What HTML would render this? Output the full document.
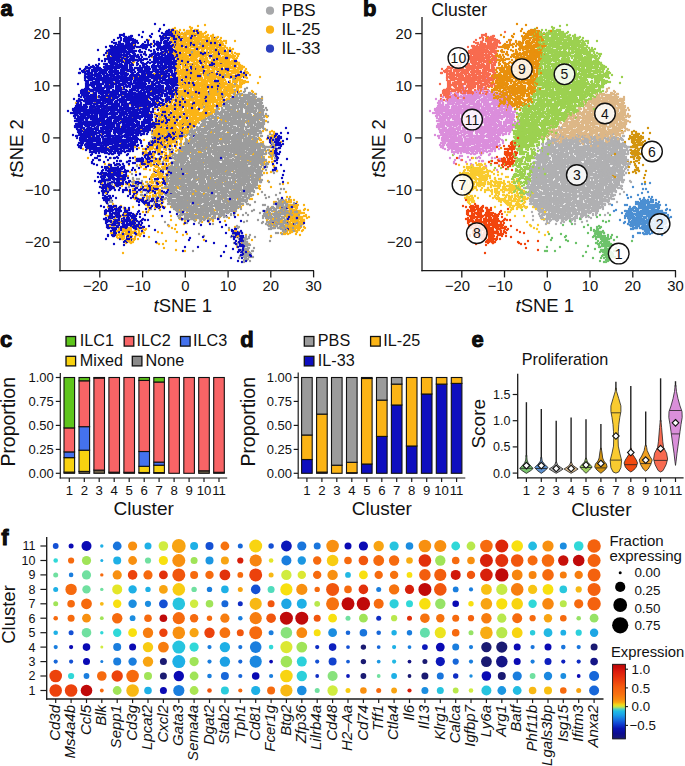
<!DOCTYPE html>
<html><head><meta charset="utf-8"><style>
html,body{margin:0;padding:0;background:#fff;}
svg{display:block;}
text{fill:#111;}
</style></head><body>
<svg width="685" height="766" viewBox="0 0 685 766" font-family="Liberation Sans, sans-serif">
<text x="0.4" y="15.6" font-size="22" text-anchor="start" font-weight="bold" stroke="#000" stroke-width="0.9">a</text>
<text x="363" y="15.6" font-size="22" text-anchor="start" font-weight="bold" stroke="#000" stroke-width="0.9">b</text>
<text x="0" y="346.6" font-size="22" text-anchor="start" font-weight="bold" stroke="#000" stroke-width="0.9">c</text>
<text x="240.2" y="346.6" font-size="22" text-anchor="start" font-weight="bold" stroke="#000" stroke-width="0.9">d</text>
<text x="471.6" y="346.6" font-size="22" text-anchor="start" font-weight="bold" stroke="#000" stroke-width="0.9">e</text>
<text x="1.2" y="545" font-size="22" text-anchor="start" font-weight="bold" stroke="#000" stroke-width="0.9">f</text>
<g fill="none" stroke-width="2.4" stroke-linecap="round"><path stroke="#fbb416" d="M191 29h0m-11 1h0m16 0h0m2 0h0m-3 1h0m-3 0h0m-15 0h0m-1 0h0m-2 0h0m0 1h0m2 0h0m3 0h0m22 0h0m-1 1h0m-8 0h0m-3 0h0m-4 0h0m-3 0h0m-4 0h0m-2 0h0m-1 0h0m-5 1h0m2 0h0m5 0h0m7 0h0m1 0h0m3 0h0m9 0h0m2 0h0m3 0h0m1 0h0m10 1h0m-20 0h0m-7 0h0m-6 0h0m-1 0h0m-1 0h0m-1 0h0m-3 0h0m-1 0h0m0 1h0m2 0h0m1 0h0m1 0h0m3 0h0m10 0h0m11 0h0m5 0h0m5 0h0m1 1h0m-5 0h0m-2 0h0m-5 0h0m-2 0h0m-3 0h0m-4 0h0m-5 0h0m-13 0h0m-2 0h0m-7 0h0m8 1h0m7 0h0m1 0h0m1 0h0m8 0h0m12 0h0m5 0h0m3 0h0m3 0h0m1 0h0m3 0h0m0 1h0m-1 0h0m-1 0h0m-13 0h0m-2 0h0m-2 0h0m-1 0h0m-2 0h0m-2 0h0m-1 0h0m-5 0h0m-8 0h0m-3 0h0m-3 0h0m-1 1h0m1 0h0m1 0h0m2 0h0m1 0h0m4 0h0m5 0h0m3 0h0m4 0h0m5 0h0m1 0h0m5 0h0m2 0h0m3 0h0m5 0h0m22 1h0m-14 0h0m-5 0h0m-2 0h0m-3 0h0m-2 0h0m-7 0h0m-3 0h0m-9 0h0m-1 0h0m-1 0h0m-3 0h0m-3 0h0m-2 0h0m-2 0h0m-6 1h0m3 0h0m2 0h0m1 0h0m3 0h0m3 0h0m7 0h0m2 0h0m1 0h0m3 0h0m18 0h0m2 0h0m4 1h0m-1 0h0m-3 0h0m-5 0h0m-1 0h0m-3 0h0m-4 0h0m-3 0h0m-4 0h0m-7 0h0m-5 0h0m-9 0h0m-24 1h0m22 0h0m1 0h0m2 0h0m10 0h0m9 0h0m3 0h0m5 0h0m3 0h0m1 0h0m3 0h0m1 0h0m8 0h0m3 1h0m-1 0h0m-2 0h0m-4 0h0m-3 0h0m-3 0h0m-9 0h0m-9 0h0m-4 0h0m-1 0h0m-3 0h0m-1 0h0m-1 0h0m-2 0h0m-5 1h0m2 0h0m5 0h0m2 0h0m3 0h0m3 0h0m1 0h0m2 0h0m2 0h0m7 0h0m2 0h0m1 0h0m1 0h0m5 0h0m4 0h0m1 0h0m9 0h0m0 1h0m-4 0h0m-1 0h0m-2 0h0m-4 0h0m-4 0h0m-9 0h0m-1 0h0m-2 0h0m-2 0h0m-5 0h0m-6 0h0m-6 0h0m-4 0h0m-7 0h0m8 1h0m2 0h0m4 0h0m5 0h0m1 0h0m10 0h0m4 0h0m2 0h0m4 0h0m9 0h0m3 0h0m3 0h0m1 0h0m9 1h0m-16 0h0m-1 0h0m-1 0h0m-2 0h0m-1 0h0m-4 0h0m-4 0h0m-2 0h0m-3 0h0m-3 0h0m-9 0h0m-3 0h0m-3 0h0m-2 0h0m-2 0h0m-11 1h0m8 0h0m2 0h0m2 0h0m1 0h0m3 0h0m4 0h0m1 0h0m1 0h0m6 0h0m4 0h0m13 0h0m5 0h0m1 0h0m2 0h0m2 0h0m3 0h0m4 0h0m3 0h0m-8 1h0m-12 0h0m-9 0h0m-10 0h0m-8 0h0m-4 0h0m-4 0h0m-1 0h0m-1 0h0m-60 1h0m20 0h0m41 0h0m12 0h0m3 0h0m2 0h0m4 0h0m1 0h0m1 0h0m3 0h0m3 0h0m6 0h0m3 0h0m2 0h0m5 0h0m2 0h0m4 0h0m6 1h0m-7 0h0m-3 0h0m-5 0h0m-1 0h0m-2 0h0m-5 0h0m-26 0h0m-4 0h0m-1 0h0m-1 0h0m-13 1h0m8 0h0m11 0h0m3 0h0m4 0h0m2 0h0m1 0h0m6 0h0m15 0h0m2 0h0m2 0h0m1 0h0m3 0h0m3 0h0m3 0h0m11 0h0m-6 1h0m-3 0h0m-13 0h0m-2 0h0m-2 0h0m-8 0h0m-3 0h0m-3 0h0m-3 0h0m-11 0h0m-3 0h0m-1 0h0m-6 0h0m-68 1h0m7 0h0m4 0h0m9 0h0m47 0h0m2 0h0m3 0h0m2 0h0m2 0h0m6 0h0m1 0h0m4 0h0m3 0h0m2 0h0m1 0h0m2 0h0m3 0h0m4 0h0m3 0h0m5 0h0m2 0h0m7 0h0m2 0h0m2 0h0m4 0h0m1 0h0m-2 1h0m-2 0h0m-4 0h0m-1 0h0m-8 0h0m-1 0h0m-2 0h0m-2 0h0m-7 0h0m-5 0h0m-4 0h0m-3 0h0m-2 0h0m-1 0h0m-5 0h0m-4 0h0m-1 0h0m-5 0h0m-1 0h0m-64 0h0m68 1h0m5 0h0m1 0h0m1 0h0m5 0h0m5 0h0m6 0h0m4 0h0m1 0h0m3 0h0m3 0h0m2 0h0m1 0h0m13 0h0m7 1h0m-2 0h0m-8 0h0m-2 0h0m-2 0h0m-15 0h0m-3 0h0m-3 0h0m-8 0h0m-3 0h0m-7 0h0m-5 0h0m-1 0h0m-49 1h0m49 0h0m3 0h0m3 0h0m1 0h0m2 0h0m5 0h0m1 0h0m5 0h0m6 0h0m1 0h0m8 0h0m8 0h0m2 0h0m1 0h0m1 0h0m3 0h0m8 1h0m-3 0h0m-3 0h0m-6 0h0m-3 0h0m-4 0h0m-3 0h0m-5 0h0m-3 0h0m-7 0h0m-1 0h0m-4 0h0m-6 0h0m-3 0h0m-3 0h0m-3 0h0m-1 0h0m-1 0h0m-1 0h0m-49 0h0m4 1h0m4 0h0m27 0h0m19 0h0m3 0h0m3 0h0m11 0h0m3 0h0m1 0h0m1 0h0m1 0h0m4 0h0m2 0h0m5 0h0m3 0h0m4 0h0m8 0h0m2 0h0m3 0h0m3 0h0m2 1h0m-3 0h0m-6 0h0m-4 0h0m-6 0h0m-15 0h0m-18 0h0m-1 0h0m-1 0h0m-9 0h0m-18 0h0m23 1h0m1 0h0m1 0h0m5 0h0m5 0h0m3 0h0m1 0h0m13 0h0m12 0h0m4 0h0m4 0h0m4 0h0m6 1h0m-1 0h0m-18 0h0m-3 0h0m-2 0h0m-22 0h0m-2 0h0m-2 0h0m-4 0h0m-9 0h0m-1 0h0m-50 1h0m52 0h0m19 0h0m2 0h0m3 0h0m2 0h0m1 0h0m12 0h0m1 0h0m3 0h0m5 0h0m1 0h0m3 0h0m4 0h0m7 0h0m3 1h0m-1 0h0m-3 0h0m-1 0h0m-3 0h0m-1 0h0m-3 0h0m-2 0h0m-3 0h0m-7 0h0m-6 0h0m-4 0h0m-4 0h0m-2 0h0m-1 0h0m-5 0h0m-2 0h0m-3 0h0m-2 0h0m-11 0h0m-2 0h0m-1 0h0m-41 1h0m42 0h0m8 0h0m2 0h0m8 0h0m6 0h0m5 0h0m2 0h0m3 0h0m13 0h0m1 0h0m1 0h0m2 0h0m3 0h0m2 0h0m6 0h0m2 0h0m4 1h0m-5 0h0m-1 0h0m-5 0h0m-1 0h0m-12 0h0m-2 0h0m-3 0h0m-8 0h0m-6 0h0m-5 0h0m-1 0h0m-31 0h0m11 1h0m1 0h0m7 0h0m4 0h0m2 0h0m2 0h0m5 0h0m2 0h0m1 0h0m7 0h0m9 0h0m7 0h0m4 0h0m10 0h0m7 1h0m-7 0h0m-3 0h0m-7 0h0m-2 0h0m-2 0h0m-1 0h0m-1 0h0m-8 0h0m-4 0h0m-4 0h0m-1 0h0m-2 0h0m-2 0h0m-4 0h0m-2 0h0m-2 0h0m-2 0h0m-1 0h0m-1 0h0m-2 0h0m-1 0h0m-4 0h0m-55 0h0m-21 0h0m-21 0h0m47 1h0m7 0h0m23 0h0m16 0h0m1 0h0m2 0h0m2 0h0m6 0h0m8 0h0m7 0h0m16 0h0m2 0h0m12 0h0m1 0h0m2 0h0m3 0h0m5 0h0m-10 1h0m-2 0h0m-1 0h0m-4 0h0m-1 0h0m-4 0h0m-1 0h0m-1 0h0m-4 0h0m-7 0h0m-2 0h0m-4 0h0m-1 0h0m-4 0h0m-5 0h0m-3 0h0m-5 0h0m-1 0h0m-2 0h0m-2 0h0m-71 1h0m44 0h0m2 0h0m19 0h0m2 0h0m1 0h0m3 0h0m2 0h0m1 0h0m4 0h0m1 0h0m2 0h0m4 0h0m2 0h0m1 0h0m2 0h0m1 0h0m10 0h0m2 0h0m1 0h0m5 0h0m10 0h0m1 0h0m1 0h0m7 0h0m4 0h0m2 0h0m2 0h0m-4 1h0m-2 0h0m-3 0h0m-11 0h0m-4 0h0m-8 0h0m-1 0h0m-6 0h0m-2 0h0m-1 0h0m-3 0h0m-4 0h0m-2 0h0m-1 0h0m-2 0h0m-2 0h0m-3 0h0m-37 0h0m32 1h0m2 0h0m3 0h0m3 0h0m10 0h0m1 0h0m9 0h0m1 0h0m4 0h0m1 0h0m3 0h0m11 0h0m3 0h0m5 0h0m6 0h0m2 1h0m-10 0h0m-2 0h0m-1 0h0m-1 0h0m-4 0h0m-2 0h0m-2 0h0m-1 0h0m-1 0h0m-4 0h0m-2 0h0m-3 0h0m-2 0h0m-1 0h0m-1 0h0m-1 0h0m-1 0h0m-1 0h0m-6 0h0m-5 0h0m-7 0h0m-2 0h0m-1 0h0m-5 0h0m-67 1h0m64 0h0m1 0h0m2 0h0m3 0h0m1 0h0m5 0h0m7 0h0m6 0h0m4 0h0m3 0h0m3 0h0m6 0h0m1 0h0m11 0h0m5 0h0m1 0h0m-3 1h0m-9 0h0m-3 0h0m-6 0h0m-5 0h0m-11 0h0m-4 0h0m-3 0h0m-2 0h0m-4 0h0m-16 0h0m-12 0h0m-16 0h0m-18 0h0m-1 1h0m62 0h0m2 0h0m6 0h0m1 0h0m7 0h0m1 0h0m2 0h0m4 0h0m7 0h0m6 0h0m4 0h0m11 0h0m9 1h0m-2 0h0m-6 0h0m-4 0h0m-15 0h0m-3 0h0m-3 0h0m-2 0h0m-2 0h0m-1 0h0m-1 0h0m-3 0h0m-5 0h0m-6 0h0m-5 0h0m-3 0h0m-73 0h0m41 1h0m31 0h0m6 0h0m4 0h0m4 0h0m5 0h0m1 0h0m4 0h0m3 0h0m1 0h0m2 0h0m2 0h0m3 0h0m5 0h0m3 0h0m7 0h0m2 0h0m2 0h0m3 0h0m8 0h0m-12 1h0m-6 0h0m-7 0h0m-6 0h0m-3 0h0m-2 0h0m-5 0h0m-4 0h0m-2 0h0m-4 0h0m-1 0h0m-5 0h0m-2 0h0m-3 0h0m-1 0h0m-70 0h0m64 1h0m3 0h0m1 0h0m2 0h0m8 0h0m6 0h0m2 0h0m10 0h0m1 0h0m1 0h0m1 0h0m2 0h0m3 0h0m5 0h0m12 0h0m6 0h0m-6 1h0m-1 0h0m-4 0h0m-3 0h0m-4 0h0m-1 0h0m-1 0h0m-2 0h0m-1 0h0m-2 0h0m-1 0h0m-3 0h0m-4 0h0m-5 0h0m-1 0h0m-2 0h0m-1 0h0m-2 0h0m-2 0h0m-4 0h0m-4 0h0m-1 0h0m-6 0h0m-1 0h0m-6 0h0m-2 0h0m-60 1h0m69 0h0m2 0h0m3 0h0m1 0h0m6 0h0m6 0h0m1 0h0m5 0h0m4 0h0m1 0h0m3 0h0m2 0h0m2 0h0m3 0h0m2 0h0m10 0h0m9 0h0m0 1h0m-1 0h0m-1 0h0m-7 0h0m-4 0h0m-1 0h0m-1 0h0m-3 0h0m-11 0h0m-2 0h0m-1 0h0m-3 0h0m-1 0h0m-1 0h0m-5 0h0m-5 0h0m-4 0h0m-2 0h0m-1 0h0m-5 0h0m-1 0h0m-36 0h0m33 1h0m3 0h0m14 0h0m3 0h0m7 0h0m1 0h0m7 0h0m2 0h0m2 0h0m5 0h0m3 0h0m2 0h0m3 0h0m1 0h0m1 0h0m5 0h0m1 1h0m-10 0h0m-1 0h0m-6 0h0m-1 0h0m-13 0h0m-1 0h0m-4 0h0m-1 0h0m-1 0h0m-1 0h0m-1 0h0m-1 0h0m-2 0h0m-1 0h0m-21 0h0m-6 0h0m-4 0h0m-55 1h0m57 0h0m6 0h0m2 0h0m5 0h0m8 0h0m2 0h0m13 0h0m1 0h0m3 0h0m1 0h0m9 0h0m1 0h0m2 0h0m3 0h0m12 0h0m5 0h0m3 1h0m-7 0h0m-14 0h0m-2 0h0m-4 0h0m-2 0h0m-8 0h0m-3 0h0m-3 0h0m-7 0h0m-6 0h0m-6 0h0m-56 1h0m56 0h0m1 0h0m2 0h0m7 0h0m3 0h0m1 0h0m1 0h0m4 0h0m6 0h0m2 0h0m1 0h0m3 0h0m5 0h0m3 0h0m2 0h0m6 0h0m4 0h0m2 0h0m3 0h0m3 1h0m-26 0h0m-3 0h0m-1 0h0m-6 0h0m-4 0h0m-1 0h0m-5 0h0m-5 0h0m-1 0h0m-1 0h0m-3 0h0m-24 0h0m-19 0h0m-46 1h0m19 0h0m49 0h0m17 0h0m1 0h0m1 0h0m3 0h0m2 0h0m2 0h0m5 0h0m2 0h0m2 0h0m4 0h0m4 0h0m1 0h0m12 0h0m11 0h0m7 0h0m3 0h0m-8 1h0m-2 0h0m-1 0h0m-5 0h0m-3 0h0m-1 0h0m-6 0h0m-2 0h0m-2 0h0m-1 0h0m-3 0h0m-3 0h0m-4 0h0m-1 0h0m-2 0h0m-1 0h0m-1 0h0m-2 0h0m-2 0h0m-1 0h0m-6 0h0m-6 0h0m-2 0h0m-14 0h0m-37 0h0m-11 0h0m-18 1h0m43 0h0m35 0h0m5 0h0m3 0h0m1 0h0m1 0h0m10 0h0m12 0h0m4 0h0m16 0h0m5 0h0m3 0h0m1 1h0m-9 0h0m-2 0h0m-1 0h0m-1 0h0m-1 0h0m-4 0h0m-1 0h0m-2 0h0m-10 0h0m-2 0h0m-8 0h0m-1 0h0m-2 0h0m-77 1h0m67 0h0m1 0h0m3 0h0m3 0h0m5 0h0m4 0h0m1 0h0m2 0h0m11 0h0m2 0h0m5 0h0m18 0h0m22 1h0m-28 0h0m-8 0h0m-7 0h0m-3 0h0m-2 0h0m-1 0h0m-3 0h0m-2 0h0m-5 0h0m-1 0h0m-13 0h0m-3 0h0m-5 1h0m5 0h0m5 0h0m2 0h0m2 0h0m2 0h0m1 0h0m2 0h0m3 0h0m5 0h0m3 0h0m2 0h0m3 0h0m2 0h0m1 0h0m1 0h0m1 0h0m4 0h0m7 0h0m13 1h0m-11 0h0m-11 0h0m-1 0h0m-7 0h0m-6 0h0m-2 0h0m-4 0h0m-8 0h0m-6 0h0m-5 0h0m-8 0h0m-62 0h0m29 1h0m20 0h0m14 0h0m6 0h0m1 0h0m1 0h0m4 0h0m3 0h0m3 0h0m5 0h0m1 0h0m4 0h0m1 0h0m4 0h0m1 0h0m6 0h0m2 0h0m1 0h0m1 0h0m2 0h0m4 0h0m2 0h0m-12 1h0m-5 0h0m-3 0h0m-1 0h0m-4 0h0m-8 0h0m-4 0h0m-6 0h0m-1 0h0m-2 0h0m-5 0h0m-1 0h0m-34 0h0m-60 0h0m95 1h0m3 0h0m6 0h0m3 0h0m1 0h0m1 0h0m2 0h0m3 0h0m1 0h0m3 0h0m1 0h0m1 0h0m1 0h0m1 0h0m7 0h0m2 0h0m6 0h0m5 0h0m1 0h0m-5 1h0m-6 0h0m-1 0h0m-4 0h0m-1 0h0m-4 0h0m-3 0h0m-3 0h0m-4 0h0m-1 0h0m-7 0h0m-3 0h0m-3 0h0m-8 0h0m-21 1h0m5 0h0m14 0h0m4 0h0m3 0h0m2 0h0m4 0h0m2 0h0m4 0h0m3 0h0m3 0h0m3 0h0m1 0h0m6 0h0m7 0h0m4 0h0m4 0h0m5 0h0m5 0h0m28 0h0m-44 1h0m-17 0h0m-1 0h0m-8 0h0m-1 0h0m-1 0h0m-1 0h0m-3 0h0m-8 0h0m-5 0h0m-4 1h0m3 0h0m2 0h0m3 0h0m1 0h0m5 0h0m8 0h0m5 0h0m4 0h0m2 0h0m3 0h0m13 0h0m1 0h0m8 0h0m39 1h0m-24 0h0m-13 0h0m-6 0h0m-8 0h0m-7 0h0m-4 0h0m-2 0h0m-2 0h0m-5 0h0m-3 0h0m-8 0h0m-2 0h0m-3 0h0m-5 0h0m-3 0h0m-14 1h0m20 0h0m6 0h0m5 0h0m7 0h0m2 0h0m3 0h0m66 1h0m-45 0h0m-5 0h0m-1 0h0m-7 0h0m-6 0h0m-1 0h0m-3 0h0m-15 0h0m-6 0h0m-2 0h0m-4 0h0m-71 0h0m39 1h0m33 0h0m4 0h0m1 0h0m1 0h0m1 0h0m4 0h0m5 0h0m3 0h0m1 0h0m4 0h0m1 0h0m5 0h0m1 0h0m2 0h0m2 0h0m1 0h0m5 0h0m2 0h0m9 0h0m19 0h0m-24 1h0m-5 0h0m-1 0h0m-2 0h0m-2 0h0m-1 0h0m-3 0h0m-2 0h0m-3 0h0m-1 0h0m-1 0h0m-1 0h0m-1 0h0m-3 0h0m-1 0h0m-4 0h0m-2 0h0m-1 0h0m-1 0h0m-9 0h0m-6 0h0m2 1h0m1 0h0m4 0h0m7 0h0m1 0h0m1 0h0m1 0h0m4 0h0m1 0h0m3 0h0m1 0h0m5 0h0m6 0h0m4 0h0m1 0h0m3 0h0m2 0h0m35 0h0m-6 1h0m-26 0h0m-4 0h0m-1 0h0m-9 0h0m-3 0h0m-6 0h0m-1 0h0m-4 0h0m-7 0h0m-2 0h0m-8 0h0m-4 0h0m-2 0h0m-25 1h0m28 0h0m2 0h0m2 0h0m4 0h0m4 0h0m4 0h0m2 0h0m7 0h0m1 0h0m1 0h0m12 0h0m1 0h0m1 0h0m3 0h0m2 0h0m1 0h0m3 0h0m43 0h0m-24 1h0m-27 0h0m-2 0h0m-19 0h0m-6 0h0m-14 0h0m-7 0h0m-22 0h0m-43 0h0m66 1h0m3 0h0m1 0h0m1 0h0m8 0h0m2 0h0m5 0h0m14 0h0m1 0h0m5 0h0m7 0h0m5 0h0m6 0h0m46 1h0m-16 0h0m-14 0h0m-26 0h0m-3 0h0m-9 0h0m-6 0h0m-1 0h0m-8 0h0m-5 0h0m-2 0h0m-6 0h0m-4 0h0m-4 0h0m-78 1h0m81 0h0m2 0h0m1 0h0m1 0h0m13 0h0m7 0h0m2 0h0m7 0h0m7 0h0m3 1h0m-6 0h0m-3 0h0m-1 0h0m-2 0h0m-2 0h0m-3 0h0m-5 0h0m-4 0h0m-1 0h0m-1 0h0m-2 0h0m-2 0h0m-4 0h0m-2 0h0m-2 0h0m-1 0h0m-1 0h0m-43 0h0m-8 0h0m47 1h0m1 0h0m2 0h0m3 0h0m2 0h0m1 0h0m5 0h0m1 0h0m1 0h0m5 0h0m6 0h0m2 0h0m2 0h0m9 0h0m2 0h0m37 0h0m9 0h0m2 0h0m-54 1h0m-1 0h0m-2 0h0m-2 0h0m-1 0h0m-8 0h0m-6 0h0m-3 0h0m-3 0h0m-2 0h0m-9 1h0m2 0h0m3 0h0m7 0h0m3 0h0m2 0h0m3 0h0m5 0h0m4 0h0m4 0h0m3 0h0m59 0h0m-1 1h0m-58 0h0m-2 0h0m-3 0h0m-7 0h0m-3 0h0m-1 0h0m-5 0h0m-1 0h0m-5 0h0m-4 0h0m-5 0h0m-1 0h0m-35 0h0m-5 1h0m42 0h0m4 0h0m6 0h0m3 0h0m1 0h0m1 0h0m8 0h0m10 0h0m6 0h0m9 0h0m35 0h0m-45 1h0m-4 0h0m-1 0h0m-8 0h0m-6 0h0m-1 0h0m-1 0h0m-5 0h0m-8 0h0m-3 0h0m-2 0h0m-35 0h0m-32 0h0m-6 1h0m72 0h0m2 0h0m1 0h0m1 0h0m11 0h0m2 0h0m1 0h0m2 0h0m1 0h0m1 0h0m10 0h0m2 0h0m4 0h0m73 1h0m-22 0h0m-58 0h0m-4 0h0m-1 0h0m-3 0h0m-6 0h0m-5 0h0m-1 0h0m-3 0h0m-1 0h0m-2 0h0m-49 1h0m38 0h0m16 0h0m3 0h0m1 0h0m1 0h0m3 0h0m3 0h0m7 0h0m6 0h0m4 0h0m74 0h0m6 1h0m-9 0h0m-73 0h0m-1 0h0m-1 0h0m-2 0h0m-2 0h0m-4 0h0m-3 0h0m-3 0h0m-1 0h0m-4 0h0m-6 0h0m-5 0h0m-5 0h0m-1 0h0m10 1h0m2 0h0m1 0h0m4 0h0m2 0h0m6 0h0m5 0h0m2 0h0m5 0h0m1 0h0m24 0h0m60 0h0m-25 1h0m-7 0h0m-57 0h0m-6 0h0m-5 0h0m-1 0h0m-2 0h0m-2 0h0m-1 0h0m-2 0h0m-1 0h0m-1 0h0m-4 0h0m-1 0h0m-2 0h0m-55 1h0m50 0h0m3 0h0m2 0h0m1 0h0m6 0h0m3 0h0m3 0h0m3 0h0m2 0h0m5 0h0m7 0h0m31 0h0m9 0h0m20 0h0m29 1h0m-22 0h0m-13 0h0m-40 0h0m-17 0h0m-1 0h0m-1 0h0m-2 0h0m-2 0h0m-3 0h0m-3 0h0m-4 0h0m-6 0h0m-1 0h0m-4 0h0m-2 0h0m-1 0h0m0 1h0m1 0h0m1 0h0m5 0h0m4 0h0m1 0h0m1 0h0m2 0h0m4 0h0m6 0h0m2 0h0m2 0h0m71 0h0m19 0h0m1 1h0m-4 0h0m-91 0h0m-6 0h0m-5 0h0m-1 0h0m-32 0h0m-25 0h0m26 1h0m21 0h0m1 0h0m1 0h0m3 0h0m1 0h0m3 0h0m1 0h0m2 0h0m1 0h0m1 0h0m2 0h0m7 0h0m66 0h0m6 0h0m7 0h0m14 0h0m0 1h0m-3 0h0m-3 0h0m-11 0h0m-9 0h0m-34 0h0m-31 0h0m-5 0h0m-7 0h0m-2 0h0m-3 0h0m-1 0h0m-1 0h0m-1 0h0m-1 0h0m-1 0h0m-5 0h0m-71 1h0m74 0h0m2 0h0m6 0h0m1 0h0m7 0h0m1 0h0m44 0h0m18 0h0m7 0h0m17 0h0m10 0h0m1 1h0m-2 0h0m-13 0h0m-10 0h0m-57 0h0m-15 0h0m-6 0h0m-3 0h0m-3 0h0m-8 0h0m-2 0h0m-32 1h0m29 0h0m1 0h0m4 0h0m1 0h0m6 0h0m1 0h0m2 0h0m4 0h0m4 0h0m1 0h0m3 0h0m15 0h0m5 0h0m60 0h0m24 0h0m-8 1h0m-12 0h0m-70 0h0m-14 0h0m-6 0h0m-1 0h0m-1 0h0m-1 0h0m-4 0h0m-2 0h0m-2 0h0m-1 0h0m-52 1h0m43 0h0m10 0h0m2 0h0m2 0h0m4 0h0m3 0h0m9 0h0m4 0h0m66 0h0m13 0h0m12 1h0m-88 0h0m-12 0h0m-9 0h0m-2 0h0m-1 0h0m-7 0h0m-50 1h0m9 0h0m13 0h0m25 0h0m5 0h0m2 0h0m1 0h0m4 0h0m1 0h0m3 0h0m1 0h0m1 0h0m83 0h0m20 1h0m-9 0h0m-99 0h0m-2 0h0m-6 0h0m-6 0h0m-2 0h0m-2 0h0m-23 0h0m-45 0h0m70 1h0m2 0h0m5 0h0m19 0h0m82 0h0m0 1h0m-89 0h0m-5 0h0m-9 0h0m-7 0h0m-3 0h0m-2 0h0m-24 0h0m-32 0h0m-4 0h0m63 1h0m10 0h0m2 0h0m112 1h0m-4 0h0m-3 0h0m-105 0h0m-12 1h0m18 0h0m75 0h0m34 0h0m1 0h0m-8 1h0m-49 0h0m-46 0h0m-5 0h0m-11 0h0m-5 0h0m-2 0h0m-3 1h0m1 0h0m3 0h0m2 0h0m9 0h0m10 0h0m2 0h0m8 0h0m56 0h0m30 0h0m10 1h0m-2 0h0m-2 0h0m-26 0h0m-36 0h0m-45 0h0m-16 0h0m-3 0h0m6 1h0m15 0h0m2 0h0m65 0h0m35 1h0m-5 0h0m-8 0h0m-73 0h0m-1 0h0m-14 0h0m-6 0h0m-74 1h0m62 0h0m3 0h0m1 0h0m1 0h0m6 0h0m7 0h0m4 0h0m100 0h0m-113 1h0m-9 0h0m6 1h0m1 0h0m7 0h0m2 0h0m2 0h0m8 0h0m9 0h0m10 0h0m30 0h0m23 0h0m-80 1h0m-14 0h0m-4 0h0m-9 1h0m6 0h0m4 0h0m118 0h0m3 0h0m-91 1h0m-10 0h0m-17 0h0m-9 0h0m-1 0h0m-2 0h0m-37 1h0m4 0h0m40 0h0m2 0h0m7 0h0m1 0h0m10 0h0m3 0h0m89 0h0m-95 1h0m-12 0h0m-3 0h0m-8 0h0m-6 0h0m-8 0h0m26 1h0m3 0h0m13 0h0m27 0h0m43 0h0m33 0h0m-10 1h0m-85 0h0m-9 0h0m-29 0h0m25 1h0m11 0h0m43 0h0m30 0h0m13 1h0m-97 0h0m-6 0h0m-14 0h0m-37 1h0m11 0h0m48 0h0m3 0h0m56 0h0m46 1h0m-40 0h0m-64 0h0m-15 0h0m-24 1h0m38 0h0m2 0h0m101 0h0m-108 1h0m-3 0h0m-1 0h0m-1 0h0m-4 1h0m13 0h0m5 0h0m15 0h0m16 0h0m8 0h0m-52 1h0m-5 0h0m-43 1h0m17 0h0m28 0h0m6 0h0m6 0h0m14 0h0m69 0h0m1 1h0m-4 0h0m-31 0h0m-39 0h0m-14 0h0m-5 0h0m-8 0h0m-5 0h0m12 1h0m1 0h0m2 0h0m3 0h0m8 0h0m2 0h0m69 1h0m-3 0h0m-72 0h0m-2 0h0m-14 1h0m5 0h0m77 0h0m18 0h0m6 0h0m-1 1h0m-40 0h0m-49 0h0m-11 0h0m-18 1h0m14 0h0m6 0h0m3 0h0m25 0h0m29 0h0m3 0h0m7 0h0m9 0h0m-10 1h0m-69 0h0m-14 0h0m-9 1h0m3 0h0m147 0h0m-41 1h0m-71 0h0m-9 0h0m-5 0h0m-7 0h0m-35 0h0m-10 0h0m49 1h0m3 0h0m3 0h0m21 0h0m-24 1h0m-3 0h0m-40 0h0m-12 0h0m6 1h0m43 0h0m12 0h0m1 0h0m33 0h0m51 0h0m-14 1h0m-76 0h0m-10 0h0m-39 1h0m43 0h0m1 0h0m3 0h0m2 0h0m1 0h0m69 1h0m-22 0h0m-11 0h0m-35 0h0m-7 0h0m-24 0h0m23 1h0m7 0h0m3 0h0m8 0h0m116 0h0m-50 1h0m-52 0h0m-21 0h0m-5 0h0m-21 1h0m23 0h0m2 0h0m76 0h0m14 1h0m-44 0h0m-52 0h0m-14 0h0m5 1h0m6 0h0m70 0h0m67 1h0m-3 0h0m-138 0h0m-5 0h0m-10 1h0m48 0h0m11 0h0m59 1h0m-2 0h0m-85 0h0m-3 0h0m-20 0h0m-5 0h0m-2 0h0m12 1h0m41 0h0m98 0h0m3 0h0m2 0h0m-60 1h0m-51 0h0m-28 0h0m-7 0h0m-1 0h0m-5 0h0m5 1h0m83 0h0m47 0h0m2 0h0m3 0h0m7 0h0m11 0h0m-11 1h0m-5 0h0m-81 0h0m-31 0h0m-22 0h0m-34 1h0m164 0h0m17 0h0m1 1h0m-2 0h0m-10 0h0m-5 0h0m-52 0h0m-28 0h0m-50 0h0m-33 1h0m47 0h0m18 0h0m53 0h0m54 0h0m3 0h0m4 0h0m3 1h0m-1 0h0m-2 0h0m-2 0h0m-2 0h0m-1 0h0m-1 0h0m-1 0h0m-1 0h0m-6 0h0m-41 0h0m-17 0h0m-12 0h0m-45 0h0m-2 0h0m-15 0h0m-15 0h0m17 1h0m30 0h0m91 0h0m6 0h0m10 0h0m2 0h0m1 0h0m6 0h0m1 0h0m-64 2h0m37 0h0m5 0h0m6 0h0m11 0h0m2 0h0m2 0h0m8 0h0m-4 1h0m-3 0h0m-1 0h0m-1 0h0m-6 0h0m-2 0h0m-4 0h0m-7 0h0m-151 0h0m-18 0h0m-1 1h0m13 0h0m27 0h0m33 0h0m8 0h0m92 0h0m4 0h0m6 0h0m2 0h0m1 0h0m2 0h0m8 1h0m-10 0h0m-2 0h0m-2 0h0m-9 0h0m-77 1h0m67 0h0m1 0h0m17 0h0m2 0h0m1 0h0m2 0h0m2 0h0m1 0h0m2 0h0m1 0h0m1 0h0m0 1h0m-2 0h0m-4 0h0m-13 0h0m-174 0h0m15 1h0m4 0h0m7 0h0m21 0h0m18 0h0m109 0h0m6 0h0m4 0h0m14 0h0m2 0h0m-4 1h0m-2 0h0m-1 0h0m-1 0h0m-3 0h0m-7 0h0m-20 0h0m-55 0h0m-9 0h0m-70 0h0m-6 0h0m-1 0h0m-3 0h0m-4 0h0m-5 0h0m-3 1h0m17 0h0m89 0h0m11 0h0m58 0h0m1 0h0m3 0h0m1 0h0m2 0h0m1 0h0m6 0h0m6 0h0m-11 1h0m-2 0h0m-1 0h0m-2 0h0m-2 0h0m-7 0h0m-71 0h0m-15 1h0m17 0h0m58 0h0m3 0h0m7 0h0m4 0h0m2 0h0m1 0h0m4 0h0m1 0h0m3 0h0m2 0h0m6 0h0m0 1h0m-1 0h0m-1 0h0m-6 0h0m-1 0h0m-2 0h0m-5 0h0m-8 0h0m-1 0h0m-54 0h0m-12 0h0m-5 0h0m-96 1h0m2 0h0m5 0h0m90 0h0m77 0h0m1 0h0m3 0h0m3 0h0m4 0h0m2 0h0m1 0h0m4 1h0m-3 0h0m-2 0h0m-2 0h0m-1 0h0m-1 0h0m-1 0h0m-4 0h0m-1 0h0m-4 0h0m-4 0h0m-158 0h0m-11 0h0m23 1h0m4 0h0m45 0h0m96 0h0m12 0h0m8 0h0m2 0h0m1 0h0m-2 1h0m-6 0h0m-1 0h0m-3 0h0m-1 0h0m-2 0h0m-20 0h0m-128 0h0m-6 0h0m-10 1h0m12 0h0m4 0h0m144 0h0m4 0h0m1 0h0m3 0h0m3 0h0m1 0h0m2 0h0m1 0h0m5 1h0m-3 0h0m-3 0h0m-3 0h0m-2 0h0m-2 0h0m-10 0h0m-6 0h0m-40 0h0m-128 0h0m12 1h0m4 0h0m2 0h0m154 0h0m6 0h0m3 0h0m3 0h0m2 0h0m4 0h0m2 0h0m-6 1h0m-1 0h0m-1 0h0m-7 0h0m-109 0h0m-29 0h0m-3 0h0m-5 0h0m-8 0h0m-5 0h0m-1 0h0m-3 0h0m-2 0h0m-3 0h0m3 1h0m3 0h0m3 0h0m6 0h0m4 0h0m10 0h0m140 0h0m3 0h0m4 0h0m2 0h0m9 0h0m-7 1h0m-5 0h0m-1 0h0m-4 0h0m-151 0h0m-19 1h0m3 0h0m4 0h0m6 0h0m3 0h0m1 0h0m3 0h0m3 0h0m3 0h0m16 0h0m81 0h0m45 1h0m-140 0h0m-10 0h0m-4 0h0m-19 0h0m8 1h0m3 0h0m1 0h0m1 0h0m2 0h0m1 0h0m2 0h0m2 0h0m6 0h0m2 0h0m48 0h0m109 0h0m-50 1h0m-63 0h0m-54 0h0m-12 0h0m0 1h0m7 0h0m16 0h0m97 1h0m-88 0h0m-14 0h0m-6 0h0m-12 0h0m7 1h0m5 0h0m2 0h0m4 0h0m107 1h0m-107 0h0m-2 0h0m-4 0h0m-6 0h0m3 1h0m5 0h0m3 0h0m111 0h0m0 1h0m-117 0h0m-2 0h0m4 1h0m117 1h0m-90 0h0m-26 0h0m-5 0h0m37 1h0m79 1h0m-5 2h0m-73 1h0m75 2h0m8 0h0m-5 2h0m-119 1h0"/><path stroke="#9c9c9c" d="M186 33h0m31 5h0m-13 16h0m-26 1h0m35 1h0m12 19h0m-37 4h0m55 4h0m-44 0h0m34 3h0m-28 1h0m-15 0h0m30 1h0m25 1h0m0 2h0m-19 0h0m-8 1h0m26 0h0m-10 1h0m5 1h0m3 0h0m9 0h0m5 0h0m-7 1h0m-1 0h0m-8 0h0m-17 0h0m13 1h0m4 0h0m5 0h0m1 0h0m3 0h0m4 0h0m9 1h0m-7 0h0m-1 0h0m-3 0h0m-4 0h0m-3 0h0m-12 0h0m2 1h0m3 0h0m1 0h0m1 0h0m2 0h0m2 0h0m1 0h0m1 0h0m4 0h0m1 0h0m3 0h0m9 0h0m-1 1h0m-2 0h0m-5 0h0m-1 0h0m-1 0h0m-5 0h0m-1 0h0m-2 0h0m-3 0h0m-3 0h0m-4 0h0m-3 0h0m-8 1h0m9 0h0m9 0h0m1 0h0m1 0h0m1 0h0m1 0h0m4 0h0m5 0h0m3 0h0m4 1h0m-5 0h0m-2 0h0m-1 0h0m-2 0h0m-3 0h0m-7 0h0m-6 0h0m-1 0h0m-5 0h0m-2 0h0m2 1h0m11 0h0m3 0h0m1 0h0m2 0h0m1 0h0m2 0h0m1 0h0m2 0h0m3 0h0m5 0h0m1 0h0m1 1h0m-1 0h0m-1 0h0m-8 0h0m-2 0h0m-1 0h0m-2 0h0m-6 0h0m-4 0h0m-6 0h0m-1 0h0m-5 1h0m1 0h0m9 0h0m6 0h0m2 0h0m6 0h0m2 0h0m5 0h0m2 0h0m2 0h0m-1 1h0m-7 0h0m-1 0h0m-11 0h0m-13 0h0m-1 0h0m-4 0h0m3 1h0m2 0h0m1 0h0m5 0h0m2 0h0m3 0h0m2 0h0m1 0h0m9 0h0m3 0h0m5 0h0m3 0h0m1 1h0m-1 0h0m-1 0h0m-1 0h0m-7 0h0m-3 0h0m-1 0h0m-2 0h0m-5 0h0m-1 0h0m-3 0h0m-3 0h0m-1 0h0m-1 0h0m-6 0h0m-8 1h0m9 0h0m2 0h0m1 0h0m6 0h0m2 0h0m8 0h0m1 0h0m2 0h0m5 0h0m1 0h0m1 0h0m5 0h0m1 0h0m-6 1h0m-8 0h0m-6 0h0m-1 0h0m-7 0h0m-6 0h0m-2 0h0m-3 1h0m7 0h0m3 0h0m5 0h0m8 0h0m3 0h0m1 0h0m2 0h0m1 0h0m3 0h0m8 0h0m3 0h0m-4 1h0m-2 0h0m-6 0h0m-5 0h0m-1 0h0m-2 0h0m-1 0h0m-6 0h0m-5 0h0m-4 0h0m-1 0h0m-6 0h0m-6 1h0m8 0h0m1 0h0m1 0h0m8 0h0m6 0h0m17 0h0m4 1h0m-3 0h0m-1 0h0m-1 0h0m-8 0h0m-3 0h0m-5 0h0m-2 0h0m-2 0h0m-3 0h0m-1 0h0m-3 0h0m-12 0h0m-3 0h0m-5 0h0m-5 0h0m9 1h0m3 0h0m1 0h0m6 0h0m4 0h0m7 0h0m2 0h0m1 0h0m4 0h0m19 0h0m1 1h0m-4 0h0m-3 0h0m-9 0h0m-1 0h0m-3 0h0m-3 0h0m-4 0h0m-3 0h0m-1 0h0m-1 0h0m-2 0h0m-1 0h0m-2 0h0m-1 0h0m-3 0h0m-2 0h0m-8 0h0m-8 0h0m7 1h0m11 0h0m3 0h0m3 0h0m7 0h0m8 0h0m1 0h0m6 0h0m9 0h0m2 0h0m4 0h0m3 0h0m-19 1h0m-4 0h0m-3 0h0m-1 0h0m-1 0h0m-2 0h0m-4 0h0m-4 0h0m-2 0h0m-10 0h0m-2 0h0m-7 0h0m-4 0h0m-39 0h0m46 1h0m5 0h0m6 0h0m2 0h0m1 0h0m1 0h0m2 0h0m2 0h0m2 0h0m3 0h0m2 0h0m5 0h0m6 0h0m1 0h0m3 0h0m2 0h0m1 0h0m1 0h0m1 0h0m3 0h0m-5 1h0m-12 0h0m-1 0h0m-3 0h0m-1 0h0m-3 0h0m-15 0h0m-6 0h0m-5 0h0m-1 0h0m-7 1h0m15 0h0m6 0h0m1 0h0m2 0h0m7 0h0m7 0h0m3 0h0m1 0h0m5 0h0m2 0h0m10 0h0m1 0h0m2 0h0m0 1h0m-9 0h0m-7 0h0m-6 0h0m-1 0h0m-5 0h0m-1 0h0m-4 0h0m-5 0h0m-1 0h0m-3 0h0m-7 0h0m-1 0h0m-26 1h0m15 0h0m3 0h0m3 0h0m2 0h0m5 0h0m5 0h0m1 0h0m2 0h0m1 0h0m1 0h0m1 0h0m5 0h0m4 0h0m6 0h0m2 0h0m5 0h0m5 0h0m5 0h0m5 1h0m-6 0h0m-4 0h0m-2 0h0m-1 0h0m-2 0h0m-5 0h0m-3 0h0m-2 0h0m-1 0h0m-1 0h0m-6 0h0m-5 0h0m-4 0h0m-2 0h0m-6 0h0m-4 0h0m-1 0h0m-10 0h0m-15 1h0m24 0h0m2 0h0m2 0h0m1 0h0m4 0h0m13 0h0m1 0h0m4 0h0m1 0h0m3 0h0m5 0h0m7 0h0m1 0h0m3 0h0m1 0h0m1 0h0m2 0h0m-2 1h0m-2 0h0m-17 0h0m-6 0h0m-6 0h0m-2 0h0m-4 0h0m-2 0h0m-7 0h0m-3 0h0m-4 0h0m-3 0h0m-50 0h0m42 1h0m14 0h0m2 0h0m3 0h0m4 0h0m3 0h0m1 0h0m4 0h0m2 0h0m2 0h0m3 0h0m9 0h0m3 0h0m1 0h0m5 0h0m1 0h0m2 0h0m7 0h0m3 0h0m1 0h0m-2 1h0m-1 0h0m-1 0h0m-1 0h0m-1 0h0m-6 0h0m-5 0h0m-5 0h0m-6 0h0m-2 0h0m-1 0h0m-8 0h0m-1 0h0m-3 0h0m-3 0h0m-1 0h0m-3 0h0m-1 0h0m-2 0h0m-1 0h0m-9 0h0m-3 0h0m1 1h0m7 0h0m13 0h0m4 0h0m1 0h0m4 0h0m3 0h0m1 0h0m5 0h0m5 0h0m2 0h0m8 0h0m3 0h0m1 0h0m2 0h0m1 0h0m6 1h0m-12 0h0m-1 0h0m-5 0h0m-6 0h0m-4 0h0m-9 0h0m-1 0h0m-1 0h0m-6 0h0m-2 0h0m-1 0h0m-6 0h0m-1 0h0m-1 0h0m-1 0h0m-5 0h0m-2 0h0m-1 0h0m-2 0h0m1 1h0m3 0h0m3 0h0m1 0h0m2 0h0m5 0h0m1 0h0m3 0h0m3 0h0m1 0h0m11 0h0m2 0h0m1 0h0m15 0h0m5 0h0m2 0h0m1 0h0m3 1h0m-1 0h0m-3 0h0m-3 0h0m-1 0h0m-2 0h0m-3 0h0m-3 0h0m-3 0h0m-6 0h0m-4 0h0m-3 0h0m-9 0h0m-1 0h0m-2 0h0m-1 0h0m-1 0h0m-3 0h0m-17 0h0m-2 0h0m-2 0h0m0 1h0m2 0h0m6 0h0m1 0h0m4 0h0m3 0h0m12 0h0m6 0h0m10 0h0m1 0h0m6 0h0m4 0h0m1 0h0m2 0h0m1 0h0m1 0h0m11 1h0m-5 0h0m-1 0h0m-1 0h0m-2 0h0m-2 0h0m-7 0h0m-2 0h0m-1 0h0m-1 0h0m-7 0h0m-1 0h0m-1 0h0m-8 0h0m-3 0h0m-2 0h0m-1 0h0m-3 0h0m-1 0h0m-1 0h0m-7 0h0m-11 0h0m-1 0h0m8 1h0m1 0h0m2 0h0m5 0h0m1 0h0m2 0h0m7 0h0m1 0h0m2 0h0m5 0h0m2 0h0m1 0h0m1 0h0m5 0h0m3 0h0m2 0h0m5 0h0m1 0h0m5 0h0m7 0h0m18 0h0m-4 1h0m-16 0h0m-6 0h0m-5 0h0m-4 0h0m-3 0h0m-1 0h0m-20 0h0m-1 0h0m-3 0h0m-1 0h0m-1 0h0m-10 0h0m-3 0h0m-8 0h0m-3 0h0m-5 0h0m-18 1h0m33 0h0m5 0h0m2 0h0m5 0h0m1 0h0m4 0h0m2 0h0m1 0h0m4 0h0m5 0h0m4 0h0m3 0h0m10 0h0m1 0h0m2 0h0m3 0h0m5 0h0m0 1h0m-3 0h0m-2 0h0m-3 0h0m-4 0h0m-2 0h0m-3 0h0m-3 0h0m-1 0h0m-1 0h0m-1 0h0m-1 0h0m-3 0h0m-1 0h0m-4 0h0m-1 0h0m-4 0h0m-1 0h0m-2 0h0m-4 0h0m-1 0h0m-2 0h0m-1 0h0m-2 0h0m-1 0h0m-3 0h0m-1 0h0m-4 0h0m-28 1h0m25 0h0m3 0h0m1 0h0m1 0h0m1 0h0m1 0h0m2 0h0m3 0h0m3 0h0m2 0h0m2 0h0m2 0h0m9 0h0m5 0h0m5 0h0m2 0h0m1 0h0m1 0h0m4 0h0m1 0h0m2 0h0m3 0h0m1 0h0m1 0h0m1 0h0m2 0h0m4 0h0m1 0h0m17 0h0m-15 1h0m-9 0h0m-5 0h0m-5 0h0m-8 0h0m-7 0h0m-3 0h0m-6 0h0m-2 0h0m-2 0h0m-1 0h0m-3 0h0m-9 0h0m-1 0h0m-2 0h0m-1 0h0m-2 0h0m-2 0h0m-3 1h0m3 0h0m1 0h0m1 0h0m1 0h0m9 0h0m3 0h0m2 0h0m2 0h0m2 0h0m3 0h0m2 0h0m1 0h0m5 0h0m10 0h0m2 0h0m2 0h0m1 0h0m1 0h0m2 0h0m1 0h0m4 0h0m1 0h0m1 0h0m6 0h0m21 0h0m-19 1h0m-2 0h0m-2 0h0m-2 0h0m-1 0h0m-1 0h0m-2 0h0m-1 0h0m-3 0h0m-4 0h0m-2 0h0m-3 0h0m-3 0h0m-7 0h0m-1 0h0m-1 0h0m-5 0h0m-1 0h0m-4 0h0m-2 0h0m-5 0h0m-7 0h0m-8 0h0m-19 0h0m-18 0h0m40 1h0m1 0h0m5 0h0m1 0h0m3 0h0m1 0h0m3 0h0m4 0h0m1 0h0m7 0h0m4 0h0m7 0h0m6 0h0m3 0h0m2 0h0m6 0h0m2 0h0m1 0h0m6 0h0m0 1h0m-3 0h0m-1 0h0m-2 0h0m-1 0h0m-1 0h0m-1 0h0m-1 0h0m-1 0h0m-1 0h0m-1 0h0m-1 0h0m-1 0h0m-7 0h0m-5 0h0m-2 0h0m-3 0h0m-1 0h0m-1 0h0m-3 0h0m-2 0h0m-1 0h0m-7 0h0m-5 0h0m-1 0h0m-1 0h0m-1 0h0m-1 0h0m-6 0h0m-3 0h0m-1 0h0m-3 0h0m-4 1h0m9 0h0m5 0h0m4 0h0m1 0h0m8 0h0m6 0h0m7 0h0m1 0h0m4 0h0m8 0h0m3 0h0m1 0h0m9 0h0m1 0h0m2 0h0m8 0h0m4 0h0m1 0h0m-2 1h0m-6 0h0m-3 0h0m-2 0h0m-1 0h0m-3 0h0m-4 0h0m-10 0h0m-1 0h0m-5 0h0m-4 0h0m-13 0h0m-1 0h0m-2 0h0m-1 0h0m-1 0h0m-2 0h0m-1 0h0m-5 0h0m-10 0h0m-31 0h0m31 1h0m5 0h0m4 0h0m1 0h0m1 0h0m1 0h0m3 0h0m6 0h0m9 0h0m6 0h0m1 0h0m4 0h0m2 0h0m3 0h0m2 0h0m4 0h0m10 0h0m1 0h0m3 0h0m2 0h0m2 0h0m4 0h0m2 0h0m1 0h0m12 1h0m-4 0h0m-1 0h0m-3 0h0m-7 0h0m-1 0h0m-1 0h0m-3 0h0m-3 0h0m-1 0h0m-7 0h0m-1 0h0m-1 0h0m-3 0h0m-1 0h0m-1 0h0m-4 0h0m-2 0h0m-6 0h0m-1 0h0m-4 0h0m-1 0h0m-2 0h0m-2 0h0m-3 0h0m-5 0h0m-1 0h0m-2 0h0m-1 0h0m-3 0h0m-6 0h0m-2 0h0m-5 0h0m-2 0h0m-4 0h0m4 1h0m4 0h0m2 0h0m6 0h0m1 0h0m2 0h0m7 0h0m1 0h0m1 0h0m2 0h0m9 0h0m9 0h0m2 0h0m3 0h0m1 0h0m8 0h0m2 0h0m3 0h0m5 0h0m5 0h0m7 0h0m9 0h0m-14 1h0m-2 0h0m-3 0h0m-7 0h0m-4 0h0m-2 0h0m-1 0h0m-1 0h0m-3 0h0m-4 0h0m-2 0h0m-1 0h0m-3 0h0m-3 0h0m-2 0h0m-2 0h0m-2 0h0m-2 0h0m-6 0h0m-2 0h0m-1 0h0m-5 0h0m-1 0h0m-3 0h0m-8 0h0m-2 0h0m-2 0h0m-5 0h0m-12 0h0m-3 0h0m13 1h0m2 0h0m2 0h0m1 0h0m1 0h0m2 0h0m1 0h0m2 0h0m4 0h0m1 0h0m2 0h0m1 0h0m10 0h0m1 0h0m2 0h0m7 0h0m3 0h0m3 0h0m2 0h0m1 0h0m2 0h0m5 0h0m2 0h0m4 0h0m10 0h0m8 0h0m1 0h0m4 0h0m1 0h0m1 0h0m8 1h0m-1 0h0m-10 0h0m-2 0h0m-5 0h0m-3 0h0m-10 0h0m-2 0h0m-6 0h0m-11 0h0m-2 0h0m-1 0h0m-1 0h0m-6 0h0m-5 0h0m-6 0h0m-1 0h0m-1 0h0m-6 0h0m-1 0h0m-2 0h0m-7 0h0m-1 0h0m-4 0h0m3 1h0m1 0h0m1 0h0m4 0h0m1 0h0m3 0h0m4 0h0m16 0h0m2 0h0m4 0h0m1 0h0m1 0h0m6 0h0m6 0h0m4 0h0m1 0h0m3 0h0m1 0h0m2 0h0m2 0h0m1 0h0m3 0h0m2 0h0m5 0h0m1 0h0m1 0h0m3 0h0m11 1h0m-3 0h0m-3 0h0m-3 0h0m-7 0h0m-1 0h0m-1 0h0m-4 0h0m-1 0h0m-1 0h0m-5 0h0m-4 0h0m-1 0h0m-1 0h0m-1 0h0m-1 0h0m-4 0h0m-5 0h0m-7 0h0m-2 0h0m-1 0h0m-2 0h0m-4 0h0m-2 0h0m-3 0h0m-4 0h0m-4 0h0m-4 0h0m-35 1h0m21 0h0m3 0h0m4 0h0m2 0h0m9 0h0m1 0h0m3 0h0m5 0h0m14 0h0m1 0h0m1 0h0m2 0h0m3 0h0m3 0h0m1 0h0m9 0h0m2 0h0m5 0h0m4 0h0m2 0h0m1 0h0m4 0h0m5 0h0m7 0h0m-8 1h0m-3 0h0m-2 0h0m-1 0h0m-1 0h0m-2 0h0m-5 0h0m-1 0h0m-8 0h0m-1 0h0m-6 0h0m-1 0h0m-4 0h0m-2 0h0m-5 0h0m-3 0h0m-8 0h0m-4 0h0m-2 0h0m-2 0h0m-9 0h0m-2 0h0m-5 0h0m-5 0h0m-1 0h0m-5 0h0m1 1h0m2 0h0m3 0h0m4 0h0m1 0h0m5 0h0m1 0h0m2 0h0m2 0h0m1 0h0m2 0h0m5 0h0m6 0h0m6 0h0m4 0h0m6 0h0m5 0h0m1 0h0m1 0h0m10 0h0m2 0h0m1 0h0m9 0h0m3 0h0m4 0h0m1 0h0m-4 1h0m-2 0h0m-6 0h0m-1 0h0m-2 0h0m-2 0h0m-6 0h0m-4 0h0m-5 0h0m-1 0h0m-4 0h0m-2 0h0m-1 0h0m-4 0h0m-1 0h0m-5 0h0m-3 0h0m-2 0h0m-2 0h0m-1 0h0m-5 0h0m-13 0h0m-2 0h0m-3 0h0m-6 0h0m-64 1h0m55 0h0m7 0h0m1 0h0m4 0h0m6 0h0m3 0h0m7 0h0m3 0h0m2 0h0m1 0h0m3 0h0m12 0h0m2 0h0m5 0h0m14 0h0m2 0h0m3 0h0m1 0h0m4 0h0m3 0h0m1 0h0m2 0h0m1 0h0m1 0h0m7 0h0m1 1h0m-1 0h0m-10 0h0m-1 0h0m-1 0h0m-1 0h0m-2 0h0m-9 0h0m-4 0h0m-5 0h0m-15 0h0m-2 0h0m-2 0h0m-1 0h0m-2 0h0m-3 0h0m-11 0h0m-1 0h0m-6 0h0m-3 0h0m-2 0h0m-3 1h0m1 0h0m9 0h0m5 0h0m1 0h0m2 0h0m1 0h0m2 0h0m1 0h0m3 0h0m1 0h0m1 0h0m1 0h0m3 0h0m1 0h0m1 0h0m3 0h0m2 0h0m1 0h0m2 0h0m2 0h0m2 0h0m3 0h0m4 0h0m1 0h0m1 0h0m6 0h0m1 0h0m5 0h0m4 0h0m2 0h0m5 0h0m1 0h0m1 0h0m1 0h0m4 1h0m-1 0h0m-5 0h0m-2 0h0m-2 0h0m-1 0h0m-5 0h0m-1 0h0m-1 0h0m-1 0h0m-4 0h0m-6 0h0m-1 0h0m-1 0h0m-17 0h0m-2 0h0m-1 0h0m-3 0h0m-3 0h0m-1 0h0m-2 0h0m-2 0h0m-6 0h0m-5 0h0m-5 0h0m-1 0h0m-3 0h0m-24 1h0m18 0h0m1 0h0m5 0h0m1 0h0m2 0h0m1 0h0m1 0h0m1 0h0m3 0h0m3 0h0m4 0h0m3 0h0m1 0h0m1 0h0m3 0h0m1 0h0m2 0h0m2 0h0m1 0h0m1 0h0m2 0h0m4 0h0m8 0h0m2 0h0m2 0h0m7 0h0m1 0h0m4 0h0m4 0h0m3 0h0m1 0h0m3 0h0m1 0h0m1 0h0m9 0h0m5 1h0m-4 0h0m-2 0h0m-2 0h0m-1 0h0m-4 0h0m-1 0h0m-10 0h0m-3 0h0m-2 0h0m-12 0h0m-1 0h0m-2 0h0m-4 0h0m-1 0h0m-3 0h0m-8 0h0m-2 0h0m-7 0h0m-1 0h0m-1 0h0m-1 0h0m-1 0h0m-1 0h0m-5 0h0m-4 0h0m-2 0h0m-1 0h0m-3 0h0m-3 0h0m-2 0h0m-1 0h0m4 1h0m5 0h0m1 0h0m7 0h0m11 0h0m1 0h0m1 0h0m7 0h0m4 0h0m5 0h0m3 0h0m2 0h0m1 0h0m7 0h0m2 0h0m7 0h0m1 0h0m4 0h0m4 0h0m2 0h0m3 0h0m14 0h0m-2 1h0m-4 0h0m-5 0h0m-3 0h0m-2 0h0m-5 0h0m-4 0h0m-4 0h0m-1 0h0m-2 0h0m-1 0h0m-2 0h0m-1 0h0m-4 0h0m-5 0h0m-3 0h0m-5 0h0m-2 0h0m-1 0h0m-1 0h0m-1 0h0m-4 0h0m-8 0h0m-4 0h0m-5 0h0m-2 0h0m-1 0h0m-3 0h0m-1 0h0m-1 0h0m-3 0h0m-2 0h0m-4 0h0m6 1h0m7 0h0m3 0h0m2 0h0m2 0h0m1 0h0m6 0h0m2 0h0m1 0h0m1 0h0m5 0h0m3 0h0m5 0h0m1 0h0m4 0h0m11 0h0m2 0h0m2 0h0m1 0h0m6 0h0m12 0h0m1 0h0m2 0h0m2 1h0m-3 0h0m-3 0h0m-2 0h0m-1 0h0m-4 0h0m-1 0h0m-1 0h0m-3 0h0m-5 0h0m-1 0h0m-7 0h0m-1 0h0m-4 0h0m-2 0h0m-1 0h0m-1 0h0m-4 0h0m-2 0h0m-3 0h0m-2 0h0m-2 0h0m-8 0h0m-4 0h0m-1 0h0m-3 0h0m-1 0h0m-2 0h0m-9 0h0m-1 0h0m-4 0h0m-2 0h0m-3 0h0m2 1h0m3 0h0m1 0h0m4 0h0m2 0h0m1 0h0m1 0h0m2 0h0m2 0h0m3 0h0m8 0h0m12 0h0m2 0h0m1 0h0m2 0h0m2 0h0m1 0h0m4 0h0m1 0h0m2 0h0m2 0h0m1 0h0m1 0h0m1 0h0m6 0h0m6 0h0m1 0h0m1 0h0m2 0h0m1 0h0m2 0h0m3 0h0m3 0h0m3 0h0m2 0h0m4 0h0m-15 1h0m-4 0h0m-3 0h0m-1 0h0m-7 0h0m-8 0h0m-1 0h0m-12 0h0m-1 0h0m-6 0h0m-3 0h0m-1 0h0m-2 0h0m-4 0h0m-7 0h0m-2 0h0m-1 0h0m-4 0h0m-2 0h0m-4 0h0m-2 0h0m-1 0h0m-2 0h0m-1 0h0m2 1h0m1 0h0m1 0h0m4 0h0m2 0h0m4 0h0m3 0h0m2 0h0m4 0h0m1 0h0m4 0h0m4 0h0m4 0h0m1 0h0m1 0h0m7 0h0m2 0h0m1 0h0m2 0h0m1 0h0m2 0h0m1 0h0m1 0h0m3 0h0m1 0h0m4 0h0m5 0h0m2 0h0m2 0h0m4 0h0m5 0h0m1 0h0m4 0h0m1 0h0m3 0h0m1 1h0m-2 0h0m-1 0h0m-3 0h0m-1 0h0m-3 0h0m-1 0h0m-1 0h0m-21 0h0m-2 0h0m-1 0h0m-1 0h0m-8 0h0m-1 0h0m-2 0h0m-5 0h0m-2 0h0m-2 0h0m-3 0h0m-7 0h0m-2 0h0m-1 0h0m-6 0h0m-2 0h0m-1 0h0m-8 0h0m1 1h0m4 0h0m2 0h0m2 0h0m2 0h0m1 0h0m2 0h0m6 0h0m3 0h0m4 0h0m2 0h0m2 0h0m2 0h0m7 0h0m1 0h0m4 0h0m5 0h0m2 0h0m1 0h0m14 0h0m1 0h0m3 0h0m1 0h0m2 0h0m2 0h0m1 0h0m1 0h0m4 0h0m8 1h0m-5 0h0m-1 0h0m-1 0h0m-4 0h0m-2 0h0m-2 0h0m-3 0h0m-4 0h0m-2 0h0m-2 0h0m-1 0h0m-7 0h0m-2 0h0m-2 0h0m-1 0h0m-1 0h0m-2 0h0m-3 0h0m-3 0h0m-1 0h0m-2 0h0m-4 0h0m-5 0h0m-7 0h0m-4 0h0m-1 0h0m-3 0h0m-7 0h0m-1 0h0m-1 0h0m-1 0h0m-1 0h0m-15 1h0m11 0h0m2 0h0m2 0h0m2 0h0m3 0h0m1 0h0m10 0h0m2 0h0m4 0h0m2 0h0m5 0h0m3 0h0m2 0h0m4 0h0m6 0h0m2 0h0m2 0h0m2 0h0m2 0h0m2 0h0m1 0h0m1 0h0m3 0h0m5 0h0m6 0h0m2 0h0m1 0h0m9 0h0m1 0h0m1 1h0m-4 0h0m-1 0h0m-2 0h0m-8 0h0m-3 0h0m-3 0h0m-3 0h0m-2 0h0m-2 0h0m-1 0h0m-1 0h0m-3 0h0m-1 0h0m-1 0h0m-3 0h0m-11 0h0m-1 0h0m-2 0h0m-4 0h0m-1 0h0m-3 0h0m-3 0h0m-3 0h0m-1 0h0m-2 0h0m-1 0h0m-2 0h0m-1 0h0m-1 0h0m-2 0h0m-2 0h0m-3 0h0m-3 0h0m-3 0h0m-1 0h0m-1 0h0m-6 1h0m4 0h0m9 0h0m8 0h0m2 0h0m2 0h0m2 0h0m2 0h0m8 0h0m6 0h0m1 0h0m1 0h0m2 0h0m1 0h0m2 0h0m4 0h0m3 0h0m12 0h0m2 0h0m4 0h0m5 0h0m5 0h0m2 0h0m2 0h0m1 0h0m-1 1h0m-3 0h0m-16 0h0m-4 0h0m-1 0h0m-5 0h0m-2 0h0m-3 0h0m-4 0h0m-2 0h0m-1 0h0m-5 0h0m-6 0h0m-1 0h0m-1 0h0m-6 0h0m-7 0h0m-2 0h0m-1 0h0m-2 0h0m-1 0h0m-4 0h0m-5 0h0m-7 0h0m8 1h0m4 0h0m3 0h0m2 0h0m4 0h0m3 0h0m3 0h0m1 0h0m9 0h0m11 0h0m6 0h0m2 0h0m2 0h0m1 0h0m1 0h0m2 0h0m1 0h0m3 0h0m3 0h0m6 0h0m1 0h0m3 0h0m6 0h0m1 0h0m6 1h0m-2 0h0m-12 0h0m-2 0h0m-1 0h0m-1 0h0m-1 0h0m-6 0h0m-4 0h0m-4 0h0m-3 0h0m-3 0h0m-12 0h0m-10 0h0m-2 0h0m-2 0h0m-4 0h0m-3 0h0m-4 0h0m-1 0h0m-1 0h0m-1 0h0m-1 0h0m-1 0h0m-2 0h0m-1 0h0m-7 0h0m-29 0h0m-2 0h0m-4 0h0m45 1h0m1 0h0m4 0h0m1 0h0m11 0h0m1 0h0m1 0h0m2 0h0m9 0h0m1 0h0m1 0h0m1 0h0m6 0h0m1 0h0m6 0h0m2 0h0m1 0h0m13 0h0m2 0h0m3 0h0m1 0h0m1 0h0m1 0h0m3 0h0m1 0h0m2 0h0m2 0h0m3 0h0m-2 1h0m-1 0h0m-3 0h0m-6 0h0m-7 0h0m-6 0h0m-1 0h0m-3 0h0m-8 0h0m-1 0h0m-2 0h0m-1 0h0m-1 0h0m-1 0h0m-1 0h0m-2 0h0m-8 0h0m-10 0h0m-2 0h0m-5 0h0m-2 0h0m-2 0h0m-1 0h0m-2 0h0m-7 0h0m-1 0h0m-4 0h0m-2 0h0m-12 0h0m-13 0h0m-34 1h0m24 0h0m14 0h0m20 0h0m5 0h0m6 0h0m2 0h0m3 0h0m1 0h0m3 0h0m4 0h0m1 0h0m1 0h0m1 0h0m2 0h0m7 0h0m2 0h0m5 0h0m1 0h0m2 0h0m2 0h0m4 0h0m11 0h0m3 0h0m1 0h0m5 0h0m1 0h0m1 0h0m1 0h0m4 0h0m8 0h0m7 0h0m1 0h0m-4 1h0m-3 0h0m-6 0h0m-3 0h0m-2 0h0m-1 0h0m-2 0h0m-7 0h0m-2 0h0m-6 0h0m-6 0h0m-5 0h0m-6 0h0m-3 0h0m-1 0h0m-1 0h0m-3 0h0m-12 0h0m-9 0h0m-4 0h0m-1 0h0m-1 0h0m-3 0h0m-32 0h0m-3 0h0m-6 1h0m19 0h0m9 0h0m20 0h0m1 0h0m1 0h0m4 0h0m5 0h0m1 0h0m3 0h0m2 0h0m1 0h0m1 0h0m1 0h0m3 0h0m7 0h0m1 0h0m1 0h0m3 0h0m1 0h0m1 0h0m2 0h0m1 0h0m1 0h0m4 0h0m5 0h0m1 0h0m7 0h0m3 0h0m2 0h0m1 0h0m3 0h0m5 0h0m1 0h0m3 0h0m27 0h0m-24 1h0m-3 0h0m-2 0h0m-3 0h0m-4 0h0m-9 0h0m-10 0h0m-3 0h0m-6 0h0m-4 0h0m-2 0h0m-2 0h0m-5 0h0m-2 0h0m-4 0h0m-1 0h0m-4 0h0m-1 0h0m-3 0h0m-1 0h0m-5 0h0m-6 0h0m-5 0h0m-1 0h0m-40 0h0m6 1h0m35 0h0m2 0h0m3 0h0m1 0h0m7 0h0m2 0h0m3 0h0m2 0h0m1 0h0m2 0h0m3 0h0m5 0h0m1 0h0m2 0h0m1 0h0m4 0h0m1 0h0m5 0h0m3 0h0m12 0h0m5 0h0m2 0h0m2 0h0m1 0h0m10 0h0m1 0h0m1 0h0m1 0h0m5 0h0m-7 1h0m-3 0h0m-1 0h0m-7 0h0m-1 0h0m-8 0h0m-5 0h0m-5 0h0m-1 0h0m-1 0h0m-2 0h0m-3 0h0m-3 0h0m-3 0h0m-2 0h0m-2 0h0m-2 0h0m-2 0h0m-1 0h0m-2 0h0m-5 0h0m-2 0h0m-7 0h0m-2 0h0m-3 0h0m-4 0h0m-2 0h0m-3 0h0m-41 0h0m22 1h0m15 0h0m3 0h0m2 0h0m6 0h0m2 0h0m4 0h0m1 0h0m2 0h0m3 0h0m1 0h0m4 0h0m7 0h0m11 0h0m1 0h0m1 0h0m2 0h0m1 0h0m6 0h0m1 0h0m5 0h0m1 0h0m2 0h0m1 0h0m1 0h0m5 0h0m5 0h0m5 0h0m3 0h0m29 1h0m-28 0h0m-3 0h0m-1 0h0m-5 0h0m-4 0h0m-2 0h0m-10 0h0m-3 0h0m-5 0h0m-3 0h0m-5 0h0m-1 0h0m-3 0h0m-1 0h0m-3 0h0m-1 0h0m-1 0h0m-2 0h0m-3 0h0m-1 0h0m-5 0h0m-4 0h0m-3 0h0m-2 0h0m-2 0h0m-4 0h0m-2 0h0m-5 0h0m-26 1h0m25 0h0m1 0h0m16 0h0m2 0h0m4 0h0m1 0h0m4 0h0m5 0h0m1 0h0m6 0h0m1 0h0m2 0h0m3 0h0m5 0h0m5 0h0m2 0h0m2 0h0m16 0h0m3 0h0m3 0h0m2 0h0m1 1h0m-1 0h0m-1 0h0m-4 0h0m-1 0h0m-3 0h0m-1 0h0m-3 0h0m-1 0h0m-1 0h0m-1 0h0m-3 0h0m-8 0h0m-1 0h0m-3 0h0m-12 0h0m-1 0h0m-4 0h0m-1 0h0m-7 0h0m-1 0h0m-6 0h0m-16 0h0m-2 0h0m-29 1h0m29 0h0m1 0h0m2 0h0m4 0h0m4 0h0m4 0h0m3 0h0m3 0h0m2 0h0m15 0h0m6 0h0m2 0h0m5 0h0m1 0h0m1 0h0m1 0h0m5 0h0m6 0h0m3 0h0m6 0h0m1 0h0m3 0h0m5 0h0m8 0h0m18 1h0m-30 0h0m-7 0h0m-2 0h0m-2 0h0m-1 0h0m-4 0h0m-2 0h0m-2 0h0m-6 0h0m-3 0h0m-2 0h0m-7 0h0m-1 0h0m-7 0h0m-4 0h0m-1 0h0m-1 0h0m-7 0h0m-3 0h0m-3 0h0m-1 0h0m-1 0h0m-3 0h0m-1 0h0m-1 0h0m-3 0h0m-3 0h0m-4 0h0m-21 0h0m21 1h0m2 0h0m3 0h0m1 0h0m1 0h0m1 0h0m3 0h0m8 0h0m2 0h0m4 0h0m12 0h0m1 0h0m5 0h0m2 0h0m10 0h0m1 0h0m1 0h0m5 0h0m1 0h0m3 0h0m2 0h0m1 0h0m5 0h0m2 0h0m1 0h0m2 0h0m29 1h0m-11 0h0m-16 0h0m-3 0h0m-5 0h0m-3 0h0m-1 0h0m-3 0h0m-1 0h0m-3 0h0m-3 0h0m-3 0h0m-2 0h0m-4 0h0m-5 0h0m-1 0h0m-1 0h0m-2 0h0m-4 0h0m-2 0h0m-2 0h0m-2 0h0m-1 0h0m-3 0h0m-2 0h0m-4 0h0m-4 0h0m-9 0h0m-3 0h0m-31 0h0m28 1h0m4 0h0m2 0h0m1 0h0m11 0h0m4 0h0m2 0h0m7 0h0m1 0h0m1 0h0m3 0h0m1 0h0m5 0h0m2 0h0m2 0h0m2 0h0m2 0h0m1 0h0m6 0h0m4 0h0m4 0h0m3 0h0m1 0h0m1 0h0m1 0h0m4 0h0m4 0h0m-5 1h0m-9 0h0m-1 0h0m-1 0h0m-2 0h0m-1 0h0m-4 0h0m-6 0h0m-1 0h0m-8 0h0m-3 0h0m-8 0h0m-1 0h0m-2 0h0m-3 0h0m-2 0h0m-3 0h0m-4 0h0m-1 0h0m-3 0h0m-1 0h0m-1 0h0m-3 0h0m-5 0h0m-15 0h0m-19 1h0m6 0h0m41 0h0m2 0h0m1 0h0m1 0h0m2 0h0m2 0h0m3 0h0m1 0h0m4 0h0m1 0h0m8 0h0m9 0h0m4 0h0m3 0h0m6 0h0m2 0h0m1 0h0m3 0h0m2 0h0m9 0h0m30 1h0m-31 0h0m-5 0h0m-21 0h0m-7 0h0m-3 0h0m-8 0h0m-1 0h0m-5 0h0m-8 0h0m-1 0h0m-1 0h0m-5 0h0m-3 0h0m-8 0h0m-3 0h0m-5 0h0m-24 1h0m31 0h0m1 0h0m1 0h0m1 0h0m4 0h0m12 0h0m1 0h0m1 0h0m3 0h0m2 0h0m1 0h0m5 0h0m3 0h0m1 0h0m3 0h0m3 0h0m1 0h0m1 0h0m4 0h0m7 0h0m2 0h0m3 0h0m5 0h0m4 0h0m2 0h0m2 0h0m1 0h0m1 0h0m39 1h0m-5 0h0m-34 0h0m-1 0h0m-5 0h0m-1 0h0m-5 0h0m-1 0h0m-1 0h0m-1 0h0m-5 0h0m-2 0h0m-3 0h0m-17 0h0m-2 0h0m-3 0h0m-5 0h0m-3 0h0m-4 0h0m-2 0h0m-1 0h0m-2 0h0m-1 0h0m-1 0h0m-1 0h0m-1 0h0m-1 0h0m-1 0h0m-5 0h0m-2 0h0m-25 0h0m-37 1h0m67 0h0m5 0h0m7 0h0m3 0h0m1 0h0m2 0h0m4 0h0m1 0h0m4 0h0m3 0h0m1 0h0m4 0h0m3 0h0m1 0h0m7 0h0m6 0h0m1 0h0m5 0h0m3 0h0m1 0h0m2 0h0m44 0h0m2 0h0m6 0h0m5 1h0m-9 0h0m-6 0h0m-39 0h0m-3 0h0m-3 0h0m-3 0h0m-2 0h0m-2 0h0m-9 0h0m-3 0h0m-1 0h0m-6 0h0m-10 0h0m-2 0h0m-2 0h0m-1 0h0m-5 0h0m-4 0h0m-1 0h0m-1 0h0m-2 0h0m-8 0h0m-64 1h0m60 0h0m2 0h0m6 0h0m4 0h0m1 0h0m1 0h0m2 0h0m1 0h0m1 0h0m1 0h0m2 0h0m3 0h0m1 0h0m13 0h0m16 0h0m2 0h0m3 0h0m2 0h0m3 0h0m2 0h0m3 0h0m3 0h0m3 0h0m4 0h0m1 0h0m28 0h0m2 0h0m1 0h0m2 0h0m1 0h0m12 1h0m-4 0h0m-7 0h0m-3 0h0m-15 0h0m-2 0h0m-26 0h0m-2 0h0m-2 0h0m-1 0h0m-6 0h0m-7 0h0m-2 0h0m-2 0h0m-6 0h0m-4 0h0m-5 0h0m-5 0h0m-8 0h0m-2 0h0m-2 0h0m-10 0h0m-1 1h0m4 0h0m7 0h0m2 0h0m1 0h0m4 0h0m1 0h0m3 0h0m2 0h0m1 0h0m1 0h0m3 0h0m1 0h0m1 0h0m1 0h0m1 0h0m1 0h0m5 0h0m4 0h0m2 0h0m1 0h0m2 0h0m5 0h0m2 0h0m4 0h0m5 0h0m4 0h0m46 0h0m-3 1h0m-1 0h0m-2 0h0m-2 0h0m-6 0h0m-4 0h0m-30 0h0m-1 0h0m-3 0h0m-2 0h0m-1 0h0m-7 0h0m-5 0h0m-8 0h0m-1 0h0m-3 0h0m-1 0h0m-9 0h0m-4 0h0m-2 0h0m-5 0h0m-3 0h0m-2 0h0m-1 0h0m-4 0h0m0 1h0m1 0h0m7 0h0m5 0h0m4 0h0m2 0h0m2 0h0m10 0h0m1 0h0m1 0h0m1 0h0m8 0h0m4 0h0m1 0h0m2 0h0m3 0h0m1 0h0m5 0h0m45 0h0m4 0h0m2 1h0m-14 0h0m-30 0h0m-6 0h0m-1 0h0m-2 0h0m-5 0h0m-5 0h0m-5 0h0m-4 0h0m-4 0h0m-9 0h0m-6 0h0m-1 0h0m-9 0h0m-3 0h0m-30 0h0m29 1h0m6 0h0m3 0h0m4 0h0m4 0h0m2 0h0m1 0h0m2 0h0m1 0h0m5 0h0m2 0h0m1 0h0m1 0h0m1 0h0m1 0h0m3 0h0m2 0h0m11 0h0m2 0h0m2 0h0m20 0h0m14 0h0m3 0h0m5 0h0m24 1h0m-3 0h0m-9 0h0m-3 0h0m-1 0h0m-2 0h0m-3 0h0m-7 0h0m-36 0h0m-6 0h0m-7 0h0m-10 0h0m-3 0h0m-6 0h0m-2 0h0m-2 0h0m-1 0h0m-2 0h0m-2 0h0m-3 0h0m-5 0h0m-3 0h0m-7 0h0m1 1h0m1 0h0m2 0h0m1 0h0m9 0h0m6 0h0m1 0h0m1 0h0m1 0h0m7 0h0m1 0h0m3 0h0m3 0h0m3 0h0m3 0h0m5 0h0m2 0h0m1 0h0m41 0h0m11 0h0m2 0h0m1 0h0m2 0h0m6 0h0m5 0h0m-11 1h0m-2 0h0m-3 0h0m-5 0h0m-5 0h0m-2 0h0m-8 0h0m-14 0h0m-18 0h0m-1 0h0m-6 0h0m-7 0h0m-1 0h0m-2 0h0m-4 0h0m-11 0h0m-3 0h0m-1 0h0m-2 0h0m-7 0h0m-2 0h0m0 1h0m3 0h0m2 0h0m5 0h0m2 0h0m6 0h0m1 0h0m2 0h0m1 0h0m8 0h0m2 0h0m2 0h0m3 0h0m2 0h0m2 0h0m9 0h0m34 0h0m11 0h0m2 0h0m2 0h0m1 0h0m2 0h0m7 0h0m-13 1h0m-2 0h0m-8 0h0m-2 0h0m-17 0h0m-24 0h0m-1 0h0m-1 0h0m-7 0h0m-5 0h0m-2 0h0m-1 0h0m-2 0h0m-11 0h0m-2 0h0m-1 0h0m-2 0h0m-2 0h0m-9 1h0m8 0h0m1 0h0m8 0h0m1 0h0m2 0h0m3 0h0m4 0h0m5 0h0m4 0h0m49 0h0m15 0h0m7 0h0m1 0h0m6 0h0m-10 1h0m-5 0h0m-1 0h0m-76 0h0m-2 0h0m-3 0h0m-1 0h0m-3 0h0m-3 0h0m-1 0h0m-2 1h0m3 0h0m6 0h0m3 0h0m1 0h0m1 0h0m5 0h0m4 0h0m4 0h0m1 0h0m57 0h0m2 0h0m1 0h0m1 0h0m2 0h0m1 0h0m12 0h0m8 1h0m-10 0h0m-5 0h0m-2 0h0m-1 0h0m-3 0h0m-8 0h0m-49 0h0m-11 0h0m-5 0h0m-2 0h0m-7 0h0m-2 0h0m-4 0h0m1 1h0m15 0h0m70 0h0m6 1h0m-4 0h0m-29 0h0m-52 0h0m-10 1h0m59 0h0m23 0h0m3 0h0m1 0h0m1 0h0m1 0h0m1 0h0m1 0h0m1 0h0m2 0h0m5 0h0m1 0h0m10 1h0m-14 0h0m-11 0h0m-7 0h0m-63 0h0m67 1h0m5 0h0m3 0h0m1 0h0m1 0h0m5 0h0m20 0h0m1 0h0m-16 1h0m-3 0h0m-1 0h0m-10 0h0m-4 0h0m-100 0h0m69 1h0m32 0h0m5 0h0m2 0h0m6 0h0m2 0h0m11 1h0m-7 0h0m-3 0h0m-1 0h0m-4 0h0m-6 0h0m-1 1h0m1 0h0m1 0h0m8 0h0m2 0h0m1 0h0m4 0h0m-4 1h0m-5 0h0m-10 0h0m-2 0h0m17 1h0m8 1h0m-1 0h0m-10 0h0m-48 0h0m0 1h0m3 0h0m47 1h0m-7 0h0m-2 0h0m-77 1h0m38 0h0m-33 2h0m67 1h0m-33 0h0m-7 0h0m15 1h0m3 0h0m-2 1h0m23 2h0m-23 1h0m-9 1h0m-1 2h0m6 1h0m1 2h0m5 0h0m-2 1h0m-5 1h0m3 0h0m3 0h0m5 1h0m-7 0h0m-53 0h0m51 1h0m2 0h0m3 0h0m-1 1h0m-2 0h0m-3 1h0m6 0h0m2 0h0m-2 1h0m-4 0h0m-3 0h0m2 1h0m1 0h0m6 1h0m-5 1h0m2 1h0m-1 0h0m0 1h0"/><path stroke="#0c0cc2" d="M172 30h0m25 1h0m-28 0h0m-3 1h0m4 0h0m1 0h0m4 0h0m10 1h0m-6 0h0m-10 0h0m-1 0h0m-1 0h0m-1 0h0m-42 1h0m44 0h0m1 0h0m6 0h0m20 1h0m-23 0h0m-33 0h0m-17 0h0m2 1h0m7 0h0m19 0h0m10 0h0m3 0h0m15 0h0m6 0h0m9 0h0m-31 1h0m-11 0h0m-9 0h0m-12 0h0m-1 0h0m-9 0h0m-2 1h0m3 0h0m5 0h0m1 0h0m36 0h0m2 0h0m17 0h0m33 0h0m-35 1h0m-17 0h0m-30 0h0m-4 0h0m-3 0h0m-5 1h0m10 0h0m1 0h0m3 0h0m12 0h0m15 0h0m6 0h0m21 0h0m8 1h0m-31 0h0m-1 0h0m-30 0h0m-1 0h0m-1 0h0m-4 0h0m-1 0h0m-2 0h0m-2 0h0m-5 1h0m1 0h0m6 0h0m1 0h0m2 0h0m4 0h0m1 0h0m11 0h0m9 0h0m3 0h0m1 0h0m9 0h0m3 0h0m1 0h0m7 1h0m-4 0h0m-4 0h0m-2 0h0m-2 0h0m-1 0h0m-4 0h0m-4 0h0m-29 0h0m-8 0h0m-1 0h0m-5 0h0m2 1h0m3 0h0m2 0h0m2 0h0m3 0h0m1 0h0m1 0h0m3 0h0m2 0h0m2 0h0m8 0h0m12 0h0m4 0h0m8 0h0m1 0h0m40 0h0m-15 1h0m-3 0h0m-13 0h0m-1 0h0m-7 0h0m-2 0h0m-1 0h0m-1 0h0m-5 0h0m-2 0h0m-1 0h0m-9 0h0m-2 0h0m-13 0h0m-4 0h0m-2 0h0m-4 0h0m-13 1h0m2 0h0m6 0h0m2 0h0m2 0h0m2 0h0m1 0h0m1 0h0m2 0h0m2 0h0m13 0h0m4 0h0m7 0h0m5 0h0m6 0h0m4 0h0m4 0h0m9 0h0m36 0h0m-38 1h0m-5 0h0m-10 0h0m-2 0h0m-5 0h0m-7 0h0m-7 0h0m-1 0h0m-2 0h0m-9 0h0m-4 0h0m-2 0h0m-2 0h0m-6 0h0m-2 0h0m-3 0h0m-2 0h0m4 1h0m1 0h0m2 0h0m1 0h0m3 0h0m7 0h0m2 0h0m2 0h0m1 0h0m9 0h0m2 0h0m14 0h0m1 0h0m1 0h0m9 0h0m1 0h0m43 1h0m-35 0h0m-10 0h0m-3 0h0m-1 0h0m-1 0h0m-1 0h0m-2 0h0m-3 0h0m-26 0h0m-1 0h0m-7 0h0m-26 1h0m11 0h0m3 0h0m4 0h0m2 0h0m7 0h0m4 0h0m1 0h0m2 0h0m8 0h0m18 0h0m8 0h0m4 0h0m1 0h0m0 1h0m-2 0h0m-2 0h0m-28 0h0m-5 0h0m-2 0h0m-2 0h0m-5 0h0m-5 0h0m-1 0h0m-4 0h0m-2 0h0m-4 1h0m1 0h0m2 0h0m1 0h0m1 0h0m4 0h0m1 0h0m2 0h0m2 0h0m2 0h0m1 0h0m4 0h0m2 0h0m8 0h0m5 0h0m10 0h0m7 0h0m5 0h0m1 0h0m1 0h0m23 0h0m26 0h0m-10 1h0m-30 0h0m-6 0h0m-2 0h0m-1 0h0m-1 0h0m-4 0h0m-2 0h0m-1 0h0m-3 0h0m-3 0h0m-21 0h0m-5 0h0m-11 0h0m-7 0h0m3 1h0m5 0h0m2 0h0m6 0h0m8 0h0m9 0h0m13 0h0m6 0h0m7 0h0m5 0h0m29 1h0m-14 0h0m-8 0h0m-11 0h0m-6 0h0m-2 0h0m-5 0h0m-1 0h0m-2 0h0m-4 0h0m-5 0h0m-5 0h0m-7 0h0m-4 0h0m-3 0h0m-2 0h0m-6 0h0m-3 0h0m-4 0h0m-8 0h0m5 1h0m7 0h0m4 0h0m1 0h0m3 0h0m1 0h0m5 0h0m1 0h0m1 0h0m2 0h0m1 0h0m1 0h0m1 0h0m1 0h0m24 0h0m21 0h0m27 0h0m1 0h0m-36 1h0m-10 0h0m-5 0h0m-4 0h0m-7 0h0m-10 0h0m-2 0h0m-3 0h0m-1 0h0m-2 0h0m-3 0h0m-1 0h0m-8 0h0m-3 0h0m-1 0h0m-2 0h0m3 1h0m3 0h0m2 0h0m4 0h0m7 0h0m2 0h0m20 0h0m4 0h0m3 0h0m1 0h0m5 0h0m1 0h0m6 0h0m-2 1h0m-2 0h0m-10 0h0m-6 0h0m-8 0h0m-5 0h0m-7 0h0m-2 0h0m-1 0h0m-1 0h0m-8 0h0m-3 0h0m-3 0h0m-1 0h0m-2 0h0m-5 0h0m-3 0h0m4 1h0m3 0h0m2 0h0m1 0h0m3 0h0m1 0h0m3 0h0m3 0h0m1 0h0m9 0h0m1 0h0m1 0h0m4 0h0m9 0h0m6 0h0m1 0h0m5 0h0m1 0h0m1 0h0m4 0h0m68 1h0m-32 0h0m-35 0h0m-1 0h0m-4 0h0m-1 0h0m-2 0h0m-5 0h0m-1 0h0m-14 0h0m-3 0h0m-5 0h0m-5 0h0m-3 0h0m-4 0h0m-12 0h0m-4 0h0m4 1h0m1 0h0m2 0h0m2 0h0m16 0h0m22 0h0m11 0h0m1 0h0m2 0h0m1 0h0m3 0h0m2 0h0m54 1h0m-5 0h0m-49 0h0m-10 0h0m-3 0h0m-1 0h0m-16 0h0m-10 0h0m-3 0h0m-2 0h0m-2 0h0m-10 0h0m-5 0h0m-11 1h0m5 0h0m1 0h0m8 0h0m1 0h0m1 0h0m5 0h0m6 0h0m18 0h0m14 0h0m4 0h0m5 0h0m6 0h0m7 0h0m13 1h0m-7 0h0m-24 0h0m-4 0h0m-4 0h0m-1 0h0m-10 0h0m-10 0h0m-1 0h0m-1 0h0m-1 0h0m-8 0h0m-3 0h0m-2 0h0m-5 0h0m-5 0h0m-1 0h0m0 1h0m2 0h0m5 0h0m5 0h0m1 0h0m3 0h0m5 0h0m3 0h0m22 0h0m3 0h0m2 0h0m7 0h0m2 0h0m3 0h0m2 0h0m3 0h0m40 1h0m-44 0h0m-3 0h0m-3 0h0m-1 0h0m-1 0h0m-3 0h0m-3 0h0m-2 0h0m-1 0h0m-10 0h0m-16 0h0m-2 0h0m-5 0h0m-5 0h0m-5 0h0m-1 0h0m-2 0h0m-10 0h0m-3 0h0m-3 0h0m-4 0h0m-1 1h0m8 0h0m1 0h0m4 0h0m1 0h0m5 0h0m7 0h0m1 0h0m2 0h0m2 0h0m2 0h0m3 0h0m3 0h0m5 0h0m11 0h0m4 0h0m8 0h0m3 0h0m5 0h0m4 0h0m1 0h0m3 0h0m4 0h0m18 0h0m25 0h0m-20 1h0m-4 0h0m-16 0h0m-5 0h0m-7 0h0m-4 0h0m-6 0h0m-4 0h0m-3 0h0m-1 0h0m-1 0h0m-3 0h0m-1 0h0m-3 0h0m-6 0h0m-5 0h0m-1 0h0m-2 0h0m-8 0h0m-5 0h0m-3 0h0m-3 0h0m-4 0h0m-5 1h0m5 0h0m3 0h0m1 0h0m2 0h0m3 0h0m2 0h0m12 0h0m2 0h0m1 0h0m1 0h0m4 0h0m2 0h0m11 0h0m13 0h0m3 0h0m8 0h0m2 0h0m4 0h0m43 1h0m-31 0h0m-12 0h0m-4 0h0m-1 0h0m-2 0h0m-1 0h0m-9 0h0m-9 0h0m-2 0h0m-15 0h0m-14 0h0m-2 0h0m-2 0h0m-2 0h0m-9 0h0m-1 0h0m-1 0h0m-4 0h0m-3 0h0m-7 0h0m-3 0h0m-2 0h0m7 1h0m7 0h0m5 0h0m1 0h0m4 0h0m5 0h0m3 0h0m1 0h0m6 0h0m2 0h0m1 0h0m7 0h0m4 0h0m4 0h0m5 0h0m12 0h0m8 0h0m8 0h0m3 0h0m13 0h0m24 1h0m-8 0h0m-28 0h0m-13 0h0m-1 0h0m-1 0h0m-2 0h0m-2 0h0m-6 0h0m-1 0h0m-1 0h0m-1 0h0m-4 0h0m-12 0h0m-6 0h0m-5 0h0m-1 0h0m-5 0h0m-3 0h0m-1 0h0m-5 0h0m-3 0h0m-2 0h0m-1 0h0m-5 0h0m-7 0h0m-3 0h0m-5 0h0m-1 0h0m9 1h0m2 0h0m5 0h0m3 0h0m5 0h0m1 0h0m3 0h0m4 0h0m1 0h0m5 0h0m4 0h0m3 0h0m8 0h0m1 0h0m18 0h0m13 0h0m2 0h0m8 0h0m35 0h0m37 1h0m-9 0h0m-62 0h0m-3 0h0m-3 0h0m-3 0h0m-4 0h0m-1 0h0m-1 0h0m-8 0h0m-1 0h0m-2 0h0m-1 0h0m-6 0h0m-5 0h0m-4 0h0m-1 0h0m-6 0h0m-12 0h0m-2 0h0m-2 0h0m-11 0h0m-1 0h0m-2 0h0m-3 0h0m-8 0h0m3 1h0m1 0h0m2 0h0m6 0h0m1 0h0m1 0h0m1 0h0m1 0h0m5 0h0m1 0h0m6 0h0m1 0h0m3 0h0m1 0h0m3 0h0m1 0h0m2 0h0m6 0h0m1 0h0m1 0h0m3 0h0m2 0h0m14 0h0m3 0h0m6 0h0m5 0h0m6 0h0m2 0h0m2 0h0m69 1h0m-70 0h0m-5 0h0m-3 0h0m-3 0h0m-6 0h0m-4 0h0m-10 0h0m-3 0h0m-6 0h0m-8 0h0m-1 0h0m-2 0h0m-4 0h0m-1 0h0m-10 0h0m-7 0h0m-2 0h0m-2 0h0m-5 0h0m-2 0h0m-1 0h0m-3 0h0m-1 1h0m12 0h0m5 0h0m3 0h0m1 0h0m7 0h0m5 0h0m1 0h0m2 0h0m1 0h0m5 0h0m1 0h0m2 0h0m3 0h0m1 0h0m2 0h0m2 0h0m1 0h0m2 0h0m2 0h0m2 0h0m7 0h0m2 0h0m1 0h0m4 0h0m1 0h0m2 0h0m7 0h0m2 0h0m3 0h0m17 0h0m45 1h0m-61 0h0m-2 0h0m-4 0h0m-4 0h0m-2 0h0m-6 0h0m-1 0h0m-8 0h0m-3 0h0m-5 0h0m-2 0h0m-6 0h0m-1 0h0m-6 0h0m-1 0h0m-1 0h0m-2 0h0m-8 0h0m-7 0h0m-3 0h0m-5 0h0m-1 0h0m-2 0h0m-2 0h0m-3 0h0m-5 1h0m4 0h0m2 0h0m1 0h0m5 0h0m5 0h0m2 0h0m1 0h0m1 0h0m5 0h0m1 0h0m1 0h0m9 0h0m1 0h0m1 0h0m2 0h0m2 0h0m7 0h0m2 0h0m4 0h0m5 0h0m1 0h0m3 0h0m4 0h0m1 0h0m9 0h0m7 0h0m4 0h0m44 0h0m-50 1h0m-1 0h0m-2 0h0m-9 0h0m-3 0h0m-4 0h0m-5 0h0m-3 0h0m-8 0h0m-10 0h0m-4 0h0m-13 0h0m-11 0h0m-3 1h0m1 0h0m9 0h0m1 0h0m1 0h0m3 0h0m3 0h0m8 0h0m7 0h0m1 0h0m4 0h0m3 0h0m3 0h0m15 0h0m6 0h0m2 0h0m9 0h0m7 0h0m53 0h0m-9 1h0m-35 0h0m-9 0h0m-1 0h0m-2 0h0m-7 0h0m-1 0h0m-1 0h0m-2 0h0m-5 0h0m-1 0h0m-3 0h0m-1 0h0m-7 0h0m-1 0h0m-1 0h0m-2 0h0m-5 0h0m-1 0h0m-1 0h0m-5 0h0m-1 0h0m-11 0h0m-4 0h0m-2 0h0m-3 0h0m-1 0h0m-4 0h0m-4 0h0m-2 0h0m-2 0h0m-2 0h0m-6 0h0m1 1h0m4 0h0m1 0h0m2 0h0m6 0h0m2 0h0m3 0h0m1 0h0m2 0h0m3 0h0m2 0h0m2 0h0m3 0h0m4 0h0m1 0h0m8 0h0m4 0h0m1 0h0m3 0h0m4 0h0m2 0h0m6 0h0m3 0h0m4 0h0m7 0h0m1 0h0m5 0h0m3 0h0m7 1h0m-4 0h0m-2 0h0m-1 0h0m-2 0h0m-1 0h0m-4 0h0m-8 0h0m-8 0h0m-7 0h0m-3 0h0m-4 0h0m-9 0h0m-3 0h0m-3 0h0m-3 0h0m-7 0h0m-1 0h0m-2 0h0m-3 0h0m-1 0h0m-8 0h0m-1 0h0m-3 0h0m-2 0h0m-2 0h0m-4 1h0m2 0h0m10 0h0m1 0h0m2 0h0m4 0h0m1 0h0m3 0h0m3 0h0m4 0h0m2 0h0m1 0h0m1 0h0m6 0h0m3 0h0m1 0h0m5 0h0m2 0h0m1 0h0m1 0h0m20 0h0m4 0h0m6 0h0m5 0h0m30 0h0m5 0h0m2 1h0m-38 0h0m-1 0h0m-4 0h0m-5 0h0m-2 0h0m-3 0h0m-5 0h0m-8 0h0m-7 0h0m-2 0h0m-3 0h0m-9 0h0m-5 0h0m-2 0h0m-6 0h0m-1 0h0m-1 0h0m-2 0h0m-7 0h0m-1 0h0m-6 0h0m-5 0h0m0 1h0m9 0h0m4 0h0m1 0h0m9 0h0m7 0h0m28 0h0m3 0h0m1 0h0m2 0h0m9 0h0m12 0h0m3 0h0m42 1h0m-41 0h0m-8 0h0m-2 0h0m-1 0h0m-3 0h0m-2 0h0m-3 0h0m-3 0h0m-10 0h0m-7 0h0m-4 0h0m-2 0h0m-9 0h0m-1 0h0m-6 0h0m-13 0h0m-1 0h0m-5 0h0m-3 0h0m-9 0h0m-3 1h0m1 0h0m7 0h0m1 0h0m1 0h0m3 0h0m3 0h0m3 0h0m2 0h0m4 0h0m2 0h0m7 0h0m1 0h0m3 0h0m10 0h0m4 0h0m1 0h0m3 0h0m5 0h0m4 0h0m2 0h0m2 0h0m19 0h0m3 0h0m14 0h0m4 0h0m-14 1h0m-1 0h0m-10 0h0m-2 0h0m-3 0h0m-4 0h0m-7 0h0m-23 0h0m-8 0h0m-1 0h0m-1 0h0m-1 0h0m-8 0h0m-2 0h0m-13 0h0m-8 0h0m-2 0h0m-1 0h0m5 1h0m2 0h0m12 0h0m7 0h0m4 0h0m1 0h0m1 0h0m1 0h0m2 0h0m6 0h0m2 0h0m7 0h0m7 0h0m5 0h0m2 0h0m2 0h0m3 0h0m6 0h0m3 0h0m1 0h0m1 0h0m7 0h0m3 0h0m37 0h0m15 0h0m14 0h0m-63 1h0m-3 0h0m-4 0h0m-10 0h0m-1 0h0m-7 0h0m-7 0h0m-2 0h0m-7 0h0m-2 0h0m-15 0h0m-2 0h0m-2 0h0m-2 0h0m-3 0h0m-5 0h0m-3 0h0m-1 0h0m-12 0h0m-6 0h0m2 1h0m1 0h0m2 0h0m25 0h0m1 0h0m1 0h0m5 0h0m3 0h0m1 0h0m1 0h0m2 0h0m8 0h0m2 0h0m1 0h0m1 0h0m6 0h0m2 0h0m14 0h0m3 0h0m5 0h0m3 0h0m7 0h0m14 1h0m-18 0h0m-6 0h0m-5 0h0m-10 0h0m-4 0h0m-7 0h0m-1 0h0m-8 0h0m-1 0h0m-2 0h0m-4 0h0m-5 0h0m-1 0h0m-3 0h0m-2 0h0m-3 0h0m-4 0h0m-4 0h0m-1 0h0m-6 0h0m-1 0h0m-1 0h0m-3 0h0m-9 0h0m2 1h0m1 0h0m9 0h0m11 0h0m5 0h0m2 0h0m7 0h0m6 0h0m1 0h0m3 0h0m2 0h0m1 0h0m3 0h0m1 0h0m6 0h0m11 0h0m3 0h0m2 0h0m4 0h0m3 0h0m54 0h0m-46 1h0m-1 0h0m-4 0h0m-20 0h0m-2 0h0m-1 0h0m-5 0h0m-2 0h0m-1 0h0m-3 0h0m-6 0h0m-3 0h0m-8 0h0m-1 0h0m-6 0h0m-2 0h0m-2 0h0m-1 0h0m-5 0h0m-10 0h0m-6 0h0m8 1h0m1 0h0m11 0h0m1 0h0m9 0h0m8 0h0m10 0h0m1 0h0m3 0h0m1 0h0m2 0h0m2 0h0m2 0h0m3 0h0m8 0h0m23 0h0m28 0h0m17 0h0m-46 1h0m-7 0h0m-3 0h0m-5 0h0m-3 0h0m-2 0h0m-3 0h0m-15 0h0m-2 0h0m-2 0h0m-2 0h0m-3 0h0m-9 0h0m-7 0h0m-3 0h0m-3 0h0m-1 0h0m-10 0h0m-2 0h0m-2 0h0m-4 0h0m-14 0h0m5 1h0m1 0h0m2 0h0m6 0h0m2 0h0m2 0h0m5 0h0m1 0h0m11 0h0m9 0h0m3 0h0m1 0h0m1 0h0m3 0h0m9 0h0m7 0h0m5 0h0m6 0h0m12 0h0m2 0h0m2 0h0m7 0h0m0 1h0m-8 0h0m-2 0h0m-3 0h0m-5 0h0m-1 0h0m-3 0h0m-6 0h0m-3 0h0m-1 0h0m-1 0h0m-1 0h0m-2 0h0m-1 0h0m-1 0h0m-1 0h0m-1 0h0m-3 0h0m-2 0h0m-7 0h0m-1 0h0m-2 0h0m-1 0h0m-8 0h0m-5 0h0m-15 0h0m-2 0h0m-3 0h0m-2 0h0m-5 0h0m8 1h0m11 0h0m4 0h0m3 0h0m6 0h0m8 0h0m4 0h0m2 0h0m5 0h0m1 0h0m2 0h0m2 0h0m4 0h0m1 0h0m1 0h0m1 0h0m3 0h0m4 0h0m4 0h0m4 0h0m1 0h0m7 0h0m-6 1h0m-5 0h0m-1 0h0m-1 0h0m-6 0h0m-1 0h0m-1 0h0m-7 0h0m-3 0h0m-1 0h0m-2 0h0m-1 0h0m-5 0h0m-17 0h0m-8 0h0m-4 0h0m-6 0h0m-1 0h0m-3 0h0m-1 0h0m-5 0h0m5 1h0m1 0h0m2 0h0m6 0h0m1 0h0m7 0h0m5 0h0m1 0h0m1 0h0m2 0h0m2 0h0m2 0h0m3 0h0m5 0h0m4 0h0m1 0h0m2 0h0m1 0h0m5 0h0m1 0h0m2 0h0m1 0h0m3 0h0m1 0h0m1 0h0m1 0h0m2 0h0m5 0h0m2 0h0m7 0h0m18 0h0m12 0h0m11 0h0m3 0h0m0 1h0m-47 0h0m-2 0h0m-3 0h0m-6 0h0m-1 0h0m-1 0h0m-5 0h0m-7 0h0m-3 0h0m-4 0h0m-2 0h0m-1 0h0m-1 0h0m-2 0h0m-4 0h0m-6 0h0m-5 0h0m-10 0h0m-6 0h0m-12 0h0m-3 1h0m2 0h0m2 0h0m5 0h0m1 0h0m7 0h0m4 0h0m1 0h0m1 0h0m4 0h0m1 0h0m1 0h0m2 0h0m6 0h0m2 0h0m3 0h0m1 0h0m7 0h0m2 0h0m9 0h0m5 0h0m1 0h0m1 0h0m8 0h0m9 0h0m1 0h0m3 0h0m37 0h0m14 0h0m-59 1h0m-2 0h0m-5 0h0m-3 0h0m-3 0h0m-7 0h0m-1 0h0m-9 0h0m-1 0h0m-5 0h0m-6 0h0m-1 0h0m-1 0h0m-1 0h0m-2 0h0m-2 0h0m-3 0h0m-6 0h0m-1 0h0m-6 0h0m-1 0h0m-1 0h0m-3 0h0m-2 0h0m-3 0h0m-2 0h0m-2 0h0m-3 1h0m2 0h0m2 0h0m1 0h0m10 0h0m5 0h0m2 0h0m6 0h0m3 0h0m4 0h0m7 0h0m3 0h0m2 0h0m2 0h0m5 0h0m2 0h0m3 0h0m12 0h0m1 0h0m32 0h0m-30 1h0m-7 0h0m-2 0h0m-2 0h0m-4 0h0m-3 0h0m-2 0h0m-2 0h0m-3 0h0m-12 0h0m-3 0h0m-2 0h0m-12 0h0m-2 0h0m-2 0h0m-1 0h0m-4 0h0m-4 0h0m-3 0h0m-5 0h0m-1 1h0m2 0h0m7 0h0m2 0h0m1 0h0m3 0h0m8 0h0m4 0h0m2 0h0m1 0h0m1 0h0m2 0h0m3 0h0m2 0h0m1 0h0m1 0h0m1 0h0m2 0h0m6 0h0m1 0h0m3 0h0m7 0h0m6 0h0m1 0h0m3 0h0m15 0h0m-9 1h0m-1 0h0m-2 0h0m-1 0h0m-1 0h0m-4 0h0m-3 0h0m-4 0h0m-3 0h0m-1 0h0m-10 0h0m-1 0h0m-4 0h0m-6 0h0m-9 0h0m-5 0h0m-1 0h0m-2 0h0m-1 0h0m-2 0h0m-2 0h0m-5 0h0m-1 0h0m-4 0h0m-2 0h0m-6 0h0m8 1h0m2 0h0m1 0h0m1 0h0m5 0h0m1 0h0m7 0h0m2 0h0m5 0h0m1 0h0m1 0h0m4 0h0m1 0h0m5 0h0m1 0h0m1 0h0m8 0h0m1 0h0m1 0h0m2 0h0m9 0h0m7 0h0m1 0h0m1 0h0m9 0h0m-2 1h0m-6 0h0m-1 0h0m-3 0h0m-2 0h0m-2 0h0m-4 0h0m-3 0h0m-4 0h0m-2 0h0m-12 0h0m-6 0h0m-2 0h0m-10 0h0m-2 0h0m-2 0h0m-1 0h0m-1 0h0m-2 0h0m-8 0h0m-5 0h0m2 1h0m2 0h0m3 0h0m6 0h0m3 0h0m3 0h0m3 0h0m1 0h0m1 0h0m5 0h0m2 0h0m4 0h0m5 0h0m1 0h0m1 0h0m2 0h0m4 0h0m5 0h0m7 0h0m5 0h0m5 0h0m1 0h0m1 0h0m1 0h0m2 0h0m7 0h0m14 1h0m-7 0h0m-10 0h0m-4 0h0m-2 0h0m-3 0h0m-5 0h0m-2 0h0m-1 0h0m-4 0h0m-9 0h0m-1 0h0m-6 0h0m-8 0h0m-2 0h0m-4 0h0m-1 0h0m-11 0h0m-2 0h0m-5 0h0m-8 1h0m1 0h0m3 0h0m6 0h0m6 0h0m4 0h0m3 0h0m16 0h0m11 0h0m7 0h0m2 0h0m1 0h0m3 0h0m3 0h0m2 0h0m1 0h0m4 0h0m24 1h0m-15 0h0m-7 0h0m-1 0h0m-2 0h0m-4 0h0m-1 0h0m-2 0h0m-5 0h0m-3 0h0m-6 0h0m-1 0h0m-6 0h0m-3 0h0m-5 0h0m-4 0h0m-4 0h0m-1 0h0m-6 0h0m-5 0h0m-5 0h0m-3 0h0m-2 0h0m-1 0h0m0 1h0m4 0h0m2 0h0m2 0h0m1 0h0m3 0h0m13 0h0m4 0h0m2 0h0m2 0h0m1 0h0m3 0h0m2 0h0m11 0h0m1 0h0m5 0h0m2 0h0m3 0h0m5 0h0m6 0h0m-6 1h0m-5 0h0m-4 0h0m-3 0h0m-13 0h0m-2 0h0m-3 0h0m-5 0h0m-13 0h0m-2 0h0m-4 0h0m-4 0h0m-1 0h0m-4 0h0m-5 0h0m1 1h0m1 0h0m1 0h0m3 0h0m10 0h0m9 0h0m2 0h0m4 0h0m2 0h0m5 0h0m2 0h0m2 0h0m5 0h0m3 0h0m3 0h0m2 0h0m1 0h0m14 0h0m1 0h0m1 0h0m3 0h0m12 1h0m-7 0h0m-13 0h0m-7 0h0m-1 0h0m-2 0h0m-4 0h0m-12 0h0m-7 0h0m-1 0h0m-3 0h0m-4 0h0m-3 0h0m-13 0h0m-8 0h0m-1 0h0m-1 0h0m2 1h0m1 0h0m3 0h0m1 0h0m1 0h0m1 0h0m1 0h0m2 0h0m2 0h0m1 0h0m1 0h0m2 0h0m4 0h0m3 0h0m5 0h0m4 0h0m13 0h0m2 0h0m1 0h0m2 0h0m1 0h0m3 0h0m10 0h0m7 0h0m12 0h0m-8 1h0m-5 0h0m-1 0h0m-2 0h0m-1 0h0m-3 0h0m-4 0h0m-5 0h0m-2 0h0m-2 0h0m-1 0h0m-5 0h0m-3 0h0m-5 0h0m-2 0h0m-1 0h0m-1 0h0m-3 0h0m-1 0h0m-1 0h0m-6 0h0m-1 0h0m-1 0h0m-3 0h0m-3 0h0m-3 0h0m-5 0h0m-2 0h0m-2 0h0m-4 1h0m3 0h0m3 0h0m2 0h0m1 0h0m4 0h0m4 0h0m2 0h0m1 0h0m4 0h0m2 0h0m1 0h0m2 0h0m1 0h0m1 0h0m1 0h0m3 0h0m3 0h0m3 0h0m6 0h0m3 0h0m8 0h0m3 0h0m7 0h0m14 0h0m25 0h0m2 0h0m-1 1h0m-17 0h0m-16 0h0m-2 0h0m-14 0h0m-2 0h0m-2 0h0m-1 0h0m-1 0h0m-3 0h0m-3 0h0m-4 0h0m-2 0h0m-3 0h0m-1 0h0m-1 0h0m-4 0h0m-5 0h0m-1 0h0m-2 0h0m-1 0h0m-4 0h0m-3 0h0m-7 0h0m-6 1h0m1 0h0m1 0h0m1 0h0m4 0h0m2 0h0m1 0h0m3 0h0m1 0h0m1 0h0m9 0h0m5 0h0m10 0h0m5 0h0m2 0h0m8 0h0m4 0h0m5 0h0m2 0h0m3 0h0m1 0h0m1 0h0m19 0h0m26 0h0m-6 1h0m-27 0h0m-16 0h0m-3 0h0m-7 0h0m-18 0h0m-3 0h0m-2 0h0m-3 0h0m-2 0h0m-3 0h0m-1 0h0m-6 0h0m-8 0h0m-9 0h0m-1 0h0m-2 0h0m-2 0h0m2 1h0m4 0h0m1 0h0m7 0h0m2 0h0m4 0h0m1 0h0m6 0h0m3 0h0m3 0h0m2 0h0m2 0h0m3 0h0m1 0h0m2 0h0m5 0h0m2 0h0m3 0h0m1 0h0m1 0h0m1 0h0m1 0h0m1 0h0m1 0h0m6 0h0m1 0h0m9 0h0m4 0h0m9 0h0m7 0h0m13 0h0m103 0h0m-141 1h0m-1 0h0m-1 0h0m-6 0h0m-4 0h0m-2 0h0m-2 0h0m-7 0h0m-2 0h0m-2 0h0m-7 0h0m-4 0h0m-1 0h0m-17 0h0m-2 0h0m-4 0h0m-1 0h0m-5 0h0m1 1h0m2 0h0m3 0h0m1 0h0m5 0h0m1 0h0m6 0h0m7 0h0m5 0h0m2 0h0m4 0h0m1 0h0m3 0h0m1 0h0m3 0h0m1 0h0m1 0h0m5 0h0m2 0h0m1 0h0m1 0h0m1 0h0m1 0h0m1 0h0m1 0h0m1 0h0m2 0h0m1 0h0m3 0h0m3 0h0m20 0h0m13 1h0m-27 0h0m-7 0h0m-4 0h0m-3 0h0m-17 0h0m-11 0h0m-12 0h0m-3 0h0m-6 0h0m-3 0h0m-7 0h0m-2 1h0m2 0h0m5 0h0m2 0h0m1 0h0m2 0h0m2 0h0m1 0h0m9 0h0m1 0h0m6 0h0m5 0h0m2 0h0m2 0h0m1 0h0m2 0h0m6 0h0m2 0h0m2 0h0m2 0h0m4 0h0m7 0h0m4 0h0m7 0h0m12 0h0m9 0h0m112 1h0m-7 0h0m-113 0h0m-32 0h0m-2 0h0m-2 0h0m-1 0h0m-3 0h0m-6 0h0m-7 0h0m-7 0h0m-1 0h0m-1 0h0m-2 0h0m-5 0h0m-12 0h0m-2 0h0m-6 0h0m1 1h0m1 0h0m2 0h0m2 0h0m2 0h0m1 0h0m3 0h0m1 0h0m1 0h0m2 0h0m8 0h0m4 0h0m14 0h0m5 0h0m4 0h0m1 0h0m1 0h0m26 0h0m18 0h0m99 0h0m2 0h0m-40 1h0m-59 0h0m-37 0h0m-3 0h0m-2 0h0m-4 0h0m-2 0h0m-1 0h0m-4 0h0m-16 0h0m-2 0h0m-7 0h0m-11 0h0m-4 0h0m-1 0h0m-1 0h0m-4 0h0m-6 0h0m3 1h0m5 0h0m1 0h0m5 0h0m2 0h0m2 0h0m2 0h0m9 0h0m3 0h0m1 0h0m1 0h0m3 0h0m1 0h0m1 0h0m1 0h0m6 0h0m2 0h0m1 0h0m1 0h0m2 0h0m2 0h0m1 0h0m5 0h0m2 0h0m1 0h0m26 0h0m14 0h0m18 0h0m82 0h0m5 1h0m-3 0h0m-2 0h0m-1 0h0m-141 0h0m-7 0h0m-1 0h0m-4 0h0m-13 0h0m-10 0h0m-5 0h0m-1 0h0m-1 0h0m-4 0h0m-2 0h0m-2 0h0m-1 1h0m2 0h0m5 0h0m2 0h0m4 0h0m3 0h0m4 0h0m6 0h0m1 0h0m3 0h0m3 0h0m1 0h0m3 0h0m1 0h0m8 0h0m8 0h0m16 0h0m124 0h0m1 0h0m3 0h0m6 1h0m-8 0h0m-3 0h0m-103 0h0m-37 0h0m-5 0h0m-2 0h0m-2 0h0m-6 0h0m-1 0h0m-1 0h0m-2 0h0m-11 0h0m-1 0h0m-5 0h0m-1 0h0m-4 0h0m-1 0h0m-1 0h0m-1 0h0m-1 0h0m-2 0h0m-3 0h0m-2 0h0m-2 0h0m-2 0h0m3 1h0m7 0h0m8 0h0m1 0h0m9 0h0m1 0h0m1 0h0m2 0h0m5 0h0m1 0h0m3 0h0m2 0h0m12 0h0m5 0h0m28 0h0m111 0h0m4 1h0m-7 0h0m-112 0h0m-11 0h0m-12 0h0m-11 0h0m-2 0h0m-1 0h0m-1 0h0m-1 0h0m-4 0h0m-2 0h0m-2 0h0m-3 0h0m-2 0h0m-2 0h0m-10 0h0m-4 0h0m-3 0h0m-1 0h0m-5 0h0m-1 0h0m-1 0h0m-2 0h0m-1 0h0m-1 1h0m6 0h0m3 0h0m9 0h0m4 0h0m3 0h0m7 0h0m5 0h0m1 0h0m1 0h0m2 0h0m1 0h0m5 0h0m3 0h0m1 0h0m1 0h0m19 0h0m3 0h0m6 0h0m1 0h0m14 0h0m99 0h0m5 1h0m-1 0h0m-8 0h0m-111 0h0m-1 0h0m-10 0h0m-18 0h0m-5 0h0m-12 0h0m-1 0h0m-9 0h0m-1 0h0m-2 0h0m-3 0h0m-1 0h0m-14 0h0m-1 0h0m-1 0h0m6 1h0m1 0h0m4 0h0m2 0h0m1 0h0m10 0h0m3 0h0m1 0h0m2 0h0m5 0h0m2 0h0m5 0h0m6 0h0m1 0h0m2 0h0m17 0h0m5 0h0m8 0h0m6 0h0m21 0h0m83 0h0m8 0h0m1 1h0m-2 0h0m-2 0h0m-108 0h0m-2 0h0m-15 0h0m-17 0h0m-2 0h0m-2 0h0m-4 0h0m-1 0h0m-1 0h0m-2 0h0m-1 0h0m-3 0h0m-3 0h0m-1 0h0m-9 0h0m-2 0h0m-3 0h0m-2 0h0m-2 0h0m-1 0h0m-2 0h0m-4 0h0m-3 0h0m-2 0h0m-3 0h0m-1 0h0m-3 0h0m2 1h0m10 0h0m1 0h0m1 0h0m1 0h0m1 0h0m2 0h0m5 0h0m1 0h0m4 0h0m8 0h0m3 0h0m4 0h0m3 0h0m2 0h0m1 0h0m3 0h0m2 0h0m2 0h0m3 0h0m5 0h0m15 0h0m6 0h0m118 0h0m-6 1h0m-1 0h0m-2 0h0m-138 0h0m-10 0h0m-7 0h0m-4 0h0m-1 0h0m-16 0h0m-3 0h0m-2 0h0m-1 0h0m-2 0h0m-9 0h0m2 1h0m6 0h0m5 0h0m8 0h0m4 0h0m7 0h0m4 0h0m7 0h0m1 0h0m2 0h0m1 0h0m2 0h0m5 0h0m27 0h0m20 0h0m76 0h0m24 0h0m-3 1h0m-131 0h0m-9 0h0m-6 0h0m-7 0h0m-4 0h0m-2 0h0m-1 0h0m-3 0h0m-3 0h0m-6 0h0m-1 0h0m-2 0h0m-6 0h0m-2 0h0m-1 0h0m-7 1h0m9 0h0m5 0h0m2 0h0m1 0h0m5 0h0m10 0h0m3 0h0m12 0h0m37 0h0m106 1h0m-1 0h0m-145 0h0m-1 0h0m-2 0h0m-3 0h0m-2 0h0m-7 0h0m-5 0h0m-9 0h0m-1 0h0m-2 0h0m-4 1h0m10 0h0m10 0h0m39 0h0m118 0h0m6 1h0m-1 0h0m-155 0h0m-6 0h0m-4 0h0m-1 0h0m-14 0h0m16 1h0m1 0h0m30 0h0m134 0h0m-2 1h0m-109 0h0m-18 0h0m-1 0h0m-20 0h0m-29 1h0m151 0h0m27 0h0m-115 1h0m-16 0h0m-28 0h0m-11 0h0m-11 1h0m2 0h0m13 0h0m8 0h0m12 0h0m12 0h0m7 0h0m1 0h0m15 0h0m1 0h0m5 0h0m105 0h0m2 0h0m-122 1h0m-10 0h0m-6 0h0m-1 0h0m-40 1h0m37 0h0m1 0h0m6 0h0m4 0h0m13 1h0m-9 0h0m-11 0h0m-2 0h0m-46 1h0m35 0h0m22 0h0m-16 1h0m-14 1h0m4 0h0m22 0h0m9 0h0m3 0h0m9 0h0m115 1h0m-133 0h0m-31 0h0m-2 0h0m-4 0h0m-1 0h0m-13 0h0m61 1h0m-12 1h0m-22 0h0m-13 0h0m-6 0h0m-3 0h0m5 1h0m2 0h0m4 0h0m2 0h0m1 0h0m5 0h0m155 0h0m0 1h0m-1 0h0m-94 0h0m-15 0h0m-44 0h0m-2 0h0m-2 0h0m-9 0h0m-6 1h0m3 0h0m3 0h0m8 0h0m3 0h0m5 0h0m10 0h0m140 0h0m9 1h0m-7 0h0m-122 0h0m-27 0h0m-1 0h0m-19 0h0m-6 0h0m9 1h0m2 0h0m4 0h0m4 0h0m1 0h0m2 0h0m32 0h0m-35 1h0m-6 0h0m-3 0h0m-3 0h0m-3 0h0m-1 0h0m-7 0h0m2 1h0m3 0h0m2 0h0m1 0h0m4 0h0m2 0h0m1 0h0m2 0h0m25 0h0m143 1h0m-147 0h0m-23 0h0m-2 0h0m-5 0h0m-2 0h0m-2 0h0m7 1h0m1 0h0m12 0h0m1 0h0m1 0h0m1 0h0m1 0h0m-5 1h0m-2 0h0m-6 0h0m-1 0h0m-1 0h0m-2 0h0m-5 0h0m-3 0h0m-3 0h0m6 1h0m6 0h0m2 0h0m10 0h0m1 0h0m27 1h0m-25 0h0m-2 0h0m-1 0h0m-2 0h0m-3 0h0m-14 0h0m1 1h0m4 0h0m2 0h0m4 0h0m5 0h0m3 0h0m2 0h0m6 1h0m-1 0h0m-10 0h0m-14 0h0m-1 0h0m-2 0h0m-7 0h0m4 1h0m3 0h0m12 0h0m4 0h0m5 0h0m13 0h0m29 1h0m-2 0h0m-6 0h0m-21 0h0m-13 0h0m-3 0h0m-2 0h0m-13 0h0m-4 1h0m7 0h0m2 0h0m8 0h0m1 0h0m8 0h0m31 0h0m-20 1h0m-8 0h0m-8 0h0m-2 0h0m-4 0h0m-5 0h0m-1 0h0m-2 0h0m-2 0h0m-3 0h0m0 1h0m4 0h0m1 0h0m1 0h0m2 0h0m21 0h0m2 0h0m13 0h0m5 0h0m33 1h0m-28 0h0m-1 0h0m-6 0h0m-7 0h0m-30 0h0m-2 0h0m-5 0h0m-2 1h0m16 0h0m6 0h0m10 0h0m6 0h0m11 0h0m4 0h0m1 0h0m-6 1h0m-2 0h0m-9 0h0m-15 0h0m-15 0h0m-5 1h0m3 0h0m1 0h0m5 0h0m4 0h0m6 0h0m5 0h0m5 0h0m4 0h0m1 0h0m5 0h0m1 0h0m1 0h0m3 0h0m18 0h0m-20 1h0m-15 0h0m-31 0h0m3 1h0m18 0h0m12 0h0m2 0h0m12 0h0m15 0h0m-28 1h0m-29 0h0m-4 0h0m4 1h0m64 0h0m-8 3h0m-19 0h0m-11 0h0m-30 1h0m2 0h0m2 0h0m3 0h0m1 0h0m32 0h0m18 1h0m-7 0h0m-2 0h0m-44 0h0m1 1h0m33 0h0m6 0h0m1 0h0m13 0h0m-10 1h0m-2 0h0m-4 0h0m-4 0h0m-30 0h0m-5 0h0m-1 0h0m1 1h0m32 0h0m6 0h0m1 0h0m9 0h0m8 0h0m113 1h0m-120 0h0m-9 0h0m-2 0h0m-38 0h0m38 1h0m12 0h0m139 0h0m-141 1h0m-6 0h0m-1 0h0m-37 1h0m40 1h0m-35 0h0m-7 1h0m6 0h0m4 0h0m5 0h0m35 0h0m5 0h0m117 0h0m1 0h0m5 0h0m-132 1h0m-9 0h0m-26 0h0m-1 0h0m-1 0h0m-7 1h0m15 0h0m1 0h0m2 0h0m-8 1h0m-2 0h0m-7 0h0m-3 0h0m-4 0h0m11 1h0m3 0h0m6 0h0m22 0h0m23 0h0m-39 1h0m-2 0h0m-1 0h0m-4 0h0m-11 0h0m-1 1h0m3 0h0m1 0h0m2 0h0m1 0h0m6 0h0m1 0h0m7 0h0m4 0h0m40 0h0m116 0h0m-148 1h0m-17 0h0m-1 0h0m-2 0h0m-1 0h0m-6 0h0m-7 1h0m5 0h0m1 0h0m1 0h0m2 0h0m11 0h0m31 0h0m64 0h0m67 1h0m-153 0h0m-12 0h0m-10 0h0m-1 0h0m-5 0h0m-3 1h0m18 0h0m5 0h0m3 0h0m1 1h0m-2 0h0m-2 0h0m-9 0h0m-1 0h0m-14 1h0m1 0h0m5 0h0m1 0h0m2 0h0m2 0h0m4 0h0m2 0h0m1 0h0m1 0h0m3 0h0m12 0h0m6 0h0m61 0h0m-1 1h0m-67 0h0m-4 0h0m-5 0h0m-3 0h0m-3 0h0m-15 0h0m-2 0h0m-2 1h0m17 0h0m6 0h0m3 0h0m6 0h0m81 0h0m53 0h0m31 1h0m-17 0h0m-102 0h0m-53 0h0m-10 0h0m-7 0h0m-9 0h0m9 1h0m12 0h0m12 0h0m155 0h0m-3 1h0m-152 0h0m-2 0h0m-3 0h0m-2 0h0m-2 0h0m-5 0h0m-10 0h0m-2 0h0m-2 0h0m-1 0h0m-1 0h0m-2 0h0m24 1h0m2 0h0m4 0h0m3 0h0m29 0h0m53 1h0m-78 0h0m-1 0h0m-4 0h0m-3 0h0m-5 0h0m-5 0h0m-5 0h0m-3 0h0m-4 0h0m-4 0h0m-3 0h0m5 1h0m15 0h0m12 0h0m2 0h0m147 1h0m-2 0h0m-50 0h0m-1 0h0m-109 0h0m-12 0h0m-1 1h0m42 0h0m77 1h0m-117 0h0m-1 1h0m1 0h0m1 0h0m3 0h0m67 0h0m51 0h0m5 1h0m-6 0h0m-114 0h0m-6 0h0m-3 1h0m1 0h0m120 0h0m4 1h0m-102 0h0m-24 0h0m-4 0h0m36 1h0m88 0h0m8 0h0m2 0h0m-4 1h0m-3 0h0m-32 0h0m-76 0h0m63 1h0m44 0h0m7 0h0m1 1h0m-1 0h0m-121 0h0m-14 0h0m25 1h0m58 0h0m54 1h0m-1 0h0m-36 0h0m-79 1h0m116 0h0m1 1h0m-1 0h0m0 1h0m-3 1h0m-116 0h0m102 1h0m15 0h0m2 0h0m2 0h0m-7 1h0m5 1h0m-10 1h0m6 1h0m2 1h0m-1 0h0m-57 0h0m41 1h0m17 0h0m7 3h0m-6 3h0m4 3h0m-4 1h0"/><path stroke="#fbb416" d="M205 25h0m-7 1h0m-8 1h0m-15 1h0m17 0h0m-19 1h0m-3 1h0m14 0h0m11 0h0m-5 1h0m-1 0h0m-1 0h0m-1 0h0m-13 0h0m-1 1h0m1 0h0m16 0h0m9 0h0m7 0h0m-1 1h0m-4 0h0m-1 0h0m-3 0h0m-3 0h0m-1 0h0m-3 0h0m-2 0h0m-1 0h0m-2 0h0m-7 0h0m-7 1h0m3 0h0m6 0h0m2 0h0m10 0h0m3 0h0m8 0h0m10 1h0m-5 0h0m-8 0h0m-1 0h0m-2 0h0m-7 0h0m-6 0h0m-8 0h0m-3 0h0m-2 0h0m0 1h0m2 0h0m3 0h0m3 0h0m12 0h0m2 0h0m5 0h0m2 0h0m3 0h0m3 0h0m1 0h0m6 0h0m5 1h0m-14 0h0m-2 0h0m-2 0h0m-15 0h0m-2 0h0m-2 0h0m-2 0h0m-1 0h0m-1 0h0m-2 1h0m2 0h0m8 0h0m1 0h0m2 0h0m1 0h0m1 0h0m3 0h0m4 0h0m9 0h0m10 0h0m5 0h0m-6 1h0m-8 0h0m-11 0h0m-4 0h0m-1 0h0m-3 0h0m-4 0h0m-6 0h0m-2 0h0m-27 1h0m22 0h0m1 0h0m2 0h0m2 0h0m1 0h0m3 0h0m1 0h0m5 0h0m1 0h0m2 0h0m1 0h0m2 0h0m6 0h0m2 0h0m3 0h0m1 0h0m1 0h0m1 0h0m3 0h0m3 0h0m8 0h0m6 1h0m-2 0h0m-6 0h0m-4 0h0m-1 0h0m-10 0h0m-1 0h0m-5 0h0m-2 0h0m-3 0h0m-6 0h0m-2 0h0m-5 0h0m-1 0h0m-1 1h0m1 0h0m3 0h0m1 0h0m1 0h0m1 0h0m4 0h0m1 0h0m3 0h0m4 0h0m6 0h0m2 0h0m8 0h0m3 0h0m3 0h0m4 0h0m4 1h0m-4 0h0m-1 0h0m-4 0h0m-1 0h0m-3 0h0m-2 0h0m-2 0h0m-2 0h0m-1 0h0m-2 0h0m-4 0h0m-1 0h0m-6 0h0m-3 0h0m-8 0h0m-1 0h0m-3 0h0m-4 0h0m-7 1h0m11 0h0m1 0h0m3 0h0m2 0h0m2 0h0m3 0h0m5 0h0m3 0h0m3 0h0m1 0h0m2 0h0m5 0h0m1 0h0m2 0h0m6 0h0m6 0h0m-4 1h0m-4 0h0m-1 0h0m-5 0h0m-3 0h0m-2 0h0m-3 0h0m-4 0h0m-15 0h0m-2 0h0m-2 0h0m-1 0h0m-3 0h0m-2 0h0m-38 0h0m-15 0h0m0 1h0m61 0h0m8 0h0m1 0h0m3 0h0m5 0h0m6 0h0m1 0h0m2 0h0m1 0h0m4 0h0m2 0h0m3 0h0m1 0h0m2 0h0m2 0h0m-15 1h0m-5 0h0m-2 0h0m-3 0h0m-3 0h0m-2 0h0m-4 0h0m-1 0h0m-1 0h0m-7 0h0m-2 0h0m-3 0h0m3 1h0m1 0h0m1 0h0m1 0h0m1 0h0m2 0h0m3 0h0m1 0h0m9 0h0m2 0h0m4 0h0m3 0h0m2 0h0m4 0h0m2 0h0m2 0h0m13 0h0m3 0h0m-6 1h0m-1 0h0m-2 0h0m-1 0h0m-5 0h0m-2 0h0m-4 0h0m-2 0h0m-12 0h0m-5 0h0m-2 0h0m-2 0h0m-7 0h0m0 1h0m6 0h0m1 0h0m2 0h0m1 0h0m2 0h0m1 0h0m2 0h0m8 0h0m1 0h0m7 0h0m1 0h0m3 0h0m3 0h0m2 0h0m4 0h0m1 0h0m1 0h0m4 0h0m-5 1h0m-1 0h0m-1 0h0m-1 0h0m-4 0h0m-2 0h0m-8 0h0m-12 0h0m-2 0h0m-4 0h0m-1 0h0m-3 0h0m-2 0h0m-1 0h0m-1 0h0m-2 0h0m-2 0h0m-62 0h0m53 1h0m6 0h0m4 0h0m11 0h0m4 0h0m3 0h0m3 0h0m2 0h0m6 0h0m7 0h0m6 0h0m2 0h0m3 0h0m3 0h0m4 0h0m3 1h0m-3 0h0m-4 0h0m-2 0h0m-1 0h0m-1 0h0m-4 0h0m-3 0h0m-6 0h0m-1 0h0m-3 0h0m-4 0h0m-3 0h0m-1 0h0m-2 0h0m-2 0h0m-5 0h0m-2 0h0m-2 0h0m-8 0h0m-14 0h0m-57 0h0m38 1h0m28 0h0m2 0h0m1 0h0m3 0h0m2 0h0m1 0h0m3 0h0m12 0h0m7 0h0m2 0h0m2 0h0m10 0h0m5 0h0m3 0h0m1 0h0m10 0h0m-9 1h0m-3 0h0m-8 0h0m-10 0h0m-1 0h0m-5 0h0m-7 0h0m-8 0h0m-2 0h0m-3 0h0m-1 0h0m-3 0h0m-2 0h0m-58 1h0m57 0h0m4 0h0m4 0h0m1 0h0m5 0h0m4 0h0m12 0h0m1 0h0m9 0h0m6 0h0m8 0h0m2 0h0m2 0h0m6 0h0m-7 1h0m-1 0h0m-5 0h0m-2 0h0m-4 0h0m-1 0h0m-1 0h0m-16 0h0m-5 0h0m-3 0h0m-1 0h0m-1 0h0m-3 0h0m-4 0h0m-7 0h0m-25 0h0m-27 0h0m-6 1h0m2 0h0m56 0h0m4 0h0m21 0h0m1 0h0m11 0h0m1 0h0m2 0h0m2 0h0m2 0h0m2 0h0m6 0h0m4 0h0m1 0h0m3 0h0m-2 1h0m-6 0h0m-2 0h0m-3 0h0m-11 0h0m-7 0h0m-2 0h0m-4 0h0m-5 0h0m-7 0h0m-1 0h0m-2 0h0m-3 0h0m-3 0h0m6 1h0m2 0h0m2 0h0m1 0h0m2 0h0m1 0h0m2 0h0m6 0h0m3 0h0m9 0h0m1 0h0m3 0h0m1 0h0m9 0h0m7 0h0m-6 1h0m-3 0h0m-4 0h0m-1 0h0m-4 0h0m-1 0h0m-1 0h0m-1 0h0m-6 0h0m-4 0h0m-1 0h0m-3 0h0m-7 0h0m-3 0h0m-5 0h0m-3 0h0m-7 0h0m-50 0h0m-6 0h0m61 1h0m6 0h0m2 0h0m1 0h0m6 0h0m5 0h0m3 0h0m9 0h0m1 0h0m3 0h0m1 0h0m5 0h0m1 0h0m2 0h0m2 0h0m3 0h0m1 0h0m9 1h0m-6 0h0m-1 0h0m-3 0h0m-2 0h0m-2 0h0m-6 0h0m-2 0h0m-2 0h0m-2 0h0m-4 0h0m-8 0h0m-1 0h0m-3 0h0m-1 0h0m-10 0h0m-6 0h0m-1 0h0m-46 0h0m43 1h0m1 0h0m2 0h0m11 0h0m1 0h0m3 0h0m1 0h0m1 0h0m6 0h0m4 0h0m4 0h0m9 0h0m5 0h0m1 0h0m4 0h0m3 0h0m3 0h0m2 0h0m2 1h0m-6 0h0m-4 0h0m-2 0h0m-5 0h0m-2 0h0m-4 0h0m-2 0h0m-3 0h0m-8 0h0m-5 0h0m-4 0h0m-7 0h0m-10 0h0m-1 1h0m3 0h0m4 0h0m1 0h0m6 0h0m3 0h0m4 0h0m10 0h0m2 0h0m1 0h0m3 0h0m4 0h0m1 0h0m3 0h0m2 0h0m2 0h0m2 0h0m9 0h0m4 0h0m1 0h0m1 0h0m1 1h0m-3 0h0m-6 0h0m-3 0h0m-2 0h0m-3 0h0m-4 0h0m-9 0h0m-1 0h0m-4 0h0m-5 0h0m-3 0h0m-3 0h0m-3 0h0m-1 0h0m-5 0h0m-1 0h0m-2 0h0m-1 0h0m-8 0h0m-1 1h0m5 0h0m3 0h0m11 0h0m7 0h0m3 0h0m1 0h0m2 0h0m2 0h0m3 0h0m1 0h0m2 0h0m2 0h0m3 0h0m9 0h0m2 0h0m1 0h0m1 0h0m5 0h0m4 1h0m-15 0h0m-6 0h0m-2 0h0m-3 0h0m-1 0h0m-1 0h0m-1 0h0m-13 0h0m-3 0h0m-3 0h0m-1 0h0m-6 0h0m-4 0h0m-6 1h0m4 0h0m2 0h0m3 0h0m4 0h0m3 0h0m5 0h0m3 0h0m2 0h0m6 0h0m9 0h0m2 0h0m3 0h0m4 0h0m2 0h0m6 0h0m1 0h0m9 1h0m-4 0h0m-4 0h0m-1 0h0m-1 0h0m-1 0h0m-1 0h0m-1 0h0m-2 0h0m-1 0h0m-1 0h0m-4 0h0m-1 0h0m-2 0h0m-9 0h0m-1 0h0m-5 0h0m-11 0h0m-13 0h0m-2 0h0m-1 0h0m-3 0h0m7 1h0m2 0h0m1 0h0m2 0h0m2 0h0m2 0h0m3 0h0m4 0h0m9 0h0m2 0h0m4 0h0m6 0h0m6 0h0m8 0h0m5 0h0m8 0h0m1 1h0m-3 0h0m-7 0h0m-14 0h0m-4 0h0m-12 0h0m-2 0h0m-1 0h0m-11 0h0m-1 0h0m-1 0h0m-2 0h0m-4 0h0m-5 0h0m-2 0h0m-19 0h0m-69 1h0m1 0h0m54 0h0m32 0h0m1 0h0m3 0h0m4 0h0m5 0h0m3 0h0m1 0h0m2 0h0m3 0h0m5 0h0m1 0h0m6 0h0m3 0h0m2 0h0m2 0h0m2 0h0m1 0h0m1 0h0m4 0h0m1 0h0m3 0h0m19 1h0m-6 0h0m-8 0h0m-7 0h0m-1 0h0m-5 0h0m-1 0h0m-2 0h0m-6 0h0m-1 0h0m-2 0h0m-1 0h0m-2 0h0m-2 0h0m-9 0h0m-9 0h0m-3 0h0m-2 0h0m-4 0h0m-23 0h0m-17 1h0m23 0h0m20 0h0m4 0h0m2 0h0m1 0h0m1 0h0m1 0h0m9 0h0m1 0h0m4 0h0m6 0h0m11 0h0m10 0h0m2 0h0m8 0h0m18 1h0m-15 0h0m-4 0h0m-2 0h0m-9 0h0m-1 0h0m-2 0h0m-3 0h0m-1 0h0m-1 0h0m-6 0h0m-6 0h0m-1 0h0m-1 0h0m-3 0h0m-5 0h0m-1 0h0m-3 0h0m-2 0h0m-2 0h0m-4 0h0m-6 0h0m-1 0h0m-3 0h0m-7 0h0m-38 1h0m45 0h0m1 0h0m13 0h0m2 0h0m1 0h0m2 0h0m4 0h0m4 0h0m2 0h0m1 0h0m3 0h0m1 0h0m3 0h0m4 0h0m2 0h0m16 0h0m1 0h0m2 0h0m7 0h0m-7 1h0m-2 0h0m-15 0h0m-1 0h0m-3 0h0m-5 0h0m-9 0h0m-8 0h0m-5 0h0m-3 0h0m-1 0h0m-50 0h0m41 1h0m1 0h0m1 0h0m5 0h0m4 0h0m5 0h0m5 0h0m8 0h0m4 0h0m3 0h0m5 0h0m1 0h0m1 0h0m1 0h0m13 0h0m3 0h0m1 0h0m2 0h0m-5 1h0m-3 0h0m-4 0h0m-7 0h0m-1 0h0m-5 0h0m-2 0h0m-4 0h0m-4 0h0m-2 0h0m-3 0h0m-10 0h0m-6 0h0m-6 0h0m-20 0h0m-11 1h0m29 0h0m1 0h0m9 0h0m9 0h0m6 0h0m4 0h0m4 0h0m3 0h0m1 0h0m5 0h0m1 0h0m21 0h0m4 0h0m12 1h0m-14 0h0m-2 0h0m-1 0h0m-15 0h0m-2 0h0m-3 0h0m-3 0h0m-3 0h0m-3 0h0m-1 0h0m-5 0h0m-2 0h0m-5 0h0m-5 0h0m-5 0h0m-7 0h0m-2 0h0m-1 0h0m-70 1h0m69 0h0m1 0h0m2 0h0m3 0h0m3 0h0m1 0h0m2 0h0m5 0h0m5 0h0m3 0h0m3 0h0m11 0h0m8 0h0m1 0h0m1 0h0m3 0h0m2 0h0m8 0h0m1 0h0m-4 1h0m-4 0h0m-2 0h0m-7 0h0m-5 0h0m-1 0h0m-2 0h0m-1 0h0m-3 0h0m-2 0h0m-3 0h0m-1 0h0m-7 0h0m-8 0h0m-7 0h0m-33 0h0m31 1h0m1 0h0m5 0h0m2 0h0m5 0h0m1 0h0m4 0h0m4 0h0m1 0h0m2 0h0m1 0h0m2 0h0m3 0h0m1 0h0m1 0h0m2 0h0m2 0h0m1 0h0m3 0h0m6 0h0m2 0h0m4 0h0m1 0h0m1 0h0m2 0h0m2 1h0m-2 0h0m-5 0h0m-9 0h0m-1 0h0m-1 0h0m-8 0h0m-3 0h0m-2 0h0m-5 0h0m-2 0h0m-1 0h0m-5 0h0m-2 0h0m-3 0h0m-5 0h0m-2 0h0m-3 0h0m-59 1h0m56 0h0m1 0h0m4 0h0m4 0h0m7 0h0m4 0h0m9 0h0m1 0h0m10 0h0m3 0h0m7 0h0m3 1h0m-3 0h0m-9 0h0m-1 0h0m-3 0h0m-4 0h0m-1 0h0m-6 0h0m-2 0h0m-2 0h0m-7 0h0m-3 0h0m-3 0h0m-1 0h0m-1 0h0m-1 0h0m-1 0h0m-6 0h0m-7 0h0m-8 1h0m8 0h0m2 0h0m13 0h0m2 0h0m2 0h0m8 0h0m1 0h0m11 0h0m1 0h0m2 0h0m2 0h0m4 0h0m2 0h0m3 0h0m1 0h0m3 0h0m1 0h0m1 0h0m2 0h0m4 0h0m16 1h0m-16 0h0m-1 0h0m-1 0h0m-5 0h0m-4 0h0m-4 0h0m-7 0h0m-3 0h0m-5 0h0m-5 0h0m-2 0h0m-1 0h0m-1 0h0m-2 0h0m-4 0h0m-1 0h0m-2 0h0m-4 0h0m-1 0h0m-1 0h0m-1 0h0m-30 0h0m-64 0h0m2 1h0m86 0h0m3 0h0m1 0h0m3 0h0m2 0h0m1 0h0m4 0h0m6 0h0m3 0h0m3 0h0m2 0h0m4 0h0m3 0h0m3 0h0m1 0h0m1 0h0m1 0h0m6 0h0m1 0h0m4 0h0m12 0h0m14 0h0m-20 1h0m-1 0h0m-6 0h0m-2 0h0m-4 0h0m-1 0h0m-4 0h0m-1 0h0m-1 0h0m-3 0h0m-15 0h0m-2 0h0m-2 0h0m-1 0h0m-1 0h0m-3 0h0m-2 0h0m-2 0h0m-1 0h0m-6 1h0m8 0h0m3 0h0m2 0h0m1 0h0m3 0h0m1 0h0m2 0h0m3 0h0m5 0h0m1 0h0m1 0h0m1 0h0m1 0h0m1 0h0m2 0h0m5 0h0m2 0h0m1 0h0m7 0h0m1 0h0m3 0h0m1 0h0m25 0h0m-13 1h0m-7 0h0m-9 0h0m-5 0h0m-1 0h0m-4 0h0m-3 0h0m-1 0h0m-3 0h0m-1 0h0m-1 0h0m-3 0h0m-2 0h0m-2 0h0m-4 0h0m-1 0h0m-4 0h0m-6 0h0m-5 0h0m-1 0h0m-70 0h0m13 1h0m57 0h0m3 0h0m2 0h0m3 0h0m2 0h0m3 0h0m3 0h0m2 0h0m4 0h0m1 0h0m1 0h0m3 0h0m3 0h0m1 0h0m2 0h0m2 0h0m5 0h0m6 0h0m4 1h0m-5 0h0m-11 0h0m-1 0h0m-3 0h0m-2 0h0m-2 0h0m-3 0h0m-2 0h0m-15 0h0m-4 0h0m-34 0h0m-49 0h0m9 1h0m4 0h0m65 0h0m6 0h0m8 0h0m2 0h0m2 0h0m2 0h0m7 0h0m4 0h0m2 0h0m2 0h0m2 0h0m7 0h0m1 0h0m41 1h0m-28 0h0m-5 0h0m-2 0h0m-5 0h0m-4 0h0m-3 0h0m-6 0h0m-2 0h0m-4 0h0m-6 0h0m-5 0h0m-2 0h0m-5 0h0m-7 0h0m-30 0h0m-1 0h0m-33 0h0m51 1h0m8 0h0m5 0h0m3 0h0m5 0h0m1 0h0m4 0h0m2 0h0m3 0h0m2 0h0m1 0h0m1 0h0m1 0h0m3 0h0m9 0h0m3 0h0m2 0h0m2 0h0m3 0h0m1 0h0m3 0h0m-4 1h0m-3 0h0m-3 0h0m-2 0h0m-14 0h0m-4 0h0m-4 0h0m-4 0h0m-3 0h0m-1 0h0m-4 0h0m-3 0h0m-6 0h0m-77 1h0m74 0h0m3 0h0m10 0h0m13 0h0m10 0h0m2 0h0m7 0h0m6 0h0m2 0h0m2 0h0m7 1h0m-10 0h0m-3 0h0m-8 0h0m-2 0h0m-1 0h0m-2 0h0m-4 0h0m-4 0h0m-9 0h0m-1 0h0m-6 0h0m-5 0h0m-1 0h0m-4 0h0m-13 0h0m-61 1h0m33 0h0m14 0h0m17 0h0m6 0h0m4 0h0m3 0h0m8 0h0m3 0h0m11 0h0m4 0h0m1 0h0m3 0h0m2 0h0m11 0h0m4 0h0m26 0h0m-37 1h0m-2 0h0m-1 0h0m-6 0h0m-2 0h0m-4 0h0m-1 0h0m-5 0h0m-1 0h0m-1 0h0m-4 0h0m-2 0h0m-3 0h0m-3 0h0m-9 0h0m-26 1h0m7 0h0m4 0h0m13 0h0m2 0h0m4 0h0m4 0h0m4 0h0m4 0h0m1 0h0m2 0h0m2 0h0m1 0h0m2 0h0m6 0h0m3 0h0m2 0h0m2 0h0m8 0h0m1 0h0m2 0h0m1 0h0m6 0h0m-8 1h0m-1 0h0m-6 0h0m-2 0h0m-1 0h0m-4 0h0m-5 0h0m-4 0h0m-1 0h0m-9 0h0m-1 0h0m-3 0h0m-1 0h0m-13 0h0m-68 0h0m14 1h0m32 0h0m24 0h0m6 0h0m2 0h0m2 0h0m5 0h0m1 0h0m2 0h0m7 0h0m2 0h0m2 0h0m2 0h0m5 0h0m1 0h0m1 0h0m3 0h0m4 0h0m2 0h0m1 0h0m20 1h0m-19 0h0m-2 0h0m-3 0h0m-1 0h0m-13 0h0m-3 0h0m-1 0h0m-9 0h0m-1 0h0m-3 0h0m-2 0h0m-3 0h0m-1 0h0m-5 0h0m-11 0h0m-15 0h0m-60 0h0m81 1h0m1 0h0m1 0h0m2 0h0m7 0h0m7 0h0m1 0h0m8 0h0m6 0h0m1 0h0m2 0h0m1 0h0m1 0h0m5 0h0m5 0h0m1 0h0m5 0h0m-2 1h0m-6 0h0m-1 0h0m-13 0h0m-4 0h0m-2 0h0m-2 0h0m-4 0h0m-4 0h0m-1 0h0m-7 0h0m-1 0h0m-4 0h0m-1 0h0m-1 0h0m-63 0h0m65 1h0m6 0h0m4 0h0m4 0h0m5 0h0m4 0h0m1 0h0m2 0h0m5 0h0m1 0h0m10 0h0m32 0h0m22 1h0m-48 0h0m-4 0h0m-1 0h0m-9 0h0m-3 0h0m-5 0h0m-2 0h0m-5 0h0m-4 0h0m-2 0h0m-2 0h0m-5 0h0m-5 0h0m-1 0h0m-1 0h0m-4 0h0m-4 0h0m-5 1h0m7 0h0m3 0h0m4 0h0m3 0h0m9 0h0m14 0h0m2 0h0m8 0h0m1 0h0m3 0h0m4 0h0m3 0h0m37 0h0m-45 1h0m-1 0h0m-3 0h0m-1 0h0m-1 0h0m-2 0h0m-1 0h0m-1 0h0m-6 0h0m-6 0h0m-3 0h0m-7 0h0m-5 0h0m-6 0h0m-1 0h0m1 1h0m11 0h0m8 0h0m2 0h0m1 0h0m3 0h0m1 0h0m1 0h0m1 0h0m2 0h0m3 0h0m1 0h0m2 0h0m9 0h0m61 0h0m1 1h0m-11 0h0m-54 0h0m-16 0h0m-1 0h0m-2 0h0m-1 0h0m-2 0h0m-1 0h0m-2 0h0m-5 0h0m-3 0h0m-1 0h0m-1 0h0m-3 0h0m-1 0h0m-8 0h0m-74 1h0m75 0h0m8 0h0m1 0h0m7 0h0m3 0h0m9 0h0m2 0h0m6 0h0m2 0h0m3 0h0m2 0h0m5 0h0m14 0h0m-15 1h0m-3 0h0m-4 0h0m-2 0h0m-4 0h0m-4 0h0m-3 0h0m-5 0h0m-3 0h0m-3 0h0m-2 0h0m-4 0h0m-7 0h0m-3 0h0m1 1h0m3 0h0m2 0h0m3 0h0m1 0h0m3 0h0m4 0h0m3 0h0m1 0h0m5 0h0m3 0h0m1 0h0m3 0h0m1 0h0m1 0h0m1 0h0m6 0h0m3 0h0m3 0h0m17 0h0m45 1h0m-17 0h0m-23 0h0m-37 0h0m-3 0h0m-2 0h0m-2 0h0m-9 0h0m-8 0h0m-7 0h0m-37 0h0m-6 0h0m-15 1h0m53 0h0m4 0h0m4 0h0m4 0h0m7 0h0m8 0h0m3 0h0m11 0h0m4 0h0m44 1h0m-21 0h0m-25 0h0m-4 0h0m-3 0h0m-2 0h0m-1 0h0m-1 0h0m-3 0h0m-8 0h0m-8 0h0m-5 0h0m-8 0h0m9 1h0m5 0h0m2 0h0m5 0h0m1 0h0m12 0h0m3 0h0m1 0h0m1 0h0m2 0h0m1 0h0m1 0h0m7 1h0m-13 0h0m-4 0h0m-2 0h0m-3 0h0m-2 0h0m-2 0h0m-1 0h0m-3 0h0m-2 0h0m-2 0h0m-3 0h0m-2 0h0m-1 0h0m-1 0h0m-1 0h0m-2 0h0m-3 0h0m-3 1h0m4 0h0m2 0h0m1 0h0m3 0h0m1 0h0m1 0h0m1 0h0m3 0h0m1 0h0m2 0h0m2 0h0m1 0h0m6 0h0m2 0h0m5 0h0m1 0h0m2 0h0m27 0h0m3 0h0m-29 1h0m-12 0h0m-5 0h0m-3 0h0m-2 0h0m-2 0h0m-1 0h0m-4 0h0m-5 0h0m-1 0h0m-1 0h0m-1 0h0m-1 0h0m-1 0h0m-55 0h0m59 1h0m6 0h0m6 0h0m6 0h0m5 0h0m6 0h0m2 0h0m33 0h0m-30 1h0m-7 0h0m-8 0h0m-2 0h0m-8 0h0m-1 0h0m-1 0h0m-3 0h0m-1 0h0m-4 0h0m-15 0h0m-58 1h0m52 0h0m23 0h0m2 0h0m2 0h0m1 0h0m5 0h0m2 0h0m2 0h0m3 0h0m1 0h0m3 0h0m2 0h0m7 0h0m-2 1h0m-2 0h0m-6 0h0m-6 0h0m-1 0h0m-1 0h0m-3 0h0m-1 0h0m-3 0h0m-4 0h0m-2 0h0m-2 0h0m-1 0h0m-15 0h0m16 1h0m5 0h0m2 0h0m1 0h0m2 0h0m4 0h0m3 0h0m5 0h0m2 0h0m7 0h0m25 0h0m59 0h0m4 1h0m-46 0h0m-33 0h0m-1 0h0m-6 0h0m-3 0h0m-2 0h0m-6 0h0m-5 0h0m-3 0h0m-1 0h0m-1 0h0m-2 0h0m-2 0h0m-2 0h0m-4 0h0m-3 0h0m-33 1h0m36 0h0m1 0h0m1 0h0m1 0h0m3 0h0m6 0h0m2 0h0m1 0h0m4 0h0m1 0h0m3 0h0m4 0h0m60 0h0m4 0h0m26 0h0m-49 1h0m-42 0h0m-4 0h0m-3 0h0m-4 0h0m-1 0h0m-1 0h0m-11 0h0m-5 0h0m-62 1h0m67 0h0m6 0h0m6 0h0m1 0h0m2 0h0m4 0h0m2 0h0m6 0h0m86 0h0m1 0h0m3 1h0m-4 0h0m-87 0h0m-7 0h0m-6 0h0m-1 0h0m-3 0h0m-3 0h0m-5 0h0m-1 0h0m-1 0h0m-1 0h0m-3 0h0m2 1h0m1 0h0m2 0h0m1 0h0m1 0h0m3 0h0m1 0h0m4 0h0m8 0h0m2 0h0m3 0h0m47 0h0m43 1h0m-12 0h0m-7 0h0m-13 0h0m-3 0h0m-16 0h0m-18 0h0m-21 0h0m-2 0h0m-5 0h0m-1 0h0m-5 0h0m-3 0h0m-5 0h0m-5 0h0m-1 0h0m-11 1h0m10 0h0m2 0h0m2 0h0m4 0h0m1 0h0m1 0h0m4 0h0m1 0h0m2 0h0m1 0h0m1 0h0m1 0h0m1 0h0m6 0h0m5 0h0m4 0h0m16 0h0m7 0h0m23 0h0m24 0h0m-25 1h0m-23 0h0m-23 0h0m-17 0h0m-2 0h0m-1 0h0m-2 0h0m-1 0h0m-6 0h0m-2 1h0m5 0h0m6 0h0m1 0h0m1 0h0m1 0h0m1 0h0m1 0h0m1 0h0m6 0h0m18 0h0m12 0h0m17 0h0m35 0h0m-92 1h0m-2 0h0m-6 0h0m-6 0h0m-4 0h0m-42 0h0m-25 1h0m35 0h0m33 0h0m4 0h0m1 0h0m11 0h0m14 0h0m89 1h0m-86 0h0m-10 0h0m-1 0h0m-8 0h0m-1 0h0m-3 0h0m-5 0h0m-3 0h0m-1 0h0m-1 0h0m-2 0h0m-5 1h0m4 0h0m8 0h0m2 0h0m5 0h0m2 0h0m4 0h0m9 0h0m43 0h0m11 0h0m26 0h0m3 0h0m7 0h0m1 0h0m2 0h0m0 1h0m-11 0h0m-96 0h0m-1 0h0m-1 0h0m-3 0h0m-1 0h0m-9 0h0m-1 0h0m-16 0h0m-28 1h0m2 0h0m30 0h0m14 0h0m4 0h0m2 0h0m1 0h0m46 0h0m7 0h0m62 0h0m4 0h0m-74 1h0m-33 0h0m-14 0h0m-6 0h0m-3 0h0m-1 0h0m2 1h0m10 0h0m6 0h0m12 0h0m1 0h0m20 0h0m70 0h0m4 0h0m0 1h0m-20 0h0m-26 0h0m-28 0h0m-4 0h0m-13 0h0m-2 0h0m-4 0h0m-6 0h0m-11 0h0m-16 1h0m2 0h0m15 0h0m1 0h0m30 0h0m8 0h0m2 0h0m60 0h0m12 1h0m-2 0h0m-86 0h0m-5 0h0m-7 0h0m-14 0h0m-1 0h0m-4 0h0m-10 1h0m1 0h0m7 0h0m2 0h0m8 0h0m4 0h0m20 0h0m37 0h0m30 0h0m19 0h0m2 1h0m-101 0h0m-19 0h0m-1 0h0m-9 0h0m25 1h0m1 0h0m103 0h0m-2 1h0m-10 0h0m-20 0h0m-72 0h0m-4 0h0m-12 0h0m-1 0h0m-1 0h0m-3 0h0m-13 0h0m29 1h0m27 0h0m86 0h0m-5 1h0m-104 0h0m-8 0h0m-2 0h0m-22 1h0m10 0h0m22 0h0m17 0h0m50 0h0m15 0h0m24 1h0m-8 0h0m-18 0h0m-6 0h0m-14 0h0m-62 0h0m-6 0h0m-2 0h0m-2 0h0m-2 0h0m-9 1h0m1 0h0m17 0h0m88 0h0m13 0h0m-60 1h0m-45 0h0m-1 0h0m-4 0h0m-4 0h0m-9 1h0m6 0h0m2 0h0m12 0h0m4 0h0m100 0h0m8 1h0m-121 0h0m-8 0h0m-4 0h0m8 1h0m3 0h0m6 0h0m8 0h0m3 0h0m106 1h0m-103 0h0m-7 0h0m-2 0h0m-4 0h0m-2 0h0m-47 0h0m50 1h0m4 0h0m3 0h0m13 0h0m-14 1h0m-11 0h0m-10 0h0m6 1h0m5 0h0m3 0h0m4 0h0m18 0h0m10 0h0m87 1h0m-16 0h0m-25 0h0m-10 0h0m-70 0h0m-44 1h0m24 0h0m22 0h0m1 0h0m13 0h0m65 0h0m30 1h0m-3 0h0m-96 0h0m-46 0h0m-20 1h0m51 0h0m1 0h0m8 0h0m4 0h0m2 1h0m-8 0h0m-2 0h0m-2 0h0m-4 0h0m-35 1h0m37 0h0m5 0h0m3 0h0m96 1h0m-93 0h0m-4 0h0m-1 0h0m-7 0h0m-9 0h0m-23 1h0m43 0h0m7 0h0m9 0h0m18 0h0m6 0h0m7 0h0m49 1h0m-5 0h0m-90 0h0m-1 0h0m-13 0h0m-18 0h0m-19 0h0m7 1h0m75 0h0m72 1h0m-103 0h0m-31 0h0m13 1h0m3 0h0m2 0h0m70 0h0m66 1h0m-128 0h0m-7 0h0m-1 0h0m-50 0h0m7 1h0m17 0h0m3 0h0m14 0h0m24 0h0m74 1h0m-23 0h0m-49 0h0m-47 1h0m7 0h0m16 0h0m1 0h0m1 0h0m6 0h0m2 0h0m22 0h0m21 0h0m61 0h0m1 0h0m11 1h0m-113 0h0m-2 0h0m-4 0h0m-11 0h0m-4 0h0m11 1h0m7 0h0m11 0h0m1 0h0m11 0h0m30 0h0m51 0h0m1 1h0m-103 0h0m-5 0h0m-5 0h0m-3 0h0m-11 0h0m12 1h0m8 0h0m7 0h0m36 1h0m-63 1h0m2 0h0m6 0h0m20 0h0m-1 1h0m-10 0h0m-44 0h0m50 1h0m37 0h0m11 0h0m54 0h0m-90 1h0m-9 0h0m-6 0h0m-8 0h0m-11 0h0m2 1h0m8 0h0m6 0h0m5 0h0m67 0h0m-61 1h0m-2 0h0m-9 0h0m-3 1h0m2 0h0m9 0h0m65 0h0m59 1h0m-44 0h0m-84 0h0m-14 0h0m16 1h0m127 0h0m3 0h0m8 0h0m-66 1h0m-68 0h0m-4 1h0m7 0h0m120 0h0m5 0h0m1 0h0m2 0h0m-4 1h0m-95 0h0m-43 0h0m12 1h0m80 0h0m1 0h0m39 0h0m23 1h0m-6 0h0m-2 0h0m-2 0h0m-3 0h0m-1 0h0m-2 0h0m-45 0h0m-89 0h0m-8 0h0m-25 1h0m30 0h0m6 0h0m124 0h0m6 0h0m1 0h0m3 0h0m1 0h0m1 1h0m-2 0h0m-1 0h0m-2 0h0m-3 0h0m-44 0h0m-70 0h0m-13 0h0m-10 0h0m-33 0h0m-7 0h0m16 1h0m31 0h0m20 0h0m12 0h0m16 0h0m35 0h0m42 0h0m12 0h0m13 1h0m-13 0h0m-10 0h0m-1 0h0m-154 1h0m22 0h0m11 0h0m19 0h0m12 0h0m24 0h0m66 0h0m2 0h0m7 0h0m2 0h0m16 0h0m-8 1h0m-2 0h0m-4 0h0m-2 0h0m-1 0h0m-1 0h0m-14 0h0m-2 0h0m-72 0h0m-19 0h0m-40 1h0m5 0h0m86 0h0m33 0h0m14 0h0m8 0h0m7 0h0m1 0h0m2 0h0m5 1h0m-3 0h0m-2 0h0m-5 0h0m-7 0h0m-160 0h0m-12 0h0m10 1h0m147 0h0m1 0h0m20 0h0m2 0h0m3 0h0m8 1h0m-7 0h0m-1 0h0m-1 0h0m-2 0h0m-7 0h0m-12 0h0m-5 0h0m-3 0h0m-30 0h0m-14 0h0m-28 0h0m-61 0h0m-12 0h0m-15 1h0m3 0h0m25 0h0m58 0h0m77 0h0m16 0h0m7 0h0m3 0h0m12 1h0m-10 0h0m-6 0h0m-1 0h0m-8 0h0m-64 0h0m-16 0h0m-93 0h0m4 1h0m66 0h0m27 0h0m81 0h0m5 0h0m3 0h0m3 0h0m2 0h0m0 1h0m-3 0h0m-12 0h0m-11 0h0m-3 0h0m-68 0h0m-25 0h0m-37 0h0m-33 0h0m13 1h0m9 0h0m39 0h0m96 0h0m5 0h0m8 0h0m1 0h0m1 0h0m3 0h0m2 0h0m1 0h0m3 0h0m7 0h0m3 0h0m3 0h0m-7 1h0m-5 0h0m-8 0h0m-7 0h0m-6 0h0m-1 0h0m-85 0h0m-68 0h0m-3 0h0m7 1h0m14 0h0m67 0h0m73 0h0m6 0h0m5 0h0m3 0h0m4 0h0m2 0h0m2 0h0m1 0h0m2 0h0m2 1h0m-3 0h0m-9 0h0m-1 0h0m-5 0h0m-2 0h0m-5 0h0m-2 0h0m-3 1h0m7 0h0m1 0h0m9 0h0m2 0h0m7 0h0m3 1h0m-3 0h0m-7 0h0m-3 0h0m-2 0h0m-10 0h0m-6 0h0m-94 0h0m-44 0h0m-14 0h0m-8 1h0m4 0h0m26 0h0m29 0h0m105 0h0m15 0h0m1 0h0m1 0h0m1 0h0m1 0h0m4 0h0m1 0h0m6 1h0m-9 0h0m-6 0h0m-3 0h0m-157 1h0m2 0h0m41 0h0m111 0h0m9 0h0m2 0h0m6 0h0m5 0h0m-6 1h0m-4 0h0m-3 0h0m-2 0h0m-6 0h0m-1 0h0m-145 0h0m-1 0h0m-8 0h0m-2 0h0m-6 0h0m-2 1h0m6 0h0m104 0h0m58 0h0m11 0h0m1 0h0m3 1h0m-6 0h0m-9 0h0m-2 0h0m-49 0h0m-1 0h0m-96 0h0m-4 0h0m-6 0h0m-1 0h0m-2 0h0m-1 0h0m-2 0h0m-6 0h0m10 1h0m3 0h0m3 0h0m2 0h0m8 0h0m34 0h0m115 0h0m5 0h0m-7 1h0m-3 0h0m-6 0h0m-119 0h0m-28 0h0m-2 0h0m-5 0h0m-1 0h0m-4 0h0m-10 0h0m17 1h0m10 0h0m2 0h0m142 0h0m2 0h0m3 0h0m12 1h0m-162 0h0m-2 0h0m-5 0h0m-4 0h0m-7 0h0m-1 0h0m-4 0h0m7 1h0m7 0h0m3 0h0m106 0h0m33 0h0m-37 1h0m-114 0h0m-2 1h0m4 0h0m6 0h0m10 1h0m-9 0h0m-6 0h0m-1 0h0m8 1h0m74 0h0m48 0h0m-76 1h0m-10 0h0m-36 0h0m-1 0h0m-1 0h0m-3 0h0m5 1h0m2 0h0m1 0h0m106 0h0m3 1h0m-83 1h0m83 0h0m7 0h0m-73 6h0m9 1h0m63 1h0m-3 2h0"/><path stroke="#9c9c9c" d="M200 44h0m-8 8h0m16 23h0m26 4h0m1 5h0m12 4h0m-12 2h0m15 3h0m-1 0h0m-40 1h0m25 0h0m7 0h0m9 0h0m2 0h0m2 1h0m-8 0h0m-1 0h0m-1 0h0m-7 0h0m0 1h0m7 0h0m2 0h0m8 0h0m2 1h0m-2 0h0m-5 0h0m-1 0h0m-2 0h0m-6 0h0m-6 0h0m-42 0h0m-10 0h0m53 1h0m1 0h0m8 0h0m15 1h0m-1 0h0m-5 0h0m-3 0h0m-1 0h0m-1 0h0m-2 0h0m-2 0h0m-2 0h0m-6 0h0m-2 1h0m4 0h0m4 0h0m1 0h0m12 0h0m7 0h0m-3 1h0m-2 0h0m-1 0h0m-11 0h0m-1 0h0m-5 0h0m-2 0h0m-5 0h0m-2 0h0m-2 0h0m-1 1h0m6 0h0m2 0h0m17 0h0m8 0h0m1 0h0m-5 1h0m-2 0h0m-4 0h0m-1 0h0m-7 0h0m-7 0h0m-4 0h0m-6 0h0m0 1h0m2 0h0m5 0h0m1 0h0m6 0h0m2 0h0m5 0h0m4 0h0m2 0h0m2 0h0m5 0h0m2 1h0m-3 0h0m-2 0h0m-3 0h0m-8 0h0m-1 0h0m-4 0h0m-4 0h0m-3 0h0m-4 0h0m-5 1h0m2 0h0m3 0h0m5 0h0m2 0h0m1 0h0m5 0h0m6 0h0m3 0h0m1 0h0m5 0h0m3 0h0m1 0h0m2 0h0m0 1h0m-1 0h0m-12 0h0m-6 0h0m-2 0h0m-4 0h0m-2 0h0m-5 0h0m-1 0h0m-26 0h0m13 1h0m5 0h0m5 0h0m4 0h0m1 0h0m1 0h0m3 0h0m9 0h0m5 0h0m1 0h0m3 0h0m1 0h0m2 0h0m4 0h0m5 0h0m-4 1h0m-1 0h0m-2 0h0m-6 0h0m-11 0h0m-1 0h0m-6 0h0m-5 0h0m-3 0h0m-1 0h0m-9 1h0m5 0h0m1 0h0m1 0h0m4 0h0m5 0h0m9 0h0m9 0h0m5 0h0m7 0h0m1 0h0m-5 1h0m-3 0h0m-1 0h0m-1 0h0m-1 0h0m-2 0h0m-2 0h0m-7 0h0m-8 0h0m-1 0h0m-1 0h0m-1 0h0m-7 0h0m-1 0h0m-1 0h0m-6 0h0m2 1h0m3 0h0m1 0h0m2 0h0m15 0h0m1 0h0m11 0h0m2 0h0m9 0h0m1 0h0m-1 1h0m-7 0h0m-1 0h0m-4 0h0m-1 0h0m-3 0h0m-5 0h0m-3 0h0m-2 0h0m-3 0h0m-6 0h0m-1 0h0m-4 0h0m-2 0h0m-2 0h0m-1 1h0m3 0h0m1 0h0m4 0h0m3 0h0m11 0h0m5 0h0m5 0h0m1 0h0m7 0h0m3 0h0m1 0h0m5 0h0m-8 1h0m-2 0h0m-1 0h0m-4 0h0m-3 0h0m-1 0h0m-1 0h0m-1 0h0m-2 0h0m-1 0h0m-4 0h0m-3 0h0m-2 0h0m-1 0h0m-5 0h0m-11 0h0m-5 1h0m2 0h0m8 0h0m2 0h0m1 0h0m5 0h0m8 0h0m1 0h0m1 0h0m1 0h0m1 0h0m1 0h0m2 0h0m3 0h0m3 0h0m7 0h0m2 0h0m5 1h0m-7 0h0m-2 0h0m-2 0h0m-1 0h0m-1 0h0m-1 0h0m-4 0h0m-5 0h0m-1 0h0m-3 0h0m-3 0h0m-1 0h0m-7 0h0m-3 0h0m-1 0h0m-8 0h0m-5 0h0m-49 0h0m48 1h0m7 0h0m5 0h0m5 0h0m1 0h0m1 0h0m2 0h0m3 0h0m4 0h0m9 0h0m2 0h0m7 0h0m2 0h0m3 0h0m1 0h0m1 0h0m1 0h0m-10 1h0m-1 0h0m-1 0h0m-1 0h0m-5 0h0m-1 0h0m-3 0h0m-6 0h0m-4 0h0m-1 0h0m-1 0h0m-12 0h0m-1 0h0m-9 0h0m-2 1h0m1 0h0m6 0h0m13 0h0m3 0h0m1 0h0m2 0h0m1 0h0m3 0h0m5 0h0m5 0h0m3 0h0m6 0h0m1 0h0m1 0h0m1 0h0m2 0h0m6 1h0m-6 0h0m-4 0h0m-3 0h0m-1 0h0m-5 0h0m-2 0h0m-4 0h0m-1 0h0m-5 0h0m-5 0h0m-5 0h0m-3 0h0m-5 0h0m-2 0h0m-3 0h0m-8 0h0m2 1h0m3 0h0m3 0h0m2 0h0m1 0h0m6 0h0m5 0h0m10 0h0m1 0h0m1 0h0m3 0h0m4 0h0m7 0h0m2 0h0m2 0h0m1 0h0m3 0h0m1 0h0m4 0h0m1 0h0m4 0h0m-4 1h0m-2 0h0m-1 0h0m-3 0h0m-3 0h0m-3 0h0m-1 0h0m-4 0h0m-6 0h0m-4 0h0m-5 0h0m-1 0h0m-2 0h0m-1 0h0m-1 0h0m-2 0h0m-1 0h0m-1 0h0m-2 0h0m-4 0h0m-2 0h0m-2 0h0m-3 0h0m-7 0h0m-1 1h0m3 0h0m5 0h0m4 0h0m6 0h0m1 0h0m8 0h0m2 0h0m2 0h0m1 0h0m7 0h0m2 0h0m8 0h0m8 0h0m5 0h0m-2 1h0m-1 0h0m-3 0h0m-2 0h0m-1 0h0m-3 0h0m-4 0h0m-5 0h0m-11 0h0m-3 0h0m-4 0h0m-4 0h0m-1 0h0m-3 0h0m-2 0h0m-3 0h0m-3 0h0m-4 0h0m-2 0h0m-1 1h0m5 0h0m2 0h0m1 0h0m4 0h0m3 0h0m2 0h0m2 0h0m4 0h0m1 0h0m2 0h0m10 0h0m4 0h0m6 0h0m11 0h0m1 0h0m-3 1h0m-3 0h0m-1 0h0m-5 0h0m-1 0h0m-1 0h0m-8 0h0m-4 0h0m-1 0h0m-16 0h0m-4 0h0m-1 0h0m-3 0h0m-2 0h0m-1 0h0m-9 1h0m2 0h0m1 0h0m7 0h0m12 0h0m2 0h0m4 0h0m3 0h0m1 0h0m22 0h0m7 0h0m2 0h0m3 0h0m-10 1h0m-10 0h0m-4 0h0m-1 0h0m-1 0h0m-1 0h0m-1 0h0m-1 0h0m-6 0h0m-6 0h0m-1 0h0m-4 0h0m-1 0h0m-1 0h0m-6 0h0m-1 0h0m-4 0h0m-1 0h0m-11 0h0m-1 1h0m4 0h0m2 0h0m2 0h0m2 0h0m2 0h0m1 0h0m3 0h0m6 0h0m2 0h0m2 0h0m1 0h0m1 0h0m1 0h0m4 0h0m2 0h0m3 0h0m3 0h0m1 0h0m2 0h0m2 0h0m5 0h0m5 0h0m3 0h0m2 0h0m1 0h0m2 0h0m1 0h0m1 0h0m1 0h0m9 0h0m-9 1h0m-4 0h0m-1 0h0m-5 0h0m-6 0h0m-2 0h0m-2 0h0m-1 0h0m-3 0h0m-3 0h0m-2 0h0m-4 0h0m-11 0h0m-1 0h0m-3 0h0m-6 0h0m-9 0h0m-2 0h0m-2 0h0m-1 0h0m-22 1h0m34 0h0m4 0h0m3 0h0m4 0h0m4 0h0m2 0h0m4 0h0m9 0h0m1 0h0m1 0h0m1 0h0m4 0h0m5 0h0m1 0h0m1 0h0m1 0h0m1 0h0m3 0h0m9 0h0m1 0h0m0 1h0m-1 0h0m-7 0h0m-3 0h0m-3 0h0m-3 0h0m-9 0h0m-4 0h0m-10 0h0m-1 0h0m-1 0h0m-2 0h0m-4 0h0m-6 0h0m-2 0h0m-1 0h0m-4 0h0m-1 0h0m-5 0h0m-42 0h0m37 1h0m4 0h0m1 0h0m1 0h0m1 0h0m17 0h0m6 0h0m2 0h0m2 0h0m2 0h0m2 0h0m2 0h0m5 0h0m13 0h0m5 0h0m2 0h0m16 0h0m-12 1h0m-2 0h0m-2 0h0m-9 0h0m-3 0h0m-1 0h0m-4 0h0m-1 0h0m-1 0h0m-1 0h0m-5 0h0m-3 0h0m-1 0h0m-6 0h0m-4 0h0m-2 0h0m-4 0h0m-1 0h0m-10 0h0m-1 0h0m-5 0h0m-8 0h0m-23 1h0m35 0h0m3 0h0m4 0h0m2 0h0m1 0h0m3 0h0m2 0h0m1 0h0m3 0h0m1 0h0m4 0h0m3 0h0m3 0h0m1 0h0m3 0h0m4 0h0m1 0h0m2 0h0m2 0h0m3 0h0m2 0h0m5 0h0m1 0h0m4 0h0m4 0h0m3 0h0m1 0h0m6 0h0m-15 1h0m-2 0h0m-8 0h0m-2 0h0m-1 0h0m-2 0h0m-1 0h0m-2 0h0m-1 0h0m-5 0h0m-2 0h0m-1 0h0m-1 0h0m-2 0h0m-1 0h0m-2 0h0m-2 0h0m-2 0h0m-2 0h0m-6 0h0m-6 0h0m-1 0h0m-3 0h0m-1 0h0m-1 0h0m-1 0h0m-3 0h0m-1 0h0m-11 0h0m-26 0h0m-2 0h0m38 1h0m1 0h0m1 0h0m5 0h0m1 0h0m1 0h0m2 0h0m1 0h0m8 0h0m1 0h0m2 0h0m4 0h0m18 0h0m1 0h0m2 0h0m5 0h0m4 0h0m1 0h0m2 0h0m1 0h0m3 0h0m2 1h0m-2 0h0m-5 0h0m-4 0h0m-5 0h0m-6 0h0m-1 0h0m-3 0h0m-2 0h0m-2 0h0m-8 0h0m-1 0h0m-2 0h0m-2 0h0m-10 0h0m-4 0h0m-7 0h0m-6 0h0m7 1h0m1 0h0m6 0h0m4 0h0m1 0h0m1 0h0m4 0h0m1 0h0m2 0h0m1 0h0m1 0h0m2 0h0m7 0h0m1 0h0m1 0h0m1 0h0m6 0h0m3 0h0m2 0h0m1 0h0m1 0h0m1 0h0m3 0h0m1 0h0m1 0h0m4 0h0m6 1h0m-4 0h0m-3 0h0m-1 0h0m-4 0h0m-3 0h0m-1 0h0m-1 0h0m-3 0h0m-2 0h0m-1 0h0m-1 0h0m-3 0h0m-1 0h0m-3 0h0m-3 0h0m-4 0h0m-1 0h0m-9 0h0m-6 0h0m-1 0h0m-2 0h0m-3 0h0m-2 0h0m-3 0h0m-5 0h0m8 1h0m6 0h0m2 0h0m1 0h0m5 0h0m2 0h0m2 0h0m1 0h0m4 0h0m3 0h0m3 0h0m1 0h0m2 0h0m1 0h0m2 0h0m1 0h0m3 0h0m1 0h0m1 0h0m5 0h0m1 0h0m4 0h0m4 0h0m1 0h0m2 0h0m3 0h0m23 0h0m-6 1h0m-17 0h0m-1 0h0m-6 0h0m-1 0h0m-1 0h0m-8 0h0m-2 0h0m-2 0h0m-5 0h0m-3 0h0m-15 0h0m-5 0h0m-4 0h0m-2 0h0m-1 0h0m-8 0h0m-1 0h0m-3 0h0m-2 1h0m2 0h0m4 0h0m3 0h0m1 0h0m1 0h0m4 0h0m1 0h0m2 0h0m1 0h0m5 0h0m2 0h0m3 0h0m2 0h0m2 0h0m11 0h0m3 0h0m2 0h0m1 0h0m7 0h0m1 0h0m2 0h0m1 0h0m3 0h0m2 0h0m2 0h0m3 0h0m2 0h0m1 0h0m1 0h0m13 0h0m-12 1h0m-4 0h0m-2 0h0m-7 0h0m-1 0h0m-1 0h0m-1 0h0m-3 0h0m-2 0h0m-1 0h0m-1 0h0m-5 0h0m-11 0h0m-10 0h0m-5 0h0m-4 0h0m-6 0h0m-3 0h0m-3 0h0m-1 0h0m-1 0h0m-1 0h0m-2 1h0m3 0h0m5 0h0m1 0h0m4 0h0m1 0h0m1 0h0m3 0h0m1 0h0m1 0h0m1 0h0m1 0h0m1 0h0m4 0h0m1 0h0m8 0h0m1 0h0m2 0h0m4 0h0m2 0h0m3 0h0m1 0h0m1 0h0m6 0h0m1 0h0m5 0h0m2 0h0m3 0h0m2 0h0m3 0h0m2 0h0m4 0h0m8 0h0m3 1h0m-6 0h0m-3 0h0m-3 0h0m-5 0h0m-1 0h0m-1 0h0m-2 0h0m-6 0h0m-2 0h0m-2 0h0m-1 0h0m-1 0h0m-1 0h0m-3 0h0m-1 0h0m-2 0h0m-2 0h0m-2 0h0m-4 0h0m-3 0h0m-3 0h0m-2 0h0m-3 0h0m-12 0h0m-1 0h0m-6 0h0m-7 0h0m-2 0h0m-1 0h0m-1 0h0m-1 0h0m-2 0h0m-1 0h0m-18 0h0m20 1h0m3 0h0m4 0h0m2 0h0m4 0h0m8 0h0m6 0h0m2 0h0m10 0h0m4 0h0m1 0h0m1 0h0m4 0h0m3 0h0m1 0h0m2 0h0m16 0h0m2 0h0m1 0h0m1 1h0m-1 0h0m-5 0h0m-1 0h0m-2 0h0m-4 0h0m-3 0h0m-5 0h0m-2 0h0m-7 0h0m-3 0h0m-2 0h0m-1 0h0m-1 0h0m-1 0h0m-2 0h0m-3 0h0m-1 0h0m-4 0h0m-2 0h0m-2 0h0m-3 0h0m-3 0h0m-9 0h0m-1 0h0m-5 0h0m-4 0h0m-9 1h0m9 0h0m1 0h0m4 0h0m1 0h0m1 0h0m1 0h0m7 0h0m1 0h0m2 0h0m10 0h0m4 0h0m2 0h0m10 0h0m1 0h0m3 0h0m3 0h0m2 0h0m6 0h0m3 0h0m3 0h0m2 0h0m4 0h0m8 0h0m2 0h0m5 0h0m9 0h0m-14 1h0m-8 0h0m-1 0h0m-1 0h0m-2 0h0m-2 0h0m-5 0h0m-6 0h0m-1 0h0m-1 0h0m-3 0h0m-1 0h0m-1 0h0m-1 0h0m-4 0h0m-3 0h0m-7 0h0m-11 0h0m-1 0h0m-2 0h0m-7 0h0m-1 0h0m-2 0h0m-1 0h0m-12 0h0m-9 1h0m15 0h0m1 0h0m9 0h0m13 0h0m1 0h0m1 0h0m3 0h0m1 0h0m1 0h0m5 0h0m1 0h0m5 0h0m2 0h0m3 0h0m2 0h0m5 0h0m1 0h0m2 0h0m1 0h0m1 0h0m1 0h0m1 0h0m6 0h0m6 0h0m4 0h0m5 1h0m-6 0h0m-2 0h0m-6 0h0m-3 0h0m-2 0h0m-7 0h0m-2 0h0m-3 0h0m-1 0h0m-9 0h0m-2 0h0m-2 0h0m-1 0h0m-6 0h0m-7 0h0m-3 0h0m-7 0h0m-2 0h0m-3 0h0m-12 0h0m-1 0h0m-20 1h0m16 0h0m4 0h0m3 0h0m1 0h0m1 0h0m1 0h0m1 0h0m1 0h0m2 0h0m3 0h0m7 0h0m2 0h0m2 0h0m10 0h0m1 0h0m2 0h0m2 0h0m2 0h0m7 0h0m2 0h0m2 0h0m3 0h0m4 0h0m6 0h0m7 0h0m10 0h0m1 0h0m3 0h0m9 1h0m-13 0h0m-2 0h0m-2 0h0m-1 0h0m-7 0h0m-1 0h0m-3 0h0m-1 0h0m-2 0h0m-1 0h0m-3 0h0m-14 0h0m-2 0h0m-12 0h0m-6 0h0m-1 0h0m-5 0h0m-1 0h0m-1 0h0m-3 0h0m-1 0h0m-6 0h0m-1 0h0m-3 0h0m-5 0h0m-4 0h0m4 1h0m2 0h0m1 0h0m4 0h0m2 0h0m8 0h0m1 0h0m5 0h0m1 0h0m4 0h0m1 0h0m4 0h0m1 0h0m6 0h0m2 0h0m2 0h0m7 0h0m1 0h0m4 0h0m1 0h0m4 0h0m1 0h0m6 0h0m1 0h0m2 0h0m1 0h0m5 0h0m1 0h0m1 0h0m4 0h0m11 0h0m-8 1h0m-3 0h0m-3 0h0m-1 0h0m-4 0h0m-2 0h0m-5 0h0m-1 0h0m-2 0h0m-6 0h0m-5 0h0m-1 0h0m-6 0h0m-1 0h0m-1 0h0m-3 0h0m-4 0h0m-5 0h0m-4 0h0m-2 0h0m-2 0h0m-7 0h0m-3 0h0m-1 0h0m-9 0h0m-1 0h0m-1 0h0m-8 0h0m-12 1h0m17 0h0m1 0h0m5 0h0m1 0h0m1 0h0m3 0h0m4 0h0m5 0h0m11 0h0m1 0h0m4 0h0m4 0h0m1 0h0m1 0h0m1 0h0m1 0h0m6 0h0m1 0h0m8 0h0m4 0h0m2 0h0m2 0h0m1 0h0m4 0h0m1 0h0m1 0h0m2 0h0m2 0h0m1 0h0m4 0h0m15 0h0m-11 1h0m-4 0h0m-1 0h0m-2 0h0m-1 0h0m-2 0h0m-1 0h0m-2 0h0m-2 0h0m-4 0h0m-3 0h0m-2 0h0m-1 0h0m-2 0h0m-1 0h0m-9 0h0m-1 0h0m-1 0h0m-5 0h0m-2 0h0m-1 0h0m-3 0h0m-14 0h0m-1 0h0m-2 0h0m-1 0h0m-1 0h0m-2 0h0m-1 0h0m-5 0h0m-1 0h0m-9 0h0m-2 0h0m4 1h0m1 0h0m1 0h0m3 0h0m7 0h0m2 0h0m1 0h0m1 0h0m6 0h0m3 0h0m1 0h0m1 0h0m3 0h0m4 0h0m1 0h0m4 0h0m9 0h0m3 0h0m3 0h0m1 0h0m3 0h0m2 0h0m5 0h0m2 0h0m4 0h0m7 0h0m7 0h0m2 0h0m-3 1h0m-5 0h0m-16 0h0m-5 0h0m-2 0h0m-3 0h0m-1 0h0m-1 0h0m-1 0h0m-5 0h0m-1 0h0m-8 0h0m-11 0h0m-2 0h0m-1 0h0m-1 0h0m-5 0h0m-4 0h0m-6 0h0m-3 0h0m-1 0h0m-2 0h0m-2 0h0m-14 1h0m9 0h0m3 0h0m2 0h0m1 0h0m2 0h0m1 0h0m1 0h0m1 0h0m1 0h0m6 0h0m1 0h0m1 0h0m2 0h0m1 0h0m1 0h0m3 0h0m3 0h0m8 0h0m1 0h0m4 0h0m2 0h0m1 0h0m8 0h0m2 0h0m3 0h0m1 0h0m3 0h0m2 0h0m1 0h0m4 0h0m1 0h0m5 0h0m4 0h0m1 0h0m3 0h0m1 0h0m0 1h0m-2 0h0m-2 0h0m-1 0h0m-2 0h0m-1 0h0m-3 0h0m-3 0h0m-3 0h0m-5 0h0m-1 0h0m-5 0h0m-2 0h0m-3 0h0m-9 0h0m-2 0h0m-3 0h0m-2 0h0m-3 0h0m-3 0h0m-2 0h0m-3 0h0m-2 0h0m-7 0h0m-1 0h0m-3 0h0m-6 0h0m5 1h0m5 0h0m4 0h0m4 0h0m1 0h0m1 0h0m5 0h0m2 0h0m1 0h0m4 0h0m1 0h0m4 0h0m1 0h0m3 0h0m3 0h0m2 0h0m3 0h0m3 0h0m4 0h0m3 0h0m2 0h0m1 0h0m1 0h0m1 0h0m2 0h0m1 0h0m5 0h0m1 0h0m5 0h0m2 0h0m8 0h0m-3 1h0m-5 0h0m-5 0h0m-7 0h0m-13 0h0m-1 0h0m-1 0h0m-1 0h0m-1 0h0m-4 0h0m-2 0h0m-1 0h0m-3 0h0m-2 0h0m-1 0h0m-5 0h0m-2 0h0m-3 0h0m-4 0h0m-5 0h0m-4 0h0m-2 0h0m-8 0h0m-7 0h0m-1 0h0m-57 1h0m19 0h0m39 0h0m2 0h0m7 0h0m10 0h0m2 0h0m1 0h0m15 0h0m1 0h0m4 0h0m6 0h0m4 0h0m1 0h0m3 0h0m7 0h0m2 0h0m4 0h0m7 0h0m5 0h0m10 1h0m-6 0h0m-16 0h0m-5 0h0m-1 0h0m-1 0h0m-3 0h0m-2 0h0m-1 0h0m-2 0h0m-4 0h0m-4 0h0m-2 0h0m-1 0h0m-5 0h0m-4 0h0m-1 0h0m-3 0h0m-1 0h0m-2 0h0m-3 0h0m-3 0h0m-1 0h0m-4 0h0m-6 0h0m-1 0h0m-2 0h0m-1 0h0m-1 0h0m-2 0h0m-8 0h0m-1 0h0m-1 0h0m9 1h0m7 0h0m2 0h0m2 0h0m4 0h0m2 0h0m6 0h0m12 0h0m1 0h0m1 0h0m3 0h0m2 0h0m3 0h0m7 0h0m5 0h0m4 0h0m1 0h0m4 0h0m3 0h0m1 0h0m1 0h0m3 0h0m7 1h0m-4 0h0m-1 0h0m-2 0h0m-2 0h0m-6 0h0m-6 0h0m-3 0h0m-2 0h0m-2 0h0m-4 0h0m-3 0h0m-2 0h0m-4 0h0m-8 0h0m-7 0h0m-4 0h0m-1 0h0m-1 0h0m-4 0h0m-2 0h0m-5 0h0m-6 0h0m-4 0h0m-2 0h0m-1 0h0m-2 0h0m-3 0h0m-5 1h0m8 0h0m5 0h0m1 0h0m1 0h0m7 0h0m2 0h0m3 0h0m3 0h0m10 0h0m5 0h0m7 0h0m4 0h0m6 0h0m3 0h0m1 0h0m2 0h0m5 0h0m2 0h0m4 0h0m6 0h0m1 0h0m2 0h0m8 0h0m7 0h0m7 1h0m-11 0h0m-2 0h0m-11 0h0m-4 0h0m-2 0h0m-1 0h0m-1 0h0m-1 0h0m-1 0h0m-8 0h0m-1 0h0m-1 0h0m-7 0h0m-2 0h0m-1 0h0m-5 0h0m-4 0h0m-3 0h0m-1 0h0m-1 0h0m-1 0h0m-4 0h0m-14 0h0m-1 0h0m-2 0h0m-3 0h0m-1 0h0m-1 0h0m-1 0h0m-4 0h0m-1 0h0m-2 1h0m3 0h0m5 0h0m11 0h0m1 0h0m2 0h0m3 0h0m3 0h0m2 0h0m4 0h0m1 0h0m2 0h0m3 0h0m7 0h0m2 0h0m2 0h0m6 0h0m7 0h0m2 0h0m1 0h0m3 0h0m6 0h0m4 0h0m7 0h0m3 0h0m14 1h0m-13 0h0m-1 0h0m-3 0h0m-6 0h0m-2 0h0m-1 0h0m-4 0h0m-5 0h0m-1 0h0m-1 0h0m-8 0h0m-6 0h0m-6 0h0m-6 0h0m-6 0h0m-6 0h0m-8 0h0m-9 0h0m-1 0h0m-7 0h0m-42 1h0m39 0h0m1 0h0m1 0h0m11 0h0m6 0h0m1 0h0m1 0h0m1 0h0m7 0h0m3 0h0m5 0h0m2 0h0m1 0h0m6 0h0m2 0h0m2 0h0m1 0h0m1 0h0m2 0h0m2 0h0m10 0h0m2 0h0m1 0h0m2 0h0m2 0h0m3 0h0m2 0h0m1 0h0m2 0h0m9 1h0m-3 0h0m-1 0h0m-1 0h0m-2 0h0m-1 0h0m-7 0h0m-9 0h0m-2 0h0m-2 0h0m-2 0h0m-1 0h0m-2 0h0m-1 0h0m-12 0h0m-2 0h0m-2 0h0m-9 0h0m-3 0h0m-7 0h0m-2 0h0m-15 0h0m-5 0h0m-2 0h0m6 1h0m2 0h0m1 0h0m2 0h0m7 0h0m2 0h0m1 0h0m3 0h0m7 0h0m1 0h0m1 0h0m3 0h0m2 0h0m3 0h0m2 0h0m1 0h0m4 0h0m4 0h0m1 0h0m11 0h0m3 0h0m1 0h0m1 0h0m2 0h0m2 0h0m2 0h0m6 0h0m4 0h0m2 0h0m3 0h0m2 0h0m0 1h0m-1 0h0m-1 0h0m-2 0h0m-3 0h0m-3 0h0m-5 0h0m-1 0h0m-1 0h0m-3 0h0m-2 0h0m-4 0h0m-1 0h0m-8 0h0m-2 0h0m-1 0h0m-1 0h0m-1 0h0m-1 0h0m-10 0h0m-2 0h0m-1 0h0m-3 0h0m-2 0h0m-2 0h0m-2 0h0m-4 0h0m-4 0h0m-2 0h0m-2 0h0m-1 0h0m-3 0h0m-2 0h0m-1 0h0m-1 0h0m-1 0h0m-3 0h0m-40 1h0m37 0h0m1 0h0m6 0h0m1 0h0m4 0h0m1 0h0m1 0h0m3 0h0m10 0h0m3 0h0m4 0h0m3 0h0m2 0h0m3 0h0m7 0h0m1 0h0m1 0h0m4 0h0m2 0h0m1 0h0m4 0h0m16 0h0m4 0h0m1 0h0m5 1h0m-2 0h0m-2 0h0m-1 0h0m-4 0h0m-3 0h0m-7 0h0m-1 0h0m-4 0h0m-7 0h0m-6 0h0m-2 0h0m-6 0h0m-1 0h0m-3 0h0m-1 0h0m-1 0h0m-5 0h0m-14 0h0m-1 0h0m-9 0h0m-1 0h0m-3 0h0m-1 0h0m-6 0h0m-34 0h0m-26 0h0m64 1h0m4 0h0m2 0h0m7 0h0m1 0h0m2 0h0m1 0h0m2 0h0m4 0h0m1 0h0m4 0h0m2 0h0m2 0h0m1 0h0m8 0h0m11 0h0m10 0h0m2 0h0m6 0h0m1 0h0m5 0h0m14 0h0m1 0h0m-7 1h0m-2 0h0m-4 0h0m-2 0h0m-2 0h0m-1 0h0m-2 0h0m-3 0h0m-1 0h0m-1 0h0m-10 0h0m-3 0h0m-1 0h0m-4 0h0m-4 0h0m-12 0h0m-1 0h0m-6 0h0m-1 0h0m-1 0h0m-6 0h0m-1 0h0m-3 0h0m-2 0h0m-2 0h0m-1 0h0m-9 0h0m-36 1h0m33 0h0m8 0h0m3 0h0m3 0h0m4 0h0m4 0h0m2 0h0m3 0h0m5 0h0m1 0h0m8 0h0m1 0h0m1 0h0m3 0h0m4 0h0m4 0h0m11 0h0m2 0h0m4 0h0m2 0h0m2 0h0m3 0h0m1 0h0m1 0h0m1 0h0m4 0h0m3 0h0m6 0h0m8 0h0m-13 1h0m-1 0h0m-6 0h0m-1 0h0m-3 0h0m-5 0h0m-6 0h0m-3 0h0m-3 0h0m-1 0h0m-1 0h0m-6 0h0m-3 0h0m-6 0h0m-7 0h0m-2 0h0m-2 0h0m-8 0h0m-3 0h0m-1 0h0m-5 0h0m-4 0h0m-2 0h0m-5 0h0m-1 0h0m-59 1h0m60 0h0m1 0h0m1 0h0m6 0h0m2 0h0m1 0h0m1 0h0m4 0h0m2 0h0m1 0h0m1 0h0m2 0h0m9 0h0m3 0h0m2 0h0m1 0h0m2 0h0m1 0h0m1 0h0m5 0h0m4 0h0m2 0h0m6 0h0m1 0h0m5 0h0m3 0h0m1 0h0m4 0h0m1 0h0m3 0h0m5 0h0m1 0h0m1 0h0m2 1h0m-3 0h0m-1 0h0m-2 0h0m-4 0h0m-3 0h0m-2 0h0m-6 0h0m-1 0h0m-3 0h0m-1 0h0m-3 0h0m-2 0h0m-4 0h0m-2 0h0m-2 0h0m-4 0h0m-2 0h0m-3 0h0m-1 0h0m-6 0h0m-5 0h0m-5 0h0m-1 0h0m-5 0h0m-2 0h0m-3 0h0m-3 0h0m-1 0h0m-1 0h0m-7 0h0m-3 0h0m-24 0h0m-4 1h0m33 0h0m1 0h0m17 0h0m7 0h0m2 0h0m1 0h0m4 0h0m8 0h0m2 0h0m5 0h0m8 0h0m4 0h0m2 0h0m2 0h0m1 0h0m1 0h0m1 0h0m2 0h0m2 0h0m3 0h0m3 0h0m1 0h0m2 0h0m4 0h0m1 0h0m-1 1h0m-1 0h0m-6 0h0m-1 0h0m-6 0h0m-6 0h0m-3 0h0m-1 0h0m-2 0h0m-9 0h0m-1 0h0m-3 0h0m-1 0h0m-2 0h0m-1 0h0m-5 0h0m-1 0h0m-6 0h0m-2 0h0m-1 0h0m-11 0h0m-12 0h0m-1 0h0m-1 0h0m-1 0h0m-2 0h0m-2 0h0m-1 0h0m-36 0h0m33 1h0m10 0h0m4 0h0m4 0h0m1 0h0m3 0h0m4 0h0m4 0h0m1 0h0m1 0h0m1 0h0m3 0h0m7 0h0m1 0h0m1 0h0m3 0h0m3 0h0m7 0h0m1 0h0m1 0h0m1 0h0m1 0h0m1 0h0m2 0h0m5 0h0m1 0h0m2 0h0m1 0h0m2 0h0m1 0h0m2 0h0m3 0h0m1 0h0m2 0h0m2 0h0m2 0h0m5 0h0m1 0h0m27 1h0m-34 0h0m-2 0h0m-1 0h0m-1 0h0m-1 0h0m-1 0h0m-8 0h0m-5 0h0m-3 0h0m-1 0h0m-1 0h0m-3 0h0m-1 0h0m-1 0h0m-2 0h0m-1 0h0m-12 0h0m-2 0h0m-2 0h0m-1 0h0m-1 0h0m-2 0h0m-13 0h0m-9 0h0m-1 0h0m-2 0h0m-3 0h0m-15 0h0m-47 1h0m42 0h0m21 0h0m2 0h0m2 0h0m11 0h0m3 0h0m1 0h0m7 0h0m1 0h0m1 0h0m4 0h0m5 0h0m1 0h0m2 0h0m6 0h0m6 0h0m2 0h0m10 0h0m1 0h0m1 0h0m4 0h0m2 0h0m6 0h0m3 0h0m1 0h0m1 1h0m-4 0h0m-3 0h0m-3 0h0m-2 0h0m-3 0h0m-6 0h0m-1 0h0m-6 0h0m-5 0h0m-5 0h0m-3 0h0m-1 0h0m-1 0h0m-4 0h0m-1 0h0m-4 0h0m-4 0h0m-4 0h0m-2 0h0m-6 0h0m-3 0h0m-1 0h0m-5 0h0m-6 0h0m-3 1h0m3 0h0m8 0h0m3 0h0m2 0h0m8 0h0m7 0h0m9 0h0m1 0h0m6 0h0m1 0h0m8 0h0m1 0h0m2 0h0m1 0h0m6 0h0m1 0h0m2 0h0m8 0h0m1 0h0m1 0h0m2 0h0m-2 1h0m-1 0h0m-12 0h0m-3 0h0m-1 0h0m-1 0h0m-3 0h0m-1 0h0m-1 0h0m-1 0h0m-2 0h0m-3 0h0m-4 0h0m-14 0h0m-3 0h0m-2 0h0m-4 0h0m-1 0h0m-4 0h0m-1 0h0m-3 0h0m-4 0h0m-3 0h0m-9 0h0m-1 1h0m2 0h0m1 0h0m9 0h0m4 0h0m1 0h0m5 0h0m2 0h0m2 0h0m6 0h0m5 0h0m4 0h0m2 0h0m10 0h0m1 0h0m3 0h0m4 0h0m8 0h0m3 0h0m3 0h0m2 0h0m5 0h0m3 0h0m3 1h0m-2 0h0m-16 0h0m-1 0h0m-4 0h0m-4 0h0m-8 0h0m-4 0h0m-5 0h0m-2 0h0m-2 0h0m-3 0h0m-1 0h0m-1 0h0m-3 0h0m-9 0h0m-3 0h0m-1 0h0m-5 0h0m-4 0h0m-3 0h0m-1 0h0m-4 0h0m-1 0h0m-6 0h0m-15 0h0m-4 0h0m27 1h0m3 0h0m4 0h0m1 0h0m1 0h0m1 0h0m1 0h0m7 0h0m7 0h0m8 0h0m2 0h0m8 0h0m2 0h0m3 0h0m1 0h0m1 0h0m4 0h0m1 0h0m2 0h0m4 0h0m4 0h0m3 0h0m2 0h0m1 0h0m2 0h0m4 0h0m6 0h0m18 1h0m-23 0h0m-1 0h0m-2 0h0m-3 0h0m-1 0h0m-1 0h0m-3 0h0m-2 0h0m-9 0h0m-1 0h0m-8 0h0m-3 0h0m-1 0h0m-3 0h0m-1 0h0m-3 0h0m-17 0h0m-2 0h0m-2 0h0m-4 0h0m-2 0h0m-3 0h0m-2 0h0m-3 0h0m-12 0h0m-9 1h0m5 0h0m13 0h0m3 0h0m2 0h0m6 0h0m2 0h0m1 0h0m4 0h0m1 0h0m2 0h0m3 0h0m3 0h0m2 0h0m2 0h0m1 0h0m3 0h0m3 0h0m1 0h0m2 0h0m2 0h0m5 0h0m6 0h0m5 0h0m1 0h0m6 0h0m1 0h0m10 0h0m5 0h0m1 0h0m17 0h0m23 1h0m-42 0h0m-4 0h0m-2 0h0m-1 0h0m-1 0h0m-4 0h0m-3 0h0m-1 0h0m-1 0h0m-2 0h0m-6 0h0m-10 0h0m-2 0h0m-2 0h0m-1 0h0m-2 0h0m-12 0h0m-4 0h0m-2 0h0m-8 0h0m-2 0h0m-6 0h0m-3 0h0m-4 0h0m-53 1h0m38 0h0m22 0h0m1 0h0m3 0h0m1 0h0m4 0h0m2 0h0m2 0h0m2 0h0m3 0h0m10 0h0m1 0h0m8 0h0m5 0h0m6 0h0m7 0h0m3 0h0m3 0h0m3 0h0m8 0h0m38 0h0m2 0h0m-36 1h0m-4 0h0m-1 0h0m-4 0h0m-6 0h0m-6 0h0m-3 0h0m-6 0h0m-1 0h0m-3 0h0m-1 0h0m-5 0h0m-1 0h0m-2 0h0m-12 0h0m-2 0h0m-5 0h0m-1 0h0m-1 0h0m-4 0h0m-1 0h0m-4 0h0m-1 0h0m-2 0h0m-1 0h0m-11 0h0m-1 0h0m-5 0h0m-43 1h0m2 0h0m60 0h0m8 0h0m4 0h0m2 0h0m2 0h0m1 0h0m1 0h0m2 0h0m2 0h0m2 0h0m1 0h0m2 0h0m3 0h0m10 0h0m2 0h0m1 0h0m12 0h0m3 0h0m9 0h0m1 0h0m6 0h0m9 0h0m30 0h0m-1 1h0m-7 0h0m-1 0h0m-36 0h0m-1 0h0m-3 0h0m-2 0h0m-1 0h0m-1 0h0m-1 0h0m-7 0h0m-4 0h0m-1 0h0m-3 0h0m-3 0h0m-1 0h0m-1 0h0m-2 0h0m-2 0h0m-2 0h0m-4 0h0m-4 0h0m-4 0h0m-1 0h0m-4 0h0m-1 0h0m-1 0h0m-4 0h0m-1 0h0m-1 0h0m-5 0h0m-6 0h0m-15 1h0m20 0h0m4 0h0m1 0h0m2 0h0m1 0h0m11 0h0m1 0h0m2 0h0m4 0h0m6 0h0m1 0h0m2 0h0m1 0h0m1 0h0m1 0h0m6 0h0m2 0h0m1 0h0m2 0h0m8 0h0m3 0h0m4 0h0m1 0h0m2 0h0m2 0h0m31 0h0m7 0h0m6 0h0m7 0h0m-8 1h0m-6 0h0m-30 0h0m-13 0h0m-3 0h0m-3 0h0m-2 0h0m-1 0h0m-5 0h0m-6 0h0m-1 0h0m-8 0h0m-1 0h0m-1 0h0m-2 0h0m-9 0h0m-8 0h0m-2 0h0m-1 0h0m-1 0h0m-2 0h0m-1 0h0m-1 0h0m-1 0h0m-1 0h0m-1 0h0m-4 0h0m2 1h0m6 0h0m2 0h0m3 0h0m1 0h0m1 0h0m1 0h0m2 0h0m1 0h0m3 0h0m2 0h0m2 0h0m2 0h0m4 0h0m2 0h0m1 0h0m4 0h0m1 0h0m1 0h0m4 0h0m1 0h0m3 0h0m3 0h0m8 0h0m5 0h0m40 0h0m1 0h0m4 0h0m5 0h0m4 1h0m-6 0h0m-1 0h0m-6 0h0m-1 0h0m-4 0h0m-5 0h0m-28 0h0m-2 0h0m-1 0h0m-2 0h0m-2 0h0m-5 0h0m-2 0h0m-1 0h0m-1 0h0m-1 0h0m-4 0h0m-3 0h0m-11 0h0m-4 0h0m-5 0h0m-5 0h0m-2 0h0m-3 0h0m-6 0h0m-2 0h0m-1 0h0m-5 0h0m2 1h0m2 0h0m3 0h0m2 0h0m2 0h0m3 0h0m3 0h0m2 0h0m4 0h0m7 0h0m2 0h0m6 0h0m2 0h0m5 0h0m4 0h0m3 0h0m1 0h0m3 0h0m3 0h0m2 0h0m4 0h0m36 0h0m1 0h0m3 0h0m6 1h0m-1 0h0m-6 0h0m-7 0h0m-1 0h0m-1 0h0m-31 0h0m-2 0h0m-1 0h0m-1 0h0m-2 0h0m-9 0h0m-2 0h0m-1 0h0m-1 0h0m-1 0h0m-6 0h0m-4 0h0m-1 0h0m-1 0h0m-6 0h0m-1 0h0m-2 0h0m-3 0h0m-3 0h0m-2 0h0m-6 0h0m-7 0h0m2 1h0m1 0h0m1 0h0m6 0h0m5 0h0m1 0h0m2 0h0m1 0h0m3 0h0m4 0h0m2 0h0m2 0h0m2 0h0m2 0h0m10 0h0m2 0h0m1 0h0m5 0h0m1 0h0m3 0h0m1 0h0m1 0h0m2 0h0m35 0h0m5 0h0m2 0h0m5 0h0m1 0h0m4 0h0m5 1h0m-6 0h0m-4 0h0m-15 0h0m-3 0h0m-11 0h0m-20 0h0m-4 0h0m-2 0h0m-1 0h0m-19 0h0m-1 0h0m-3 0h0m-1 0h0m-1 0h0m-2 0h0m-6 0h0m-3 0h0m-8 0h0m-3 1h0m14 0h0m2 0h0m3 0h0m1 0h0m3 0h0m7 0h0m14 0h0m1 0h0m1 0h0m1 0h0m4 0h0m47 0h0m1 0h0m6 0h0m12 0h0m2 0h0m-9 1h0m-1 0h0m-4 0h0m-1 0h0m-13 0h0m-4 0h0m-30 0h0m-13 0h0m-6 0h0m-3 0h0m-5 0h0m-1 0h0m-2 0h0m-2 0h0m-1 0h0m-2 0h0m-1 0h0m-1 0h0m-7 0h0m-8 1h0m1 0h0m2 0h0m2 0h0m3 0h0m8 0h0m7 0h0m5 0h0m1 0h0m3 0h0m1 0h0m6 0h0m2 0h0m40 0h0m1 0h0m1 0h0m4 0h0m3 0h0m3 0h0m7 0h0m2 0h0m5 0h0m9 1h0m-7 0h0m-14 0h0m-4 0h0m-4 0h0m-3 0h0m-24 0h0m-9 0h0m-3 0h0m-7 0h0m-4 0h0m-10 0h0m-4 0h0m-3 0h0m-1 0h0m-1 0h0m-1 0h0m-10 0h0m-3 0h0m-5 0h0m-2 0h0m5 1h0m3 0h0m2 0h0m4 0h0m2 0h0m1 0h0m1 0h0m3 0h0m7 0h0m2 0h0m5 0h0m4 0h0m2 0h0m4 0h0m40 0h0m5 0h0m1 0h0m4 0h0m1 0h0m1 0h0m1 0h0m1 0h0m1 0h0m-5 1h0m-3 0h0m-2 0h0m-1 0h0m-2 0h0m-1 0h0m-39 0h0m-3 0h0m-5 0h0m-12 0h0m-2 0h0m-5 0h0m-3 0h0m-1 0h0m-1 0h0m-3 0h0m-1 0h0m-2 0h0m-4 0h0m-5 0h0m-1 1h0m8 0h0m6 0h0m1 0h0m2 0h0m6 0h0m3 0h0m1 0h0m7 0h0m2 0h0m48 0h0m3 0h0m1 0h0m4 0h0m8 0h0m3 0h0m2 0h0m12 0h0m-9 1h0m-6 0h0m-6 0h0m-66 0h0m-4 0h0m-2 0h0m-3 0h0m-7 0h0m-2 0h0m-4 0h0m-1 0h0m-2 0h0m-2 1h0m12 0h0m16 0h0m48 0h0m13 0h0m5 0h0m1 0h0m2 0h0m6 0h0m0 1h0m-1 0h0m-6 0h0m-4 0h0m-1 0h0m-1 0h0m-71 0h0m-1 0h0m-35 1h0m98 0h0m5 0h0m2 0h0m14 0h0m13 1h0m-11 0h0m-1 0h0m-9 0h0m-89 0h0m26 1h0m64 0h0m2 0h0m1 0h0m2 0h0m1 0h0m5 0h0m7 0h0m-12 1h0m-1 0h0m-1 0h0m-7 0h0m-3 0h0m-2 1h0m7 0h0m1 0h0m7 0h0m17 0h0m-17 1h0m-4 0h0m-9 0h0m-32 0h0m-10 1h0m9 0h0m35 0h0m5 0h0m2 0h0m5 0h0m1 0h0m7 0h0m-11 1h0m2 1h0m2 1h0m-3 0h0m-42 1h0m-7 2h0m5 0h0m43 0h0m-32 1h0m-17 0h0m13 1h0m9 1h0m-6 0h0m-10 1h0m5 0h0m2 1h0m-2 0h0m-5 0h0m6 2h0m-9 0h0m9 1h0m2 0h0m0 1h0m-4 0h0m-9 0h0m11 1h0m2 0h0m1 0h0m2 1h0m-2 0h0m-2 1h0m1 0h0m1 2h0m6 0h0m-9 1h0m-5 1h0m7 0h0m5 1h0m-11 0h0m9 2h0m-2 0h0m-4 1h0m1 0h0m3 0h0m1 0h0m0 1h0m-2 0h0m-7 1h0m5 0h0m2 0h0m3 0h0m3 1h0m-4 0h0m-5 0h0m-5 1h0m6 1h0m-1 1h0m6 1h0m-6 1h0"/><path stroke="#0c0cc2" d="M155 24h0m9 1h0m-4 4h0m9 1h0m4 0h0m21 1h0m-26 0h0m-1 0h0m-8 0h0m-16 1h0m28 0h0m27 1h0m-32 0h0m-4 0h0m-10 1h0m12 0h0m7 0h0m1 0h0m-2 1h0m-1 0h0m-2 0h0m-2 0h0m-45 0h0m12 1h0m40 0h0m1 0h0m1 0h0m18 0h0m-13 1h0m-13 0h0m-4 0h0m-33 0h0m-3 0h0m-1 1h0m6 0h0m30 0h0m1 0h0m4 0h0m1 0h0m2 0h0m5 0h0m17 0h0m-15 1h0m-2 0h0m-12 0h0m-33 0h0m-2 0h0m-1 0h0m-2 0h0m-10 1h0m12 0h0m2 0h0m33 0h0m20 0h0m26 1h0m-53 0h0m-6 0h0m-11 0h0m-2 0h0m-7 0h0m-3 0h0m-13 1h0m7 0h0m15 0h0m2 0h0m1 0h0m11 0h0m9 0h0m4 0h0m3 0h0m3 0h0m8 0h0m40 1h0m-4 0h0m-20 0h0m-21 0h0m-2 0h0m-2 0h0m-2 0h0m-4 0h0m-22 0h0m-4 0h0m-2 0h0m-16 0h0m14 1h0m1 0h0m17 0h0m3 0h0m17 0h0m52 1h0m-26 0h0m-21 0h0m-4 0h0m-3 0h0m-8 0h0m-1 0h0m-7 0h0m-6 0h0m-1 0h0m-1 0h0m-23 0h0m-1 0h0m-3 1h0m6 0h0m4 0h0m6 0h0m1 0h0m3 0h0m6 0h0m6 0h0m17 0h0m3 0h0m1 0h0m3 0h0m1 0h0m10 0h0m21 0h0m-17 1h0m-16 0h0m-2 0h0m-2 0h0m-4 0h0m-1 0h0m-14 0h0m-2 0h0m-3 0h0m-3 0h0m-2 0h0m-3 0h0m-5 0h0m-1 0h0m-8 0h0m-1 0h0m-1 0h0m-3 0h0m-4 0h0m-5 0h0m6 1h0m2 0h0m1 0h0m6 0h0m5 0h0m1 0h0m7 0h0m9 0h0m25 0h0m2 0h0m27 1h0m-25 0h0m-6 0h0m-2 0h0m-7 0h0m-11 0h0m-15 0h0m-3 0h0m-7 0h0m-1 0h0m-2 0h0m-3 0h0m-1 0h0m-3 0h0m-1 1h0m9 0h0m3 0h0m3 0h0m6 0h0m1 0h0m17 0h0m5 0h0m7 0h0m8 0h0m4 0h0m43 0h0m14 1h0m-5 0h0m-50 0h0m-4 0h0m-6 0h0m-14 0h0m-15 0h0m-2 0h0m-1 0h0m-7 0h0m-3 0h0m-2 0h0m-1 0h0m-4 0h0m-2 0h0m-3 0h0m-4 0h0m7 1h0m1 0h0m2 0h0m1 0h0m9 0h0m1 0h0m4 0h0m8 0h0m2 0h0m12 0h0m1 0h0m8 0h0m3 0h0m1 0h0m4 0h0m1 0h0m4 0h0m29 1h0m-4 0h0m-21 0h0m-46 0h0m-1 0h0m-4 0h0m-5 0h0m-5 0h0m-2 0h0m-11 0h0m3 1h0m2 0h0m2 0h0m1 0h0m1 0h0m9 0h0m5 0h0m16 0h0m7 0h0m1 0h0m5 0h0m1 0h0m1 0h0m1 0h0m4 0h0m4 0h0m34 0h0m16 0h0m-42 1h0m-5 0h0m-2 0h0m-1 0h0m-1 0h0m-5 0h0m-1 0h0m-10 0h0m-2 0h0m-4 0h0m-5 0h0m-3 0h0m-4 0h0m-8 0h0m-4 0h0m-2 0h0m-3 0h0m-2 0h0m-1 0h0m-6 1h0m10 0h0m1 0h0m5 0h0m2 0h0m25 0h0m5 0h0m3 0h0m8 0h0m6 0h0m4 0h0m-4 1h0m-1 0h0m-1 0h0m-2 0h0m-15 0h0m-12 0h0m-9 0h0m-1 0h0m-12 0h0m-2 0h0m-2 0h0m-2 0h0m-1 0h0m-5 0h0m2 1h0m1 0h0m4 0h0m2 0h0m2 0h0m3 0h0m1 0h0m8 0h0m2 0h0m6 0h0m24 0h0m63 0h0m1 0h0m-10 1h0m-39 0h0m-7 0h0m-4 0h0m-1 0h0m-1 0h0m-5 0h0m-2 0h0m-2 0h0m-9 0h0m-3 0h0m-10 0h0m-4 0h0m-3 0h0m-2 0h0m-10 0h0m-1 0h0m-1 0h0m-6 0h0m-8 0h0m0 1h0m12 0h0m1 0h0m6 0h0m1 0h0m2 0h0m8 0h0m2 0h0m8 0h0m4 0h0m15 0h0m8 0h0m8 0h0m40 0h0m21 1h0m-35 0h0m-18 0h0m-6 0h0m-2 0h0m-3 0h0m-1 0h0m-16 0h0m-26 0h0m-11 0h0m-3 0h0m-1 0h0m-4 0h0m-7 0h0m10 1h0m1 0h0m1 0h0m5 0h0m3 0h0m1 0h0m3 0h0m1 0h0m1 0h0m13 0h0m7 0h0m5 0h0m1 0h0m3 0h0m1 0h0m1 0h0m3 0h0m4 0h0m2 0h0m6 0h0m1 0h0m13 0h0m24 1h0m-11 0h0m-26 0h0m-1 0h0m-1 0h0m-2 0h0m-1 0h0m-4 0h0m-6 0h0m-1 0h0m-4 0h0m-5 0h0m-3 0h0m-4 0h0m-6 0h0m-9 0h0m-11 0h0m-5 0h0m-1 0h0m-4 1h0m4 0h0m3 0h0m1 0h0m1 0h0m5 0h0m5 0h0m6 0h0m6 0h0m8 0h0m8 0h0m11 0h0m3 0h0m1 0h0m7 0h0m38 0h0m-2 1h0m-2 0h0m-36 0h0m-3 0h0m-5 0h0m-5 0h0m-17 0h0m-7 0h0m-10 0h0m-2 0h0m-4 0h0m-3 0h0m-22 0h0m-7 0h0m4 1h0m5 0h0m8 0h0m1 0h0m3 0h0m1 0h0m1 0h0m4 0h0m5 0h0m3 0h0m2 0h0m1 0h0m4 0h0m9 0h0m7 0h0m7 0h0m6 0h0m5 0h0m70 0h0m-32 1h0m-12 0h0m-17 0h0m-2 0h0m-16 0h0m-2 0h0m-2 0h0m-3 0h0m-1 0h0m-2 0h0m-2 0h0m-14 0h0m-6 0h0m-4 0h0m-3 0h0m-1 0h0m-5 0h0m-2 0h0m-5 0h0m-11 0h0m-7 0h0m1 1h0m2 0h0m1 0h0m5 0h0m15 0h0m3 0h0m17 0h0m1 0h0m1 0h0m3 0h0m2 0h0m2 0h0m2 0h0m7 0h0m5 0h0m2 0h0m9 0h0m5 0h0m1 0h0m5 0h0m53 1h0m-2 0h0m-4 0h0m-51 0h0m-1 0h0m-1 0h0m-7 0h0m-6 0h0m-1 0h0m-2 0h0m-5 0h0m-10 0h0m-8 0h0m-4 0h0m-20 0h0m-8 0h0m-1 0h0m-3 0h0m-9 0h0m-5 0h0m4 1h0m5 0h0m3 0h0m4 0h0m2 0h0m1 0h0m4 0h0m9 0h0m3 0h0m6 0h0m1 0h0m1 0h0m1 0h0m2 0h0m1 0h0m6 0h0m5 0h0m2 0h0m17 0h0m1 0h0m3 0h0m7 0h0m7 0h0m12 0h0m41 0h0m-24 1h0m-32 0h0m-3 0h0m-1 0h0m-2 0h0m-3 0h0m-5 0h0m-3 0h0m-2 0h0m-7 0h0m-3 0h0m-1 0h0m-10 0h0m-2 0h0m-2 0h0m-7 0h0m-6 0h0m-13 0h0m-2 0h0m-7 0h0m-1 0h0m-5 0h0m-4 1h0m2 0h0m17 0h0m3 0h0m1 0h0m3 0h0m3 0h0m2 0h0m3 0h0m1 0h0m3 0h0m18 0h0m2 0h0m2 0h0m8 0h0m1 0h0m8 0h0m2 0h0m9 0h0m70 0h0m3 1h0m-53 0h0m-24 0h0m-1 0h0m-16 0h0m-3 0h0m-1 0h0m-8 0h0m-5 0h0m-11 0h0m-3 0h0m-3 0h0m-4 0h0m-2 0h0m-7 0h0m-4 0h0m-3 0h0m-4 0h0m-1 0h0m-5 1h0m11 0h0m3 0h0m3 0h0m13 0h0m2 0h0m4 0h0m1 0h0m2 0h0m3 0h0m4 0h0m5 0h0m5 0h0m1 0h0m2 0h0m12 0h0m4 0h0m1 0h0m1 0h0m6 0h0m3 0h0m3 0h0m42 0h0m22 1h0m-19 0h0m-45 0h0m-2 0h0m-1 0h0m-6 0h0m-7 0h0m-3 0h0m-3 0h0m-5 0h0m-4 0h0m-5 0h0m-3 0h0m-2 0h0m-3 0h0m-4 0h0m-16 0h0m-2 0h0m-13 0h0m-4 0h0m-1 0h0m-2 1h0m2 0h0m1 0h0m3 0h0m2 0h0m7 0h0m3 0h0m4 0h0m1 0h0m7 0h0m6 0h0m5 0h0m6 0h0m5 0h0m4 0h0m5 0h0m1 0h0m3 0h0m4 0h0m2 0h0m4 0h0m3 0h0m1 0h0m7 0h0m23 0h0m2 0h0m36 0h0m-5 1h0m-8 0h0m-37 0h0m-12 0h0m-9 0h0m-2 0h0m-4 0h0m-1 0h0m-1 0h0m-1 0h0m-6 0h0m-2 0h0m-1 0h0m-7 0h0m-16 0h0m-1 0h0m-4 0h0m-1 0h0m-2 0h0m-5 0h0m-13 0h0m-12 0h0m-1 0h0m3 1h0m2 0h0m2 0h0m2 0h0m3 0h0m6 0h0m2 0h0m3 0h0m1 0h0m6 0h0m1 0h0m1 0h0m3 0h0m2 0h0m1 0h0m5 0h0m1 0h0m1 0h0m2 0h0m5 0h0m4 0h0m4 0h0m2 0h0m1 0h0m5 0h0m4 0h0m1 0h0m5 0h0m11 0h0m1 0h0m2 0h0m-2 1h0m-3 0h0m-9 0h0m-3 0h0m-4 0h0m-1 0h0m-7 0h0m-1 0h0m-2 0h0m-5 0h0m-1 0h0m-1 0h0m-1 0h0m-5 0h0m-4 0h0m-7 0h0m-3 0h0m-7 0h0m-1 0h0m-2 0h0m-8 0h0m-3 0h0m-8 0h0m2 1h0m6 0h0m3 0h0m2 0h0m2 0h0m3 0h0m3 0h0m3 0h0m1 0h0m2 0h0m14 0h0m1 0h0m5 0h0m1 0h0m6 0h0m12 0h0m12 0h0m2 0h0m2 0h0m1 0h0m5 0h0m5 0h0m36 1h0m-1 0h0m-1 0h0m-1 0h0m-41 0h0m-4 0h0m-3 0h0m-1 0h0m-4 0h0m-1 0h0m-1 0h0m-11 0h0m-2 0h0m-2 0h0m-3 0h0m-3 0h0m-1 0h0m-16 0h0m-4 0h0m-2 0h0m-5 0h0m-1 0h0m-2 0h0m-5 0h0m-4 0h0m-2 0h0m-9 0h0m-2 0h0m2 1h0m10 0h0m6 0h0m4 0h0m4 0h0m7 0h0m8 0h0m7 0h0m1 0h0m4 0h0m1 0h0m20 0h0m2 0h0m4 0h0m5 0h0m2 0h0m4 0h0m16 1h0m-4 0h0m-14 0h0m-2 0h0m-3 0h0m-1 0h0m-1 0h0m-1 0h0m-4 0h0m-14 0h0m-5 0h0m-1 0h0m-1 0h0m-1 0h0m-3 0h0m-8 0h0m-5 0h0m-2 0h0m-7 0h0m-3 0h0m-2 0h0m-1 0h0m-1 0h0m-2 0h0m-1 0h0m-13 0h0m-2 0h0m-3 0h0m-2 0h0m-8 1h0m8 0h0m2 0h0m3 0h0m6 0h0m2 0h0m7 0h0m7 0h0m3 0h0m4 0h0m1 0h0m9 0h0m2 0h0m6 0h0m3 0h0m1 0h0m2 0h0m8 0h0m19 0h0m1 0h0m1 0h0m2 0h0m19 1h0m-17 0h0m-2 0h0m-1 0h0m-6 0h0m-13 0h0m-2 0h0m-10 0h0m-1 0h0m-1 0h0m-2 0h0m-1 0h0m-2 0h0m-6 0h0m-4 0h0m-4 0h0m-1 0h0m-9 0h0m-4 0h0m-10 0h0m-1 0h0m-4 0h0m-1 0h0m-4 1h0m4 0h0m5 0h0m2 0h0m1 0h0m5 0h0m1 0h0m2 0h0m3 0h0m1 0h0m8 0h0m7 0h0m1 0h0m5 0h0m1 0h0m7 0h0m3 0h0m4 0h0m1 0h0m2 0h0m5 0h0m1 0h0m2 0h0m2 0h0m6 0h0m1 0h0m50 0h0m-6 1h0m-4 0h0m-38 0h0m-3 0h0m-5 0h0m-3 0h0m-3 0h0m-10 0h0m-2 0h0m-1 0h0m-6 0h0m-7 0h0m-3 0h0m-3 0h0m-4 0h0m-3 0h0m-1 0h0m-3 0h0m-7 0h0m-6 0h0m-3 0h0m-3 0h0m-1 0h0m-6 0h0m-1 1h0m9 0h0m1 0h0m2 0h0m1 0h0m1 0h0m4 0h0m3 0h0m3 0h0m7 0h0m4 0h0m14 0h0m1 0h0m4 0h0m1 0h0m1 0h0m6 0h0m1 0h0m4 0h0m2 0h0m4 0h0m7 0h0m1 0h0m10 0h0m-6 1h0m-4 0h0m-6 0h0m-5 0h0m-1 0h0m-3 0h0m-9 0h0m-5 0h0m-14 0h0m-5 0h0m-10 0h0m-8 0h0m-1 0h0m-1 0h0m-2 0h0m-1 0h0m-1 0h0m-1 0h0m-5 0h0m-3 0h0m-1 0h0m2 1h0m3 0h0m1 0h0m5 0h0m3 0h0m10 0h0m4 0h0m4 0h0m9 0h0m6 0h0m3 0h0m7 0h0m2 0h0m6 0h0m3 0h0m2 0h0m5 0h0m3 0h0m3 0h0m3 0h0m2 0h0m3 0h0m2 0h0m9 1h0m-12 0h0m-4 0h0m-10 0h0m-6 0h0m-4 0h0m-2 0h0m-6 0h0m-3 0h0m-1 0h0m-11 0h0m-5 0h0m-6 0h0m-1 0h0m-10 0h0m-2 0h0m-3 0h0m-2 0h0m-4 0h0m-1 0h0m-1 0h0m-4 0h0m-1 0h0m-1 0h0m-3 0h0m-1 0h0m6 1h0m9 0h0m3 0h0m2 0h0m1 0h0m5 0h0m3 0h0m7 0h0m4 0h0m4 0h0m1 0h0m3 0h0m1 0h0m11 0h0m4 0h0m9 0h0m2 0h0m1 0h0m1 0h0m12 0h0m6 0h0m20 0h0m3 1h0m-11 0h0m-20 0h0m-1 0h0m-4 0h0m-4 0h0m-3 0h0m-2 0h0m-2 0h0m-8 0h0m-2 0h0m-2 0h0m-5 0h0m-6 0h0m-4 0h0m-2 0h0m-1 0h0m-4 0h0m-2 0h0m-2 0h0m-8 0h0m-1 0h0m-3 0h0m-1 0h0m-5 0h0m-2 0h0m-5 0h0m-4 0h0m-1 0h0m-1 0h0m0 1h0m2 0h0m2 0h0m7 0h0m7 0h0m9 0h0m5 0h0m1 0h0m1 0h0m7 0h0m2 0h0m2 0h0m3 0h0m3 0h0m1 0h0m2 0h0m1 0h0m1 0h0m2 0h0m3 0h0m4 0h0m1 0h0m6 0h0m10 0h0m7 0h0m2 0h0m3 0h0m45 0h0m-55 1h0m-7 0h0m-7 0h0m-1 0h0m-1 0h0m-3 0h0m-5 0h0m-2 0h0m-1 0h0m-1 0h0m-1 0h0m-2 0h0m-9 0h0m-2 0h0m-4 0h0m-5 0h0m-9 0h0m-1 0h0m-13 0h0m-5 0h0m-3 0h0m-2 0h0m-4 0h0m0 1h0m7 0h0m3 0h0m2 0h0m5 0h0m3 0h0m3 0h0m7 0h0m2 0h0m4 0h0m1 0h0m11 0h0m7 0h0m1 0h0m7 0h0m2 0h0m2 0h0m3 0h0m9 0h0m3 0h0m11 0h0m61 1h0m-27 0h0m-33 0h0m-4 0h0m-2 0h0m-12 0h0m-6 0h0m-2 0h0m-2 0h0m-1 0h0m-5 0h0m-9 0h0m-1 0h0m-2 0h0m-1 0h0m-1 0h0m-2 0h0m-1 0h0m-4 0h0m-2 0h0m-3 0h0m-4 0h0m-6 0h0m-4 0h0m-7 0h0m-4 0h0m-7 0h0m5 1h0m2 0h0m2 0h0m5 0h0m1 0h0m5 0h0m1 0h0m8 0h0m5 0h0m2 0h0m6 0h0m1 0h0m3 0h0m6 0h0m10 0h0m7 0h0m5 0h0m2 0h0m1 0h0m1 0h0m1 0h0m7 0h0m16 1h0m-12 0h0m-3 0h0m-13 0h0m-3 0h0m-1 0h0m-4 0h0m-1 0h0m-2 0h0m-4 0h0m-2 0h0m-3 0h0m-1 0h0m-2 0h0m-1 0h0m-2 0h0m-5 0h0m-3 0h0m-7 0h0m-4 0h0m-2 0h0m-2 0h0m-1 0h0m-1 0h0m-9 0h0m-5 0h0m-2 0h0m-3 0h0m-6 0h0m6 1h0m1 0h0m1 0h0m5 0h0m1 0h0m2 0h0m4 0h0m1 0h0m1 0h0m2 0h0m7 0h0m2 0h0m1 0h0m7 0h0m5 0h0m2 0h0m2 0h0m5 0h0m3 0h0m1 0h0m4 0h0m1 0h0m1 0h0m1 0h0m1 0h0m1 0h0m5 0h0m5 0h0m1 0h0m4 0h0m1 0h0m3 0h0m58 0h0m-18 1h0m-52 0h0m-6 0h0m-3 0h0m-3 0h0m-6 0h0m-12 0h0m-3 0h0m-4 0h0m-1 0h0m-7 0h0m-1 0h0m-3 0h0m-5 0h0m-4 0h0m-1 0h0m-1 0h0m-6 0h0m-2 0h0m-2 0h0m-5 0h0m-1 0h0m-1 0h0m9 1h0m5 0h0m1 0h0m6 0h0m2 0h0m6 0h0m2 0h0m3 0h0m4 0h0m5 0h0m4 0h0m7 0h0m4 0h0m5 0h0m3 0h0m4 0h0m6 0h0m17 0h0m10 0h0m5 0h0m9 1h0m-32 0h0m-2 0h0m-6 0h0m-6 0h0m-1 0h0m-2 0h0m-5 0h0m-1 0h0m-5 0h0m-2 0h0m-2 0h0m-8 0h0m-5 0h0m-2 0h0m-3 0h0m-4 0h0m-3 0h0m-2 0h0m-4 0h0m-1 0h0m-1 0h0m-5 0h0m-14 0h0m-1 1h0m1 0h0m3 0h0m7 0h0m2 0h0m1 0h0m3 0h0m1 0h0m2 0h0m13 0h0m6 0h0m1 0h0m9 0h0m1 0h0m11 0h0m4 0h0m1 0h0m4 0h0m3 0h0m2 0h0m3 0h0m4 0h0m5 0h0m60 0h0m-44 1h0m-5 0h0m-12 0h0m-9 0h0m-4 0h0m-1 0h0m-1 0h0m-1 0h0m-2 0h0m-2 0h0m-1 0h0m-1 0h0m-3 0h0m-4 0h0m-1 0h0m-1 0h0m-6 0h0m-4 0h0m-3 0h0m-1 0h0m-4 0h0m-12 0h0m-1 0h0m-7 0h0m-8 0h0m-2 0h0m-3 0h0m-3 0h0m3 1h0m3 0h0m9 0h0m4 0h0m1 0h0m3 0h0m4 0h0m7 0h0m1 0h0m3 0h0m21 0h0m2 0h0m1 0h0m3 0h0m6 0h0m2 0h0m16 0h0m50 0h0m-34 1h0m-26 0h0m-8 0h0m-3 0h0m-8 0h0m-5 0h0m-1 0h0m-5 0h0m-3 0h0m-3 0h0m-1 0h0m-3 0h0m-2 0h0m-10 0h0m-4 0h0m-6 0h0m-1 0h0m-1 0h0m-1 0h0m-7 0h0m-1 0h0m-2 0h0m-5 0h0m2 1h0m1 0h0m4 0h0m1 0h0m13 0h0m7 0h0m3 0h0m7 0h0m9 0h0m1 0h0m6 0h0m7 0h0m6 0h0m48 0h0m7 1h0m-24 0h0m-22 0h0m-5 0h0m-1 0h0m-6 0h0m-7 0h0m-2 0h0m-2 0h0m-1 0h0m-2 0h0m-1 0h0m-5 0h0m-1 0h0m-4 0h0m-2 0h0m-1 0h0m-2 0h0m-2 0h0m-6 0h0m-1 0h0m-3 0h0m-1 0h0m-6 0h0m-1 0h0m-1 0h0m-4 0h0m-1 0h0m-1 0h0m-2 0h0m-6 0h0m-3 0h0m3 1h0m1 0h0m1 0h0m2 0h0m5 0h0m2 0h0m5 0h0m6 0h0m2 0h0m14 0h0m4 0h0m3 0h0m2 0h0m7 0h0m4 0h0m2 0h0m1 0h0m1 0h0m1 0h0m5 0h0m1 0h0m8 1h0m-6 0h0m-11 0h0m-6 0h0m-1 0h0m-2 0h0m-1 0h0m-3 0h0m-9 0h0m-6 0h0m-2 0h0m-1 0h0m-1 0h0m-7 0h0m-2 0h0m-2 0h0m-1 0h0m-4 0h0m-5 0h0m-1 0h0m-5 0h0m-1 0h0m-1 1h0m2 0h0m2 0h0m6 0h0m1 0h0m4 0h0m1 0h0m7 0h0m1 0h0m2 0h0m10 0h0m1 0h0m6 0h0m3 0h0m1 0h0m2 0h0m1 0h0m4 0h0m2 0h0m1 0h0m3 0h0m1 0h0m4 0h0m4 0h0m3 0h0m4 0h0m12 0h0m2 0h0m41 1h0m-35 0h0m-23 0h0m-2 0h0m-2 0h0m-8 0h0m-1 0h0m-6 0h0m-4 0h0m-4 0h0m-1 0h0m-4 0h0m-1 0h0m-3 0h0m-1 0h0m-1 0h0m-4 0h0m-1 0h0m-5 0h0m-1 0h0m-2 0h0m-1 0h0m-2 0h0m-1 0h0m-2 0h0m-6 0h0m-1 0h0m-4 0h0m-3 0h0m-6 0h0m4 1h0m2 0h0m5 0h0m2 0h0m1 0h0m7 0h0m4 0h0m1 0h0m3 0h0m3 0h0m1 0h0m1 0h0m2 0h0m2 0h0m2 0h0m6 0h0m3 0h0m3 0h0m1 0h0m2 0h0m1 0h0m3 0h0m2 0h0m1 0h0m4 0h0m5 0h0m1 0h0m3 0h0m38 0h0m-33 1h0m-1 0h0m-5 0h0m-10 0h0m-8 0h0m-5 0h0m-17 0h0m-1 0h0m-1 0h0m-3 0h0m-4 0h0m-4 0h0m-3 0h0m-3 0h0m-4 0h0m-1 0h0m-4 0h0m-2 1h0m13 0h0m5 0h0m10 0h0m1 0h0m3 0h0m5 0h0m1 0h0m6 0h0m5 0h0m5 0h0m1 0h0m9 0h0m6 0h0m1 0h0m3 0h0m8 0h0m8 0h0m15 1h0m-6 0h0m-22 0h0m-2 0h0m-10 0h0m-3 0h0m-1 0h0m-5 0h0m-5 0h0m-5 0h0m-2 0h0m-3 0h0m-1 0h0m-5 0h0m-8 0h0m-1 0h0m-1 0h0m-3 0h0m-5 0h0m-1 0h0m-1 0h0m-6 0h0m-2 0h0m-2 0h0m-5 1h0m3 0h0m4 0h0m1 0h0m5 0h0m4 0h0m2 0h0m3 0h0m4 0h0m1 0h0m12 0h0m6 0h0m4 0h0m4 0h0m11 0h0m9 0h0m1 0h0m17 0h0m21 0h0m-31 1h0m-21 0h0m-3 0h0m-2 0h0m-4 0h0m-4 0h0m-2 0h0m-2 0h0m-2 0h0m-5 0h0m-12 0h0m-3 0h0m-3 0h0m-1 0h0m-6 0h0m-3 0h0m-3 0h0m-3 0h0m2 1h0m2 0h0m6 0h0m7 0h0m4 0h0m2 0h0m1 0h0m2 0h0m1 0h0m3 0h0m8 0h0m13 0h0m2 0h0m4 0h0m2 0h0m8 0h0m2 0h0m2 0h0m2 0h0m17 0h0m2 0h0m8 0h0m-18 1h0m-3 0h0m-8 0h0m-2 0h0m-1 0h0m-8 0h0m-1 0h0m-11 0h0m-3 0h0m-8 0h0m-4 0h0m-5 0h0m-1 0h0m-4 0h0m-2 0h0m-2 0h0m-2 0h0m-7 0h0m-1 0h0m-7 0h0m-1 0h0m-1 0h0m-2 0h0m6 1h0m4 0h0m1 0h0m4 0h0m6 0h0m1 0h0m1 0h0m1 0h0m4 0h0m4 0h0m2 0h0m6 0h0m1 0h0m5 0h0m1 0h0m2 0h0m3 0h0m1 0h0m2 0h0m1 0h0m2 0h0m3 0h0m3 0h0m3 0h0m1 0h0m1 0h0m2 0h0m4 0h0m12 0h0m5 0h0m8 1h0m-9 0h0m-13 0h0m-16 0h0m-14 0h0m-4 0h0m-3 0h0m-11 0h0m-6 0h0m-3 0h0m-1 0h0m-3 0h0m-3 0h0m-3 0h0m-1 0h0m-7 1h0m1 0h0m1 0h0m1 0h0m4 0h0m1 0h0m1 0h0m3 0h0m1 0h0m3 0h0m3 0h0m3 0h0m5 0h0m3 0h0m2 0h0m8 0h0m6 0h0m4 0h0m10 0h0m1 0h0m10 0h0m2 0h0m2 0h0m1 0h0m2 0h0m3 0h0m31 0h0m-36 1h0m-12 0h0m-3 0h0m-2 0h0m-3 0h0m-1 0h0m-1 0h0m-4 0h0m-5 0h0m-4 0h0m-2 0h0m-7 0h0m-7 0h0m-4 0h0m-4 0h0m-5 0h0m-11 0h0m-2 0h0m-2 1h0m11 0h0m3 0h0m9 0h0m6 0h0m3 0h0m4 0h0m1 0h0m2 0h0m5 0h0m7 0h0m3 0h0m4 0h0m7 0h0m3 0h0m10 0h0m35 1h0m-33 0h0m-3 0h0m-2 0h0m-3 0h0m-2 0h0m-6 0h0m-5 0h0m-2 0h0m-5 0h0m-3 0h0m-1 0h0m-1 0h0m-4 0h0m-6 0h0m-2 0h0m-1 0h0m-4 0h0m-16 0h0m-1 0h0m-7 1h0m3 0h0m4 0h0m10 0h0m3 0h0m2 0h0m2 0h0m11 0h0m3 0h0m3 0h0m6 0h0m1 0h0m3 0h0m1 0h0m5 0h0m1 0h0m1 0h0m1 0h0m7 0h0m19 0h0m5 0h0m-23 1h0m-2 0h0m-1 0h0m-1 0h0m-6 0h0m-1 0h0m-8 0h0m-1 0h0m-1 0h0m-1 0h0m-2 0h0m-4 0h0m-4 0h0m-5 0h0m-8 0h0m-7 0h0m-3 0h0m-2 0h0m-8 0h0m-6 1h0m1 0h0m2 0h0m5 0h0m1 0h0m4 0h0m7 0h0m3 0h0m5 0h0m9 0h0m4 0h0m1 0h0m1 0h0m8 0h0m1 0h0m1 0h0m1 0h0m1 0h0m2 0h0m1 0h0m3 0h0m5 0h0m3 0h0m1 0h0m1 0h0m1 0h0m-4 1h0m-14 0h0m-1 0h0m-2 0h0m-1 0h0m-2 0h0m-9 0h0m-9 0h0m-7 0h0m-1 0h0m-7 0h0m-3 0h0m-1 0h0m-2 0h0m-5 0h0m-2 0h0m1 1h0m3 0h0m6 0h0m1 0h0m3 0h0m7 0h0m4 0h0m1 0h0m3 0h0m5 0h0m1 0h0m3 0h0m2 0h0m1 0h0m3 0h0m2 0h0m3 0h0m1 0h0m5 0h0m1 0h0m2 0h0m2 0h0m42 1h0m-9 0h0m-33 0h0m-1 0h0m-2 0h0m-4 0h0m-3 0h0m-4 0h0m-4 0h0m-2 0h0m-2 0h0m-4 0h0m-4 0h0m-1 0h0m-6 0h0m-5 0h0m-2 0h0m-2 0h0m-1 0h0m-3 0h0m-5 0h0m-4 0h0m3 1h0m2 0h0m1 0h0m9 0h0m7 0h0m5 0h0m1 0h0m1 0h0m5 0h0m4 0h0m2 0h0m6 0h0m3 0h0m8 0h0m4 0h0m2 0h0m3 0h0m12 0h0m10 0h0m5 0h0m-4 1h0m-32 0h0m-5 0h0m-3 0h0m-15 0h0m-15 0h0m-8 0h0m-15 1h0m6 0h0m11 0h0m3 0h0m2 0h0m7 0h0m1 0h0m5 0h0m5 0h0m2 0h0m4 0h0m2 0h0m8 0h0m3 0h0m32 0h0m2 0h0m10 0h0m2 0h0m93 0h0m4 0h0m-108 1h0m-4 0h0m-31 0h0m-3 0h0m-3 0h0m-2 0h0m-3 0h0m-5 0h0m-4 0h0m-1 0h0m-2 0h0m-3 0h0m-1 0h0m-1 0h0m-5 0h0m-1 0h0m-8 0h0m-1 0h0m-3 0h0m-4 0h0m-1 0h0m-2 0h0m-1 0h0m-1 0h0m-4 1h0m3 0h0m4 0h0m2 0h0m9 0h0m1 0h0m1 0h0m1 0h0m5 0h0m10 0h0m5 0h0m13 0h0m3 0h0m3 0h0m18 0h0m5 0h0m5 0h0m9 0h0m94 0h0m3 0h0m7 0h0m2 0h0m-107 1h0m-14 0h0m-1 0h0m-20 0h0m-3 0h0m-1 0h0m-1 0h0m-1 0h0m-11 0h0m-1 0h0m-3 0h0m-2 0h0m-2 0h0m-1 0h0m-2 0h0m-3 0h0m-1 0h0m-1 0h0m-1 0h0m-1 0h0m-3 0h0m-4 0h0m-4 0h0m-3 0h0m-3 0h0m-6 1h0m1 0h0m6 0h0m1 0h0m2 0h0m1 0h0m3 0h0m1 0h0m2 0h0m1 0h0m2 0h0m5 0h0m2 0h0m2 0h0m4 0h0m1 0h0m4 0h0m4 0h0m3 0h0m3 0h0m2 0h0m2 0h0m5 0h0m30 0h0m103 0h0m3 0h0m4 0h0m1 1h0m-123 0h0m-20 0h0m-7 0h0m-1 0h0m-7 0h0m-1 0h0m-4 0h0m-5 0h0m-2 0h0m-4 0h0m-1 0h0m-5 0h0m-4 0h0m-5 0h0m-1 0h0m-4 0h0m-2 0h0m6 1h0m2 0h0m2 0h0m15 0h0m3 0h0m1 0h0m1 0h0m2 0h0m14 0h0m3 0h0m1 0h0m5 0h0m21 0h0m112 0h0m6 0h0m2 0h0m0 1h0m-125 0h0m-12 0h0m-6 0h0m-1 0h0m-9 0h0m-1 0h0m-8 0h0m-3 0h0m-2 0h0m-1 0h0m-1 0h0m-1 0h0m-3 0h0m-2 0h0m-2 0h0m-1 0h0m-11 0h0m-1 0h0m-8 0h0m-1 0h0m7 1h0m2 0h0m1 0h0m2 0h0m15 0h0m5 0h0m1 0h0m5 0h0m5 0h0m7 0h0m3 0h0m144 0h0m3 0h0m4 0h0m-7 1h0m-124 0h0m-2 0h0m-12 0h0m-5 0h0m-1 0h0m-1 0h0m-2 0h0m-2 0h0m-2 0h0m-2 0h0m-1 0h0m-1 0h0m-1 0h0m-4 0h0m-8 0h0m-3 0h0m-2 0h0m-14 0h0m0 1h0m12 0h0m2 0h0m3 0h0m7 0h0m1 0h0m1 0h0m1 0h0m2 0h0m1 0h0m1 0h0m2 0h0m7 0h0m4 0h0m37 0h0m5 0h0m98 1h0m-108 0h0m-17 0h0m-24 0h0m-1 0h0m-1 0h0m-1 0h0m-7 0h0m-1 0h0m-3 0h0m-4 0h0m-4 0h0m-12 0h0m-1 0h0m-3 0h0m-5 0h0m7 1h0m7 0h0m1 0h0m2 0h0m2 0h0m4 0h0m1 0h0m7 0h0m2 0h0m1 0h0m1 0h0m6 0h0m4 0h0m1 0h0m4 0h0m26 0h0m122 0h0m-3 1h0m-147 0h0m-10 0h0m-1 0h0m-2 0h0m-2 0h0m-1 0h0m-5 0h0m-2 0h0m-2 0h0m-1 0h0m-1 0h0m-3 0h0m-2 0h0m-5 0h0m-2 0h0m0 1h0m7 0h0m4 0h0m4 0h0m1 0h0m3 0h0m2 0h0m5 0h0m1 0h0m159 1h0m-143 0h0m-3 0h0m-12 0h0m-1 0h0m-5 0h0m-2 0h0m-1 0h0m-6 0h0m-2 0h0m-4 0h0m-2 0h0m-1 0h0m-4 1h0m2 0h0m10 0h0m4 0h0m14 0h0m1 0h0m4 0h0m25 0h0m5 0h0m7 0h0m10 0h0m108 0h0m-5 1h0m-126 0h0m-6 0h0m-22 0h0m-1 0h0m-2 0h0m-11 0h0m-2 0h0m-6 0h0m-7 1h0m17 0h0m19 0h0m22 0h0m1 0h0m8 0h0m120 0h0m-133 1h0m-27 0h0m-28 0h0m9 1h0m45 0h0m132 1h0m-125 0h0m-4 0h0m-34 1h0m1 0h0m18 0h0m16 0h0m21 0h0m51 0h0m66 1h0m-10 0h0m-117 0h0m-11 0h0m-2 0h0m-4 0h0m-3 0h0m-2 0h0m-1 0h0m-44 1h0m7 0h0m8 0h0m34 0h0m135 0h0m-2 1h0m-123 0h0m-9 0h0m-2 0h0m-4 0h0m-7 0h0m-1 0h0m-8 0h0m-1 0h0m-3 0h0m-13 1h0m23 0h0m15 0h0m6 0h0m1 0h0m128 1h0m-105 0h0m-30 0h0m-7 0h0m-21 0h0m-22 0h0m2 1h0m23 0h0m6 0h0m6 0h0m13 0h0m2 0h0m19 0h0m110 0h0m-153 1h0m-11 0h0m15 1h0m24 0h0m117 1h0m-142 0h0m-1 0h0m-4 0h0m-11 0h0m-2 1h0m1 0h0m2 0h0m3 0h0m1 0h0m6 0h0m6 0h0m9 0h0m6 0h0m28 0h0m108 0h0m-154 1h0m-1 0h0m-8 0h0m-2 0h0m-1 0h0m4 1h0m2 0h0m3 0h0m14 0h0m141 0h0m-112 1h0m-46 0h0m-2 0h0m-2 0h0m-1 0h0m0 1h0m9 0h0m7 0h0m37 0h0m6 0h0m2 1h0m-51 0h0m-3 0h0m-2 0h0m-1 0h0m-11 0h0m-2 0h0m0 1h0m6 0h0m2 0h0m6 0h0m4 0h0m1 0h0m6 0h0m14 0h0m43 0h0m-16 1h0m-42 0h0m-1 0h0m-4 0h0m-2 0h0m-2 0h0m-1 0h0m-12 1h0m1 0h0m1 0h0m3 0h0m2 0h0m1 0h0m1 0h0m1 0h0m4 0h0m1 0h0m2 0h0m1 0h0m1 0h0m1 0h0m2 1h0m-15 0h0m-5 0h0m-2 1h0m1 0h0m8 0h0m2 0h0m4 0h0m10 0h0m154 0h0m-119 1h0m-5 0h0m-1 0h0m-2 0h0m-30 0h0m-1 0h0m-2 0h0m-1 0h0m-2 0h0m-4 0h0m-2 0h0m-4 0h0m-5 0h0m-2 0h0m0 1h0m4 0h0m1 0h0m3 0h0m7 0h0m47 1h0m-63 0h0m-1 0h0m1 1h0m4 0h0m7 0h0m5 0h0m6 0h0m3 0h0m3 0h0m9 0h0m145 0h0m-142 1h0m-2 0h0m-12 0h0m-5 0h0m-6 0h0m-1 0h0m-5 0h0m-5 0h0m0 1h0m3 0h0m8 0h0m4 0h0m3 0h0m42 0h0m-56 1h0m-2 0h0m-2 1h0m12 0h0m1 0h0m31 0h0m-37 1h0m-2 0h0m-1 0h0m-3 0h0m-1 0h0m-5 0h0m2 1h0m4 0h0m5 0h0m2 0h0m1 0h0m12 0h0m11 0h0m20 1h0m-2 0h0m-20 0h0m-24 0h0m-1 0h0m-7 0h0m20 1h0m4 0h0m17 0h0m2 0h0m4 0h0m94 1h0m-82 0h0m-9 0h0m-47 0h0m-2 0h0m-1 1h0m5 0h0m22 0h0m7 0h0m18 0h0m12 0h0m45 1h0m-46 0h0m-11 0h0m-52 0h0m-4 0h0m31 1h0m4 0h0m11 1h0m-42 0h0m2 1h0m4 0h0m1 0h0m3 0h0m15 0h0m5 0h0m29 1h0m-55 0h0m3 1h0m6 0h0m15 0h0m5 0h0m22 0h0m124 0h0m-52 1h0m-73 0h0m-4 0h0m-15 0h0m-34 1h0m2 0h0m34 0h0m3 0h0m10 0h0m4 1h0m-5 0h0m-15 0h0m6 1h0m50 1h0m-31 0h0m-13 0h0m-5 0h0m132 1h0m-117 1h0m-20 0h0m-38 1h0m8 0h0m5 0h0m2 0h0m36 0h0m4 0h0m2 0h0m134 1h0m-129 0h0m-3 0h0m-3 0h0m-36 0h0m-1 0h0m-7 0h0m-1 0h0m-8 0h0m7 1h0m1 0h0m13 0h0m4 0h0m21 0h0m-33 1h0m-2 0h0m-3 0h0m-3 0h0m-3 1h0m4 0h0m3 0h0m3 0h0m2 0h0m1 0h0m6 0h0m139 1h0m-125 0h0m-12 0h0m-16 0h0m-4 0h0m-1 0h0m12 1h0m9 0h0m11 0h0m45 0h0m51 1h0m-106 0h0m-13 0h0m-2 0h0m-3 0h0m-4 0h0m-1 0h0m0 1h0m6 0h0m29 0h0m-6 1h0m-4 0h0m-7 0h0m-5 0h0m-7 0h0m-1 0h0m0 1h0m2 0h0m16 0h0m5 0h0m1 0h0m2 0h0m153 1h0m-54 0h0m-101 0h0m-15 0h0m-1 0h0m-4 0h0m-5 0h0m-3 1h0m4 0h0m2 0h0m7 0h0m5 0h0m5 0h0m4 0h0m164 0h0m-9 1h0m-70 0h0m-36 0h0m-39 0h0m-14 0h0m-2 0h0m-3 0h0m-20 0h0m2 1h0m13 0h0m11 0h0m4 0h0m1 0h0m10 0h0m96 1h0m-53 0h0m-54 0h0m-1 0h0m-3 0h0m-6 0h0m-2 0h0m-5 0h0m-2 0h0m-4 0h0m-1 0h0m-4 0h0m5 1h0m3 0h0m13 0h0m3 0h0m9 0h0m3 1h0m-3 0h0m-4 0h0m-3 0h0m-1 0h0m-7 0h0m-5 0h0m-2 0h0m-4 1h0m1 0h0m1 0h0m8 0h0m1 0h0m5 0h0m3 0h0m1 0h0m61 0h0m16 0h0m16 1h0m-25 0h0m-60 0h0m-10 0h0m-3 0h0m-3 0h0m-2 0h0m-4 0h0m-5 0h0m-1 0h0m4 1h0m7 0h0m2 0h0m1 0h0m8 0h0m1 0h0m2 0h0m11 0h0m-16 1h0m-9 0h0m-2 0h0m-14 0h0m0 1h0m1 0h0m3 0h0m4 0h0m5 0h0m5 0h0m8 0h0m6 0h0m96 1h0m-100 0h0m-20 0h0m-1 1h0m6 0h0m111 0h0m9 1h0m-8 0h0m-91 0h0m-31 0h0m18 1h0m113 1h0m-3 0h0m-1 0h0m-3 0h0m-2 0h0m-7 0h0m-91 0h0m-20 0h0m8 1h0m13 0h0m102 0h0m1 0h0m-3 1h0m-121 0h0m-7 1h0m5 0h0m1 0h0m14 0h0m115 0h0m0 1h0m-2 0h0m-7 0h0m-103 0h0m110 2h0m-1 0h0m-6 0h0m-105 0h0m-2 0h0m114 2h0m-1 0h0m-4 0h0m-111 0h0m-1 1h0m32 0h0m83 0h0m-4 1h0m-21 0h0m-100 1h0m122 0h0m4 0h0m2 1h0m-2 1h0m-42 1h0m-13 0h0m55 3h0m3 0h0m-5 2h0m4 0h0m4 0h0m-3 2h0m7 1h0m-8 0h0m-1 0h0m-20 1h0m30 0h0m-20 2h0m7 3h0"/></g>
<g fill="none" stroke-width="2.4" stroke-linecap="round"><path stroke="#b0b0b2" d="M617 133h0m-6 0h0m-36 0h0m5 1h0m28 0h0m8 1h0m-60 1h0m20 0h0m12 0h0m0 1h0m-4 0h0m-13 0h0m-2 0h0m-3 0h0m-7 1h0m1 0h0m36 0h0m14 0h0m1 0h0m7 0h0m3 0h0m-10 1h0m-2 0h0m-3 0h0m-20 0h0m-3 0h0m-26 0h0m-8 1h0m6 0h0m16 0h0m5 0h0m2 0h0m1 0h0m5 0h0m10 0h0m4 0h0m1 0h0m4 0h0m4 0h0m2 0h0m6 0h0m8 0h0m-6 1h0m-2 0h0m-4 0h0m-4 0h0m-4 0h0m-4 0h0m-5 0h0m-10 0h0m-1 0h0m-1 0h0m-5 0h0m-1 0h0m-6 0h0m-16 1h0m5 0h0m1 0h0m3 0h0m4 0h0m4 0h0m36 0h0m2 0h0m1 0h0m6 0h0m7 1h0m-7 0h0m-3 0h0m-3 0h0m-1 0h0m-1 0h0m-2 0h0m-1 0h0m-4 0h0m-12 0h0m-2 0h0m-3 0h0m-2 0h0m-3 0h0m-10 0h0m-5 0h0m-1 0h0m-2 0h0m-7 0h0m-3 0h0m-1 0h0m-3 0h0m-4 1h0m9 0h0m10 0h0m14 0h0m8 0h0m15 0h0m1 0h0m9 0h0m1 0h0m15 0h0m-11 1h0m-21 0h0m-9 0h0m-13 0h0m-4 0h0m-4 0h0m-15 1h0m9 0h0m2 0h0m1 0h0m18 0h0m7 0h0m4 0h0m5 0h0m16 0h0m1 0h0m3 0h0m2 0h0m9 0h0m2 1h0m-6 0h0m-1 0h0m-15 0h0m-1 0h0m-4 0h0m-1 0h0m-6 0h0m-6 0h0m-5 0h0m-1 0h0m-4 0h0m-8 0h0m-4 0h0m-3 0h0m-6 0h0m-9 1h0m4 0h0m9 0h0m2 0h0m7 0h0m4 0h0m9 0h0m9 0h0m5 0h0m1 0h0m18 0h0m5 0h0m2 1h0m-2 0h0m-14 0h0m-2 0h0m-1 0h0m-1 0h0m-3 0h0m-10 0h0m-5 0h0m-2 0h0m-2 0h0m-2 0h0m-8 0h0m-6 0h0m-1 0h0m-3 0h0m-8 0h0m-9 1h0m2 0h0m1 0h0m6 0h0m8 0h0m10 0h0m10 0h0m3 0h0m8 0h0m21 0h0m13 0h0m3 1h0m-3 0h0m-3 0h0m-8 0h0m-10 0h0m-22 0h0m-1 0h0m-6 0h0m-12 0h0m-1 0h0m-6 0h0m-1 0h0m-2 0h0m-7 0h0m-5 0h0m3 1h0m6 0h0m4 0h0m22 0h0m31 0h0m1 0h0m3 0h0m7 0h0m2 0h0m3 0h0m5 1h0m-3 0h0m-7 0h0m-1 0h0m-5 0h0m-2 0h0m-5 0h0m-4 0h0m-3 0h0m-1 0h0m-4 0h0m-12 0h0m-2 0h0m-1 0h0m-6 0h0m-13 0h0m-4 0h0m-14 1h0m7 0h0m11 0h0m27 0h0m3 0h0m3 0h0m1 0h0m11 0h0m5 0h0m7 0h0m4 0h0m1 1h0m-6 0h0m-5 0h0m-1 0h0m-1 0h0m-7 0h0m-1 0h0m-6 0h0m-1 0h0m-4 0h0m-2 0h0m-8 0h0m-7 0h0m-18 0h0m-12 0h0m-5 1h0m2 0h0m7 0h0m1 0h0m11 0h0m2 0h0m21 0h0m6 0h0m5 0h0m1 0h0m13 0h0m10 0h0m7 0h0m3 1h0m-8 0h0m-6 0h0m-1 0h0m-4 0h0m-10 0h0m-13 0h0m-4 0h0m-1 0h0m-10 0h0m-2 0h0m-19 0h0m-3 0h0m-1 0h0m-9 1h0m1 0h0m4 0h0m16 0h0m3 0h0m6 0h0m38 0h0m1 0h0m4 0h0m4 0h0m3 0h0m1 0h0m7 0h0m-10 1h0m-2 0h0m-38 0h0m-2 0h0m-3 0h0m-3 0h0m-26 1h0m1 0h0m9 0h0m6 0h0m2 0h0m3 0h0m1 0h0m3 0h0m13 0h0m1 0h0m2 0h0m2 0h0m5 0h0m4 0h0m2 0h0m7 0h0m5 0h0m5 0h0m1 0h0m5 0h0m1 0h0m2 0h0m-2 1h0m-2 0h0m-8 0h0m-1 0h0m-1 0h0m-13 0h0m-17 0h0m-6 0h0m-8 0h0m-6 0h0m-5 0h0m-5 0h0m-1 0h0m-3 0h0m0 1h0m1 0h0m2 0h0m1 0h0m1 0h0m1 0h0m3 0h0m3 0h0m4 0h0m4 0h0m4 0h0m5 0h0m2 0h0m6 0h0m12 0h0m16 0h0m3 0h0m1 0h0m3 0h0m2 0h0m9 0h0m-1 1h0m-2 0h0m-5 0h0m-11 0h0m-17 0h0m-3 0h0m-5 0h0m-3 0h0m-10 0h0m-7 0h0m-4 0h0m-1 0h0m-5 0h0m-4 0h0m-3 0h0m-3 0h0m-5 0h0m-1 0h0m-1 0h0m1 1h0m4 0h0m5 0h0m19 0h0m1 0h0m1 0h0m7 0h0m12 0h0m2 0h0m8 0h0m9 0h0m21 0h0m7 0h0m-11 1h0m-19 0h0m-3 0h0m-2 0h0m-1 0h0m-9 0h0m-3 0h0m-7 0h0m-19 0h0m-5 0h0m-2 0h0m-4 0h0m-11 0h0m6 1h0m10 0h0m2 0h0m2 0h0m1 0h0m6 0h0m2 0h0m2 0h0m8 0h0m6 0h0m4 0h0m11 0h0m5 0h0m6 0h0m12 0h0m3 0h0m6 1h0m-4 0h0m-3 0h0m-5 0h0m-1 0h0m-5 0h0m-1 0h0m-3 0h0m-5 0h0m-8 0h0m-5 0h0m-3 0h0m-1 0h0m-11 0h0m-2 0h0m-8 0h0m-4 0h0m-1 0h0m-6 0h0m-9 0h0m-1 0h0m-4 0h0m-4 0h0m-1 0h0m2 1h0m3 0h0m1 0h0m6 0h0m4 0h0m2 0h0m3 0h0m22 0h0m1 0h0m7 0h0m5 0h0m2 0h0m1 0h0m2 0h0m13 0h0m4 0h0m3 0h0m5 0h0m5 0h0m4 0h0m-19 1h0m-3 0h0m-1 0h0m-16 0h0m-12 0h0m-11 0h0m-2 0h0m-11 0h0m-2 0h0m-5 0h0m-2 0h0m-4 0h0m-2 0h0m-1 0h0m-2 0h0m-1 0h0m1 1h0m1 0h0m2 0h0m13 0h0m11 0h0m4 0h0m4 0h0m1 0h0m8 0h0m2 0h0m1 0h0m2 0h0m1 0h0m2 0h0m1 0h0m1 0h0m2 0h0m1 0h0m12 0h0m2 0h0m10 0h0m5 0h0m4 1h0m-2 0h0m-1 0h0m-4 0h0m-3 0h0m-2 0h0m-16 0h0m-5 0h0m-3 0h0m-12 0h0m-7 0h0m-2 0h0m-19 0h0m-2 0h0m-9 0h0m9 1h0m2 0h0m1 0h0m8 0h0m3 0h0m4 0h0m2 0h0m2 0h0m10 0h0m9 0h0m2 0h0m1 0h0m18 0h0m5 0h0m6 0h0m8 1h0m-5 0h0m-1 0h0m-1 0h0m-15 0h0m-4 0h0m-12 0h0m-17 0h0m-16 0h0m-11 0h0m-2 0h0m-1 0h0m-1 0h0m-15 1h0m11 0h0m2 0h0m2 0h0m2 0h0m3 0h0m1 0h0m3 0h0m7 0h0m8 0h0m8 0h0m1 0h0m5 0h0m6 0h0m4 0h0m2 0h0m4 0h0m2 0h0m3 0h0m5 0h0m6 0h0m2 0h0m1 0h0m9 0h0m1 0h0m-4 1h0m-13 0h0m-3 0h0m-5 0h0m-2 0h0m-1 0h0m-1 0h0m-3 0h0m-1 0h0m-15 0h0m-1 0h0m-2 0h0m-5 0h0m-3 0h0m-3 0h0m-3 0h0m-4 0h0m-3 0h0m-1 0h0m-2 0h0m-2 0h0m-3 0h0m-6 0h0m-8 1h0m13 0h0m8 0h0m2 0h0m2 0h0m2 0h0m16 0h0m4 0h0m1 0h0m23 0h0m14 0h0m2 0h0m2 0h0m-3 1h0m-1 0h0m-4 0h0m-11 0h0m-4 0h0m-1 0h0m-5 0h0m-2 0h0m-3 0h0m-6 0h0m-1 0h0m-11 0h0m-8 0h0m-7 0h0m-3 0h0m-7 0h0m-5 0h0m1 1h0m9 0h0m7 0h0m4 0h0m20 0h0m6 0h0m4 0h0m1 0h0m10 0h0m10 0h0m6 0h0m1 0h0m-8 1h0m-2 0h0m-2 0h0m-1 0h0m-6 0h0m-4 0h0m-4 0h0m-6 0h0m-12 0h0m-10 0h0m-2 0h0m-13 0h0m-3 0h0m-2 0h0m-2 0h0m-8 0h0m10 1h0m1 0h0m4 0h0m13 0h0m3 0h0m10 0h0m8 0h0m7 0h0m2 0h0m8 0h0m8 0h0m4 0h0m2 0h0m3 0h0m3 0h0m2 0h0m1 1h0m-1 0h0m-3 0h0m-20 0h0m-14 0h0m-1 0h0m-1 0h0m-1 0h0m-3 0h0m-8 0h0m-10 0h0m-2 0h0m-5 0h0m-2 0h0m-5 0h0m-7 0h0m-1 0h0m-4 0h0m-2 0h0m4 1h0m6 0h0m5 0h0m4 0h0m6 0h0m3 0h0m21 0h0m10 0h0m7 0h0m2 0h0m3 0h0m1 0h0m1 0h0m13 0h0m1 1h0m-9 0h0m-2 0h0m-10 0h0m-2 0h0m-6 0h0m-11 0h0m-6 0h0m-3 0h0m-2 0h0m-24 0h0m-5 0h0m5 1h0m9 0h0m8 0h0m1 0h0m11 0h0m1 0h0m3 0h0m1 0h0m1 0h0m4 0h0m4 0h0m13 0h0m5 0h0m1 0h0m15 1h0m-5 0h0m-3 0h0m-4 0h0m-2 0h0m-7 0h0m-10 0h0m-15 0h0m-2 0h0m-7 0h0m-5 0h0m-5 0h0m-4 0h0m-5 0h0m-11 0h0m2 1h0m4 0h0m4 0h0m3 0h0m2 0h0m3 0h0m3 0h0m2 0h0m9 0h0m2 0h0m1 0h0m5 0h0m5 0h0m3 0h0m12 0h0m10 0h0m18 0h0m-7 1h0m-3 0h0m-17 0h0m-12 0h0m-5 0h0m-3 0h0m-3 0h0m-4 0h0m-12 0h0m-9 0h0m-5 0h0m-6 0h0m-7 1h0m3 0h0m15 0h0m2 0h0m3 0h0m5 0h0m7 0h0m11 0h0m2 0h0m3 0h0m6 0h0m1 0h0m5 0h0m5 0h0m5 0h0m5 0h0m4 0h0m1 0h0m3 0h0m1 1h0m-9 0h0m-24 0h0m-8 0h0m-4 0h0m-1 0h0m-3 0h0m-1 0h0m-1 0h0m-2 0h0m-9 0h0m-7 0h0m-2 0h0m-2 0h0m5 1h0m6 0h0m1 0h0m4 0h0m6 0h0m6 0h0m1 0h0m2 0h0m8 0h0m7 0h0m2 0h0m16 0h0m3 0h0m3 0h0m3 1h0m-1 0h0m-6 0h0m-4 0h0m-3 0h0m-1 0h0m-1 0h0m-4 0h0m-8 0h0m-1 0h0m-3 0h0m-12 0h0m-1 0h0m-4 0h0m-1 0h0m-7 0h0m-1 0h0m-24 1h0m7 0h0m16 0h0m21 0h0m2 0h0m6 0h0m2 0h0m11 0h0m3 0h0m6 0h0m1 0h0m4 1h0m-7 0h0m-4 0h0m-1 0h0m-6 0h0m-2 0h0m-6 0h0m-5 0h0m-7 0h0m-1 0h0m-13 0h0m-7 0h0m-7 0h0m-1 0h0m-4 0h0m-4 0h0m-5 1h0m4 0h0m2 0h0m3 0h0m14 0h0m12 0h0m6 0h0m13 0h0m1 0h0m5 0h0m15 0h0m2 0h0m5 1h0m-6 0h0m-5 0h0m-3 0h0m-1 0h0m-4 0h0m-3 0h0m-3 0h0m-3 0h0m-2 0h0m-9 0h0m-1 0h0m-3 0h0m-4 0h0m-4 0h0m-2 0h0m-4 0h0m-2 0h0m-4 0h0m-15 1h0m3 0h0m11 0h0m4 0h0m9 0h0m1 0h0m1 0h0m4 0h0m5 0h0m2 0h0m2 0h0m2 0h0m2 0h0m3 0h0m4 0h0m13 0h0m5 0h0m-10 1h0m-4 0h0m-1 0h0m-4 0h0m-18 0h0m-11 0h0m-3 0h0m-2 0h0m-7 0h0m-4 0h0m-10 0h0m11 1h0m5 0h0m5 0h0m1 0h0m2 0h0m1 0h0m4 0h0m1 0h0m17 0h0m4 0h0m9 0h0m2 0h0m1 0h0m5 0h0m9 0h0m4 1h0m-2 0h0m-29 0h0m-7 0h0m-12 0h0m-5 0h0m-9 0h0m-1 0h0m-8 0h0m-11 0h0m-5 0h0m8 1h0m1 0h0m1 0h0m15 0h0m3 0h0m3 0h0m2 0h0m1 0h0m8 0h0m1 0h0m8 0h0m4 0h0m21 0h0m2 0h0m2 0h0m1 0h0m1 1h0m-1 0h0m-11 0h0m-2 0h0m-11 0h0m-17 0h0m-2 0h0m-8 0h0m-13 0h0m-1 0h0m-1 0h0m-3 0h0m-5 0h0m-2 0h0m17 1h0m3 0h0m1 0h0m7 0h0m7 0h0m1 0h0m4 0h0m3 0h0m8 0h0m12 0h0m6 0h0m3 1h0m-3 0h0m-3 0h0m-5 0h0m-11 0h0m-4 0h0m-6 0h0m-8 0h0m-12 0h0m-16 0h0m-4 1h0m8 0h0m5 0h0m1 0h0m2 0h0m2 0h0m3 0h0m3 0h0m1 0h0m13 0h0m16 0h0m2 0h0m5 0h0m3 0h0m2 0h0m3 0h0m10 0h0m-15 1h0m-6 0h0m-7 0h0m-2 0h0m-2 0h0m-6 0h0m-4 0h0m-10 0h0m-12 0h0m-11 1h0m4 0h0m7 0h0m2 0h0m1 0h0m8 0h0m3 0h0m7 0h0m2 0h0m5 0h0m6 0h0m1 0h0m2 0h0m7 0h0m13 0h0m-3 1h0m-3 0h0m-2 0h0m-1 0h0m-7 0h0m-13 0h0m-1 0h0m-3 0h0m-10 0h0m-4 0h0m-2 0h0m-8 0h0m-2 0h0m-5 0h0m0 1h0m1 0h0m16 0h0m14 0h0m2 0h0m1 0h0m8 0h0m4 0h0m1 0h0m2 0h0m9 0h0m7 1h0m-6 0h0m-1 0h0m-2 0h0m-19 0h0m-19 0h0m-1 0h0m-13 1h0m23 0h0m7 0h0m1 0h0m2 0h0m4 0h0m2 0h0m11 0h0m2 0h0m1 0h0m1 0h0m-4 1h0m-7 0h0m-13 0h0m-6 0h0m-2 0h0m-7 0h0m-3 0h0m-5 0h0m-3 0h0m-14 1h0m8 0h0m1 0h0m12 0h0m7 0h0m1 0h0m9 0h0m3 0h0m9 0h0m5 0h0m2 0h0m-6 1h0m-8 0h0m-2 0h0m-4 0h0m-11 0h0m-3 0h0m-3 0h0m-7 0h0m-6 1h0m14 0h0m2 0h0m9 0h0m1 0h0m8 0h0m2 0h0m11 1h0m-2 0h0m-7 0h0m-8 0h0m-15 0h0m-1 0h0m-4 1h0m11 0h0m3 0h0m4 0h0m5 0h0m4 0h0m-16 1h0m-3 0h0m-1 0h0m-3 0h0m-3 1h0m6 0h0m3 0h0m1 0h0m20 0h0m11 0h0m-10 1h0m-8 0h0m-17 0h0m-2 0h0m-3 1h0m7 0h0m8 0h0m4 1h0m1 1h0m11 0h0m-21 1h0"/><path stroke="#ddb787" d="M605 83h0m-4 11h0m10 1h0m-1 0h0m-8 0h0m0 1h0m9 0h0m4 0h0m9 1h0m-8 0h0m-3 0h0m-4 0h0m-3 0h0m-6 1h0m1 0h0m2 0h0m2 0h0m1 0h0m5 0h0m1 0h0m3 0h0m9 0h0m-7 1h0m-1 0h0m-1 0h0m-1 0h0m-5 0h0m-6 0h0m-7 0h0m-3 0h0m1 1h0m11 0h0m1 0h0m1 0h0m4 0h0m8 0h0m4 1h0m-7 0h0m-1 0h0m-2 0h0m-3 0h0m-7 0h0m-14 0h0m13 1h0m6 0h0m3 0h0m6 0h0m6 0h0m1 1h0m-1 0h0m-11 0h0m-1 0h0m-2 0h0m-6 0h0m-10 0h0m-1 0h0m-4 1h0m25 0h0m5 0h0m2 0h0m2 0h0m-1 1h0m-8 0h0m-11 0h0m-13 0h0m-5 0h0m3 1h0m2 0h0m1 0h0m5 0h0m2 0h0m3 0h0m14 0h0m1 0h0m5 0h0m3 0h0m1 1h0m-1 0h0m-2 0h0m-7 0h0m-3 0h0m-3 0h0m-6 0h0m-6 0h0m-1 0h0m-1 0h0m-6 0h0m-8 1h0m20 0h0m8 0h0m10 0h0m5 0h0m-5 1h0m-8 0h0m-29 0h0m4 1h0m15 0h0m11 0h0m1 0h0m2 0h0m1 0h0m3 0h0m7 1h0m-13 0h0m-3 0h0m-12 0h0m-11 0h0m3 1h0m6 0h0m3 0h0m6 0h0m17 0h0m4 1h0m-3 0h0m-2 0h0m-16 0h0m-11 0h0m-15 0h0m-1 1h0m4 0h0m6 0h0m16 0h0m2 0h0m19 0h0m1 1h0m-16 0h0m-1 0h0m-3 0h0m-3 0h0m-5 0h0m-3 0h0m-4 0h0m-2 0h0m-4 0h0m-2 0h0m-8 0h0m-1 1h0m14 0h0m3 0h0m15 0h0m7 0h0m9 0h0m6 0h0m3 0h0m-19 1h0m-8 0h0m-7 0h0m-4 0h0m-2 0h0m-10 0h0m-2 0h0m-11 0h0m7 1h0m5 0h0m10 0h0m9 0h0m7 0h0m7 0h0m5 0h0m1 0h0m5 0h0m-1 1h0m-16 0h0m-5 0h0m-3 0h0m-15 0h0m-11 0h0m-9 0h0m25 1h0m7 0h0m7 0h0m4 0h0m5 0h0m2 0h0m10 0h0m3 1h0m-16 0h0m-6 0h0m-16 0h0m-1 0h0m-3 0h0m-7 0h0m-1 0h0m-8 1h0m5 0h0m10 0h0m4 0h0m1 0h0m6 0h0m10 0h0m2 0h0m2 0h0m3 0h0m10 0h0m-1 1h0m-4 0h0m-2 0h0m-8 0h0m-5 0h0m-2 0h0m-6 0h0m-9 0h0m-8 0h0m-4 0h0m-1 0h0m4 1h0m18 0h0m4 0h0m1 0h0m3 0h0m12 0h0m5 0h0m1 0h0m0 1h0m-8 0h0m-11 0h0m-6 0h0m-6 0h0m-6 0h0m-12 0h0m-15 1h0m26 0h0m9 0h0m3 0h0m9 0h0m4 0h0m5 0h0m1 0h0m12 0h0m1 0h0m-2 1h0m-3 0h0m-1 0h0m-6 0h0m-19 0h0m-12 0h0m-7 0h0m-1 0h0m-12 0h0m-3 0h0m8 1h0m13 0h0m4 0h0m5 0h0m4 0h0m10 0h0m2 0h0m8 0h0m3 0h0m3 0h0m8 1h0m-13 0h0m-1 0h0m-15 0h0m-11 0h0m-8 0h0m-9 0h0m-1 0h0m-5 0h0m-5 0h0m1 1h0m6 0h0m3 0h0m6 0h0m3 0h0m3 0h0m1 0h0m11 0h0m2 0h0m21 0h0m3 0h0m6 1h0m-4 0h0m-6 0h0m-1 0h0m-2 0h0m-9 0h0m-10 0h0m-12 0h0m-8 0h0m-17 0h0m-2 0h0m-2 0h0m-1 0h0m17 1h0m12 0h0m6 0h0m10 0h0m16 0h0m2 1h0m-2 0h0m-7 0h0m-2 0h0m-9 0h0m-2 0h0m-11 0h0m-2 0h0m-1 0h0m-23 0h0m8 1h0m17 0h0m3 0h0m7 0h0m2 0h0m5 0h0m5 0h0m5 0h0m5 1h0m-5 0h0m-4 0h0m-3 0h0m-1 0h0m-20 0h0m-1 0h0m-3 0h0m-1 0h0m-11 0h0m3 1h0m5 0h0m12 0h0m9 0h0m3 0h0m10 0h0m6 0h0m5 0h0m-5 1h0m-3 0h0m-4 0h0m-8 0h0m-2 0h0m-5 0h0m-6 0h0m-7 0h0m-15 0h0m-4 0h0m1 1h0m1 0h0m2 0h0m12 0h0m25 0h0m4 0h0m1 0h0m6 0h0m4 0h0m1 0h0m-21 1h0m-37 0h0m-3 1h0m28 0h0m19 0h0m-3 1h0m-32 0h0m-13 0h0m19 1h0m19 0h0m17 1h0m-31 0h0m-23 0h0m46 9h0"/><path stroke="#9cd150" d="M553 29h0m-11 1h0m15 1h0m-16 1h0m10 1h0m-3 0h0m-1 0h0m-1 1h0m4 0h0m14 0h0m1 0h0m10 1h0m-18 0h0m-2 0h0m-13 0h0m-1 0h0m-6 0h0m4 1h0m3 0h0m10 0h0m21 0h0m-6 1h0m-7 0h0m-7 0h0m-5 0h0m-7 1h0m1 0h0m33 0h0m3 0h0m1 0h0m-1 1h0m-1 0h0m-18 0h0m-5 0h0m-14 0h0m-3 0h0m5 1h0m9 0h0m9 0h0m5 0h0m2 0h0m3 0h0m5 0h0m8 1h0m-10 0h0m-2 0h0m-21 0h0m-3 0h0m-8 1h0m4 0h0m3 0h0m7 0h0m2 0h0m4 0h0m18 0h0m2 0h0m3 1h0m-3 0h0m-6 0h0m-7 0h0m-7 0h0m-7 0h0m-5 0h0m-7 0h0m18 1h0m11 0h0m1 0h0m14 1h0m-2 0h0m-4 0h0m-3 0h0m-12 0h0m-8 0h0m-3 0h0m-2 0h0m-5 0h0m-1 0h0m-5 1h0m10 0h0m3 0h0m1 0h0m2 0h0m13 0h0m10 0h0m2 0h0m7 0h0m-4 1h0m-1 0h0m-2 0h0m-8 0h0m-9 0h0m-1 0h0m-2 0h0m-2 0h0m-11 0h0m-7 1h0m26 0h0m16 0h0m-6 1h0m-6 0h0m-4 0h0m-2 0h0m-6 0h0m-12 0h0m-3 0h0m-2 0h0m-1 1h0m9 0h0m11 0h0m13 0h0m5 0h0m3 0h0m2 0h0m10 0h0m-8 1h0m-21 0h0m-12 1h0m2 0h0m5 0h0m1 0h0m3 0h0m3 0h0m9 0h0m5 0h0m8 0h0m-4 1h0m-6 0h0m-2 0h0m-5 0h0m-1 0h0m-25 1h0m3 0h0m4 0h0m14 0h0m12 0h0m2 0h0m4 0h0m3 0h0m14 0h0m-22 1h0m-12 0h0m-3 0h0m-3 0h0m-3 0h0m-14 0h0m-4 0h0m1 1h0m4 0h0m6 0h0m5 0h0m3 0h0m5 0h0m8 0h0m1 0h0m2 0h0m15 0h0m2 0h0m4 0h0m1 0h0m-8 1h0m-10 0h0m-2 0h0m-2 0h0m-7 0h0m-9 0h0m-3 0h0m-2 0h0m-1 0h0m-9 0h0m-1 0h0m-2 1h0m6 0h0m6 0h0m22 0h0m16 0h0m7 1h0m-10 0h0m-2 0h0m-23 0h0m-11 0h0m-10 1h0m11 0h0m1 0h0m5 0h0m6 0h0m1 0h0m16 0h0m2 0h0m2 0h0m12 1h0m-1 0h0m-3 0h0m-3 0h0m-6 0h0m-3 0h0m-4 0h0m-3 0h0m-5 0h0m-21 0h0m-6 0h0m-3 0h0m-1 0h0m3 1h0m20 0h0m1 0h0m1 0h0m1 0h0m4 0h0m2 0h0m5 0h0m3 0h0m14 0h0m6 0h0m-16 1h0m-16 0h0m-18 0h0m-2 0h0m-5 1h0m8 0h0m9 0h0m29 0h0m4 0h0m4 0h0m6 1h0m-24 0h0m-30 0h0m18 1h0m14 0h0m3 0h0m5 0h0m8 0h0m10 1h0m-9 0h0m-5 0h0m-20 0h0m-4 0h0m-2 0h0m-1 0h0m-5 0h0m-2 0h0m-5 0h0m-11 0h0m-2 0h0m10 1h0m8 0h0m6 0h0m5 0h0m9 0h0m9 0h0m4 0h0m17 1h0m-6 0h0m-6 0h0m-12 0h0m-13 0h0m-12 0h0m-1 0h0m-18 1h0m7 0h0m4 0h0m4 0h0m5 0h0m2 0h0m17 0h0m7 0h0m4 0h0m10 0h0m-3 1h0m-11 0h0m-1 0h0m-1 0h0m-4 0h0m-4 0h0m-4 0h0m-5 0h0m-4 0h0m-8 0h0m-2 0h0m-1 0h0m-3 0h0m1 1h0m1 0h0m8 0h0m7 0h0m31 0h0m5 0h0m5 0h0m-13 1h0m-4 0h0m-1 0h0m-5 0h0m-10 0h0m-2 0h0m-2 0h0m-4 0h0m-1 0h0m-4 0h0m-5 0h0m-3 0h0m-5 0h0m-1 0h0m-8 1h0m1 0h0m5 0h0m1 0h0m4 0h0m1 0h0m6 0h0m5 0h0m9 0h0m2 0h0m2 0h0m6 0h0m19 0h0m4 0h0m0 1h0m-2 0h0m-3 0h0m-11 0h0m-1 0h0m-12 0h0m-6 0h0m-2 0h0m-1 0h0m-12 0h0m-2 0h0m-3 0h0m-12 1h0m25 0h0m1 0h0m18 0h0m11 0h0m8 0h0m6 1h0m-8 0h0m-3 0h0m-1 0h0m-4 0h0m-4 0h0m-8 0h0m-6 0h0m-1 0h0m-1 0h0m-13 0h0m-7 0h0m-14 0h0m3 1h0m1 0h0m13 0h0m5 0h0m6 0h0m4 0h0m3 0h0m3 0h0m6 0h0m1 0h0m16 0h0m-14 1h0m-6 0h0m-5 0h0m-15 0h0m-3 0h0m-2 0h0m-15 0h0m0 1h0m10 0h0m2 0h0m6 0h0m9 0h0m13 0h0m6 0h0m15 0h0m9 1h0m-27 0h0m-8 0h0m-2 0h0m-1 0h0m-1 0h0m-8 0h0m-6 0h0m-16 1h0m13 0h0m4 0h0m10 0h0m7 0h0m1 0h0m2 0h0m5 0h0m5 0h0m6 0h0m4 0h0m7 0h0m-17 1h0m-3 0h0m-6 0h0m-2 0h0m-9 0h0m-4 0h0m-2 0h0m-6 0h0m-2 0h0m-3 0h0m-1 0h0m-9 0h0m3 1h0m6 0h0m8 0h0m6 0h0m2 0h0m12 0h0m3 0h0m26 0h0m-6 1h0m-12 0h0m-1 0h0m-1 0h0m-2 0h0m-1 0h0m-2 0h0m-1 0h0m-3 0h0m-9 0h0m-3 0h0m-3 0h0m-2 0h0m-15 0h0m-1 0h0m-2 0h0m-3 0h0m12 1h0m6 0h0m7 0h0m4 0h0m1 0h0m4 0h0m6 0h0m2 0h0m24 0h0m0 1h0m-2 0h0m-12 0h0m-1 0h0m-14 0h0m-8 0h0m-5 0h0m-9 0h0m-2 0h0m-1 0h0m-5 0h0m-6 1h0m2 0h0m3 0h0m24 0h0m1 0h0m14 0h0m2 0h0m3 0h0m5 0h0m8 1h0m-11 0h0m-6 0h0m-1 0h0m-2 0h0m-11 0h0m-5 0h0m-1 0h0m-1 0h0m-1 0h0m-1 0h0m-1 0h0m-2 0h0m-1 0h0m-17 0h0m-14 0h0m2 1h0m6 0h0m2 0h0m5 0h0m9 0h0m14 0h0m5 0h0m9 0h0m1 0h0m5 0h0m17 0h0m3 1h0m-21 0h0m-2 0h0m-14 0h0m-3 0h0m-22 0h0m-2 0h0m3 1h0m2 0h0m10 0h0m2 0h0m10 0h0m2 0h0m9 0h0m3 0h0m2 0h0m6 0h0m4 0h0m2 0h0m6 0h0m0 1h0m-29 0h0m-1 0h0m-10 0h0m-11 0h0m-2 0h0m-3 0h0m-2 1h0m7 0h0m7 0h0m2 0h0m8 0h0m1 0h0m12 0h0m18 0h0m-5 1h0m-2 0h0m-1 0h0m-8 0h0m-1 0h0m-6 0h0m-2 0h0m-2 0h0m-1 0h0m-3 0h0m-3 0h0m-4 0h0m-3 0h0m-3 0h0m-1 0h0m-2 0h0m-7 0h0m-6 0h0m-2 0h0m-2 1h0m8 0h0m12 0h0m12 0h0m29 1h0m-9 0h0m-2 0h0m-10 0h0m-10 0h0m-10 0h0m-18 0h0m-1 0h0m6 1h0m4 0h0m3 0h0m10 0h0m2 0h0m8 0h0m3 0h0m19 1h0m-8 0h0m-12 0h0m-4 0h0m-7 0h0m-14 0h0m-3 0h0m5 1h0m4 0h0m2 0h0m1 0h0m5 0h0m13 0h0m5 0h0m4 0h0m7 0h0m-9 1h0m-8 0h0m-6 0h0m-6 0h0m-8 0h0m-6 0h0m-6 0h0m-7 0h0m7 1h0m1 0h0m5 0h0m3 0h0m3 0h0m5 0h0m1 0h0m9 0h0m1 0h0m6 0h0m2 0h0m4 0h0m-6 1h0m-8 0h0m-1 0h0m-12 0h0m-18 0h0m10 1h0m2 0h0m1 0h0m6 0h0m6 0h0m1 0h0m8 0h0m2 0h0m6 0h0m6 0h0m-11 1h0m-1 0h0m-4 0h0m-15 0h0m-11 0h0m-3 0h0m-8 0h0m-1 1h0m3 0h0m3 0h0m6 0h0m6 0h0m3 0h0m6 0h0m1 0h0m6 0h0m3 0h0m4 0h0m8 0h0m2 0h0m3 0h0m-11 1h0m-17 0h0m-9 0h0m-2 0h0m-1 0h0m-3 0h0m-8 0h0m-5 0h0m10 1h0m6 0h0m7 0h0m6 0h0m16 0h0m9 0h0m15 1h0m-19 0h0m-19 0h0m-12 0h0m-10 0h0m-8 0h0m3 1h0m6 0h0m12 0h0m2 0h0m3 0h0m21 1h0m-6 0h0m-7 0h0m-6 0h0m-1 0h0m-18 0h0m-12 0h0m6 1h0m2 0h0m9 0h0m8 0h0m9 0h0m19 0h0m-11 1h0m-4 0h0m-1 0h0m-3 0h0m-12 0h0m-1 0h0m-4 0h0m-2 0h0m-11 0h0m-6 0h0m7 1h0m7 0h0m1 0h0m6 0h0m1 0h0m3 0h0m1 0h0m15 0h0m6 0h0m-2 1h0m-12 0h0m-6 0h0m-12 0h0m-13 1h0m12 0h0m4 0h0m11 0h0m12 0h0m8 0h0m3 0h0m-35 1h0m-5 0h0m-9 0h0m-7 0h0m1 1h0m4 0h0m1 0h0m29 0h0m1 0h0m5 0h0m7 0h0m5 0h0m-4 1h0m-32 0h0m-8 0h0m-4 0h0m-4 0h0m3 1h0m4 0h0m13 0h0m9 0h0m7 0h0m4 1h0m-3 0h0m-1 0h0m-12 0h0m-4 0h0m-2 0h0m-2 0h0m-2 0h0m-4 0h0m-2 0h0m-2 0h0m-2 0h0m-4 1h0m3 0h0m3 0h0m2 0h0m6 0h0m1 0h0m1 0h0m5 0h0m6 0h0m2 0h0m2 0h0m1 0h0m3 1h0m-4 0h0m-15 0h0m-3 0h0m-3 0h0m-2 0h0m-7 1h0m3 0h0m10 0h0m2 0h0m8 0h0m3 0h0m1 0h0m7 0h0m0 1h0m-2 0h0m-13 0h0m-6 0h0m-3 0h0m-3 0h0m-4 0h0m-6 0h0m2 1h0m12 0h0m1 0h0m1 0h0m1 0h0m19 1h0m-15 0h0m-1 0h0m-17 0h0m-2 0h0m-1 1h0m4 0h0m13 0h0m3 0h0m1 0h0m13 0h0m4 0h0m-7 1h0m-4 0h0m-1 0h0m-18 0h0m-1 0h0m6 1h0m1 0h0m1 0h0m19 0h0m2 1h0m-6 0h0m-4 0h0m-3 0h0m-4 0h0m-4 0h0m-6 0h0m-5 0h0m-6 0h0m3 1h0m10 0h0m2 0h0m2 0h0m2 0h0m6 0h0m7 0h0m5 0h0m-4 1h0m-12 0h0m-2 0h0m-3 0h0m-2 0h0m-7 0h0m-2 0h0m-5 1h0m5 0h0m1 0h0m6 0h0m3 0h0m6 0h0m3 0h0m8 1h0m-4 0h0m-2 0h0m-3 0h0m-3 0h0m-4 0h0m-7 0h0m-7 0h0m0 1h0m7 0h0m1 0h0m2 0h0m1 0h0m2 0h0m2 0h0m4 0h0m6 1h0m-6 0h0m-5 0h0m-1 0h0m-14 1h0m4 0h0m1 0h0m5 0h0m3 0h0m1 0h0m2 0h0m1 0h0m1 0h0m2 0h0m9 1h0m-9 0h0m-8 0h0m-2 0h0m-1 0h0m-2 0h0m-5 0h0m3 1h0m2 0h0m6 0h0m1 0h0m7 0h0m1 0h0m-24 1h0m11 1h0m7 0h0m5 0h0m3 1h0m-6 0h0m-1 0h0m-8 0h0m-2 0h0m-1 0h0m-5 1h0m17 0h0m18 0h0m-2 1h0m-18 0h0m-2 0h0m-1 0h0m-2 0h0m-1 0h0m-7 0h0m-1 0h0m2 1h0m3 0h0m1 0h0m4 0h0m4 0h0m-3 1h0m-8 0h0m-6 1h0m5 0h0m3 0h0m9 1h0m-3 0h0m-10 1h0m8 2h0m2 1h0m4 1h0m2 0h0m-6 1h0m-1 0h0m-35 3h0m23 0h0m1 0h0m1 0h0m11 0h0m2 0h0m4 0h0m-16 1h0m-1 3h0m-1 2h0m3 0h0m9 0h0m3 0h0m-11 2h0m8 2h0m2 2h0m-13 1h0m-1 0h0m2 1h0m14 0h0m-11 1h0m8 1h0m5 0h0m-13 1h0m-3 1h0m8 1h0m-13 0h0m7 1h0m1 0h0m5 0h0m10 0h0m-17 3h0m-2 0h0m-2 1h0m13 0h0m-10 1h0m2 1h0m13 1h0m-9 0h0m-5 1h0m3 0h0m-3 1h0m-1 0h0m-2 0h0m3 1h0m6 0h0m-4 2h0m9 0h0m-16 2h0m16 1h0m-8 1h0m2 0h0m6 0h0m-12 1h0m5 4h0"/><path stroke="#db8edc" d="M463 86h0m1 2h0m1 1h0m32 1h0m-8 1h0m-8 0h0m-2 0h0m-11 0h0m7 1h0m10 0h0m9 0h0m11 1h0m-2 0h0m-9 0h0m-15 0h0m-2 0h0m-4 1h0m1 0h0m1 0h0m5 0h0m5 0h0m13 0h0m-7 1h0m-7 0h0m-2 0h0m-1 0h0m-3 0h0m-2 0h0m-3 0h0m-4 0h0m-4 0h0m-8 0h0m-1 0h0m-3 0h0m14 1h0m5 0h0m2 0h0m7 0h0m7 0h0m3 0h0m6 0h0m7 0h0m4 1h0m-21 0h0m-8 0h0m-1 0h0m-6 0h0m-5 0h0m-5 0h0m5 1h0m9 0h0m19 0h0m6 0h0m-7 1h0m-3 0h0m-9 0h0m-7 0h0m-3 0h0m-3 0h0m-1 0h0m-12 0h0m-6 0h0m-14 0h0m5 1h0m9 0h0m2 0h0m8 0h0m11 0h0m9 0h0m3 0h0m1 0h0m4 0h0m9 0h0m7 0h0m-2 1h0m-4 0h0m-3 0h0m-9 0h0m-1 0h0m-2 0h0m-1 0h0m-8 0h0m-5 0h0m-17 0h0m-3 0h0m-2 0h0m3 1h0m18 0h0m14 0h0m4 0h0m7 0h0m1 0h0m2 0h0m6 0h0m1 0h0m2 0h0m4 1h0m-1 0h0m-1 0h0m-7 0h0m-2 0h0m-35 0h0m-4 0h0m-6 0h0m-5 0h0m-5 0h0m-5 0h0m13 1h0m6 0h0m1 0h0m12 0h0m1 0h0m15 0h0m5 0h0m3 0h0m8 0h0m1 0h0m4 0h0m1 0h0m1 0h0m2 0h0m-7 1h0m-14 0h0m-2 0h0m-1 0h0m-3 0h0m-4 0h0m-11 0h0m-28 0h0m-1 1h0m2 0h0m13 0h0m4 0h0m2 0h0m5 0h0m1 0h0m2 0h0m43 1h0m-6 0h0m-7 0h0m-10 0h0m-1 0h0m-11 0h0m-2 0h0m-1 0h0m-7 0h0m-6 0h0m-7 0h0m-1 0h0m-4 0h0m-2 0h0m-5 0h0m-3 1h0m13 0h0m5 0h0m8 0h0m7 0h0m7 0h0m3 0h0m2 0h0m9 0h0m3 0h0m12 0h0m1 0h0m-5 1h0m-2 0h0m-2 0h0m-7 0h0m-2 0h0m-2 0h0m-15 0h0m-5 0h0m-21 0h0m-7 0h0m-6 1h0m2 0h0m7 0h0m2 0h0m4 0h0m8 0h0m4 0h0m2 0h0m2 0h0m2 0h0m7 0h0m1 0h0m8 0h0m1 0h0m3 0h0m13 0h0m1 0h0m3 0h0m6 1h0m-1 0h0m-3 0h0m-1 0h0m-4 0h0m-3 0h0m-7 0h0m-1 0h0m-10 0h0m-1 0h0m-4 0h0m-15 0h0m-6 0h0m-2 0h0m-1 0h0m-4 0h0m-5 0h0m-1 0h0m-4 0h0m-2 0h0m5 1h0m7 0h0m9 0h0m6 0h0m6 0h0m6 0h0m13 0h0m3 0h0m13 0h0m2 0h0m9 0h0m-2 1h0m-6 0h0m-4 0h0m-4 0h0m-4 0h0m-3 0h0m-4 0h0m-22 0h0m-12 0h0m-2 0h0m-1 0h0m-1 0h0m-2 0h0m-8 0h0m-3 1h0m5 0h0m6 0h0m6 0h0m3 0h0m7 0h0m31 0h0m11 0h0m2 0h0m-8 1h0m-2 0h0m-5 0h0m-9 0h0m-15 0h0m-2 0h0m-4 0h0m-14 0h0m-5 0h0m-4 1h0m6 0h0m13 0h0m16 0h0m18 0h0m2 0h0m1 0h0m3 0h0m10 0h0m2 1h0m-7 0h0m-9 0h0m-2 0h0m-6 0h0m-1 0h0m-9 0h0m-9 0h0m-5 0h0m-6 0h0m-5 0h0m-5 0h0m-3 0h0m-2 0h0m-1 0h0m0 1h0m4 0h0m2 0h0m6 0h0m13 0h0m6 0h0m3 0h0m17 0h0m10 0h0m11 0h0m-31 1h0m-23 0h0m-2 0h0m-13 0h0m-4 1h0m1 0h0m1 0h0m13 0h0m9 0h0m2 0h0m4 0h0m2 0h0m5 0h0m2 0h0m2 0h0m5 0h0m3 0h0m3 0h0m2 0h0m16 0h0m1 0h0m-5 1h0m-7 0h0m-3 0h0m-16 0h0m-8 0h0m-3 0h0m-4 0h0m-26 0h0m2 1h0m1 0h0m4 0h0m1 0h0m2 0h0m4 0h0m2 0h0m2 0h0m4 0h0m8 0h0m4 0h0m13 0h0m30 1h0m-6 0h0m-10 0h0m-7 0h0m-8 0h0m-8 0h0m-2 0h0m-1 0h0m-1 0h0m-3 0h0m-2 0h0m-7 0h0m-1 0h0m-6 0h0m-3 0h0m-10 1h0m16 0h0m1 0h0m4 0h0m3 0h0m3 0h0m1 0h0m7 0h0m3 0h0m17 0h0m3 0h0m7 0h0m7 1h0m-16 0h0m-2 0h0m-3 0h0m-1 0h0m-6 0h0m-4 0h0m-2 0h0m-4 0h0m-1 0h0m-4 0h0m-5 0h0m-3 0h0m-1 0h0m-7 0h0m-7 0h0m-5 1h0m1 0h0m1 0h0m4 0h0m2 0h0m4 0h0m1 0h0m1 0h0m9 0h0m11 0h0m9 0h0m10 0h0m11 0h0m5 0h0m-4 1h0m-3 0h0m-7 0h0m-15 0h0m-3 0h0m-3 0h0m-7 0h0m-10 0h0m-8 0h0m-1 0h0m-7 1h0m1 0h0m13 0h0m1 0h0m14 0h0m2 0h0m3 0h0m1 0h0m2 0h0m5 0h0m5 0h0m1 0h0m3 0h0m2 0h0m6 0h0m-3 1h0m-6 0h0m-13 0h0m-7 0h0m-4 0h0m-1 0h0m-17 0h0m-7 0h0m-5 0h0m1 1h0m6 0h0m6 0h0m6 0h0m7 0h0m5 0h0m2 0h0m5 0h0m7 0h0m7 0h0m8 0h0m1 0h0m9 0h0m-25 1h0m-11 0h0m-12 0h0m-19 0h0m-2 1h0m2 0h0m7 0h0m5 0h0m11 0h0m6 0h0m5 0h0m4 0h0m3 0h0m8 0h0m15 0h0m-10 1h0m-12 0h0m-15 0h0m-1 0h0m-19 0h0m-2 0h0m-6 0h0m4 1h0m8 0h0m4 0h0m8 0h0m27 0h0m1 0h0m5 1h0m-6 0h0m-21 0h0m-2 0h0m-22 0h0m-1 0h0m-1 0h0m-4 0h0m-6 0h0m3 1h0m15 0h0m2 0h0m13 0h0m1 0h0m3 0h0m2 0h0m7 0h0m2 0h0m1 0h0m1 0h0m4 0h0m6 0h0m2 0h0m1 0h0m-2 1h0m-12 0h0m-12 0h0m-1 0h0m-10 0h0m-5 0h0m-1 0h0m-1 0h0m-4 0h0m-2 0h0m-2 0h0m1 1h0m5 0h0m2 0h0m4 0h0m3 0h0m14 0h0m3 0h0m1 0h0m4 0h0m16 0h0m-6 1h0m-2 0h0m-2 0h0m-6 0h0m-4 0h0m-12 0h0m-10 0h0m-1 0h0m-2 0h0m-1 0h0m-7 0h0m-2 0h0m2 1h0m6 0h0m18 0h0m1 0h0m8 0h0m4 0h0m14 0h0m6 1h0m-11 0h0m-2 0h0m-2 0h0m-1 0h0m-4 0h0m-9 0h0m-2 0h0m-10 0h0m-4 0h0m-3 0h0m-1 0h0m-5 0h0m-2 0h0m-3 0h0m-1 1h0m6 0h0m3 0h0m9 0h0m4 0h0m3 0h0m13 0h0m1 0h0m1 0h0m2 0h0m10 0h0m-7 1h0m-12 0h0m-1 0h0m-9 0h0m-1 0h0m-5 0h0m-15 0h0m-1 0h0m5 1h0m1 0h0m6 0h0m14 0h0m3 0h0m5 0h0m2 0h0m11 0h0m2 1h0m-8 0h0m-1 0h0m-21 0h0m-2 0h0m-2 0h0m-12 0h0m-3 0h0m-1 0h0m-3 0h0m12 1h0m1 0h0m1 0h0m2 0h0m7 0h0m5 0h0m9 0h0m2 0h0m4 0h0m5 0h0m4 0h0m4 0h0m3 0h0m-13 1h0m-12 0h0m-16 0h0m-15 1h0m11 0h0m12 0h0m18 0h0m3 0h0m8 0h0m-9 1h0m-4 0h0m-2 0h0m-4 0h0m-3 0h0m-6 0h0m-1 0h0m-8 0h0m-2 0h0m-7 0h0m-4 0h0m20 1h0m15 0h0m15 0h0m-3 1h0m-6 0h0m-2 0h0m-12 0h0m-9 0h0m-1 0h0m-2 0h0m-4 1h0m10 0h0m17 1h0m-6 0h0m-19 0h0m16 1h0m1 0h0m4 3h0m1 1h0m18 2h0m1 0h0m0 5h0m-26 0h0m24 5h0"/><path stroke="#f86b4f" d="M486 36h0m6 1h0m-9 1h0m5 0h0m1 0h0m2 1h0m-8 1h0m10 0h0m1 0h0m3 0h0m-1 1h0m-5 0h0m-5 0h0m-5 1h0m1 0h0m6 0h0m1 0h0m2 0h0m4 0h0m-5 1h0m-9 0h0m-5 0h0m2 1h0m5 0h0m2 0h0m4 0h0m8 0h0m-25 2h0m2 0h0m6 0h0m7 0h0m1 0h0m4 0h0m2 1h0m-8 0h0m-13 0h0m5 1h0m17 0h0m1 0h0m-2 1h0m-1 0h0m-7 0h0m-26 1h0m18 0h0m2 0h0m7 0h0m4 0h0m3 0h0m2 1h0m-2 0h0m-7 0h0m-6 0h0m-4 0h0m-6 1h0m12 0h0m5 0h0m4 0h0m2 0h0m-3 1h0m-11 0h0m1 1h0m15 1h0m-4 0h0m-3 0h0m-2 0h0m-6 0h0m-7 0h0m-8 0h0m3 1h0m2 0h0m9 0h0m2 0h0m5 0h0m6 0h0m4 0h0m-4 1h0m-4 0h0m-8 0h0m-3 0h0m-1 0h0m-4 0h0m5 1h0m3 0h0m15 0h0m-2 1h0m-1 0h0m-15 0h0m-3 0h0m-8 0h0m9 1h0m1 0h0m7 0h0m3 0h0m11 0h0m-3 1h0m-5 0h0m-19 0h0m-4 0h0m4 1h0m1 0h0m2 0h0m18 0h0m-1 1h0m-30 1h0m5 0h0m1 0h0m8 0h0m1 0h0m1 0h0m5 0h0m6 0h0m7 1h0m-1 0h0m-2 0h0m-8 0h0m-5 0h0m-5 0h0m-6 1h0m20 0h0m4 0h0m-3 1h0m-2 0h0m-10 0h0m-5 0h0m-1 0h0m-2 0h0m-13 0h0m-3 0h0m3 1h0m6 0h0m13 0h0m6 0h0m3 0h0m3 0h0m7 1h0m-8 0h0m-8 0h0m-5 0h0m-3 0h0m-7 0h0m-5 1h0m5 0h0m3 0h0m1 0h0m2 0h0m3 0h0m14 0h0m8 0h0m-16 1h0m-2 0h0m-8 0h0m-12 0h0m-9 0h0m4 1h0m7 0h0m5 0h0m1 0h0m4 0h0m5 0h0m3 0h0m7 0h0m3 0h0m2 1h0m-6 0h0m-8 0h0m-6 0h0m-3 0h0m-2 0h0m-1 0h0m-5 0h0m-7 0h0m-3 0h0m-5 0h0m8 1h0m2 0h0m5 0h0m3 0h0m6 0h0m3 0h0m4 0h0m1 0h0m9 0h0m3 0h0m8 0h0m-6 1h0m-12 0h0m-2 0h0m-2 0h0m-11 0h0m-1 0h0m-2 0h0m-7 1h0m2 0h0m6 0h0m1 0h0m3 0h0m5 0h0m1 0h0m11 0h0m6 0h0m6 0h0m-4 1h0m-1 0h0m-2 0h0m-5 0h0m-32 0h0m-1 1h0m12 0h0m9 0h0m7 0h0m6 0h0m9 0h0m8 0h0m-5 1h0m-6 0h0m-1 0h0m-18 0h0m-8 0h0m-3 0h0m-10 1h0m6 0h0m1 0h0m5 0h0m5 0h0m9 0h0m2 0h0m10 0h0m3 0h0m2 0h0m-8 1h0m-26 1h0m9 0h0m1 0h0m1 0h0m21 0h0m2 1h0m-13 0h0m-4 0h0m-3 0h0m-5 0h0m-6 0h0m-4 0h0m-6 0h0m25 1h0m2 0h0m5 0h0m4 0h0m1 0h0m5 1h0m-3 0h0m-3 0h0m-3 0h0m-7 0h0m-1 0h0m-6 0h0m-8 0h0m-1 0h0m-3 0h0m-2 0h0m-2 0h0m-2 1h0m10 0h0m11 0h0m7 0h0m3 0h0m7 0h0m-7 1h0m-9 0h0m-3 0h0m-14 0h0m-5 0h0m0 1h0m9 0h0m4 0h0m17 0h0m4 1h0m-6 0h0m-13 0h0m-6 0h0m-15 1h0m8 0h0m1 0h0m12 0h0m4 0h0m9 0h0m4 0h0m-2 1h0m-25 0h0m-11 0h0m41 1h0m-15 1h0m-5 0h0m-20 1h0m3 0h0m7 0h0m-8 2h0m-1 1h0m-2 3h0m28 58h0m28 3h0"/><path stroke="#e8900d" d="M534 30h0m4 1h0m-7 0h0m1 1h0m5 0h0m1 0h0m9 1h0m-6 0h0m-4 0h0m-8 0h0m-1 0h0m2 1h0m1 0h0m6 0h0m2 0h0m2 1h0m-2 0h0m-38 0h0m11 1h0m10 0h0m3 0h0m13 0h0m-12 1h0m-2 0h0m-20 0h0m30 1h0m7 0h0m1 0h0m1 0h0m-1 1h0m-8 0h0m-9 0h0m-16 1h0m15 0h0m6 0h0m4 0h0m1 0h0m7 1h0m-14 0h0m-21 1h0m22 0h0m4 0h0m1 0h0m3 0h0m-1 1h0m-4 0h0m-18 1h0m3 0h0m4 0h0m8 0h0m7 0h0m1 0h0m5 1h0m-11 0h0m-2 0h0m-1 0h0m-1 0h0m-5 0h0m-2 0h0m-1 0h0m-11 0h0m-3 1h0m22 0h0m10 0h0m4 1h0m-4 0h0m-12 0h0m-5 0h0m-14 0h0m-1 0h0m-2 0h0m18 1h0m1 0h0m10 0h0m1 0h0m6 1h0m-8 0h0m-3 0h0m-2 0h0m-1 0h0m-2 0h0m-3 0h0m0 1h0m8 0h0m4 0h0m6 0h0m10 0h0m-10 1h0m-2 0h0m-3 0h0m-2 0h0m-2 0h0m-28 0h0m6 1h0m10 0h0m12 0h0m8 0h0m4 1h0m-1 0h0m-6 0h0m-3 0h0m-7 0h0m-1 0h0m-27 0h0m10 1h0m13 0h0m13 0h0m5 1h0m-17 0h0m-1 0h0m-2 0h0m-9 0h0m16 1h0m14 0h0m-1 1h0m-19 0h0m-7 0h0m-10 0h0m-2 0h0m-4 0h0m21 1h0m4 0h0m3 0h0m7 0h0m6 0h0m3 1h0m-7 0h0m-16 0h0m-19 1h0m15 0h0m6 0h0m7 0h0m5 0h0m8 1h0m-8 0h0m-5 0h0m-22 0h0m21 2h0m-3 0h0m-1 0h0m-16 0h0m16 1h0m4 0h0m15 1h0m-1 0h0m-14 0h0m-4 0h0m-4 0h0m-1 0h0m-1 1h0m3 0h0m2 0h0m9 0h0m3 0h0m2 0h0m3 0h0m-7 1h0m-5 0h0m-3 0h0m-3 0h0m-2 0h0m-1 0h0m-10 0h0m10 1h0m3 0h0m22 0h0m-12 1h0m-2 0h0m-14 0h0m-3 0h0m-2 0h0m-3 0h0m-1 0h0m-3 0h0m23 1h0m14 0h0m0 1h0m-5 0h0m-12 0h0m-26 1h0m3 0h0m4 0h0m17 0h0m8 0h0m11 0h0m-14 1h0m-2 0h0m-9 0h0m-2 0h0m-4 0h0m-11 1h0m45 0h0m-6 1h0m-3 0h0m-3 0h0m-4 0h0m-2 0h0m-10 0h0m-8 0h0m-5 0h0m-4 0h0m-1 1h0m3 0h0m16 0h0m9 0h0m5 0h0m1 1h0m-9 0h0m-14 0h0m-3 0h0m-6 1h0m4 0h0m1 0h0m4 0h0m2 0h0m7 0h0m3 0h0m4 0h0m10 0h0m2 0h0m3 0h0m-11 1h0m-5 0h0m-1 0h0m-1 0h0m-11 0h0m-5 0h0m-2 0h0m-3 1h0m6 0h0m5 0h0m4 0h0m4 0h0m1 0h0m9 0h0m5 1h0m-1 0h0m-2 0h0m-24 0h0m-11 1h0m3 0h0m18 0h0m6 0h0m11 0h0m-3 1h0m-2 0h0m-7 0h0m-1 0h0m-3 0h0m-1 0h0m-7 0h0m-1 0h0m-1 0h0m-9 0h0m3 1h0m18 0h0m11 0h0m6 0h0m3 0h0m-3 1h0m-12 0h0m-8 0h0m-7 0h0m-3 0h0m-13 1h0m8 0h0m1 0h0m1 0h0m35 0h0m-1 1h0m-1 0h0m-11 0h0m-16 0h0m-7 0h0m11 1h0m1 0h0m11 0h0m12 1h0m-6 0h0m-4 0h0m-5 0h0m-28 1h0m8 0h0m5 0h0m6 0h0m1 1h0m-2 1h0m3 0h0m6 0h0m3 0h0m1 0h0m8 0h0m6 1h0m-36 0h0m-5 0h0m3 1h0m8 0h0m17 0h0m5 0h0m3 0h0m-3 1h0m-5 0h0m-3 0h0m-7 0h0m-16 1h0m17 0h0m5 0h0m4 0h0m3 0h0m3 1h0m-20 0h0m-3 0h0m-5 0h0m-2 0h0m-1 0h0m-3 0h0m2 1h0m5 0h0m5 0h0m8 0h0m-1 1h0m10 2h0m-5 0h0m-10 0h0m-4 0h0m-2 0h0m-3 0h0m7 1h0m4 0h0m6 0h0m2 0h0m2 1h0m-5 0h0m-1 0h0m-10 1h0m19 0h0m-3 1h0m-5 0h0m-6 0h0m-2 0h0m-2 1h0m16 0h0m1 0h0m-5 1h0m-1 10h0"/><path stroke="#d3950f" d="M634 131h0m3 3h0m2 0h0m-1 1h0m-3 1h0m3 1h0m-2 0h0m-4 0h0m17 2h0m-11 0h0m-3 0h0m-2 1h0m3 0h0m9 1h0m-7 0h0m-6 0h0m-20 3h0m22 0h0m8 0h0m-3 1h0m-2 0h0m-21 1h0m27 0h0m-9 1h0m-1 0h0m-1 0h0m7 2h0m-4 2h0m-1 0h0m-2 0h0m6 2h0m1 1h0m-1 1h0m-1 0h0m-3 0h0m4 1h0m-7 1h0m-13 0h0m20 1h0m-7 4h0m3 0h0m9 3h0m-5 3h0m-1 1h0m9 2h0m-7 0h0m-4 0h0"/><path stroke="#4c8fd2" d="M642 184h0m3 0h0m-2 5h0m5 3h0m-10 3h0m-11 0h0m25 2h0m-12 2h0m6 2h0m-5 0h0m-5 1h0m5 0h0m2 0h0m2 0h0m3 0h0m-1 1h0m-9 0h0m0 1h0m1 0h0m4 0h0m1 0h0m14 0h0m-3 1h0m-10 0h0m-3 0h0m-2 0h0m-15 0h0m23 1h0m8 0h0m2 1h0m-2 0h0m-2 0h0m-2 0h0m-4 0h0m-4 0h0m-2 0h0m-2 0h0m-7 1h0m6 0h0m2 0h0m4 0h0m6 0h0m1 0h0m7 0h0m-12 1h0m-31 1h0m22 0h0m16 0h0m4 0h0m8 0h0m-7 1h0m-1 0h0m-9 0h0m-5 0h0m-3 0h0m-3 0h0m-4 0h0m7 1h0m12 0h0m1 0h0m10 1h0m-10 0h0m-2 0h0m-2 0h0m-8 0h0m-10 0h0m-5 1h0m5 0h0m8 0h0m2 0h0m3 0h0m4 0h0m2 0h0m4 0h0m1 0h0m5 1h0m-2 0h0m-4 0h0m-16 0h0m-10 0h0m-2 0h0m20 1h0m1 0h0m4 0h0m10 1h0m-2 0h0m-21 0h0m-1 0h0m-6 1h0m2 0h0m4 0h0m11 0h0m1 0h0m1 0h0m2 0h0m1 0h0m2 0h0m0 1h0m-3 0h0m-4 0h0m-5 0h0m-3 0h0m-3 0h0m5 1h0m4 0h0m2 0h0m9 0h0m6 1h0m-6 0h0m-1 0h0m-2 0h0m-13 0h0m-13 1h0m3 0h0m1 0h0m16 0h0m6 0h0m6 0h0m1 0h0m4 1h0m-3 0h0m-2 0h0m-2 0h0m-2 0h0m-1 0h0m-4 0h0m-5 0h0m-5 0h0m-11 0h0m-7 0h0m4 1h0m5 0h0m3 0h0m1 0h0m1 0h0m4 0h0m12 0h0m10 0h0m-7 1h0m-4 0h0m-3 0h0m-5 0h0m-1 0h0m-14 0h0m1 1h0m5 0h0m14 0h0m4 0h0m4 0h0m2 0h0m1 0h0m-1 1h0m-3 0h0m-2 0h0m-2 0h0m-3 0h0m-3 0h0m-1 0h0m-4 0h0m-5 1h0m4 0h0m4 0h0m3 0h0m2 0h0m2 0h0m7 0h0m-6 1h0m-5 0h0m-5 0h0m7 1h0m4 0h0m2 0h0m2 1h0m-2 0h0m-3 0h0m-5 0h0m-1 2h0m-7 0h0m-2 0h0m20 1h0"/><path stroke="#6dc36b" d="M610 215h0m-4 7h0m-7 4h0m-2 1h0m1 2h0m-1 2h0m-3 0h0m5 1h0m1 0h0m4 1h0m-6 0h0m-37 1h0m33 2h0m8 0h0m2 0h0m-11 1h0m3 1h0m8 1h0m-1 0h0m-52 1h0m81 1h0m-27 0h0m0 1h0m4 0h0m-9 1h0m5 1h0m-3 1h0m-14 1h0m15 0h0m2 0h0m-5 1h0m11 1h0m-2 1h0m-14 0h0m15 1h0m-7 1h0m-1 0h0m-57 0h0m41 1h0m20 0h0m5 0h0m0 3h0m-1 0h0m-6 0h0m3 1h0m6 1h0m-9 1h0m4 0h0m1 1h0m-1 2h0"/><path stroke="#f9cb2f" d="M473 158h0m-6 6h0m14 0h0m-2 1h0m-2 0h0m-18 0h0m14 2h0m-6 0h0m2 1h0m6 0h0m2 0h0m5 1h0m-2 0h0m-15 1h0m6 0h0m11 0h0m5 0h0m-17 1h0m3 1h0m6 0h0m5 0h0m2 0h0m-9 1h0m-3 0h0m-3 0h0m-3 0h0m-1 0h0m-2 1h0m2 0h0m5 0h0m3 0h0m27 0h0m-4 1h0m-25 0h0m-5 0h0m-2 0h0m-2 0h0m7 1h0m2 0h0m11 0h0m2 0h0m2 0h0m-5 1h0m-2 0h0m-6 0h0m-1 0h0m-1 0h0m-2 0h0m-8 0h0m-3 0h0m14 1h0m11 0h0m16 1h0m-2 0h0m-14 0h0m-1 0h0m-8 1h0m8 0h0m2 0h0m28 0h0m-22 1h0m-1 0h0m-24 0h0m-1 0h0m-9 0h0m7 1h0m6 0h0m6 0h0m43 1h0m-15 0h0m-7 0h0m-17 0h0m-10 1h0m2 0h0m8 0h0m1 0h0m8 0h0m6 0h0m3 0h0m21 1h0m-19 0h0m-27 0h0m-5 0h0m-1 0h0m-2 1h0m4 0h0m2 0h0m25 0h0m16 1h0m-7 0h0m-30 0h0m-11 0h0m2 1h0m4 0h0m18 0h0m25 0h0m7 1h0m-6 0h0m-4 0h0m-39 1h0m6 0h0m10 0h0m10 0h0m10 0h0m2 0h0m5 0h0m1 0h0m0 1h0m-20 0h0m-4 0h0m6 1h0m7 0h0m5 1h0m-11 0h0m-33 0h0m34 1h0m5 1h0m5 1h0m9 1h0m-7 0h0m-5 0h0m-39 1h0m5 0h0m33 0h0m22 1h0m-3 0h0m-1 0h0m-7 0h0m-2 0h0m-10 0h0m-5 0h0m-29 0h0m31 1h0m13 1h0m-2 0h0m-4 0h0m-1 0h0m-1 0h0m-37 0h0m-1 0h0m0 1h0m38 0h0m12 1h0m-9 0h0m-2 0h0m0 1h0m12 0h0m-2 1h0m-6 0h0m-1 0h0m14 1h0m3 1h0m-14 0h0m-1 1h0m1 1h0m-5 3h0m-1 3h0m17 1h0m23 7h0m-16 3h0m14 9h0"/><path stroke="#f2450d" d="M517 141h0m-2 0h0m-1 1h0m-3 1h0m0 1h0m3 1h0m0 2h0m-2 0h0m-2 0h0m2 1h0m-5 1h0m1 3h0m4 1h0m-7 1h0m2 0h0m1 0h0m5 0h0m-2 1h0m-1 0h0m4 1h0m-57 2h0m47 0h0m5 2h0m13 1h0m-6 0h0m-4 0h0m-10 0h0m7 1h0m7 1h0m-10 0h0m-2 0h0m-9 0h0m12 1h0m-2 1h0m-2 2h0m-28 37h0m2 2h0m1 1h0m-7 1h0m6 0h0m4 0h0m5 0h0m22 1h0m-26 0h0m-1 0h0m-1 0h0m8 1h0m1 0h0m2 0h0m-4 1h0m-4 0h0m-9 0h0m-3 0h0m-2 0h0m-2 0h0m1 1h0m13 0h0m12 1h0m-7 0h0m-11 0h0m2 1h0m1 0h0m2 0h0m1 0h0m7 0h0m2 1h0m-1 0h0m-2 0h0m-19 0h0m14 1h0m1 0h0m4 0h0m7 0h0m8 1h0m-12 0h0m-10 0h0m-1 0h0m-5 0h0m0 1h0m17 0h0m3 0h0m4 1h0m-13 0h0m-1 0h0m-14 1h0m1 0h0m6 0h0m12 0h0m3 0h0m7 1h0m-8 0h0m-18 0h0m3 1h0m5 0h0m20 0h0m-7 1h0m-10 0h0m-7 1h0m12 0h0m12 0h0m1 1h0m-3 0h0m-3 0h0m-2 0h0m-7 0h0m-10 0h0m-5 0h0m14 1h0m12 0h0m4 0h0m4 1h0m-1 0h0m-4 0h0m-8 0h0m-5 0h0m-5 0h0m-11 0h0m2 1h0m7 0h0m8 0h0m19 1h0m-8 0h0m-8 0h0m-5 0h0m-11 0h0m-1 1h0m6 0h0m12 0h0m4 0h0m10 0h0m-10 1h0m-20 0h0m-1 1h0m9 0h0m9 0h0m1 0h0m9 0h0m16 0h0m-28 1h0m-8 0h0m-6 0h0m-3 1h0m6 0h0m3 0h0m2 0h0m3 0h0m4 0h0m5 1h0m-19 0h0m-5 0h0m-4 0h0m32 1h0m9 1h0m-14 0h0m-6 0h0m-12 0h0m7 1h0m5 0h0m2 0h0m2 1h0m-10 0h0m5 2h0m-1 1h0m3 0h0m1 1h0m-5 0h0m38 5h0m-41 5h0"/><path stroke="#b0b0b2" d="M583 128h0m26 2h0m-28 2h0m-24 1h0m49 1h0m-9 1h0m-16 0h0m-13 1h0m6 0h0m11 0h0m4 0h0m26 1h0m-18 0h0m-1 0h0m-5 0h0m-7 0h0m-2 0h0m-18 0h0m-12 1h0m1 0h0m6 0h0m2 0h0m2 0h0m12 0h0m4 0h0m12 0h0m6 0h0m19 0h0m6 1h0m-6 0h0m-9 0h0m-11 0h0m-1 0h0m-7 0h0m-8 0h0m-3 0h0m-2 0h0m-10 0h0m-4 0h0m-9 1h0m16 0h0m18 0h0m9 0h0m3 0h0m2 0h0m18 1h0m-4 0h0m-3 0h0m-1 0h0m-9 0h0m-3 0h0m-2 0h0m-1 0h0m-1 0h0m-14 0h0m-10 0h0m-7 0h0m-5 0h0m-7 0h0m5 1h0m6 0h0m8 0h0m3 0h0m1 0h0m8 0h0m4 0h0m6 0h0m3 0h0m1 0h0m15 0h0m6 0h0m0 1h0m-8 0h0m-9 0h0m-2 0h0m-2 0h0m-8 0h0m-35 0h0m-1 0h0m-3 0h0m-2 1h0m6 0h0m4 0h0m1 0h0m5 0h0m2 0h0m1 0h0m5 0h0m2 0h0m18 0h0m3 0h0m2 0h0m8 0h0m1 0h0m2 0h0m1 0h0m5 0h0m5 0h0m3 0h0m1 0h0m1 1h0m-4 0h0m-2 0h0m-8 0h0m-2 0h0m-5 0h0m-18 0h0m-15 0h0m-4 0h0m-6 0h0m-8 0h0m-12 0h0m9 1h0m8 0h0m6 0h0m1 0h0m5 0h0m1 0h0m2 0h0m5 0h0m10 0h0m10 0h0m1 0h0m13 0h0m2 0h0m3 0h0m2 0h0m3 0h0m6 0h0m-6 1h0m-10 0h0m-4 0h0m-1 0h0m-1 0h0m-1 0h0m-3 0h0m-1 0h0m-2 0h0m-2 0h0m-12 0h0m-2 0h0m-15 0h0m-1 0h0m-13 0h0m-2 0h0m-3 0h0m-3 0h0m5 1h0m4 0h0m2 0h0m12 0h0m1 0h0m7 0h0m16 0h0m4 0h0m3 0h0m1 0h0m2 0h0m19 0h0m0 1h0m-8 0h0m-21 0h0m-5 0h0m-1 0h0m-1 0h0m-1 0h0m-6 0h0m-4 0h0m-2 0h0m-2 0h0m-25 0h0m-9 1h0m5 0h0m9 0h0m10 0h0m1 0h0m16 0h0m2 0h0m10 0h0m1 0h0m14 0h0m8 0h0m4 0h0m8 0h0m7 0h0m-13 1h0m-6 0h0m-11 0h0m-1 0h0m-5 0h0m-2 0h0m-4 0h0m-10 0h0m-11 0h0m-10 0h0m-1 0h0m-2 0h0m-1 0h0m0 1h0m4 0h0m4 0h0m9 0h0m1 0h0m1 0h0m3 0h0m2 0h0m5 0h0m1 0h0m5 0h0m5 0h0m2 0h0m5 0h0m1 0h0m2 0h0m1 0h0m1 0h0m1 0h0m17 0h0m-1 1h0m-2 0h0m-6 0h0m-3 0h0m-2 0h0m-7 0h0m-2 0h0m-3 0h0m-10 0h0m-5 0h0m-6 0h0m-7 0h0m-27 0h0m-5 1h0m8 0h0m1 0h0m1 0h0m1 0h0m3 0h0m10 0h0m4 0h0m11 0h0m2 0h0m2 0h0m9 0h0m2 0h0m5 0h0m4 0h0m6 0h0m18 0h0m-13 1h0m-4 0h0m-1 0h0m-2 0h0m-1 0h0m-19 0h0m-18 0h0m-6 0h0m-6 0h0m-6 0h0m-1 0h0m-12 0h0m4 1h0m7 0h0m10 0h0m6 0h0m5 0h0m5 0h0m1 0h0m8 0h0m2 0h0m13 0h0m4 0h0m1 0h0m10 0h0m5 0h0m1 0h0m16 0h0m-26 1h0m-1 0h0m-20 0h0m-5 0h0m-9 0h0m-6 0h0m-9 0h0m-3 0h0m-11 0h0m-1 0h0m-8 0h0m-12 1h0m23 0h0m1 0h0m4 0h0m3 0h0m1 0h0m5 0h0m16 0h0m7 0h0m1 0h0m7 0h0m8 0h0m4 0h0m4 0h0m6 0h0m1 0h0m2 0h0m3 0h0m4 1h0m-3 0h0m-3 0h0m-1 0h0m-2 0h0m-2 0h0m-9 0h0m-4 0h0m-22 0h0m-14 0h0m-1 0h0m-3 0h0m-1 0h0m-9 0h0m-11 0h0m5 1h0m4 0h0m7 0h0m2 0h0m8 0h0m3 0h0m5 0h0m4 0h0m1 0h0m13 0h0m6 0h0m2 0h0m2 0h0m2 0h0m5 0h0m2 0h0m11 0h0m6 1h0m-21 0h0m-5 0h0m-2 0h0m-7 0h0m-4 0h0m-9 0h0m-13 0h0m-11 0h0m-6 0h0m-4 0h0m-4 0h0m-2 1h0m5 0h0m3 0h0m1 0h0m11 0h0m15 0h0m1 0h0m4 0h0m2 0h0m11 0h0m7 0h0m2 0h0m6 0h0m5 0h0m4 0h0m1 0h0m4 0h0m7 0h0m-9 1h0m-2 0h0m-1 0h0m-12 0h0m-5 0h0m-6 0h0m-2 0h0m-12 0h0m-5 0h0m-2 0h0m-3 0h0m-1 0h0m-2 0h0m-2 0h0m-3 0h0m-9 0h0m-4 0h0m-6 0h0m5 1h0m13 0h0m1 0h0m6 0h0m3 0h0m4 0h0m6 0h0m8 0h0m3 0h0m7 0h0m3 0h0m4 0h0m3 0h0m1 0h0m13 0h0m7 0h0m1 0h0m-3 1h0m-5 0h0m-27 0h0m-2 0h0m-6 0h0m-1 0h0m-5 0h0m-6 0h0m-2 0h0m-3 0h0m-4 0h0m-9 0h0m-10 0h0m-8 0h0m10 1h0m12 0h0m17 0h0m4 0h0m6 0h0m4 0h0m1 0h0m3 0h0m13 0h0m7 0h0m13 1h0m-4 0h0m-16 0h0m-6 0h0m-4 0h0m-15 0h0m-1 0h0m-5 0h0m-5 0h0m-4 0h0m-5 0h0m-8 0h0m-9 0h0m-2 0h0m-2 0h0m-10 0h0m9 1h0m17 0h0m18 0h0m1 0h0m1 0h0m8 0h0m7 0h0m9 0h0m5 0h0m4 0h0m1 0h0m3 0h0m2 1h0m-4 0h0m-15 0h0m-2 0h0m-6 0h0m-3 0h0m-6 0h0m-15 0h0m-5 0h0m-1 0h0m-4 0h0m-7 0h0m-6 0h0m-4 0h0m-5 0h0m-3 0h0m8 1h0m1 0h0m8 0h0m2 0h0m3 0h0m3 0h0m10 0h0m5 0h0m7 0h0m4 0h0m12 0h0m5 0h0m2 0h0m4 0h0m3 1h0m-3 0h0m-1 0h0m-1 0h0m-1 0h0m-8 0h0m-2 0h0m-3 0h0m-4 0h0m-3 0h0m-9 0h0m-3 0h0m-1 0h0m-20 0h0m-3 0h0m-4 0h0m-2 0h0m-7 1h0m3 0h0m17 0h0m8 0h0m7 0h0m5 0h0m7 0h0m4 0h0m6 0h0m7 0h0m6 0h0m10 0h0m7 0h0m3 0h0m1 1h0m-4 0h0m-6 0h0m-3 0h0m-4 0h0m-6 0h0m-1 0h0m-8 0h0m-18 0h0m-12 0h0m-17 0h0m-8 0h0m-1 1h0m18 0h0m2 0h0m15 0h0m11 0h0m2 0h0m1 0h0m1 0h0m2 0h0m2 0h0m10 0h0m2 0h0m1 0h0m2 0h0m8 0h0m2 0h0m5 1h0m-3 0h0m-1 0h0m-7 0h0m-11 0h0m-2 0h0m-3 0h0m-2 0h0m-13 0h0m-2 0h0m-2 0h0m-36 0h0m-5 0h0m-2 0h0m6 1h0m12 0h0m14 0h0m4 0h0m2 0h0m6 0h0m4 0h0m4 0h0m1 0h0m11 0h0m4 0h0m1 0h0m2 0h0m2 0h0m17 0h0m0 1h0m-2 0h0m-6 0h0m-5 0h0m-1 0h0m-21 0h0m-1 0h0m-1 0h0m-1 0h0m-1 0h0m-10 0h0m-3 0h0m-3 0h0m-2 0h0m-2 0h0m-2 0h0m-4 0h0m-8 0h0m-1 0h0m-5 0h0m-1 0h0m-2 0h0m-5 1h0m7 0h0m6 0h0m14 0h0m6 0h0m3 0h0m12 0h0m1 0h0m5 0h0m2 0h0m5 0h0m16 0h0m5 0h0m7 1h0m-2 0h0m-2 0h0m-10 0h0m-12 0h0m-13 0h0m-2 0h0m-7 0h0m-4 0h0m-6 0h0m-25 0h0m-3 0h0m-1 0h0m-6 0h0m-2 0h0m6 1h0m13 0h0m1 0h0m9 0h0m1 0h0m1 0h0m3 0h0m4 0h0m9 0h0m11 0h0m10 0h0m14 0h0m14 0h0m7 1h0m-13 0h0m-6 0h0m-2 0h0m-2 0h0m-3 0h0m-18 0h0m-22 0h0m-7 0h0m-7 0h0m-4 0h0m-5 0h0m-4 1h0m6 0h0m4 0h0m4 0h0m2 0h0m3 0h0m14 0h0m2 0h0m11 0h0m24 0h0m3 0h0m4 0h0m3 1h0m-6 0h0m-4 0h0m-11 0h0m-14 0h0m-20 0h0m-21 0h0m-2 0h0m-5 0h0m-1 0h0m1 1h0m1 0h0m7 0h0m4 0h0m4 0h0m4 0h0m2 0h0m9 0h0m5 0h0m1 0h0m2 0h0m1 0h0m1 0h0m5 0h0m21 0h0m1 0h0m5 0h0m3 0h0m5 0h0m1 0h0m1 0h0m-1 1h0m-3 0h0m-4 0h0m-5 0h0m-6 0h0m-4 0h0m-6 0h0m-12 0h0m-12 0h0m-5 0h0m-5 0h0m-1 0h0m-7 0h0m-6 0h0m-2 0h0m-5 1h0m1 0h0m17 0h0m7 0h0m2 0h0m1 0h0m12 0h0m7 0h0m8 0h0m10 0h0m8 0h0m6 0h0m4 0h0m1 0h0m4 0h0m1 0h0m-13 1h0m-1 0h0m-12 0h0m-3 0h0m-3 0h0m-13 0h0m-19 0h0m-11 0h0m-14 0h0m-4 1h0m5 0h0m8 0h0m1 0h0m12 0h0m2 0h0m3 0h0m8 0h0m1 0h0m3 0h0m10 0h0m2 0h0m1 0h0m1 0h0m1 0h0m8 0h0m5 0h0m1 0h0m2 0h0m3 0h0m1 0h0m2 0h0m4 0h0m6 0h0m2 0h0m-9 1h0m-5 0h0m-9 0h0m-5 0h0m-5 0h0m-3 0h0m-2 0h0m-2 0h0m-17 0h0m-2 0h0m-2 0h0m-22 0h0m-3 0h0m-2 1h0m15 0h0m3 0h0m8 0h0m1 0h0m5 0h0m5 0h0m3 0h0m6 0h0m8 0h0m10 0h0m1 0h0m1 0h0m4 0h0m8 0h0m3 0h0m1 0h0m1 1h0m-7 0h0m-3 0h0m-5 0h0m-6 0h0m-7 0h0m-14 0h0m-1 0h0m-5 0h0m-4 0h0m-4 0h0m-2 0h0m-4 0h0m-6 0h0m-3 0h0m-1 0h0m-5 0h0m-6 1h0m28 0h0m9 0h0m1 0h0m6 0h0m9 0h0m1 0h0m2 0h0m1 0h0m7 0h0m2 0h0m8 0h0m1 0h0m1 0h0m-1 1h0m-12 0h0m-3 0h0m-1 0h0m-5 0h0m-7 0h0m-4 0h0m-14 0h0m-3 0h0m-2 0h0m-4 0h0m-1 0h0m-5 0h0m-7 0h0m-3 0h0m-9 0h0m2 1h0m13 0h0m6 0h0m2 0h0m2 0h0m6 0h0m5 0h0m4 0h0m20 0h0m8 0h0m6 0h0m2 0h0m8 0h0m3 1h0m-2 0h0m-16 0h0m-1 0h0m-16 0h0m-4 0h0m-5 0h0m-2 0h0m-2 0h0m-17 0h0m-13 0h0m-7 1h0m3 0h0m5 0h0m1 0h0m9 0h0m7 0h0m10 0h0m10 0h0m3 0h0m6 0h0m1 0h0m6 0h0m10 0h0m2 0h0m10 0h0m-6 1h0m-2 0h0m-3 0h0m-1 0h0m-1 0h0m-3 0h0m-2 0h0m-9 0h0m-9 0h0m-3 0h0m-4 0h0m-1 0h0m-3 0h0m-21 0h0m-4 0h0m-5 0h0m-2 0h0m12 1h0m1 0h0m2 0h0m8 0h0m9 0h0m1 0h0m4 0h0m5 0h0m12 0h0m6 0h0m1 0h0m8 1h0m-1 0h0m-1 0h0m-1 0h0m-6 0h0m-1 0h0m-3 0h0m-20 0h0m-1 0h0m-2 0h0m-16 0h0m-2 0h0m-16 1h0m4 0h0m1 0h0m4 0h0m4 0h0m5 0h0m11 0h0m8 0h0m5 0h0m13 0h0m3 0h0m3 0h0m15 1h0m-4 0h0m-5 0h0m-6 0h0m-9 0h0m-7 0h0m-3 0h0m-7 0h0m-14 0h0m-7 0h0m-1 0h0m-5 0h0m-1 0h0m-4 0h0m-3 0h0m-1 0h0m10 1h0m4 0h0m2 0h0m2 0h0m1 0h0m8 0h0m2 0h0m13 0h0m2 0h0m13 0h0m3 0h0m9 0h0m1 0h0m6 0h0m9 0h0m-15 1h0m-7 0h0m-1 0h0m-1 0h0m-15 0h0m-7 0h0m-2 0h0m-2 0h0m-12 0h0m-1 0h0m-6 0h0m-4 0h0m-13 0h0m9 1h0m1 0h0m2 0h0m12 0h0m1 0h0m12 0h0m1 0h0m2 0h0m1 0h0m2 0h0m8 0h0m1 0h0m2 0h0m8 0h0m8 0h0m2 0h0m2 0h0m0 1h0m-9 0h0m-3 0h0m-23 0h0m-1 0h0m-3 0h0m-9 0h0m-8 0h0m-4 0h0m-4 0h0m-7 0h0m2 1h0m6 0h0m10 0h0m1 0h0m3 0h0m2 0h0m2 0h0m19 0h0m24 1h0m-1 0h0m-2 0h0m-12 0h0m-1 0h0m-2 0h0m-4 0h0m-3 0h0m-11 0h0m-4 0h0m-5 0h0m-5 0h0m-5 0h0m-8 0h0m-1 0h0m-1 1h0m3 0h0m2 0h0m6 0h0m8 0h0m17 0h0m5 0h0m4 0h0m3 0h0m14 0h0m-4 1h0m-1 0h0m-3 0h0m-9 0h0m-2 0h0m-1 0h0m-2 0h0m-11 0h0m-1 0h0m-6 0h0m-1 0h0m-2 0h0m-3 0h0m-11 0h0m-5 1h0m8 0h0m5 0h0m2 0h0m5 0h0m4 0h0m2 0h0m2 0h0m17 0h0m5 0h0m4 0h0m4 0h0m-28 1h0m-4 0h0m-1 0h0m-1 0h0m-2 0h0m-6 0h0m-11 0h0m-3 1h0m14 0h0m16 0h0m14 0h0m3 0h0m9 0h0m1 1h0m-22 0h0m-6 0h0m-4 0h0m-4 0h0m-1 0h0m-7 0h0m-7 1h0m4 0h0m3 0h0m21 0h0m4 0h0m6 0h0m2 0h0m10 1h0m-10 0h0m-4 0h0m-10 0h0m-8 0h0m-2 0h0m-10 0h0m-2 1h0m2 0h0m6 0h0m1 0h0m11 0h0m2 0h0m9 0h0m2 0h0m-2 1h0m-14 0h0m-1 0h0m-7 0h0m-2 0h0m-3 0h0m-7 0h0m-5 0h0m7 1h0m9 0h0m12 0h0m5 0h0m-4 1h0m-4 0h0m-14 0h0m-5 0h0m-2 0h0m-13 1h0m11 0h0m18 1h0m-15 0h0m28 3h0"/><path stroke="#ddb787" d="M609 88h0m-12 2h0m17 1h0m1 1h0m-4 1h0m-8 1h0m11 0h0m3 0h0m-1 1h0m-8 0h0m-2 0h0m-7 0h0m0 1h0m7 0h0m10 0h0m2 1h0m-2 0h0m-5 0h0m-3 0h0m-10 1h0m8 0h0m9 1h0m-4 0h0m-7 0h0m-6 0h0m-2 0h0m4 1h0m5 0h0m12 0h0m-10 1h0m-6 0h0m-2 0h0m-5 0h0m-5 1h0m6 0h0m2 0h0m26 0h0m-5 1h0m-6 0h0m-1 0h0m-7 0h0m-17 0h0m0 1h0m2 0h0m6 0h0m6 0h0m11 0h0m2 0h0m7 0h0m2 1h0m-3 0h0m-2 0h0m-11 0h0m-9 0h0m-3 0h0m-4 0h0m-5 1h0m2 0h0m3 0h0m5 0h0m2 0h0m6 0h0m9 0h0m1 0h0m9 0h0m2 0h0m-1 1h0m-18 0h0m-6 0h0m-2 0h0m-5 0h0m-1 0h0m-26 0h0m18 1h0m5 0h0m27 0h0m1 0h0m11 0h0m-5 1h0m-2 0h0m-6 0h0m-12 0h0m-14 0h0m-1 0h0m-9 1h0m5 0h0m1 0h0m1 0h0m4 0h0m31 1h0m-3 0h0m-1 0h0m-1 0h0m-1 0h0m-20 0h0m-1 0h0m-1 0h0m-9 1h0m17 0h0m12 0h0m11 0h0m1 0h0m-1 1h0m-2 0h0m-6 0h0m-5 0h0m-3 0h0m-13 0h0m-6 0h0m-1 0h0m-8 0h0m-1 1h0m4 0h0m4 0h0m14 0h0m5 0h0m6 0h0m10 0h0m-2 1h0m-3 0h0m-4 0h0m-3 0h0m-1 0h0m-1 0h0m-1 0h0m-10 0h0m-19 0h0m-3 1h0m8 0h0m2 0h0m21 0h0m3 0h0m10 0h0m7 1h0m-7 0h0m-4 0h0m-1 0h0m-6 0h0m-5 0h0m-4 0h0m-3 0h0m-1 0h0m-10 0h0m-1 0h0m-8 0h0m-5 0h0m-1 1h0m7 0h0m3 0h0m7 0h0m1 0h0m1 0h0m2 0h0m3 0h0m22 0h0m2 0h0m4 0h0m2 0h0m-12 1h0m-1 0h0m-9 0h0m-6 0h0m-5 0h0m-1 0h0m-12 0h0m-5 1h0m10 0h0m3 0h0m3 0h0m1 0h0m2 0h0m1 0h0m8 0h0m5 0h0m3 0h0m6 0h0m1 0h0m10 1h0m-6 0h0m-4 0h0m-5 0h0m-6 0h0m-4 0h0m-6 0h0m-10 0h0m-3 0h0m-5 0h0m-2 0h0m-3 0h0m-8 0h0m2 1h0m6 0h0m3 0h0m22 0h0m1 0h0m14 0h0m2 0h0m2 0h0m1 0h0m3 0h0m10 0h0m-6 1h0m-1 0h0m-3 0h0m-6 0h0m-1 0h0m-10 0h0m-4 0h0m-5 0h0m-1 0h0m-7 0h0m-3 0h0m-4 0h0m-4 0h0m-11 1h0m8 0h0m4 0h0m6 0h0m1 0h0m8 0h0m4 0h0m1 0h0m7 0h0m2 0h0m8 0h0m8 0h0m5 0h0m-2 1h0m-10 0h0m-4 0h0m-5 0h0m-11 0h0m-7 0h0m-4 0h0m-1 0h0m-3 0h0m-2 0h0m-3 0h0m-5 1h0m12 0h0m2 0h0m5 0h0m12 0h0m10 0h0m12 0h0m-7 1h0m-6 0h0m-1 0h0m-8 0h0m-5 0h0m-16 0h0m-5 0h0m-3 0h0m-2 0h0m-1 0h0m-6 1h0m7 0h0m14 0h0m30 0h0m7 0h0m-15 1h0m-5 0h0m-3 0h0m-13 0h0m-1 0h0m-6 0h0m-6 0h0m-1 0h0m-5 0h0m-12 1h0m4 0h0m6 0h0m2 0h0m10 0h0m2 0h0m11 0h0m7 0h0m2 0h0m2 0h0m5 0h0m5 0h0m6 0h0m2 0h0m1 0h0m1 0h0m1 1h0m-5 0h0m-5 0h0m-10 0h0m-4 0h0m-3 0h0m-2 0h0m-4 0h0m-11 0h0m-1 0h0m-18 0h0m-2 0h0m-2 0h0m-1 0h0m-4 1h0m16 0h0m4 0h0m5 0h0m21 0h0m2 0h0m1 0h0m4 0h0m6 0h0m1 0h0m2 0h0m13 0h0m0 1h0m-8 0h0m-22 0h0m-11 0h0m-7 0h0m-6 0h0m-2 0h0m-1 0h0m-4 0h0m-1 0h0m-5 0h0m-6 0h0m5 1h0m1 0h0m1 0h0m1 0h0m17 0h0m14 0h0m7 0h0m13 0h0m5 0h0m6 1h0m-2 0h0m-11 0h0m-4 0h0m-4 0h0m-1 0h0m-1 0h0m-6 0h0m-4 0h0m-12 0h0m-4 0h0m-12 0h0m-13 0h0m12 1h0m3 0h0m10 0h0m21 0h0m4 0h0m3 0h0m6 1h0m-2 0h0m-16 0h0m-2 0h0m-1 0h0m-4 0h0m-2 0h0m-2 0h0m-6 0h0m-11 0h0m-5 1h0m6 0h0m4 0h0m8 0h0m3 0h0m22 0h0m5 1h0m-37 0h0m-17 0h0m14 1h0m4 0h0m2 0h0m5 0h0m25 0h0m8 0h0m-9 1h0m-41 0h0m26 1h0m13 0h0m3 4h0m-47 4h0"/><path stroke="#9cd150" d="M567 25h0m-32 4h0m22 1h0m-5 1h0m-2 0h0m2 1h0m9 0h0m7 0h0m-1 1h0m-5 0h0m-3 0h0m-3 0h0m-1 0h0m-5 0h0m-1 0h0m-2 0h0m-5 1h0m15 0h0m18 1h0m-13 0h0m-3 0h0m-13 0h0m14 1h0m5 0h0m4 0h0m6 0h0m5 1h0m-14 0h0m-2 0h0m-2 0h0m-17 0h0m-5 0h0m-1 1h0m8 0h0m4 0h0m1 0h0m7 0h0m9 0h0m15 0h0m-25 1h0m-4 0h0m-16 1h0m10 0h0m1 0h0m3 0h0m10 0h0m4 0h0m1 0h0m4 0h0m3 0h0m12 1h0m-6 0h0m-4 0h0m-7 0h0m-10 0h0m-2 0h0m-9 0h0m-2 0h0m-5 0h0m3 1h0m22 0h0m8 0h0m-1 1h0m-2 0h0m-2 0h0m-1 0h0m-2 0h0m-4 0h0m-1 0h0m-8 0h0m-1 0h0m-9 0h0m-3 0h0m1 1h0m3 0h0m4 0h0m8 0h0m3 0h0m3 0h0m3 0h0m6 0h0m8 0h0m6 0h0m-3 1h0m-1 0h0m-4 0h0m-6 0h0m-5 0h0m-3 0h0m-19 0h0m-2 0h0m-2 0h0m19 1h0m6 0h0m3 0h0m1 0h0m6 0h0m3 0h0m5 0h0m-22 1h0m-3 0h0m-5 0h0m-4 0h0m-1 0h0m-8 0h0m-1 1h0m1 0h0m4 0h0m3 0h0m1 0h0m9 0h0m2 0h0m7 0h0m2 0h0m6 0h0m2 0h0m13 0h0m-4 1h0m-3 0h0m-5 0h0m-2 0h0m-4 0h0m-2 0h0m-10 0h0m-2 0h0m-7 0h0m-2 0h0m-7 1h0m10 0h0m5 0h0m17 0h0m3 0h0m2 0h0m1 0h0m2 0h0m4 0h0m1 0h0m0 1h0m-1 0h0m-1 0h0m-1 0h0m-26 0h0m-6 0h0m-4 0h0m-6 0h0m-2 0h0m19 1h0m18 0h0m6 0h0m5 0h0m3 0h0m4 0h0m3 1h0m-9 0h0m-6 0h0m-3 0h0m-10 0h0m-4 0h0m-2 0h0m-2 0h0m-11 0h0m-2 0h0m-11 1h0m1 0h0m3 0h0m3 0h0m15 0h0m6 0h0m3 0h0m2 0h0m10 0h0m5 0h0m3 0h0m11 0h0m-9 1h0m-3 0h0m-24 0h0m-7 0h0m-10 0h0m-3 0h0m2 1h0m5 0h0m4 0h0m13 0h0m15 0h0m8 0h0m2 1h0m-5 0h0m-2 0h0m-4 0h0m-1 0h0m-1 0h0m-21 0h0m-4 0h0m-1 0h0m-3 0h0m-4 0h0m-3 1h0m22 0h0m11 0h0m1 0h0m6 0h0m2 0h0m4 0h0m2 0h0m4 0h0m1 0h0m-5 1h0m-2 0h0m-3 0h0m-20 0h0m-4 0h0m-5 0h0m-7 0h0m-1 0h0m-5 0h0m-4 0h0m7 1h0m5 0h0m2 0h0m12 0h0m13 0h0m17 0h0m1 1h0m-7 0h0m-7 0h0m-1 0h0m-5 0h0m-8 0h0m-4 0h0m-3 0h0m-1 0h0m-15 0h0m-2 0h0m-1 0h0m-7 1h0m13 0h0m12 0h0m12 0h0m4 0h0m7 0h0m2 0h0m6 0h0m9 1h0m-10 0h0m-2 0h0m-8 0h0m-2 0h0m-2 0h0m-3 0h0m-3 0h0m-8 0h0m-15 0h0m-6 0h0m-4 1h0m19 0h0m1 0h0m10 0h0m4 0h0m9 0h0m6 0h0m4 0h0m6 0h0m-2 1h0m-4 0h0m-7 0h0m-11 0h0m-8 0h0m-9 0h0m-17 0h0m-3 0h0m9 1h0m1 0h0m23 0h0m2 0h0m1 0h0m3 0h0m4 0h0m1 0h0m3 0h0m2 0h0m4 0h0m8 0h0m1 0h0m4 0h0m1 0h0m-1 1h0m-6 0h0m-3 0h0m-9 0h0m-19 0h0m-6 0h0m-3 0h0m-1 0h0m-5 0h0m-1 0h0m-2 0h0m-1 0h0m-8 0h0m-1 1h0m5 0h0m3 0h0m11 0h0m13 0h0m2 0h0m3 0h0m5 0h0m3 0h0m9 0h0m3 0h0m-5 1h0m-1 0h0m-5 0h0m-2 0h0m-22 0h0m-14 0h0m3 1h0m12 0h0m5 0h0m15 0h0m5 0h0m4 0h0m9 0h0m5 1h0m-4 0h0m-2 0h0m-1 0h0m-4 0h0m-2 0h0m-5 0h0m-2 0h0m-10 0h0m-5 0h0m-24 0h0m-3 0h0m-3 0h0m7 1h0m2 0h0m1 0h0m4 0h0m2 0h0m22 0h0m6 0h0m6 0h0m8 0h0m5 0h0m2 0h0m6 0h0m1 1h0m-4 0h0m-20 0h0m-16 0h0m-2 0h0m-1 0h0m-15 0h0m-4 0h0m-5 0h0m10 1h0m3 0h0m1 0h0m2 0h0m8 0h0m1 0h0m6 0h0m3 0h0m2 0h0m22 1h0m-10 0h0m-6 0h0m-3 0h0m-6 0h0m-1 0h0m-2 0h0m-1 0h0m-2 0h0m-2 0h0m-9 0h0m-12 0h0m-2 0h0m-4 0h0m-4 0h0m14 1h0m1 0h0m1 0h0m7 0h0m2 0h0m5 0h0m6 0h0m11 0h0m23 1h0m-6 0h0m-9 0h0m-1 0h0m-2 0h0m-4 0h0m-1 0h0m-12 0h0m-1 0h0m-1 0h0m-8 0h0m-6 0h0m-8 0h0m-4 0h0m-1 0h0m-3 0h0m-3 1h0m3 0h0m1 0h0m13 0h0m2 0h0m3 0h0m11 0h0m3 0h0m1 0h0m3 0h0m25 0h0m0 1h0m-6 0h0m-11 0h0m-1 0h0m-3 0h0m-22 0h0m-5 0h0m-3 0h0m-10 1h0m1 0h0m1 0h0m1 0h0m8 0h0m5 0h0m5 0h0m8 0h0m12 0h0m1 0h0m1 0h0m1 0h0m17 0h0m-3 1h0m-14 0h0m-1 0h0m-4 0h0m-1 0h0m-1 0h0m-1 0h0m-13 0h0m-22 0h0m-6 0h0m-1 1h0m15 0h0m9 0h0m6 0h0m4 0h0m4 0h0m4 0h0m27 0h0m4 0h0m-5 1h0m-20 0h0m-3 0h0m-6 0h0m-1 0h0m-5 0h0m-2 0h0m-5 0h0m-5 0h0m-1 0h0m-13 0h0m-1 0h0m-4 0h0m0 1h0m3 0h0m1 0h0m8 0h0m8 0h0m5 0h0m3 0h0m3 0h0m11 0h0m8 0h0m1 0h0m9 0h0m5 0h0m1 0h0m-10 1h0m-13 0h0m-2 0h0m-1 0h0m-5 0h0m-4 0h0m-7 0h0m-15 0h0m-7 0h0m6 1h0m5 0h0m7 0h0m9 0h0m3 0h0m1 0h0m6 0h0m1 0h0m3 0h0m2 0h0m11 0h0m4 0h0m6 1h0m-17 0h0m-1 0h0m-8 0h0m-3 0h0m-4 0h0m-5 0h0m-21 0h0m-5 1h0m2 0h0m9 0h0m7 0h0m4 0h0m10 0h0m10 0h0m3 0h0m7 0h0m3 1h0m-13 0h0m-14 0h0m-4 0h0m-7 0h0m-6 0h0m-2 0h0m-1 0h0m-1 0h0m-21 1h0m10 0h0m1 0h0m14 0h0m2 0h0m9 0h0m11 0h0m1 0h0m13 0h0m8 0h0m4 0h0m0 1h0m-11 0h0m-4 0h0m-7 0h0m-8 0h0m-15 0h0m-6 0h0m-2 0h0m-1 0h0m-1 0h0m-5 1h0m8 0h0m14 0h0m5 0h0m10 0h0m3 0h0m7 0h0m4 0h0m12 0h0m-7 1h0m-8 0h0m-4 0h0m-5 0h0m-1 0h0m-1 0h0m-3 0h0m-17 0h0m-2 0h0m-2 0h0m-3 0h0m-4 0h0m-5 1h0m6 0h0m3 0h0m2 0h0m1 0h0m3 0h0m1 0h0m2 0h0m8 0h0m1 0h0m1 0h0m3 0h0m1 0h0m1 0h0m5 0h0m2 0h0m13 0h0m5 1h0m-14 0h0m-1 0h0m-4 0h0m-3 0h0m-9 0h0m-2 0h0m-2 0h0m-4 0h0m-1 0h0m-4 0h0m-6 0h0m-5 0h0m-1 0h0m-7 1h0m17 0h0m3 0h0m3 0h0m7 0h0m7 0h0m3 0h0m2 0h0m15 1h0m-16 0h0m-1 0h0m-5 0h0m-2 0h0m-3 0h0m-20 0h0m-1 0h0m-8 0h0m-4 0h0m7 1h0m16 0h0m4 0h0m7 0h0m4 0h0m6 0h0m7 0h0m1 0h0m1 1h0m-4 0h0m-9 0h0m-6 0h0m-6 0h0m-5 0h0m-2 0h0m-5 0h0m-2 0h0m-5 1h0m3 0h0m5 0h0m1 0h0m4 0h0m7 0h0m1 0h0m17 0h0m4 0h0m4 0h0m-1 1h0m-3 0h0m-14 0h0m-5 0h0m-8 0h0m-4 0h0m-3 0h0m-1 0h0m-4 0h0m-3 0h0m27 1h0m2 0h0m7 0h0m17 1h0m-10 0h0m-16 0h0m-18 0h0m-6 0h0m-5 0h0m-1 0h0m-4 0h0m-4 1h0m4 0h0m14 0h0m15 0h0m1 0h0m3 0h0m20 0h0m-23 1h0m-2 0h0m-12 0h0m-4 0h0m-3 0h0m-5 0h0m-9 1h0m16 0h0m1 0h0m4 0h0m16 0h0m8 0h0m1 0h0m2 0h0m3 0h0m-4 1h0m-7 0h0m-2 0h0m-1 0h0m-13 0h0m-10 0h0m-4 0h0m-1 0h0m-11 1h0m6 0h0m4 0h0m5 0h0m1 0h0m2 0h0m7 0h0m2 0h0m1 0h0m8 0h0m2 0h0m3 0h0m4 0h0m2 0h0m0 1h0m-3 0h0m-9 0h0m-8 0h0m-11 0h0m-8 0h0m-1 0h0m-5 0h0m-11 0h0m7 1h0m1 0h0m2 0h0m7 0h0m23 0h0m2 0h0m1 0h0m1 0h0m5 0h0m6 0h0m3 1h0m-20 0h0m-6 0h0m-6 0h0m-4 0h0m-1 0h0m-8 0h0m-5 0h0m2 1h0m5 0h0m4 0h0m4 0h0m5 0h0m4 0h0m1 0h0m2 0h0m6 0h0m12 1h0m-1 0h0m-1 0h0m-8 0h0m-8 0h0m-11 0h0m-2 0h0m-7 0h0m-5 0h0m-2 0h0m-6 1h0m7 0h0m28 0h0m8 0h0m4 0h0m-1 1h0m-1 0h0m-4 0h0m-1 0h0m-2 0h0m-8 0h0m-6 0h0m-10 0h0m-5 0h0m-6 0h0m0 1h0m22 0h0m4 0h0m2 0h0m5 0h0m1 0h0m2 0h0m6 1h0m-20 0h0m-3 0h0m-2 0h0m-3 0h0m-2 0h0m-4 0h0m-1 0h0m-4 0h0m1 1h0m2 0h0m6 0h0m3 0h0m9 0h0m3 0h0m5 0h0m5 0h0m2 0h0m1 1h0m-4 0h0m-6 0h0m-4 0h0m-3 0h0m-5 0h0m-12 0h0m-10 0h0m4 1h0m6 0h0m1 0h0m2 0h0m4 0h0m3 0h0m1 0h0m8 0h0m1 0h0m3 0h0m2 0h0m10 0h0m3 0h0m-31 1h0m-8 0h0m-7 0h0m-5 1h0m4 0h0m5 0h0m10 0h0m26 0h0m-11 1h0m-1 0h0m-1 0h0m-3 0h0m-7 0h0m-22 0h0m9 1h0m7 0h0m5 0h0m17 0h0m3 0h0m2 0h0m-6 1h0m-4 0h0m-2 0h0m-3 0h0m-4 0h0m-1 0h0m-3 0h0m-2 0h0m-5 0h0m-2 0h0m-2 0h0m-3 0h0m-3 0h0m3 1h0m1 0h0m3 0h0m3 0h0m4 0h0m4 0h0m1 0h0m6 0h0m7 0h0m1 0h0m2 0h0m-3 1h0m-8 0h0m-8 0h0m-4 0h0m-10 0h0m-1 0h0m-1 0h0m-1 0h0m-1 0h0m-1 0h0m4 1h0m10 0h0m13 0h0m11 1h0m-15 0h0m-10 0h0m-1 0h0m-4 0h0m-1 0h0m-4 0h0m4 1h0m12 0h0m3 0h0m1 0h0m5 0h0m5 1h0m-8 0h0m-7 0h0m-1 0h0m-3 0h0m-4 0h0m-4 0h0m-2 0h0m-2 0h0m5 1h0m3 0h0m5 0h0m9 0h0m2 0h0m6 1h0m-2 0h0m-1 0h0m-5 0h0m-4 0h0m-4 0h0m-1 0h0m-1 0h0m-2 0h0m-13 0h0m5 1h0m2 0h0m13 0h0m5 0h0m3 0h0m3 1h0m-4 0h0m-8 0h0m-1 0h0m-11 0h0m0 1h0m2 0h0m7 0h0m4 0h0m8 0h0m6 0h0m-8 1h0m-6 0h0m-1 0h0m-3 0h0m-3 0h0m-5 0h0m-1 0h0m-1 0h0m-1 0h0m-3 0h0m1 1h0m2 0h0m3 0h0m4 0h0m1 0h0m9 0h0m3 0h0m2 0h0m3 1h0m-2 0h0m-6 0h0m-1 0h0m-4 0h0m-11 0h0m-4 1h0m4 0h0m4 0h0m1 0h0m1 0h0m5 0h0m3 0h0m1 0h0m8 0h0m5 0h0m-14 1h0m-2 0h0m-1 0h0m-2 0h0m-7 0h0m-2 1h0m11 0h0m2 0h0m3 0h0m1 0h0m6 0h0m-10 1h0m-8 0h0m-5 1h0m18 1h0m-12 0h0m-5 0h0m-5 0h0m7 1h0m11 0h0m3 0h0m-8 1h0m-1 0h0m-1 0h0m-1 0h0m-11 1h0m4 0h0m2 0h0m1 0h0m12 1h0m-14 0h0m22 2h0m-4 0h0m-6 0h0m-11 0h0m-4 1h0m17 0h0m-13 1h0m0 1h0m3 0h0m-71 1h0m78 1h0m1 0h0m-5 1h0m-13 0h0m-38 1h0m56 0h0m-10 1h0m-2 0h0m10 1h0m-8 1h0m-6 0h0m-25 0h0m30 2h0m-1 0h0m3 1h0m-4 2h0m11 0h0m-6 1h0m-4 0h0m-25 1h0m6 0h0m20 0h0m7 0h0m-12 1h0m1 1h0m3 0h0m4 0h0m1 0h0m-5 2h0m13 1h0m-18 1h0m13 0h0m-6 1h0m-4 0h0m5 2h0m-8 0h0m12 2h0m-8 0h0m-5 4h0m13 1h0m-9 3h0m-1 2h0m-2 1h0m0 1h0m14 1h0m-1 1h0m-6 0h0m8 2h0m-8 15h0"/><path stroke="#db8edc" d="M483 88h0m-26 1h0m26 2h0m0 1h0m5 0h0m3 1h0m-6 0h0m-1 0h0m-8 0h0m-13 0h0m-5 0h0m5 1h0m30 0h0m18 0h0m-8 1h0m-3 0h0m-11 0h0m-2 0h0m-9 0h0m-9 0h0m-1 0h0m-15 1h0m18 0h0m2 0h0m4 0h0m1 0h0m6 0h0m5 0h0m8 0h0m7 0h0m2 1h0m-17 0h0m-1 0h0m-3 0h0m-7 0h0m-3 0h0m-4 0h0m-6 0h0m-4 0h0m-1 0h0m-17 0h0m9 1h0m11 0h0m1 0h0m5 0h0m3 0h0m7 0h0m6 0h0m1 0h0m3 0h0m6 0h0m7 1h0m-2 0h0m-4 0h0m-2 0h0m-1 0h0m-2 0h0m-5 0h0m-10 0h0m-8 0h0m-2 0h0m-9 0h0m-5 0h0m-2 0h0m-3 0h0m1 1h0m1 0h0m8 0h0m4 0h0m1 0h0m3 0h0m9 0h0m15 0h0m15 0h0m3 0h0m-21 1h0m-3 0h0m-4 0h0m-9 0h0m-3 0h0m-10 0h0m-1 0h0m-8 0h0m-7 0h0m-1 0h0m-1 0h0m9 1h0m6 0h0m6 0h0m2 0h0m6 0h0m5 0h0m4 0h0m9 0h0m7 0h0m12 0h0m2 1h0m-11 0h0m-2 0h0m-10 0h0m-5 0h0m-2 0h0m-3 0h0m-4 0h0m-5 0h0m-5 0h0m-6 0h0m-15 1h0m1 0h0m12 0h0m5 0h0m2 0h0m19 0h0m1 0h0m10 0h0m17 0h0m-1 1h0m-2 0h0m-3 0h0m-4 0h0m-2 0h0m-6 0h0m-7 0h0m-1 0h0m-4 0h0m-12 0h0m-8 0h0m-8 0h0m-5 0h0m-3 0h0m6 1h0m13 0h0m8 0h0m32 0h0m3 0h0m3 0h0m4 0h0m-9 1h0m-5 0h0m-12 0h0m-1 0h0m-26 0h0m-1 0h0m-1 0h0m-8 0h0m-7 0h0m2 1h0m5 0h0m1 0h0m13 0h0m7 0h0m10 0h0m23 0h0m2 0h0m4 0h0m3 1h0m-6 0h0m-1 0h0m-8 0h0m-2 0h0m-3 0h0m-6 0h0m-1 0h0m-6 0h0m-3 0h0m-2 0h0m-7 0h0m-4 0h0m-6 0h0m-1 0h0m-1 0h0m-4 0h0m-2 0h0m-4 0h0m-4 0h0m-3 0h0m3 1h0m1 0h0m10 0h0m11 0h0m2 0h0m21 0h0m13 0h0m2 0h0m1 0h0m1 0h0m1 0h0m6 0h0m8 1h0m-23 0h0m-3 0h0m-1 0h0m-3 0h0m-9 0h0m-6 0h0m-4 0h0m-12 0h0m-4 0h0m-5 0h0m-1 0h0m-5 0h0m-2 1h0m15 0h0m1 0h0m10 0h0m10 0h0m1 0h0m6 0h0m7 0h0m4 0h0m15 0h0m3 0h0m-3 1h0m-9 0h0m-6 0h0m-8 0h0m-1 0h0m-4 0h0m-1 0h0m-4 0h0m-1 0h0m-10 0h0m-3 0h0m-1 0h0m-3 0h0m-2 0h0m-11 0h0m-9 0h0m6 1h0m7 0h0m8 0h0m4 0h0m1 0h0m6 0h0m6 0h0m2 0h0m6 0h0m6 0h0m3 0h0m6 0h0m5 0h0m5 0h0m4 0h0m4 1h0m-23 0h0m-5 0h0m-18 0h0m-8 0h0m-4 0h0m-6 0h0m-9 0h0m-2 1h0m38 0h0m6 0h0m10 0h0m1 0h0m9 0h0m6 0h0m4 0h0m3 1h0m-15 0h0m-1 0h0m-5 0h0m-5 0h0m-5 0h0m-6 0h0m-13 0h0m-11 0h0m-7 0h0m-6 1h0m5 0h0m5 0h0m6 0h0m8 0h0m18 0h0m4 0h0m15 0h0m9 0h0m-16 1h0m-10 0h0m-4 0h0m-7 0h0m-15 0h0m-3 0h0m-1 0h0m-15 0h0m4 1h0m17 0h0m2 0h0m3 0h0m1 0h0m3 0h0m8 0h0m13 0h0m2 0h0m4 0h0m10 0h0m2 0h0m0 1h0m-1 0h0m-9 0h0m-11 0h0m-3 0h0m-1 0h0m-11 0h0m-10 0h0m-2 0h0m-4 0h0m-16 0h0m7 1h0m5 0h0m8 0h0m1 0h0m1 0h0m7 0h0m2 0h0m12 0h0m1 0h0m2 0h0m3 0h0m6 0h0m9 0h0m4 0h0m4 0h0m3 1h0m-30 0h0m-4 0h0m-3 0h0m-11 0h0m-9 0h0m-4 0h0m-6 0h0m-1 0h0m-7 1h0m1 0h0m2 0h0m4 0h0m1 0h0m1 0h0m3 0h0m1 0h0m6 0h0m8 0h0m5 0h0m8 0h0m10 0h0m10 0h0m1 0h0m12 0h0m2 0h0m1 0h0m2 0h0m-2 1h0m-15 0h0m-6 0h0m-5 0h0m-5 0h0m-4 0h0m-16 0h0m-4 0h0m-4 0h0m-16 0h0m-2 0h0m9 1h0m18 0h0m8 0h0m14 0h0m17 0h0m10 0h0m-3 1h0m-11 0h0m-5 0h0m-7 0h0m-4 0h0m-1 0h0m-4 0h0m-6 0h0m-14 0h0m-10 1h0m13 0h0m21 0h0m6 0h0m1 0h0m11 0h0m9 1h0m-3 0h0m-1 0h0m-4 0h0m-2 0h0m-1 0h0m-8 0h0m-1 0h0m-8 0h0m-17 0h0m-7 0h0m-18 1h0m2 0h0m2 0h0m3 0h0m1 0h0m14 0h0m14 0h0m17 0h0m1 0h0m2 0h0m4 0h0m5 0h0m2 1h0m-7 0h0m-7 0h0m-4 0h0m-2 0h0m-9 0h0m-16 0h0m-1 0h0m-7 0h0m-3 0h0m-3 0h0m-7 0h0m1 1h0m3 0h0m7 0h0m3 0h0m7 0h0m4 0h0m1 0h0m3 0h0m5 0h0m6 0h0m4 0h0m5 0h0m7 0h0m2 0h0m-1 1h0m-4 0h0m-3 0h0m-4 0h0m-4 0h0m-4 0h0m-4 0h0m-4 0h0m-1 0h0m-6 0h0m-7 0h0m-15 0h0m6 1h0m16 0h0m5 0h0m1 0h0m1 0h0m5 0h0m12 0h0m15 0h0m2 0h0m-6 1h0m-8 0h0m-15 0h0m-15 0h0m-17 1h0m9 0h0m2 0h0m3 0h0m10 0h0m12 0h0m4 0h0m13 1h0m-3 0h0m-5 0h0m-8 0h0m-4 0h0m-1 0h0m-2 0h0m-3 0h0m-1 0h0m-1 0h0m-5 0h0m-13 0h0m-5 0h0m-3 0h0m-1 0h0m-4 1h0m3 0h0m4 0h0m2 0h0m9 0h0m3 0h0m15 0h0m5 0h0m17 1h0m-1 0h0m-1 0h0m-16 0h0m-2 0h0m-2 0h0m-1 0h0m-5 0h0m-1 0h0m-2 0h0m-1 0h0m-7 0h0m-4 0h0m-6 0h0m-6 1h0m1 0h0m6 0h0m1 0h0m12 0h0m5 0h0m2 0h0m7 0h0m4 0h0m4 0h0m3 0h0m3 0h0m2 0h0m5 1h0m-8 0h0m-17 0h0m-2 0h0m-5 0h0m-9 0h0m-6 0h0m-6 0h0m6 1h0m4 0h0m15 0h0m3 0h0m1 0h0m3 0h0m17 0h0m6 0h0m4 1h0m-6 0h0m-1 0h0m-10 0h0m-11 0h0m-2 0h0m-1 0h0m-7 0h0m-3 0h0m-14 1h0m3 0h0m2 0h0m15 0h0m6 0h0m17 0h0m4 1h0m-1 0h0m-5 0h0m-2 0h0m-3 0h0m-6 0h0m-8 0h0m-19 0h0m12 1h0m2 0h0m3 0h0m14 0h0m2 0h0m7 0h0m4 0h0m-9 1h0m-2 0h0m-1 0h0m-15 0h0m-4 0h0m-13 0h0m-8 0h0m14 1h0m9 0h0m3 0h0m2 0h0m5 0h0m1 0h0m7 0h0m5 0h0m-8 1h0m-1 0h0m-2 0h0m-2 0h0m-1 0h0m-7 0h0m-3 0h0m-6 0h0m-5 0h0m5 1h0m8 0h0m1 0h0m3 0h0m24 1h0m-3 0h0m-21 0h0m-6 0h0m-2 0h0m-4 0h0m-2 0h0m-1 0h0m-4 1h0m2 0h0m14 0h0m14 0h0m1 0h0m4 0h0m-7 1h0m-19 0h0m-7 1h0m17 0h0m19 0h0m-28 2h0m15 2h0m23 1h0m-45 1h0m15 0h0m13 1h0m-1 0h0m-16 1h0m-12 1h0"/><path stroke="#f86b4f" d="M494 36h0m-6 1h0m3 2h0m-3 0h0m2 1h0m9 1h0m-12 0h0m9 1h0m3 0h0m1 1h0m-6 0h0m-2 1h0m1 0h0m3 1h0m-16 0h0m-3 1h0m4 0h0m2 0h0m4 0h0m9 1h0m-5 0h0m-1 0h0m-8 0h0m-1 0h0m-4 0h0m-3 1h0m3 0h0m6 0h0m5 0h0m5 1h0m-11 0h0m-6 0h0m-4 1h0m9 0h0m3 0h0m3 0h0m8 1h0m-10 0h0m-3 0h0m-5 0h0m-1 0h0m0 1h0m13 0h0m1 0h0m4 0h0m1 1h0m-9 0h0m-5 0h0m-12 0h0m4 1h0m2 0h0m1 0h0m10 0h0m5 0h0m5 1h0m-8 0h0m-4 0h0m-2 0h0m-3 0h0m-2 0h0m-1 0h0m5 1h0m5 0h0m2 0h0m7 1h0m-13 0h0m-4 0h0m-8 0h0m2 1h0m5 0h0m2 0h0m4 0h0m1 0h0m1 0h0m8 0h0m-1 1h0m-15 0h0m-1 0h0m-1 0h0m-6 0h0m-8 0h0m0 1h0m12 0h0m7 0h0m1 0h0m2 0h0m7 1h0m-4 0h0m-10 0h0m-1 0h0m-4 0h0m3 1h0m7 0h0m3 0h0m5 0h0m1 1h0m-11 0h0m-6 0h0m3 1h0m1 0h0m12 1h0m-9 0h0m-29 0h0m4 1h0m5 0h0m8 0h0m6 0h0m4 0h0m5 0h0m5 0h0m1 0h0m3 1h0m-6 0h0m-4 0h0m-3 0h0m-1 0h0m-7 0h0m-5 0h0m-11 0h0m-7 0h0m3 1h0m6 0h0m15 0h0m20 0h0m1 0h0m4 0h0m-5 1h0m-4 0h0m-20 0h0m-9 0h0m-3 0h0m-14 0h0m9 1h0m10 0h0m4 0h0m9 0h0m10 0h0m1 0h0m9 1h0m-4 0h0m-7 0h0m-6 0h0m-13 0h0m-2 0h0m-7 0h0m-1 0h0m14 1h0m3 0h0m3 0h0m6 0h0m3 0h0m12 1h0m-11 0h0m-3 0h0m-3 0h0m-4 0h0m-2 0h0m-24 1h0m5 0h0m12 0h0m19 0h0m6 0h0m3 1h0m-22 0h0m-13 0h0m-5 0h0m0 1h0m6 0h0m7 0h0m3 0h0m4 0h0m14 0h0m-1 1h0m-8 0h0m-5 0h0m-17 1h0m9 0h0m2 0h0m3 0h0m8 0h0m4 0h0m2 0h0m1 0h0m5 0h0m-7 1h0m-3 0h0m-7 0h0m-11 0h0m-11 0h0m13 1h0m2 0h0m3 0h0m3 0h0m4 0h0m2 0h0m14 0h0m1 0h0m-9 1h0m-4 0h0m-7 0h0m-1 0h0m-2 0h0m-9 0h0m-2 0h0m1 1h0m6 0h0m8 0h0m7 0h0m6 1h0m-15 0h0m-17 0h0m-5 0h0m-2 0h0m0 1h0m13 0h0m14 0h0m7 0h0m6 1h0m-5 0h0m-24 0h0m-4 0h0m-1 0h0m-4 1h0m9 0h0m2 0h0m6 0h0m1 0h0m2 0h0m12 0h0m4 1h0m-11 0h0m-7 0h0m-6 0h0m-3 0h0m-3 0h0m-1 0h0m-7 1h0m9 0h0m1 0h0m4 0h0m7 0h0m10 0h0m6 0h0m1 1h0m-15 0h0m-10 0h0m-2 0h0m-1 0h0m-7 0h0m1 1h0m1 0h0m8 0h0m18 0h0m9 0h0m-12 1h0m-15 0h0m-7 0h0m-5 0h0m-1 0h0m-4 0h0m7 1h0m13 0h0m5 0h0m-22 1h0m-1 0h0m1 1h0m25 0h0m-25 1h0m1 3h0m2 0h0m-9 1h0m6 1h0"/><path stroke="#e8900d" d="M522 29h0m13 1h0m1 1h0m-7 0h0m-8 0h0m-7 3h0m12 0h0m7 0h0m1 0h0m10 0h0m-9 1h0m-2 0h0m-1 0h0m-1 0h0m-2 0h0m-2 0h0m9 1h0m5 1h0m-13 0h0m-4 1h0m5 0h0m7 0h0m17 0h0m-20 2h0m1 0h0m8 0h0m-26 1h0m3 1h0m4 0h0m14 0h0m3 0h0m4 1h0m-18 0h0m3 1h0m11 0h0m-1 1h0m-4 0h0m-1 0h0m-6 0h0m-9 0h0m-7 0h0m-6 0h0m-2 0h0m5 1h0m17 0h0m3 0h0m1 0h0m4 0h0m4 1h0m-3 0h0m-7 0h0m-4 0h0m-1 0h0m-16 0h0m-2 1h0m37 0h0m-1 1h0m-7 0h0m-23 1h0m12 0h0m8 0h0m4 0h0m-8 1h0m-14 0h0m-11 1h0m2 0h0m12 0h0m12 0h0m2 0h0m3 0h0m1 0h0m2 0h0m2 0h0m4 1h0m-2 0h0m-26 1h0m6 0h0m2 0h0m1 0h0m4 0h0m10 0h0m5 1h0m-8 0h0m-9 0h0m-25 0h0m18 1h0m3 0h0m8 0h0m6 0h0m-1 1h0m-3 0h0m10 2h0m-13 0h0m-1 0h0m-5 0h0m-4 0h0m-13 1h0m31 0h0m0 1h0m-33 1h0m7 0h0m5 0h0m1 0h0m4 0h0m8 0h0m2 0h0m7 0h0m0 1h0m-15 0h0m-1 0h0m-4 0h0m-18 0h0m28 1h0m3 0h0m9 0h0m-3 1h0m-30 0h0m-4 1h0m14 0h0m6 0h0m-4 1h0m-4 0h0m-8 0h0m-5 1h0m2 0h0m12 0h0m2 0h0m9 0h0m5 0h0m0 1h0m-7 0h0m-6 0h0m-1 0h0m-7 0h0m-10 0h0m-5 1h0m5 0h0m19 0h0m1 0h0m3 0h0m7 0h0m4 1h0m-3 0h0m-1 0h0m-10 0h0m-3 0h0m-2 0h0m-7 0h0m-3 0h0m-4 1h0m2 0h0m2 0h0m8 0h0m9 0h0m2 0h0m9 0h0m-5 1h0m-19 0h0m-9 0h0m-6 1h0m5 0h0m8 0h0m17 0h0m7 0h0m-13 1h0m-3 0h0m-5 0h0m-9 0h0m-5 0h0m2 1h0m26 0h0m5 0h0m1 0h0m-3 1h0m-7 0h0m-10 0h0m-1 0h0m-17 1h0m3 0h0m12 0h0m12 0h0m1 0h0m16 0h0m-2 1h0m-12 0h0m-5 0h0m-7 0h0m-1 0h0m-7 0h0m-2 0h0m-2 1h0m19 0h0m17 0h0m-6 1h0m-5 0h0m-12 0h0m-2 0h0m-2 0h0m-11 1h0m1 0h0m4 0h0m23 0h0m4 0h0m5 0h0m2 1h0m-4 0h0m-1 0h0m-5 0h0m-14 0h0m-5 0h0m-1 0h0m-1 0h0m-1 0h0m-3 0h0m14 1h0m19 0h0m2 0h0m2 1h0m-20 0h0m-2 0h0m-2 0h0m-8 0h0m-2 0h0m-3 0h0m-2 0h0m-2 1h0m10 0h0m5 0h0m2 0h0m6 0h0m2 0h0m2 0h0m6 0h0m1 0h0m-6 1h0m-6 0h0m-10 0h0m-2 0h0m-1 0h0m-6 0h0m-7 0h0m-3 0h0m8 1h0m1 0h0m4 0h0m8 0h0m1 0h0m4 0h0m2 0h0m11 0h0m1 0h0m4 1h0m-10 0h0m-6 0h0m-3 0h0m-20 1h0m3 0h0m7 0h0m11 0h0m7 0h0m9 0h0m-10 1h0m-8 0h0m-2 0h0m-2 0h0m-6 0h0m-4 0h0m21 1h0m5 1h0m-7 0h0m-16 0h0m4 1h0m4 0h0m17 0h0m-13 1h0m-1 0h0m-8 0h0m-7 0h0m-2 1h0m10 0h0m2 0h0m12 0h0m3 0h0m-12 1h0m-4 0h0m5 1h0m5 0h0m3 0h0m1 0h0m-12 1h0m-12 0h0m7 1h0m2 0h0m8 0h0m6 0h0m5 0h0m3 0h0m-12 1h0m-6 0h0m-6 0h0m-2 1h0m13 0h0m9 1h0m-15 0h0m-7 0h0m3 1h0m4 0h0m3 0h0m5 0h0m9 0h0m-1 1h0m-9 0h0m-5 0h0m-1 0h0m-1 0h0m-2 0h0m1 2h0m-2 3h0m19 2h0m-8 5h0m-16 31h0m-19 5h0"/><path stroke="#d3950f" d="M630 136h0m4 0h0m0 1h0m-1 1h0m6 2h0m-14 2h0m7 0h0m6 0h0m2 1h0m-6 0h0m4 1h0m7 0h0m-7 1h0m-4 1h0m3 1h0m-2 0h0m-4 0h0m6 1h0m-6 2h0m4 0h0m3 1h0m-3 0h0m2 2h0m-2 0h0m-2 0h0m1 1h0m2 1h0m3 2h0m-6 0h0m6 2h0m-5 0h0m3 2h0m-9 0h0m11 2h0m-4 1h0m1 9h0m-7 0h0m-14 6h0m30 3h0"/><path stroke="#4c8fd2" d="M628 198h0m16 0h0m7 1h0m-7 0h0m1 1h0m2 2h0m3 0h0m1 0h0m2 0h0m-4 1h0m-10 0h0m-1 0h0m5 1h0m6 0h0m17 1h0m-16 0h0m-2 0h0m-36 0h0m27 1h0m5 0h0m9 0h0m2 1h0m-2 0h0m-6 0h0m-1 0h0m-6 0h0m-5 0h0m1 1h0m18 0h0m13 1h0m-23 0h0m-1 0h0m-5 0h0m-9 0h0m9 1h0m5 0h0m5 0h0m6 0h0m16 0h0m-14 1h0m-2 0h0m-1 0h0m-6 0h0m-4 0h0m-7 0h0m-10 0h0m3 1h0m9 0h0m1 0h0m4 0h0m2 0h0m6 0h0m7 0h0m8 1h0m-3 0h0m-14 0h0m-5 0h0m-18 1h0m1 0h0m7 0h0m1 0h0m33 1h0m-7 0h0m-2 0h0m-5 0h0m-14 0h0m-4 0h0m-3 0h0m-3 0h0m-3 1h0m5 0h0m1 0h0m4 0h0m2 0h0m10 0h0m10 0h0m12 1h0m-10 0h0m-15 0h0m-14 0h0m-1 0h0m-3 0h0m16 1h0m7 0h0m5 0h0m3 0h0m3 0h0m2 0h0m-3 1h0m-11 0h0m-1 0h0m-6 0h0m-6 0h0m-17 1h0m9 0h0m4 0h0m1 0h0m4 0h0m3 0h0m1 0h0m1 0h0m1 0h0m5 0h0m4 0h0m7 0h0m3 0h0m3 0h0m-12 1h0m-7 0h0m-8 0h0m-3 0h0m-1 0h0m-1 0h0m-9 1h0m5 0h0m13 0h0m3 0h0m2 0h0m3 0h0m4 0h0m4 0h0m1 0h0m2 0h0m-11 1h0m-3 0h0m-2 0h0m-2 0h0m-5 0h0m-2 0h0m4 1h0m1 0h0m2 0h0m1 0h0m12 0h0m3 0h0m3 1h0m-3 0h0m-10 0h0m-2 0h0m-3 0h0m-1 0h0m-8 0h0m-3 0h0m-2 1h0m7 0h0m1 0h0m7 0h0m6 0h0m3 0h0m8 0h0m-12 1h0m-5 0h0m-11 1h0m7 0h0m20 0h0m5 0h0m-21 1h0m0 1h0m14 0h0m-13 1h0m12 1h0m-16 1h0m7 1h0m12 1h0"/><path stroke="#6dc36b" d="M580 219h0m23 2h0m-5 8h0m-7 1h0m3 0h0m9 1h0m-6 0h0m7 2h0m-3 0h0m-1 0h0m1 1h0m-3 1h0m10 1h0m3 1h0m-8 0h0m-7 0h0m5 1h0m7 1h0m-2 0h0m-4 0h0m-1 0h0m13 1h0m-7 1h0m-5 0h0m-1 1h0m4 1h0m-8 0h0m-21 0h0m22 1h0m11 0h0m1 0h0m1 0h0m-9 2h0m6 0h0m1 0h0m-62 1h0m69 1h0m-9 1h0m-5 1h0m3 0h0m4 0h0m-62 1h0m57 1h0m6 0h0m2 1h0m-6 1h0m1 0h0m3 0h0m1 0h0m-7 1h0m-21 1h0m24 0h0m2 0h0m3 0h0m3 1h0m-22 1h0m14 1h0m-1 1h0m6 1h0m-12 0h0m6 1h0"/><path stroke="#f9cb2f" d="M476 163h0m6 2h0m-11 0h0m0 2h0m-4 1h0m1 0h0m5 0h0m4 2h0m3 0h0m14 0h0m-17 1h0m-2 0h0m-2 0h0m25 1h0m-16 1h0m-3 0h0m-3 0h0m-11 0h0m-2 1h0m6 0h0m2 0h0m10 0h0m7 0h0m-1 1h0m-1 0h0m-6 0h0m-2 0h0m-1 0h0m-3 1h0m1 0h0m4 0h0m3 0h0m2 0h0m1 0h0m2 1h0m-22 1h0m9 0h0m6 0h0m3 0h0m12 0h0m22 1h0m-22 0h0m-9 0h0m-2 0h0m-1 0h0m-2 0h0m-10 0h0m-2 0h0m-3 0h0m-2 0h0m8 1h0m11 0h0m13 1h0m-29 1h0m18 0h0m6 0h0m5 0h0m13 0h0m-8 1h0m-23 0h0m-6 0h0m-8 0h0m6 1h0m4 0h0m4 0h0m10 0h0m16 1h0m-33 0h0m-2 0h0m-2 1h0m13 0h0m4 0h0m7 0h0m9 0h0m8 0h0m1 0h0m6 0h0m2 0h0m3 1h0m-6 0h0m-40 0h0m-3 0h0m-3 0h0m-1 0h0m1 1h0m31 0h0m41 0h0m-21 1h0m-2 0h0m-3 0h0m-5 0h0m-3 0h0m-11 0h0m-23 0h0m-7 0h0m5 1h0m37 0h0m5 0h0m10 0h0m-54 1h0m-2 0h0m26 1h0m5 0h0m6 0h0m14 0h0m-5 1h0m-47 0h0m27 1h0m26 0h0m4 1h0m-1 0h0m-6 0h0m-8 0h0m-4 0h0m-7 0h0m-25 1h0m4 0h0m20 0h0m3 0h0m8 0h0m25 1h0m-10 0h0m-9 0h0m-43 0h0m9 1h0m20 0h0m11 0h0m6 0h0m13 0h0m-2 1h0m-7 0h0m-3 0h0m-1 0h0m-15 0h0m-32 1h0m34 0h0m9 0h0m4 0h0m3 0h0m3 1h0m-1 0h0m-1 0h0m-4 0h0m-16 0h0m-27 1h0m46 0h0m-7 1h0m5 1h0m7 0h0m-15 1h0m5 1h0m1 0h0m5 0h0m-7 2h0m-7 4h0m39 7h0m-2 0h0m-4 6h0m-4 3h0m5 4h0"/><path stroke="#f2450d" d="M515 143h0m1 1h0m-2 1h0m-2 0h0m-3 1h0m1 1h0m0 2h0m2 1h0m-5 2h0m5 0h0m-1 1h0m-5 1h0m6 0h0m1 0h0m-5 1h0m-2 0h0m1 1h0m7 1h0m-1 0h0m-3 0h0m-13 0h0m14 2h0m-2 0h0m-7 0h0m12 2h0m-9 0h0m-13 0h0m15 1h0m1 0h0m2 0h0m2 1h0m-8 0h0m-13 1h0m15 0h0m4 2h0m-4 3h0m6 1h0m-49 36h0m8 0h0m5 0h0m7 1h0m-1 0h0m-8 0h0m-4 0h0m4 1h0m12 0h0m1 0h0m-15 2h0m3 0h0m3 0h0m3 0h0m8 1h0m0 1h0m0 1h0m-12 0h0m-2 0h0m-7 0h0m-1 0h0m0 1h0m20 0h0m10 1h0m-1 0h0m-4 0h0m-7 0h0m-13 0h0m-2 1h0m2 0h0m2 0h0m24 0h0m-17 1h0m-5 0h0m-3 0h0m-1 1h0m5 0h0m4 0h0m24 1h0m-33 0h0m-4 1h0m17 0h0m9 0h0m3 0h0m-1 1h0m-12 0h0m-5 0h0m-2 0h0m-4 0h0m-1 0h0m-4 0h0m5 1h0m3 0h0m7 0h0m6 0h0m3 0h0m5 0h0m-3 1h0m-1 0h0m-7 0h0m-11 1h0m10 0h0m9 0h0m1 0h0m8 1h0m-9 0h0m-4 0h0m-3 0h0m-7 0h0m-5 0h0m1 1h0m10 0h0m12 0h0m13 0h0m-16 1h0m-11 0h0m-10 1h0m4 0h0m10 0h0m3 0h0m5 0h0m4 1h0m-1 0h0m-1 0h0m-7 0h0m-8 1h0m21 1h0m-7 0h0m-6 0h0m-1 0h0m-5 0h0m-6 0h0m12 1h0m1 0h0m5 0h0m8 0h0m-11 1h0m-9 1h0m6 0h0m7 0h0m5 0h0m-3 1h0m-2 0h0m-28 1h0m6 0h0m14 0h0m4 0h0m-12 1h0m18 2h0m-9 0h0m-7 0h0m8 1h0m-1 1h0m-1 0h0m-3 0h0m-1 1h0m6 0h0m26 0h0m-42 2h0"/><path stroke="#b0b0b2" d="M573 134h0m16 0h0m24 0h0m-14 1h0m-20 0h0m-20 1h0m5 0h0m15 0h0m37 0h0m0 1h0m-21 0h0m-2 0h0m-14 0h0m-1 0h0m-6 0h0m-4 0h0m-2 1h0m18 0h0m5 0h0m5 0h0m3 0h0m11 0h0m2 0h0m7 0h0m3 1h0m-19 0h0m-15 0h0m-9 0h0m-2 0h0m-3 0h0m-3 0h0m-10 0h0m-5 0h0m-2 0h0m0 1h0m2 0h0m10 0h0m3 0h0m2 0h0m4 0h0m23 0h0m2 0h0m1 0h0m3 0h0m6 0h0m11 1h0m-6 0h0m-3 0h0m-1 0h0m-3 0h0m-15 0h0m-9 0h0m-10 0h0m-7 0h0m-15 0h0m3 1h0m1 0h0m5 0h0m5 0h0m7 0h0m1 0h0m7 0h0m4 0h0m13 0h0m3 0h0m2 0h0m18 0h0m-3 1h0m-3 0h0m-1 0h0m-3 0h0m-5 0h0m-1 0h0m-1 0h0m-8 0h0m-5 0h0m-6 0h0m-6 0h0m-8 0h0m-6 0h0m-1 0h0m-20 1h0m4 0h0m11 0h0m4 0h0m9 0h0m6 0h0m8 0h0m4 0h0m8 0h0m14 0h0m2 0h0m8 0h0m4 0h0m-1 1h0m-6 0h0m-5 0h0m-1 0h0m-3 0h0m-4 0h0m-10 0h0m-6 0h0m-18 0h0m-2 0h0m-2 0h0m-2 0h0m-1 0h0m-5 0h0m-10 0h0m5 1h0m5 0h0m5 0h0m6 0h0m15 0h0m7 0h0m5 0h0m4 0h0m11 0h0m5 0h0m2 0h0m4 0h0m2 0h0m5 1h0m-7 0h0m-5 0h0m-3 0h0m-1 0h0m-7 0h0m-5 0h0m-1 0h0m-5 0h0m-8 0h0m-1 0h0m-7 0h0m-5 0h0m-6 0h0m-2 0h0m-12 0h0m-5 0h0m-2 0h0m-4 0h0m-5 1h0m15 0h0m6 0h0m1 0h0m10 0h0m1 0h0m22 0h0m12 0h0m2 0h0m3 0h0m17 0h0m-10 1h0m-7 0h0m-4 0h0m-11 0h0m-2 0h0m-1 0h0m-3 0h0m-3 0h0m-14 0h0m-2 0h0m-1 0h0m-6 0h0m-11 0h0m-2 0h0m-2 0h0m-5 0h0m-2 1h0m6 0h0m2 0h0m1 0h0m2 0h0m4 0h0m1 0h0m2 0h0m12 0h0m2 0h0m10 0h0m3 0h0m2 0h0m1 0h0m7 0h0m2 0h0m4 0h0m18 0h0m1 0h0m5 0h0m1 0h0m-3 1h0m-7 0h0m-15 0h0m-6 0h0m-11 0h0m-2 0h0m-13 0h0m-6 0h0m-2 0h0m-17 0h0m0 1h0m1 0h0m5 0h0m7 0h0m16 0h0m6 0h0m1 0h0m1 0h0m6 0h0m6 0h0m4 0h0m1 0h0m2 0h0m1 0h0m1 0h0m2 0h0m8 0h0m6 0h0m1 0h0m3 0h0m5 1h0m-12 0h0m-5 0h0m-11 0h0m-1 0h0m-1 0h0m-10 0h0m-12 0h0m-6 0h0m-3 0h0m-4 0h0m-21 1h0m2 0h0m6 0h0m10 0h0m3 0h0m5 0h0m14 0h0m1 0h0m1 0h0m14 0h0m4 0h0m7 0h0m4 0h0m2 0h0m10 0h0m3 0h0m-4 1h0m-5 0h0m-1 0h0m-1 0h0m-8 0h0m-8 0h0m-1 0h0m-6 0h0m-5 0h0m-7 0h0m-11 0h0m-4 0h0m-2 0h0m-2 0h0m-11 0h0m-5 0h0m-6 0h0m-5 0h0m6 1h0m10 0h0m1 0h0m2 0h0m2 0h0m3 0h0m5 0h0m6 0h0m6 0h0m10 0h0m5 0h0m1 0h0m1 0h0m2 0h0m8 0h0m3 0h0m12 0h0m5 0h0m-4 1h0m-9 0h0m-2 0h0m-8 0h0m-9 0h0m-1 0h0m-4 0h0m-2 0h0m-11 0h0m-3 0h0m-5 0h0m-5 0h0m-15 0h0m-3 0h0m-6 0h0m9 1h0m3 0h0m7 0h0m5 0h0m1 0h0m15 0h0m2 0h0m5 0h0m14 0h0m2 0h0m11 0h0m3 0h0m10 1h0m-1 0h0m-11 0h0m-1 0h0m-1 0h0m-2 0h0m-9 0h0m-4 0h0m-5 0h0m-15 0h0m-2 0h0m-3 0h0m-16 0h0m-1 0h0m-6 0h0m-3 0h0m-2 0h0m-4 1h0m2 0h0m9 0h0m5 0h0m3 0h0m1 0h0m7 0h0m1 0h0m1 0h0m3 0h0m1 0h0m1 0h0m3 0h0m9 0h0m7 0h0m1 0h0m7 0h0m10 0h0m9 0h0m1 0h0m4 1h0m-1 0h0m-9 0h0m-1 0h0m-7 0h0m-1 0h0m-4 0h0m-6 0h0m-1 0h0m-20 0h0m-1 0h0m-6 0h0m-1 0h0m-2 0h0m-22 0h0m-6 1h0m1 0h0m24 0h0m2 0h0m4 0h0m2 0h0m2 0h0m1 0h0m3 0h0m12 0h0m2 0h0m9 0h0m1 0h0m4 0h0m12 0h0m10 0h0m5 1h0m-4 0h0m-5 0h0m-5 0h0m-13 0h0m-2 0h0m-13 0h0m-6 0h0m-12 0h0m-10 0h0m-1 0h0m-1 0h0m-2 0h0m-11 0h0m-4 0h0m-3 0h0m1 1h0m6 0h0m7 0h0m12 0h0m12 0h0m5 0h0m6 0h0m9 0h0m8 0h0m4 0h0m4 0h0m2 0h0m3 0h0m12 1h0m-4 0h0m-8 0h0m-2 0h0m-5 0h0m-4 0h0m-4 0h0m-3 0h0m-8 0h0m-8 0h0m-5 0h0m-2 0h0m-1 0h0m-1 0h0m-1 0h0m-4 0h0m-8 0h0m-12 0h0m-4 0h0m-1 0h0m-3 0h0m-2 0h0m-5 1h0m14 0h0m13 0h0m4 0h0m6 0h0m3 0h0m5 0h0m16 0h0m2 0h0m2 0h0m5 0h0m14 0h0m1 0h0m1 1h0m-3 0h0m-7 0h0m-11 0h0m-8 0h0m-4 0h0m-2 0h0m-6 0h0m-2 0h0m-3 0h0m-20 0h0m-1 0h0m-11 0h0m-7 0h0m3 1h0m4 0h0m3 0h0m1 0h0m7 0h0m8 0h0m12 0h0m5 0h0m2 0h0m1 0h0m4 0h0m1 0h0m6 0h0m7 0h0m6 0h0m2 0h0m2 0h0m3 0h0m3 0h0m6 0h0m5 1h0m-14 0h0m-15 0h0m-8 0h0m-1 0h0m-13 0h0m-6 0h0m-3 0h0m-7 0h0m-10 0h0m-13 1h0m5 0h0m2 0h0m4 0h0m3 0h0m2 0h0m4 0h0m1 0h0m12 0h0m2 0h0m13 0h0m3 0h0m5 0h0m4 0h0m5 0h0m8 0h0m5 0h0m1 0h0m4 0h0m1 0h0m3 0h0m-1 1h0m-4 0h0m-1 0h0m-3 0h0m-1 0h0m-22 0h0m-2 0h0m-2 0h0m-8 0h0m-1 0h0m-7 0h0m-2 0h0m-5 0h0m-7 0h0m-2 0h0m-1 0h0m-6 0h0m-3 0h0m-14 1h0m7 0h0m4 0h0m2 0h0m4 0h0m3 0h0m17 0h0m2 0h0m7 0h0m5 0h0m8 0h0m14 0h0m1 0h0m4 0h0m2 0h0m3 0h0m1 0h0m4 0h0m-3 1h0m-2 0h0m-2 0h0m-3 0h0m-6 0h0m-3 0h0m-7 0h0m-2 0h0m-3 0h0m-1 0h0m-2 0h0m-3 0h0m-3 0h0m-1 0h0m-2 0h0m-4 0h0m-5 0h0m-7 0h0m-5 0h0m-3 0h0m-8 0h0m-1 1h0m3 0h0m11 0h0m2 0h0m4 0h0m2 0h0m1 0h0m4 0h0m5 0h0m4 0h0m8 0h0m6 0h0m3 0h0m1 0h0m3 0h0m25 1h0m-4 0h0m-3 0h0m-8 0h0m-9 0h0m-4 0h0m-7 0h0m-3 0h0m-18 0h0m-4 0h0m-7 0h0m-2 0h0m-3 0h0m-6 0h0m-6 0h0m-4 0h0m-1 0h0m-2 1h0m11 0h0m14 0h0m8 0h0m7 0h0m1 0h0m3 0h0m2 0h0m4 0h0m3 0h0m12 0h0m6 0h0m5 0h0m7 0h0m3 0h0m-1 1h0m-3 0h0m-16 0h0m-19 0h0m-1 0h0m-2 0h0m-5 0h0m-6 0h0m-1 0h0m-1 0h0m-13 0h0m-2 0h0m-3 0h0m-1 0h0m-4 0h0m-1 0h0m-11 0h0m5 1h0m7 0h0m3 0h0m6 0h0m6 0h0m10 0h0m19 0h0m4 0h0m2 0h0m1 0h0m3 0h0m3 0h0m6 0h0m1 0h0m16 1h0m-2 0h0m-14 0h0m-1 0h0m-2 0h0m-6 0h0m-8 0h0m-3 0h0m-29 0h0m-4 0h0m-3 0h0m-5 0h0m-1 0h0m-1 0h0m-1 0h0m-4 0h0m3 1h0m6 0h0m11 0h0m2 0h0m11 0h0m1 0h0m1 0h0m1 0h0m7 0h0m9 0h0m13 0h0m5 0h0m2 0h0m5 0h0m6 0h0m1 0h0m-2 1h0m-10 0h0m-7 0h0m-6 0h0m-1 0h0m-3 0h0m-8 0h0m-1 0h0m-4 0h0m-2 0h0m-31 0h0m-1 0h0m-2 0h0m-12 0h0m10 1h0m4 0h0m4 0h0m3 0h0m1 0h0m2 0h0m9 0h0m2 0h0m5 0h0m1 0h0m2 0h0m2 0h0m4 0h0m1 0h0m10 0h0m3 0h0m1 0h0m8 0h0m4 0h0m15 0h0m1 0h0m-4 1h0m-9 0h0m-6 0h0m-2 0h0m-9 0h0m-6 0h0m-6 0h0m-15 0h0m-4 0h0m-12 0h0m-13 0h0m-1 0h0m-1 0h0m-3 0h0m7 1h0m1 0h0m5 0h0m5 0h0m1 0h0m3 0h0m2 0h0m1 0h0m5 0h0m7 0h0m5 0h0m4 0h0m1 0h0m10 0h0m1 0h0m10 0h0m6 0h0m5 0h0m1 0h0m3 0h0m0 1h0m-2 0h0m-26 0h0m-3 0h0m-6 0h0m-4 0h0m-9 0h0m-6 0h0m-5 0h0m-4 0h0m-6 0h0m-6 0h0m-6 0h0m1 1h0m5 0h0m8 0h0m7 0h0m6 0h0m5 0h0m3 0h0m1 0h0m4 0h0m26 0h0m2 0h0m2 0h0m11 0h0m1 0h0m1 0h0m1 0h0m-6 1h0m-7 0h0m-1 0h0m-13 0h0m-5 0h0m-1 0h0m-1 0h0m-2 0h0m-6 0h0m-5 0h0m-4 0h0m-2 0h0m-1 0h0m-2 0h0m-7 0h0m-6 0h0m-3 0h0m-7 0h0m-2 0h0m-3 0h0m1 1h0m6 0h0m2 0h0m4 0h0m7 0h0m7 0h0m16 0h0m3 0h0m14 0h0m2 0h0m1 0h0m6 0h0m10 0h0m1 1h0m-1 0h0m-9 0h0m-2 0h0m-4 0h0m-6 0h0m-3 0h0m-8 0h0m-6 0h0m-4 0h0m-3 0h0m-2 0h0m-5 0h0m-1 0h0m-9 0h0m-7 0h0m-4 0h0m-2 0h0m-5 0h0m-1 1h0m1 0h0m18 0h0m14 0h0m7 0h0m1 0h0m5 0h0m10 0h0m20 0h0m6 0h0m2 0h0m0 1h0m-1 0h0m-4 0h0m-1 0h0m-3 0h0m-1 0h0m-6 0h0m-8 0h0m-3 0h0m-19 0h0m-11 0h0m-6 0h0m-16 0h0m-2 0h0m1 1h0m2 0h0m8 0h0m4 0h0m3 0h0m3 0h0m17 0h0m13 0h0m1 0h0m1 0h0m6 0h0m19 0h0m5 0h0m8 0h0m-21 1h0m-3 0h0m-2 0h0m-2 0h0m-13 0h0m-2 0h0m-15 0h0m-4 0h0m-1 0h0m-11 0h0m-3 0h0m-1 0h0m-4 0h0m-2 0h0m-6 0h0m1 1h0m2 0h0m12 0h0m2 0h0m4 0h0m13 0h0m7 0h0m10 0h0m2 0h0m6 0h0m3 0h0m2 0h0m1 0h0m1 0h0m4 0h0m2 0h0m3 0h0m2 1h0m-15 0h0m-16 0h0m-7 0h0m-3 0h0m-5 0h0m-5 0h0m-13 0h0m-9 0h0m-3 0h0m-3 1h0m6 0h0m18 0h0m12 0h0m1 0h0m9 0h0m5 0h0m6 0h0m4 0h0m4 0h0m3 0h0m1 0h0m2 0h0m8 0h0m-5 1h0m-10 0h0m-1 0h0m-2 0h0m-11 0h0m-1 0h0m-8 0h0m-11 0h0m-1 0h0m-10 0h0m-5 0h0m-4 0h0m-1 0h0m-3 0h0m8 1h0m2 0h0m2 0h0m2 0h0m19 0h0m16 0h0m6 0h0m6 0h0m10 1h0m-5 0h0m-31 0h0m-8 0h0m-6 0h0m-8 0h0m-7 0h0m-3 0h0m-8 0h0m-1 1h0m7 0h0m12 0h0m1 0h0m1 0h0m6 0h0m5 0h0m7 0h0m3 0h0m1 0h0m12 0h0m2 0h0m3 0h0m5 0h0m9 0h0m1 0h0m0 1h0m-6 0h0m-1 0h0m-6 0h0m-2 0h0m-5 0h0m-2 0h0m-25 0h0m-8 0h0m-4 0h0m-2 0h0m-1 0h0m-2 0h0m-1 0h0m-2 0h0m-1 0h0m-1 0h0m-3 1h0m5 0h0m13 0h0m4 0h0m5 0h0m12 0h0m13 0h0m1 0h0m1 0h0m4 0h0m3 0h0m1 0h0m5 1h0m-3 0h0m-6 0h0m-4 0h0m-12 0h0m-17 0h0m-2 0h0m-2 0h0m-1 0h0m-9 0h0m-1 0h0m-1 0h0m-2 0h0m-11 0h0m1 1h0m6 0h0m4 0h0m5 0h0m2 0h0m19 0h0m21 0h0m13 0h0m3 0h0m5 0h0m-11 1h0m-2 0h0m-2 0h0m-7 0h0m-26 0h0m-2 0h0m-3 0h0m-8 0h0m-2 0h0m-12 0h0m7 1h0m5 0h0m5 0h0m1 0h0m5 0h0m2 0h0m3 0h0m1 0h0m1 0h0m2 0h0m10 0h0m10 0h0m6 0h0m2 0h0m3 0h0m3 1h0m-1 0h0m-16 0h0m-3 0h0m-9 0h0m-4 0h0m-20 0h0m-6 0h0m-17 0h0m21 1h0m5 0h0m4 0h0m2 0h0m2 0h0m11 0h0m10 0h0m7 0h0m3 0h0m1 0h0m5 0h0m-7 1h0m-5 0h0m-5 0h0m-8 0h0m-9 0h0m-7 0h0m-9 0h0m-3 0h0m5 1h0m3 0h0m4 0h0m4 0h0m2 0h0m1 0h0m2 0h0m6 0h0m4 0h0m2 0h0m5 0h0m17 1h0m-23 0h0m-11 0h0m-2 0h0m-1 0h0m-2 0h0m-20 0h0m2 1h0m2 0h0m1 0h0m5 0h0m10 0h0m3 0h0m7 0h0m7 0h0m3 0h0m8 0h0m3 0h0m18 1h0m-18 0h0m-1 0h0m-13 0h0m-1 0h0m-21 0h0m-11 0h0m0 1h0m3 0h0m2 0h0m13 0h0m1 0h0m2 0h0m13 0h0m3 0h0m2 0h0m2 0h0m9 0h0m-8 1h0m-13 0h0m-2 0h0m-3 0h0m-11 0h0m-5 0h0m-2 0h0m-16 1h0m7 0h0m8 0h0m9 0h0m1 0h0m17 1h0m-9 0h0m-4 0h0m-2 0h0m-10 0h0m-1 0h0m-2 1h0m13 0h0m1 0h0m5 0h0m4 0h0m4 0h0m1 0h0m-5 1h0m-5 0h0m-2 0h0m-13 0h0m21 1h0m4 0h0m12 1h0m-12 0h0m-18 0h0m-10 1h0m-1 2h0"/><path stroke="#ddb787" d="M595 86h0m12 3h0m0 2h0m-1 1h0m-10 1h0m4 1h0m4 0h0m9 0h0m5 0h0m-16 1h0m-4 1h0m9 0h0m1 0h0m9 1h0m-23 0h0m1 1h0m1 0h0m3 0h0m2 0h0m6 0h0m16 1h0m-2 0h0m-7 0h0m-6 0h0m-2 0h0m-6 0h0m-7 0h0m-8 1h0m18 0h0m1 0h0m12 0h0m2 1h0m-8 0h0m-10 0h0m-3 0h0m-1 0h0m-5 0h0m0 1h0m11 0h0m3 0h0m1 0h0m3 0h0m3 0h0m2 0h0m8 0h0m0 1h0m-8 0h0m-11 0h0m-4 0h0m-12 1h0m10 0h0m6 0h0m2 0h0m6 0h0m3 1h0m-26 0h0m-2 1h0m9 0h0m7 0h0m1 0h0m9 0h0m10 1h0m-12 0h0m-7 0h0m-4 0h0m-4 0h0m-6 1h0m2 0h0m1 0h0m6 0h0m10 0h0m1 0h0m2 0h0m5 0h0m1 0h0m7 0h0m-20 1h0m-1 0h0m-7 0h0m-6 0h0m-2 0h0m4 1h0m3 0h0m13 0h0m6 0h0m12 0h0m3 0h0m-6 1h0m-5 0h0m-1 0h0m-6 0h0m-3 0h0m-6 0h0m-9 0h0m-1 0h0m-12 1h0m8 0h0m2 0h0m31 1h0m-1 0h0m-8 0h0m-3 0h0m-7 0h0m-2 0h0m-3 0h0m-1 0h0m-15 0h0m-8 0h0m-5 0h0m12 1h0m11 0h0m7 0h0m2 0h0m1 0h0m24 1h0m-4 0h0m-3 0h0m-20 0h0m-3 0h0m-2 0h0m-2 0h0m-4 0h0m-21 0h0m3 1h0m4 0h0m11 0h0m13 0h0m8 0h0m1 0h0m10 0h0m7 0h0m-12 1h0m-4 0h0m-3 0h0m-2 0h0m-2 0h0m-4 0h0m-4 0h0m-21 0h0m14 1h0m2 0h0m1 0h0m3 0h0m2 0h0m2 0h0m5 0h0m11 0h0m4 0h0m4 0h0m1 0h0m-2 1h0m-13 0h0m-3 0h0m-10 0h0m-15 0h0m-6 0h0m-7 1h0m15 0h0m6 0h0m1 0h0m19 0h0m6 0h0m12 0h0m1 0h0m2 0h0m-9 1h0m-14 0h0m-5 0h0m-1 0h0m-4 0h0m-33 1h0m5 0h0m6 0h0m7 0h0m6 0h0m2 0h0m3 0h0m8 0h0m1 0h0m8 0h0m10 0h0m5 0h0m5 1h0m-6 0h0m-7 0h0m-2 0h0m-5 0h0m-3 0h0m-3 0h0m-12 0h0m-6 0h0m-11 0h0m-10 0h0m9 1h0m2 0h0m2 0h0m1 0h0m4 0h0m13 0h0m14 0h0m6 0h0m2 0h0m3 0h0m4 0h0m-2 1h0m-2 0h0m-31 0h0m-6 0h0m-7 0h0m-7 0h0m-3 0h0m-12 1h0m15 0h0m3 0h0m2 0h0m3 0h0m4 0h0m4 0h0m4 0h0m2 0h0m5 0h0m8 0h0m4 0h0m1 0h0m8 0h0m7 0h0m2 1h0m-1 0h0m-1 0h0m-13 0h0m-5 0h0m-6 0h0m-2 0h0m-9 0h0m-1 0h0m-6 0h0m-1 0h0m-6 0h0m-1 0h0m-12 0h0m1 1h0m24 0h0m1 0h0m7 0h0m6 0h0m15 0h0m4 0h0m3 0h0m6 1h0m-18 0h0m-3 0h0m-3 0h0m-13 0h0m-1 0h0m-7 0h0m-2 0h0m-1 0h0m-6 0h0m-1 0h0m-2 0h0m-7 0h0m-1 0h0m2 1h0m4 0h0m2 0h0m5 0h0m1 0h0m3 0h0m18 0h0m15 0h0m7 0h0m1 0h0m9 0h0m-10 1h0m-9 0h0m-3 0h0m-9 0h0m-7 0h0m-10 0h0m-2 0h0m-1 0h0m-1 0h0m-24 1h0m2 0h0m6 0h0m1 0h0m4 0h0m3 0h0m8 0h0m21 0h0m6 0h0m4 0h0m1 0h0m2 0h0m1 0h0m12 1h0m-5 0h0m-2 0h0m-11 0h0m-1 0h0m-2 0h0m-1 0h0m-7 0h0m-1 0h0m-9 0h0m-9 0h0m-1 0h0m-1 0h0m-7 0h0m-12 0h0m8 1h0m3 0h0m5 0h0m1 0h0m9 0h0m1 0h0m7 0h0m3 0h0m1 0h0m8 0h0m9 0h0m11 0h0m-2 1h0m-15 0h0m-25 0h0m-5 0h0m-10 0h0m-3 0h0m-8 0h0m-3 0h0m23 1h0m6 0h0m28 0h0m2 0h0m5 1h0m-11 0h0m-3 0h0m-7 0h0m-14 0h0m-9 0h0m-1 0h0m-3 0h0m-3 0h0m-8 1h0m3 0h0m6 0h0m6 0h0m2 0h0m4 0h0m14 0h0m8 0h0m8 0h0m3 0h0m2 0h0m8 1h0m-45 0h0m-13 0h0m38 1h0m8 0h0m3 1h0m-51 0h0m2 2h0m23 1h0"/><path stroke="#9cd150" d="M558 30h0m2 0h0m-1 1h0m-5 0h0m-18 1h0m27 0h0m-1 1h0m-8 0h0m-10 0h0m-4 0h0m-6 1h0m13 0h0m12 0h0m2 0h0m-13 1h0m-8 0h0m-6 0h0m3 1h0m3 0h0m6 0h0m9 0h0m8 0h0m5 0h0m6 1h0m-5 0h0m-7 0h0m-5 0h0m-4 0h0m-18 0h0m9 1h0m7 0h0m12 0h0m5 0h0m3 0h0m3 0h0m3 0h0m-1 1h0m-13 0h0m-2 0h0m-3 0h0m-2 0h0m-3 0h0m-5 0h0m-10 1h0m9 0h0m3 0h0m4 0h0m5 0h0m8 0h0m30 1h0m-19 0h0m-2 0h0m-12 0h0m-3 0h0m-2 0h0m-7 0h0m-1 0h0m-7 0h0m-4 1h0m3 0h0m13 0h0m21 0h0m6 1h0m-1 0h0m-8 0h0m-4 0h0m-7 0h0m-4 0h0m-10 1h0m12 0h0m5 0h0m4 0h0m3 0h0m1 0h0m8 0h0m3 1h0m-13 0h0m-18 0h0m-5 0h0m-3 0h0m-4 0h0m2 1h0m13 0h0m7 0h0m2 0h0m1 0h0m6 0h0m4 0h0m10 1h0m-11 0h0m-14 0h0m-9 0h0m-6 0h0m-3 1h0m5 0h0m1 0h0m10 0h0m4 0h0m2 0h0m4 0h0m9 0h0m6 0h0m1 0h0m9 1h0m-16 0h0m-1 0h0m-1 0h0m-2 0h0m-1 0h0m-8 0h0m-5 0h0m-12 0h0m-8 1h0m3 0h0m4 0h0m2 0h0m6 0h0m23 0h0m7 0h0m4 0h0m-17 1h0m-19 0h0m-8 0h0m-4 0h0m7 1h0m5 0h0m4 0h0m14 0h0m5 0h0m5 0h0m2 0h0m10 1h0m-7 0h0m-8 0h0m-34 0h0m0 1h0m9 0h0m1 0h0m6 0h0m15 0h0m4 0h0m1 0h0m9 0h0m5 1h0m-3 0h0m-15 0h0m-2 0h0m-9 0h0m-14 0h0m-5 0h0m-4 1h0m9 0h0m9 0h0m1 0h0m5 0h0m4 0h0m3 0h0m5 0h0m2 0h0m7 0h0m7 1h0m-2 0h0m-5 0h0m-8 0h0m-3 0h0m-14 0h0m-9 0h0m-6 0h0m-4 0h0m2 1h0m2 0h0m10 0h0m6 0h0m4 0h0m1 0h0m3 0h0m5 0h0m1 0h0m18 1h0m-10 0h0m-2 0h0m-15 0h0m-3 0h0m-11 0h0m-10 0h0m-3 1h0m3 0h0m1 0h0m2 0h0m5 0h0m21 0h0m11 0h0m4 0h0m-11 1h0m-11 0h0m-1 0h0m-6 0h0m-1 0h0m-4 0h0m-9 0h0m-1 1h0m3 0h0m11 0h0m6 0h0m18 0h0m8 0h0m2 0h0m3 0h0m5 1h0m-3 0h0m-6 0h0m-4 0h0m-6 0h0m-34 0h0m-5 1h0m1 0h0m1 0h0m10 0h0m3 0h0m14 0h0m12 0h0m17 1h0m-18 0h0m-3 0h0m-24 0h0m-1 0h0m-1 0h0m-2 0h0m-4 0h0m-8 1h0m19 0h0m2 0h0m3 0h0m3 0h0m12 0h0m10 0h0m3 0h0m11 0h0m2 1h0m-3 0h0m-1 0h0m-3 0h0m-1 0h0m-3 0h0m-5 0h0m-7 0h0m-6 0h0m-21 0h0m-2 0h0m-11 0h0m-3 0h0m9 1h0m5 0h0m18 0h0m3 0h0m14 0h0m1 0h0m5 0h0m2 0h0m6 0h0m2 0h0m-1 1h0m-6 0h0m-13 0h0m-2 0h0m-3 0h0m-8 0h0m-6 0h0m-5 0h0m-6 0h0m-15 1h0m12 0h0m2 0h0m9 0h0m1 0h0m7 0h0m37 1h0m-7 0h0m-3 0h0m-7 0h0m-2 0h0m-12 0h0m-8 0h0m-3 0h0m-6 0h0m-2 0h0m-6 0h0m-3 0h0m-4 0h0m-4 1h0m1 0h0m2 0h0m2 0h0m37 0h0m2 0h0m12 0h0m3 0h0m-2 1h0m-2 0h0m-10 0h0m-2 0h0m-4 0h0m-7 0h0m-6 0h0m-21 0h0m-2 0h0m-5 0h0m-1 1h0m6 0h0m3 0h0m4 0h0m3 0h0m6 0h0m1 0h0m3 0h0m13 0h0m15 0h0m1 0h0m1 0h0m11 0h0m2 0h0m2 0h0m0 1h0m-24 0h0m-8 0h0m-7 0h0m-6 0h0m-4 0h0m-2 0h0m-1 0h0m-21 1h0m9 0h0m2 0h0m3 0h0m3 0h0m11 0h0m9 0h0m1 0h0m4 0h0m1 0h0m17 0h0m11 0h0m2 1h0m-12 0h0m-8 0h0m-3 0h0m-1 0h0m-4 0h0m-5 0h0m-2 0h0m-1 0h0m-3 0h0m-1 0h0m-6 0h0m-14 0h0m-1 0h0m-5 0h0m0 1h0m3 0h0m1 0h0m5 0h0m7 0h0m10 0h0m3 0h0m21 0h0m6 0h0m0 1h0m-3 0h0m-9 0h0m-3 0h0m-22 0h0m-9 0h0m-2 0h0m-2 0h0m-16 0h0m24 1h0m7 0h0m3 0h0m4 0h0m11 0h0m6 0h0m11 0h0m7 1h0m-6 0h0m-4 0h0m-18 0h0m-3 0h0m-9 0h0m-16 0h0m-3 0h0m-1 1h0m14 0h0m5 0h0m5 0h0m8 0h0m3 0h0m8 0h0m7 0h0m2 0h0m2 0h0m11 0h0m-12 1h0m-6 0h0m-13 0h0m-10 0h0m-6 0h0m-4 0h0m-1 0h0m-21 0h0m4 1h0m3 0h0m1 0h0m2 0h0m26 0h0m1 0h0m1 0h0m1 0h0m5 0h0m5 0h0m12 0h0m-1 1h0m-4 0h0m-3 0h0m-8 0h0m-11 0h0m-6 0h0m-3 0h0m-8 0h0m-4 0h0m-1 0h0m-5 0h0m-2 0h0m-4 0h0m-2 0h0m-1 0h0m8 1h0m2 0h0m3 0h0m13 0h0m10 0h0m1 0h0m3 0h0m7 0h0m2 0h0m10 0h0m8 1h0m-8 0h0m-4 0h0m-5 0h0m-12 0h0m-1 0h0m-1 0h0m-3 0h0m-1 0h0m-11 0h0m-7 0h0m-6 0h0m14 1h0m3 0h0m7 0h0m8 0h0m2 0h0m2 0h0m5 0h0m5 0h0m4 0h0m1 0h0m5 0h0m-9 1h0m-22 0h0m-7 0h0m-5 0h0m-21 1h0m13 0h0m2 0h0m3 0h0m11 0h0m3 0h0m1 0h0m10 0h0m2 0h0m15 0h0m1 1h0m-8 0h0m-12 0h0m-2 0h0m-14 0h0m-7 0h0m-6 0h0m-9 0h0m3 1h0m1 0h0m9 0h0m4 0h0m5 0h0m6 0h0m3 0h0m2 0h0m1 0h0m8 0h0m2 0h0m4 0h0m6 0h0m5 0h0m-23 1h0m-4 0h0m-6 0h0m-5 0h0m-5 0h0m-6 0h0m-14 0h0m5 1h0m1 0h0m1 0h0m4 0h0m2 0h0m7 0h0m8 0h0m28 0h0m-5 1h0m-1 0h0m-14 0h0m-12 0h0m-3 0h0m-1 0h0m-5 0h0m-6 0h0m-5 1h0m4 0h0m1 0h0m22 0h0m4 0h0m12 0h0m4 0h0m5 0h0m3 0h0m-8 1h0m-3 0h0m-1 0h0m-1 0h0m-4 0h0m-1 0h0m-14 0h0m-9 0h0m-2 0h0m-11 1h0m2 0h0m11 0h0m4 0h0m16 0h0m5 0h0m7 0h0m-10 1h0m-3 0h0m-3 0h0m-5 0h0m-6 0h0m-16 0h0m-3 0h0m-2 1h0m2 0h0m3 0h0m7 0h0m4 0h0m1 0h0m2 0h0m8 0h0m3 0h0m2 0h0m5 0h0m1 0h0m1 0h0m2 1h0m-15 0h0m-23 0h0m-7 1h0m8 0h0m10 0h0m10 0h0m1 0h0m14 0h0m1 0h0m6 0h0m2 0h0m-17 1h0m-8 0h0m-12 0h0m-6 0h0m-1 0h0m-2 0h0m-6 0h0m1 1h0m3 0h0m6 0h0m5 0h0m2 0h0m4 0h0m2 0h0m1 0h0m1 0h0m2 0h0m1 0h0m6 0h0m3 0h0m11 0h0m-4 1h0m-12 0h0m-4 0h0m-3 0h0m-3 0h0m-5 0h0m-7 0h0m-16 1h0m7 0h0m2 0h0m6 0h0m10 0h0m3 0h0m7 0h0m11 0h0m-20 1h0m-8 0h0m-1 0h0m-2 0h0m-20 1h0m3 0h0m2 0h0m3 0h0m1 0h0m13 0h0m9 0h0m5 0h0m14 0h0m4 1h0m-8 0h0m-7 0h0m-6 0h0m-2 0h0m-5 0h0m-11 0h0m-5 0h0m-8 0h0m17 1h0m7 0h0m2 0h0m19 1h0m-18 0h0m-15 0h0m-6 0h0m-2 0h0m-3 1h0m4 0h0m2 0h0m1 0h0m4 0h0m8 0h0m1 0h0m5 0h0m5 0h0m1 0h0m4 0h0m1 0h0m5 0h0m2 0h0m4 1h0m-5 0h0m-3 0h0m-8 0h0m-3 0h0m-1 0h0m-1 0h0m-1 0h0m-1 0h0m-8 0h0m-2 0h0m-1 0h0m-1 0h0m-13 1h0m1 0h0m13 0h0m1 0h0m14 0h0m6 0h0m5 0h0m3 0h0m5 1h0m-4 0h0m-1 0h0m-9 0h0m-10 0h0m-4 0h0m-7 0h0m-2 0h0m-3 0h0m-5 0h0m-2 0h0m-2 0h0m-2 0h0m5 1h0m2 0h0m4 0h0m10 0h0m7 0h0m1 0h0m14 0h0m1 0h0m3 0h0m-2 1h0m-2 0h0m-19 0h0m-16 0h0m-7 1h0m10 0h0m2 0h0m5 0h0m20 0h0m18 0h0m-13 1h0m-9 0h0m-6 0h0m-1 0h0m-8 0h0m-5 0h0m-2 0h0m-9 1h0m1 0h0m21 0h0m2 0h0m14 0h0m3 1h0m-12 0h0m-2 0h0m-3 0h0m-10 0h0m-11 0h0m-3 0h0m-4 0h0m0 1h0m2 0h0m3 0h0m2 0h0m1 0h0m31 0h0m-4 1h0m-3 0h0m-3 0h0m-8 0h0m-6 0h0m-6 0h0m-11 1h0m12 0h0m8 0h0m5 0h0m4 0h0m1 0h0m3 0h0m3 0h0m-5 1h0m-2 0h0m-5 0h0m-4 0h0m-6 0h0m-14 0h0m-4 0h0m9 1h0m6 0h0m3 0h0m1 0h0m9 0h0m15 0h0m1 0h0m-1 1h0m-5 0h0m-1 0h0m-7 0h0m-8 0h0m-5 0h0m-7 0h0m-1 0h0m-6 1h0m2 0h0m1 0h0m6 0h0m6 0h0m1 0h0m2 0h0m3 0h0m1 0h0m7 0h0m3 0h0m-5 1h0m-4 0h0m-6 0h0m-5 0h0m-1 0h0m-3 0h0m-3 0h0m-11 1h0m16 0h0m8 0h0m3 0h0m7 0h0m10 0h0m-4 1h0m-2 0h0m-6 0h0m-6 0h0m-16 0h0m-5 0h0m9 1h0m2 0h0m1 0h0m11 0h0m6 0h0m8 0h0m-11 1h0m-5 0h0m-5 0h0m-4 0h0m-1 0h0m-4 0h0m-3 0h0m-2 1h0m2 0h0m1 0h0m12 0h0m5 0h0m5 0h0m7 0h0m-4 1h0m-1 0h0m-20 0h0m-1 0h0m-4 0h0m-2 0h0m0 1h0m1 0h0m10 0h0m7 0h0m3 0h0m3 0h0m2 0h0m2 0h0m-4 1h0m-11 0h0m-9 1h0m3 0h0m5 0h0m13 0h0m-3 1h0m-7 0h0m-2 0h0m-4 0h0m-2 0h0m-1 0h0m5 1h0m2 0h0m7 1h0m-6 0h0m-3 0h0m-2 0h0m-1 0h0m-10 0h0m-2 1h0m4 0h0m1 0h0m5 0h0m1 0h0m1 0h0m2 0h0m4 0h0m4 0h0m3 0h0m1 0h0m-8 1h0m-1 0h0m-4 0h0m-4 0h0m-1 0h0m1 1h0m2 0h0m2 0h0m4 0h0m7 1h0m-12 0h0m-5 1h0m2 0h0m3 0h0m2 0h0m1 0h0m4 0h0m1 0h0m-7 1h0m16 1h0m-16 1h0m-9 0h0m3 1h0m12 0h0m-12 1h0m13 2h0m-13 1h0m2 0h0m6 1h0m1 1h0m2 0h0m-1 1h0m-6 0h0m-1 0h0m-7 1h0m7 0h0m4 0h0m1 0h0m5 0h0m-12 1h0m-3 1h0m1 0h0m7 0h0m2 0h0m2 0h0m17 0h0m-17 1h0m-10 3h0m1 0h0m7 1h0m-12 0h0m-3 0h0m-22 0h0m26 1h0m3 0h0m-49 2h0m68 0h0m4 1h0m-15 0h0m-6 0h0m-14 0h0m23 2h0m-6 2h0m-3 0h0m-2 0h0m-4 1h0m5 1h0m-5 0h0m8 1h0m6 0h0m-9 1h0m0 1h0m2 0h0m7 1h0m-2 0h0m-16 0h0m7 1h0m11 1h0m-9 1h0m3 0h0m3 1h0m-2 0h0m-9 3h0m10 2h0m-6 2h0m2 1h0m-1 1h0m5 0h0m6 0h0m-7 1h0m-5 0h0m4 1h0"/><path stroke="#db8edc" d="M486 79h0m12 8h0m-13 2h0m-21 0h0m15 1h0m-1 1h0m-15 1h0m11 0h0m2 0h0m3 0h0m8 0h0m19 0h0m-3 1h0m-28 0h0m-14 0h0m13 1h0m10 0h0m3 0h0m10 0h0m2 0h0m4 1h0m-10 0h0m-6 0h0m-5 0h0m-4 0h0m-14 0h0m-6 0h0m-3 1h0m32 0h0m6 0h0m1 0h0m4 0h0m-2 1h0m-6 0h0m-11 0h0m-7 0h0m-2 0h0m-2 0h0m-6 0h0m-10 0h0m2 1h0m1 0h0m11 0h0m7 0h0m11 0h0m16 1h0m-2 0h0m-30 0h0m-10 0h0m-4 0h0m-12 1h0m12 0h0m5 0h0m26 0h0m3 0h0m17 1h0m-6 0h0m-6 0h0m-24 0h0m-15 0h0m-2 0h0m-10 0h0m19 1h0m4 0h0m3 0h0m6 0h0m14 0h0m5 0h0m1 0h0m4 0h0m10 0h0m-1 1h0m-10 0h0m-1 0h0m-2 0h0m-1 0h0m-5 0h0m-17 0h0m-19 0h0m-3 0h0m-6 0h0m5 1h0m1 0h0m16 0h0m7 0h0m2 0h0m2 0h0m2 0h0m3 0h0m5 0h0m4 0h0m3 0h0m6 0h0m1 0h0m10 1h0m-13 0h0m-3 0h0m-4 0h0m-4 0h0m-6 0h0m-6 0h0m-15 0h0m-6 0h0m-15 1h0m2 0h0m7 0h0m1 0h0m12 0h0m5 0h0m10 0h0m2 0h0m3 0h0m1 0h0m7 0h0m2 0h0m14 0h0m1 0h0m1 0h0m3 1h0m-3 0h0m-8 0h0m-15 0h0m-7 0h0m-4 0h0m-2 0h0m-10 0h0m-8 0h0m-8 0h0m-2 0h0m-2 0h0m-3 1h0m4 0h0m1 0h0m10 0h0m5 0h0m2 0h0m9 0h0m11 0h0m7 0h0m5 0h0m20 1h0m-15 0h0m-10 0h0m-15 0h0m-14 0h0m-2 0h0m-2 0h0m-1 0h0m-8 0h0m-8 0h0m11 1h0m18 0h0m6 0h0m2 0h0m1 0h0m4 0h0m7 0h0m10 0h0m10 0h0m4 0h0m-1 1h0m-13 0h0m-14 0h0m-11 0h0m-14 0h0m-1 0h0m-2 0h0m-1 0h0m-2 0h0m-7 0h0m-7 0h0m-6 0h0m8 1h0m2 0h0m2 0h0m5 0h0m1 0h0m7 0h0m7 0h0m2 0h0m4 0h0m1 0h0m5 0h0m2 0h0m8 0h0m1 0h0m1 0h0m11 0h0m8 0h0m1 0h0m7 1h0m-7 0h0m-5 0h0m-15 0h0m-12 0h0m-6 0h0m-12 0h0m-21 0h0m4 1h0m12 0h0m7 0h0m1 0h0m7 0h0m4 0h0m5 0h0m1 0h0m1 0h0m2 0h0m4 0h0m5 0h0m7 0h0m5 0h0m5 0h0m1 0h0m1 0h0m3 0h0m7 0h0m-3 1h0m-4 0h0m-2 0h0m-3 0h0m-8 0h0m-14 0h0m-6 0h0m-10 0h0m-5 0h0m-11 0h0m-15 1h0m1 0h0m15 0h0m4 0h0m30 0h0m9 0h0m7 0h0m2 0h0m1 0h0m5 1h0m-2 0h0m-5 0h0m-2 0h0m-5 0h0m-16 0h0m-8 0h0m-8 0h0m-17 1h0m2 0h0m1 0h0m20 0h0m4 0h0m4 0h0m2 0h0m11 0h0m6 0h0m2 0h0m8 0h0m0 1h0m-5 0h0m-4 0h0m-3 0h0m-15 0h0m-3 0h0m-5 0h0m-19 0h0m-4 0h0m-1 0h0m-9 0h0m6 1h0m44 0h0m6 0h0m14 0h0m5 0h0m-16 1h0m-6 0h0m-12 0h0m-1 0h0m-6 0h0m-2 0h0m-2 0h0m-7 0h0m-13 0h0m-8 0h0m-1 0h0m5 1h0m3 0h0m3 0h0m3 0h0m10 0h0m9 0h0m15 0h0m1 0h0m2 0h0m1 0h0m3 0h0m10 0h0m7 0h0m-1 1h0m-3 0h0m-1 0h0m-3 0h0m-9 0h0m-4 0h0m-1 0h0m-8 0h0m-8 0h0m-5 0h0m-7 0h0m-1 0h0m-4 0h0m-11 0h0m-2 0h0m-2 0h0m-4 1h0m3 0h0m3 0h0m2 0h0m1 0h0m4 0h0m4 0h0m9 0h0m1 0h0m2 0h0m2 0h0m1 0h0m3 0h0m6 0h0m6 0h0m3 0h0m32 0h0m-9 1h0m-16 0h0m-2 0h0m-5 0h0m-7 0h0m-5 0h0m-12 0h0m-2 0h0m-5 0h0m-10 0h0m-6 1h0m10 0h0m4 0h0m15 0h0m10 0h0m7 0h0m12 0h0m5 0h0m5 0h0m1 0h0m-36 1h0m-3 0h0m-5 0h0m-1 0h0m-14 0h0m-9 0h0m-1 0h0m-2 0h0m-2 0h0m2 1h0m5 0h0m7 0h0m2 0h0m5 0h0m6 0h0m3 0h0m3 0h0m2 0h0m15 0h0m5 0h0m1 0h0m2 0h0m8 0h0m9 0h0m-5 1h0m-1 0h0m-1 0h0m-10 0h0m-4 0h0m-7 0h0m-2 0h0m-33 0h0m-4 0h0m-3 1h0m3 0h0m6 0h0m25 0h0m4 0h0m1 0h0m4 0h0m1 0h0m5 0h0m2 0h0m1 0h0m1 0h0m1 0h0m1 0h0m1 0h0m2 0h0m2 0h0m1 0h0m3 0h0m2 1h0m-4 0h0m-3 0h0m-43 0h0m-6 0h0m-3 0h0m-2 1h0m2 0h0m1 0h0m2 0h0m3 0h0m9 0h0m14 0h0m3 0h0m8 0h0m4 0h0m2 0h0m4 0h0m11 0h0m-12 1h0m-2 0h0m-2 0h0m-1 0h0m-3 0h0m-13 0h0m-7 0h0m-4 0h0m-5 0h0m-19 1h0m1 0h0m4 0h0m2 0h0m1 0h0m4 0h0m1 0h0m9 0h0m5 0h0m14 0h0m5 0h0m5 0h0m1 0h0m9 1h0m-3 0h0m-6 0h0m-3 0h0m-4 0h0m-25 0h0m-11 0h0m-8 1h0m1 0h0m5 0h0m2 0h0m13 0h0m3 0h0m5 0h0m1 0h0m2 0h0m8 0h0m4 0h0m3 0h0m5 0h0m2 1h0m-8 0h0m-1 0h0m-32 0h0m-10 0h0m-1 1h0m20 0h0m6 0h0m1 0h0m3 0h0m7 0h0m1 0h0m8 0h0m7 0h0m0 1h0m-9 0h0m-7 0h0m-1 0h0m-13 0h0m-6 0h0m-1 0h0m-6 0h0m-4 0h0m-3 0h0m-6 0h0m3 1h0m15 0h0m1 0h0m11 0h0m2 0h0m6 0h0m3 0h0m2 0h0m17 0h0m-13 1h0m-8 0h0m-2 0h0m-3 0h0m-14 0h0m-14 0h0m-1 0h0m-2 0h0m30 1h0m5 0h0m4 0h0m6 0h0m3 0h0m1 0h0m-1 1h0m-28 0h0m-2 0h0m-4 0h0m-14 0h0m-2 0h0m6 1h0m5 0h0m3 0h0m10 0h0m2 0h0m2 0h0m14 0h0m6 0h0m1 0h0m2 0h0m3 1h0m-2 0h0m-6 0h0m-1 0h0m-1 0h0m-2 0h0m-4 0h0m-3 0h0m-1 0h0m-9 0h0m-2 0h0m-8 0h0m-2 0h0m-4 0h0m-3 0h0m-7 1h0m10 0h0m3 0h0m3 0h0m6 0h0m4 0h0m8 0h0m10 0h0m3 0h0m1 0h0m2 0h0m2 0h0m2 1h0m-9 0h0m-8 0h0m-4 0h0m-20 0h0m-2 0h0m-1 0h0m-2 0h0m-8 0h0m-1 0h0m8 1h0m13 0h0m11 0h0m4 0h0m8 0h0m3 0h0m2 0h0m9 1h0m-6 0h0m-12 0h0m-2 0h0m-15 0h0m-6 0h0m-3 0h0m-7 1h0m9 0h0m5 0h0m2 0h0m6 0h0m13 0h0m8 1h0m-2 0h0m-12 0h0m-5 0h0m4 1h0m-3 1h0m-1 0h0m17 2h0m-29 1h0m8 1h0m-18 1h0m9 0h0m33 0h0m9 1h0m-40 1h0m-7 2h0m35 0h0m-18 2h0"/><path stroke="#f86b4f" d="M486 34h0m-2 1h0m9 1h0m-2 1h0m-9 0h0m-2 1h0m15 1h0m-7 0h0m5 1h0m4 1h0m-2 0h0m-5 0h0m-2 0h0m-6 1h0m14 0h0m-14 1h0m-1 1h0m7 0h0m2 0h0m3 0h0m2 0h0m0 1h0m-4 0h0m-2 0h0m-4 0h0m-3 1h0m2 0h0m2 0h0m4 0h0m2 0h0m-2 1h0m-2 0h0m-8 0h0m-2 0h0m-3 0h0m2 1h0m3 0h0m1 0h0m3 0h0m7 0h0m2 0h0m0 1h0m-22 1h0m3 0h0m18 0h0m0 1h0m-10 0h0m-7 0h0m-3 1h0m2 0h0m1 0h0m1 0h0m4 0h0m1 0h0m4 0h0m2 0h0m9 0h0m-23 1h0m3 1h0m7 0h0m6 0h0m-11 1h0m-2 1h0m2 0h0m5 0h0m3 0h0m3 0h0m3 0h0m1 0h0m1 0h0m2 1h0m-6 0h0m-9 0h0m-3 0h0m-3 0h0m6 1h0m2 0h0m4 0h0m7 0h0m2 1h0m-12 0h0m-3 0h0m-4 0h0m-7 0h0m1 1h0m3 0h0m6 0h0m1 0h0m7 0h0m2 0h0m-2 1h0m-1 0h0m-4 0h0m-7 1h0m16 0h0m4 0h0m-2 1h0m-5 0h0m-2 0h0m-10 0h0m-5 0h0m21 2h0m-1 0h0m-11 0h0m-12 0h0m-1 0h0m2 1h0m5 0h0m5 0h0m1 0h0m3 0h0m5 0h0m-7 1h0m-23 0h0m-6 0h0m-4 0h0m-1 1h0m9 0h0m4 0h0m6 0h0m7 0h0m3 0h0m2 0h0m13 0h0m-3 1h0m-1 0h0m-15 0h0m-3 0h0m-3 0h0m-4 1h0m11 0h0m14 0h0m1 0h0m1 0h0m4 1h0m-5 0h0m-9 0h0m-6 0h0m-9 0h0m-1 0h0m-1 0h0m-4 0h0m-10 0h0m-3 0h0m-2 0h0m33 1h0m8 0h0m1 0h0m7 0h0m1 1h0m-11 0h0m-6 0h0m-4 0h0m-8 0h0m-24 0h0m24 1h0m1 0h0m6 0h0m7 0h0m15 1h0m-33 0h0m-6 0h0m-8 0h0m3 1h0m9 0h0m2 0h0m1 0h0m13 0h0m1 0h0m3 0h0m4 0h0m1 0h0m9 0h0m-5 1h0m-7 0h0m-11 0h0m-7 0h0m-2 0h0m-2 0h0m-5 0h0m-2 0h0m-1 0h0m13 1h0m3 0h0m13 0h0m1 0h0m2 0h0m1 0h0m5 0h0m3 0h0m3 0h0m-1 1h0m-9 0h0m-2 0h0m-8 0h0m-10 0h0m-6 0h0m-4 0h0m-3 0h0m-1 1h0m8 0h0m7 0h0m1 0h0m1 0h0m6 0h0m10 0h0m1 0h0m1 0h0m2 0h0m-2 1h0m-13 0h0m-4 0h0m-11 0h0m-3 1h0m15 0h0m3 0h0m8 0h0m8 0h0m2 1h0m-12 0h0m-4 0h0m-6 0h0m-8 0h0m-4 0h0m-7 1h0m4 0h0m1 0h0m2 0h0m6 0h0m2 0h0m3 0h0m1 0h0m2 0h0m7 0h0m7 1h0m-11 0h0m-2 0h0m-3 0h0m-9 0h0m-12 1h0m13 0h0m6 0h0m1 0h0m6 0h0m6 0h0m2 0h0m10 0h0m-6 1h0m-7 0h0m-6 0h0m-1 0h0m-1 0h0m-9 0h0m-1 0h0m-11 1h0m23 0h0m12 1h0m-29 0h0m-9 0h0m-2 1h0m7 0h0m2 0h0m3 0h0m3 0h0m3 0h0m7 0h0m1 0h0m7 0h0m-8 1h0m-2 0h0m-21 0h0m-2 0h0m4 1h0m2 0h0m19 0h0m7 0h0m-4 1h0m-11 0h0m-13 0h0m-6 0h0m3 1h0m37 0h0m-39 1h0m2 1h0m10 0h0"/><path stroke="#e8900d" d="M539 31h0m-3 0h0m-8 1h0m5 0h0m5 1h0m-7 0h0m-1 0h0m1 1h0m1 0h0m4 1h0m-1 1h0m2 0h0m1 0h0m-5 1h0m-20 0h0m12 1h0m2 0h0m-2 1h0m8 1h0m4 0h0m5 0h0m-2 1h0m-12 0h0m-1 0h0m-11 1h0m3 0h0m1 0h0m12 0h0m7 0h0m-1 1h0m-8 0h0m-2 0h0m-1 0h0m-4 0h0m-4 0h0m-14 1h0m25 0h0m9 0h0m0 1h0m-1 0h0m-7 0h0m-2 0h0m-2 0h0m-17 0h0m-1 1h0m7 0h0m5 0h0m6 0h0m4 0h0m4 0h0m2 0h0m7 0h0m2 0h0m-4 1h0m-12 0h0m-3 0h0m-14 0h0m-8 1h0m2 0h0m16 0h0m15 0h0m3 1h0m-2 0h0m-12 0h0m-25 1h0m26 0h0m5 0h0m3 0h0m5 0h0m-4 1h0m-35 1h0m15 0h0m7 0h0m6 0h0m1 0h0m10 1h0m-1 0h0m-1 0h0m-5 0h0m-2 0h0m-2 0h0m-4 0h0m-6 0h0m-3 0h0m-20 1h0m28 0h0m1 0h0m6 0h0m2 0h0m3 0h0m7 1h0m-1 0h0m-10 0h0m-6 0h0m-2 0h0m-5 0h0m-7 0h0m-10 0h0m-7 1h0m2 0h0m1 0h0m1 0h0m24 0h0m12 0h0m2 0h0m0 1h0m-11 0h0m-5 0h0m-23 0h0m25 1h0m5 0h0m11 1h0m-6 0h0m-12 0h0m-6 0h0m-8 0h0m-5 0h0m-11 0h0m5 1h0m2 0h0m4 0h0m16 0h0m5 0h0m2 0h0m13 0h0m-1 1h0m-1 0h0m-6 0h0m-5 0h0m-3 0h0m-5 0h0m-1 0h0m-17 0h0m14 1h0m9 0h0m2 0h0m1 0h0m2 0h0m1 0h0m3 0h0m2 0h0m4 1h0m-4 0h0m-28 1h0m23 0h0m6 0h0m-15 1h0m-15 0h0m21 1h0m2 0h0m5 0h0m3 0h0m-4 1h0m-6 0h0m-1 0h0m-1 0h0m-9 0h0m-17 1h0m5 0h0m4 0h0m16 0h0m4 0h0m1 0h0m3 0h0m4 0h0m3 1h0m-5 0h0m-11 0h0m-6 0h0m-4 0h0m-4 0h0m-12 1h0m11 0h0m13 0h0m11 0h0m2 0h0m4 1h0m-4 0h0m-1 0h0m-2 0h0m-1 0h0m-18 0h0m-2 0h0m-12 1h0m4 0h0m5 0h0m18 0h0m10 0h0m3 0h0m-12 1h0m-1 0h0m-5 0h0m-6 0h0m-2 0h0m2 1h0m3 0h0m2 0h0m8 0h0m2 0h0m8 0h0m1 1h0m-14 0h0m-9 0h0m-1 0h0m-2 0h0m-1 0h0m-15 0h0m4 1h0m17 0h0m17 0h0m-2 1h0m-6 0h0m-10 0h0m-19 0h0m4 1h0m3 0h0m13 0h0m6 0h0m2 0h0m11 1h0m-4 0h0m-4 0h0m-9 0h0m-8 0h0m-6 0h0m-4 0h0m-3 1h0m2 0h0m10 0h0m3 0h0m5 0h0m16 0h0m-14 1h0m-3 0h0m-4 0h0m-5 0h0m-11 0h0m3 1h0m15 0h0m8 0h0m13 1h0m-8 0h0m-3 0h0m-21 0h0m-5 0h0m-1 0h0m-3 1h0m4 0h0m4 0h0m4 0h0m2 0h0m6 0h0m7 0h0m8 0h0m5 1h0m-4 0h0m-30 0h0m-3 1h0m2 0h0m22 0h0m4 0h0m6 0h0m-1 1h0m-5 0h0m-5 0h0m-5 0h0m-8 0h0m-12 0h0m13 1h0m6 0h0m9 0h0m12 0h0m-4 1h0m-2 0h0m-1 0h0m-3 0h0m-2 0h0m-6 0h0m-10 0h0m-7 0h0m-4 0h0m-2 0h0m2 1h0m13 0h0m4 0h0m19 0h0m-4 1h0m-2 0h0m-3 0h0m-4 0h0m-18 1h0m7 0h0m16 0h0m7 0h0m3 0h0m-4 1h0m-10 0h0m-1 0h0m-7 0h0m-7 0h0m-9 0h0m-1 1h0m10 0h0m16 0h0m2 0h0m-13 1h0m-8 0h0m-8 0h0m4 1h0m20 0h0m6 0h0m-28 1h0m-2 1h0m5 0h0m6 0h0m11 0h0m15 1h0m-3 0h0m-5 0h0m-3 0h0m-2 0h0m-20 0h0m-2 0h0m13 1h0m6 0h0m12 0h0m2 0h0m2 0h0m-1 1h0m-2 0h0m-8 0h0m-1 0h0m-3 0h0m-9 0h0m-7 0h0m3 1h0m1 0h0m12 0h0m5 0h0m7 0h0m-13 1h0m-4 1h0m5 0h0m2 0h0m2 1h0m-21 1h0m13 0h0m2 0h0m3 1h0m3 3h0m-34 57h0"/><path stroke="#d3950f" d="M648 128h0m-26 3h0m14 1h0m14 1h0m-7 0h0m-5 1h0m-4 1h0m4 1h0m5 1h0m-3 0h0m-3 0h0m-2 1h0m4 0h0m1 0h0m3 0h0m-2 1h0m-9 0h0m-3 0h0m12 1h0m-7 1h0m3 1h0m6 0h0m-1 1h0m-1 0h0m-6 0h0m-2 0h0m10 2h0m-2 0h0m-4 2h0m-1 0h0m-18 1h0m18 0h0m6 0h0m-4 3h0m-1 0h0m-4 1h0m2 0h0m1 0h0m3 1h0m-5 0h0m-3 0h0m1 1h0m4 1h0m-25 1h0m23 2h0m6 0h0m-4 8h0m2 3h0m-1 1h0m-4 2h0m12 3h0m-32 1h0"/><path stroke="#4c8fd2" d="M642 193h0m7 4h0m-1 3h0m3 0h0m2 0h0m-15 2h0m13 0h0m8 0h0m-3 1h0m-8 0h0m-5 0h0m-2 0h0m-1 1h0m1 0h0m15 0h0m1 1h0m-1 0h0m-4 0h0m-7 0h0m-5 0h0m-13 0h0m22 1h0m3 0h0m4 0h0m3 1h0m-8 0h0m-1 0h0m-1 0h0m-4 0h0m-3 0h0m-8 0h0m-4 0h0m13 1h0m1 0h0m5 0h0m2 0h0m7 0h0m-11 1h0m-14 0h0m-3 1h0m2 0h0m1 0h0m4 0h0m6 0h0m13 0h0m6 1h0m-3 0h0m-1 0h0m-1 0h0m-6 0h0m-1 0h0m-3 0h0m-1 0h0m-1 0h0m-11 0h0m-3 1h0m11 0h0m2 0h0m1 0h0m2 0h0m4 0h0m2 0h0m3 0h0m2 0h0m-11 1h0m-2 0h0m-4 0h0m-4 0h0m-7 0h0m-8 0h0m9 1h0m7 0h0m5 0h0m9 0h0m2 0h0m3 0h0m2 0h0m1 0h0m1 0h0m-19 1h0m-5 0h0m-12 1h0m15 0h0m2 0h0m6 0h0m6 0h0m12 0h0m2 0h0m-4 1h0m-3 0h0m-4 0h0m-2 0h0m-5 0h0m-6 0h0m-14 0h0m2 1h0m3 0h0m1 0h0m2 0h0m1 0h0m17 0h0m1 0h0m6 0h0m6 0h0m-10 1h0m-1 0h0m-3 0h0m-4 0h0m-7 0h0m-2 0h0m-12 0h0m3 1h0m3 0h0m14 0h0m4 0h0m1 0h0m5 0h0m6 0h0m0 1h0m-1 0h0m-8 0h0m-7 0h0m-8 0h0m-1 0h0m-3 0h0m-6 1h0m2 0h0m1 0h0m1 0h0m1 0h0m1 0h0m2 0h0m5 0h0m1 0h0m2 0h0m4 0h0m7 0h0m4 1h0m-5 0h0m-2 0h0m-5 0h0m-2 0h0m-6 0h0m-10 1h0m10 0h0m13 0h0m6 0h0m1 0h0m1 0h0m1 0h0m-2 1h0m-7 0h0m-3 0h0m-1 0h0m-2 0h0m-2 0h0m-3 0h0m-11 0h0m-4 0h0m8 1h0m6 0h0m2 0h0m4 0h0m1 0h0m3 0h0m3 0h0m4 0h0m5 1h0m-3 0h0m-10 0h0m-10 0h0m-6 0h0m-1 0h0m-1 1h0m1 0h0m1 0h0m10 0h0m6 0h0m2 0h0m6 0h0m-6 1h0m-1 0h0m-4 0h0m-2 0h0m-2 0h0m-3 0h0m-10 0h0m-2 0h0m16 1h0m1 0h0m17 0h0m-10 1h0m-2 0h0m-1 0h0m-7 0h0m1 2h0m-13 4h0"/><path stroke="#6dc36b" d="M588 216h0m21 5h0m-39 0h0m14 6h0m13 2h0m0 3h0m4 0h0m3 1h0m-55 1h0m47 0h0m3 0h0m9 1h0m-8 0h0m-34 1h0m34 1h0m-1 0h0m-2 0h0m-32 0h0m-13 1h0m51 0h0m5 0h0m3 0h0m-2 1h0m-5 0h0m-1 0h0m4 1h0m0 1h0m-3 0h0m-36 0h0m41 2h0m-3 0h0m-1 0h0m-1 2h0m-5 0h0m6 1h0m2 0h0m-8 1h0m6 1h0m1 0h0m-5 2h0m3 0h0m3 0h0m2 0h0m6 1h0m-7 0h0m-53 0h0m48 1h0m1 0h0m4 0h0m2 1h0m-2 0h0m-3 1h0m6 0h0m2 0h0m-2 1h0m-4 0h0m-1 1h0m4 3h0m-1 1h0m-5 2h0"/><path stroke="#f9cb2f" d="M485 164h0m-13 1h0m-5 2h0m-3 0h0m14 1h0m5 0h0m1 1h0m-4 0h0m-9 0h0m-3 1h0m11 0h0m3 0h0m8 1h0m-1 0h0m-25 0h0m11 1h0m8 0h0m9 0h0m-9 1h0m-9 0h0m-14 0h0m2 1h0m3 0h0m3 0h0m6 0h0m3 0h0m-2 1h0m-7 0h0m-4 0h0m8 1h0m13 0h0m2 0h0m3 0h0m18 1h0m-27 0h0m-15 0h0m0 1h0m6 0h0m12 0h0m11 1h0m-8 0h0m-3 0h0m-2 0h0m-3 0h0m-14 0h0m1 1h0m4 0h0m2 0h0m9 0h0m5 0h0m18 1h0m-23 0h0m-17 0h0m-3 1h0m19 0h0m5 0h0m9 0h0m4 0h0m3 0h0m7 0h0m7 0h0m-15 1h0m-2 0h0m-13 0h0m-3 0h0m-15 0h0m-4 1h0m28 0h0m19 0h0m9 0h0m-7 1h0m-20 0h0m-8 0h0m-2 0h0m-4 0h0m-1 0h0m-5 0h0m-2 0h0m-5 0h0m5 1h0m3 0h0m21 0h0m4 0h0m11 0h0m5 0h0m-23 1h0m-15 0h0m-3 0h0m-5 0h0m14 1h0m16 0h0m6 0h0m9 0h0m2 0h0m5 0h0m-8 1h0m-9 0h0m-15 0h0m-15 0h0m-5 1h0m3 0h0m1 0h0m9 0h0m11 0h0m9 0h0m1 0h0m3 0h0m3 0h0m4 0h0m6 0h0m-8 1h0m-46 0h0m3 1h0m18 0h0m14 0h0m12 0h0m13 0h0m-55 1h0m0 1h0m64 0h0m-29 1h0m11 1h0m10 1h0m-14 0h0m-5 0h0m-11 0h0m-30 1h0m4 0h0m4 0h0m23 0h0m3 0h0m6 0h0m-8 1h0m-27 0h0m1 1h0m33 0h0m5 0h0m1 0h0m1 0h0m13 0h0m-19 1h0m-1 0h0m-3 0h0m-27 0h0m-5 0h0m0 1h0m32 0h0m6 0h0m1 0h0m9 0h0m8 0h0m-18 1h0m-38 0h0m1 1h0m40 1h0m0 2h0m-15 0h0m26 1h0m5 0h0m16 0h0m-25 1h0m-8 3h0m6 4h0m15 9h0m7 4h0m11 3h0"/><path stroke="#f2450d" d="M512 142h0m0 2h0m-8 2h0m11 0h0m4 0h0m-9 3h0m-2 0h0m-3 0h0m3 1h0m7 2h0m2 1h0m-7 0h0m1 1h0m-2 1h0m-1 0h0m-1 2h0m4 1h0m1 0h0m3 0h0m-3 1h0m-4 0h0m-6 0h0m3 1h0m8 1h0m-10 1h0m8 0h0m2 0h0m-6 1h0m4 1h0m2 0h0m-3 1h0m-5 0h0m3 2h0m-35 39h0m0 4h0m8 1h0m-3 1h0m3 0h0m6 0h0m4 1h0m-1 0h0m-16 1h0m13 0h0m8 0h0m4 0h0m-13 1h0m-6 0h0m-7 1h0m5 0h0m1 0h0m1 0h0m13 0h0m3 1h0m-6 0h0m-1 0h0m-3 0h0m-4 0h0m-5 0h0m-6 1h0m18 0h0m8 0h0m-1 1h0m-2 0h0m-18 1h0m1 0h0m2 0h0m2 0h0m4 0h0m2 0h0m1 0h0m16 0h0m6 0h0m-7 1h0m-9 0h0m-3 0h0m-3 0h0m-15 0h0m-2 0h0m-2 1h0m5 0h0m12 0h0m6 0h0m3 0h0m-10 1h0m-1 0h0m-7 0h0m-3 0h0m-6 0h0m21 1h0m8 0h0m4 0h0m0 1h0m-5 0h0m-4 0h0m-17 0h0m-2 0h0m-2 0h0m-2 0h0m24 1h0m2 0h0m4 0h0m3 0h0m-4 1h0m-18 0h0m-4 0h0m-7 0h0m16 1h0m2 0h0m14 0h0m2 0h0m2 1h0m-5 0h0m-12 0h0m-2 0h0m-3 0h0m-2 0h0m-3 0h0m6 1h0m3 0h0m30 0h0m-20 1h0m-20 0h0m0 1h0m1 0h0m3 0h0m10 0h0m7 0h0m3 0h0m5 1h0m-10 0h0m-23 0h0m3 1h0m9 0h0m3 0h0m3 0h0m8 0h0m2 0h0m-10 1h0m-12 1h0m7 0h0m20 0h0m-17 1h0m4 1h0m4 0h0m0 1h0m-6 0h0m-9 0h0m-14 0h0m20 1h0m5 0h0m3 0h0m-8 1h0m31 2h0m-26 0h0m32 1h0m-39 1h0"/><path stroke="#b0b0b2" d="M561 128h0m26 7h0m-10 0h0m-17 0h0m18 1h0m4 0h0m17 0h0m12 0h0m12 0h0m1 0h0m-11 1h0m-8 0h0m-5 0h0m-9 0h0m-15 0h0m-13 0h0m-3 0h0m-2 0h0m-5 1h0m20 0h0m27 0h0m5 0h0m4 0h0m3 0h0m1 0h0m3 0h0m-1 1h0m-4 0h0m-4 0h0m-8 0h0m-7 0h0m-13 0h0m-2 0h0m-23 0h0m1 1h0m1 0h0m11 0h0m5 0h0m3 0h0m1 0h0m1 0h0m2 0h0m7 0h0m1 0h0m1 0h0m1 0h0m12 0h0m1 0h0m1 0h0m4 0h0m1 0h0m4 0h0m10 0h0m-19 1h0m-1 0h0m-1 0h0m-10 0h0m-1 0h0m-3 0h0m-3 0h0m-4 0h0m-1 0h0m-5 0h0m-10 0h0m-1 0h0m-10 0h0m-5 0h0m16 1h0m1 0h0m7 0h0m3 0h0m4 0h0m6 0h0m3 0h0m1 0h0m2 0h0m6 0h0m5 0h0m1 0h0m4 0h0m5 0h0m2 0h0m2 1h0m-6 0h0m-2 0h0m-17 0h0m-3 0h0m-15 0h0m-5 0h0m-4 0h0m-2 0h0m-1 0h0m-15 1h0m3 0h0m7 0h0m6 0h0m14 0h0m2 0h0m2 0h0m16 0h0m1 0h0m14 0h0m4 0h0m5 0h0m-10 1h0m-2 0h0m-4 0h0m-3 0h0m-1 0h0m-5 0h0m-21 0h0m-18 0h0m-3 0h0m-1 0h0m-2 0h0m-7 1h0m8 0h0m6 0h0m4 0h0m5 0h0m1 0h0m1 0h0m1 0h0m1 0h0m1 0h0m4 0h0m9 0h0m1 0h0m2 0h0m6 0h0m11 0h0m1 0h0m17 0h0m1 0h0m5 1h0m-3 0h0m-6 0h0m-1 0h0m-2 0h0m-8 0h0m-8 0h0m-7 0h0m-4 0h0m-3 0h0m-8 0h0m-19 0h0m-10 0h0m-1 0h0m-3 0h0m-1 0h0m2 1h0m7 0h0m6 0h0m14 0h0m12 0h0m4 0h0m1 0h0m1 0h0m26 0h0m2 0h0m2 1h0m-6 0h0m-1 0h0m-6 0h0m-3 0h0m-5 0h0m-2 0h0m-10 0h0m-3 0h0m-4 0h0m-3 0h0m-11 0h0m-1 0h0m-3 0h0m-9 0h0m-1 0h0m-5 0h0m-7 1h0m3 0h0m1 0h0m4 0h0m1 0h0m2 0h0m7 0h0m2 0h0m1 0h0m10 0h0m20 0h0m3 0h0m2 0h0m6 0h0m3 0h0m3 0h0m16 0h0m0 1h0m-9 0h0m-1 0h0m-2 0h0m-2 0h0m-5 0h0m-8 0h0m-3 0h0m-2 0h0m-4 0h0m-4 0h0m-19 0h0m-2 0h0m-3 0h0m-17 0h0m-3 0h0m6 1h0m1 0h0m9 0h0m6 0h0m8 0h0m4 0h0m1 0h0m7 0h0m7 0h0m3 0h0m8 0h0m2 0h0m2 0h0m2 0h0m6 0h0m6 0h0m4 0h0m5 1h0m-19 0h0m-13 0h0m-9 0h0m-2 0h0m-2 0h0m-7 0h0m-10 0h0m-7 0h0m-2 0h0m-3 0h0m-7 0h0m-6 0h0m0 1h0m3 0h0m5 0h0m5 0h0m9 0h0m2 0h0m10 0h0m1 0h0m2 0h0m2 0h0m2 0h0m3 0h0m8 0h0m20 0h0m10 0h0m4 0h0m-4 1h0m-2 0h0m-2 0h0m-1 0h0m-8 0h0m-6 0h0m-4 0h0m-14 0h0m-14 0h0m-7 0h0m-6 0h0m-1 0h0m-3 0h0m-11 0h0m-5 0h0m2 1h0m1 0h0m6 0h0m9 0h0m6 0h0m5 0h0m11 0h0m11 0h0m1 0h0m4 0h0m1 0h0m11 0h0m1 0h0m2 0h0m8 0h0m4 0h0m3 1h0m-2 0h0m-1 0h0m-3 0h0m-1 0h0m-4 0h0m-2 0h0m-8 0h0m-1 0h0m-5 0h0m-5 0h0m-1 0h0m-7 0h0m-1 0h0m-7 0h0m-9 0h0m-4 0h0m-11 0h0m-9 0h0m-2 0h0m-3 1h0m1 0h0m7 0h0m23 0h0m1 0h0m8 0h0m1 0h0m1 0h0m2 0h0m6 0h0m9 0h0m6 0h0m3 0h0m4 0h0m2 0h0m4 0h0m1 0h0m4 0h0m4 1h0m-5 0h0m-3 0h0m-11 0h0m-3 0h0m-3 0h0m-2 0h0m-10 0h0m-1 0h0m-1 0h0m-5 0h0m-2 0h0m-1 0h0m-20 0h0m-1 0h0m-3 0h0m-1 0h0m-5 0h0m-10 0h0m2 1h0m2 0h0m4 0h0m8 0h0m1 0h0m1 0h0m10 0h0m1 0h0m12 0h0m12 0h0m4 0h0m5 0h0m11 0h0m14 0h0m2 0h0m-8 1h0m-10 0h0m-16 0h0m-1 0h0m-1 0h0m-1 0h0m-6 0h0m-19 0h0m-2 0h0m-1 0h0m-1 0h0m-5 0h0m-13 0h0m-3 0h0m-2 0h0m-5 1h0m5 0h0m1 0h0m3 0h0m1 0h0m8 0h0m1 0h0m1 0h0m2 0h0m2 0h0m3 0h0m3 0h0m15 0h0m1 0h0m8 0h0m5 0h0m1 0h0m6 0h0m4 0h0m1 0h0m8 0h0m5 0h0m1 1h0m-7 0h0m-1 0h0m-3 0h0m-3 0h0m-8 0h0m-1 0h0m-5 0h0m-5 0h0m-11 0h0m-11 0h0m-5 0h0m-2 0h0m-7 0h0m-1 0h0m-3 0h0m4 1h0m4 0h0m5 0h0m1 0h0m7 0h0m5 0h0m1 0h0m4 0h0m1 0h0m3 0h0m3 0h0m8 0h0m9 0h0m1 0h0m2 0h0m8 0h0m1 0h0m5 0h0m2 1h0m-5 0h0m-7 0h0m-13 0h0m-1 0h0m-2 0h0m-5 0h0m-6 0h0m-3 0h0m-14 0h0m-5 0h0m-6 0h0m-15 0h0m0 1h0m2 0h0m17 0h0m3 0h0m15 0h0m26 0h0m2 0h0m16 0h0m-12 1h0m-5 0h0m-2 0h0m-5 0h0m-1 0h0m-2 0h0m-4 0h0m-4 0h0m-3 0h0m-9 0h0m-1 0h0m-3 0h0m-3 0h0m-6 0h0m-1 0h0m-10 0h0m-1 0h0m-3 0h0m-11 0h0m-1 0h0m9 1h0m6 0h0m2 0h0m2 0h0m4 0h0m8 0h0m12 0h0m5 0h0m2 0h0m15 0h0m5 0h0m7 0h0m1 0h0m11 1h0m-4 0h0m-3 0h0m-8 0h0m-6 0h0m-7 0h0m-9 0h0m-12 0h0m-11 0h0m-6 0h0m-2 0h0m-11 0h0m-6 0h0m-1 0h0m-2 1h0m7 0h0m2 0h0m10 0h0m35 0h0m3 0h0m1 0h0m13 0h0m6 0h0m1 0h0m2 0h0m8 0h0m7 0h0m-4 1h0m-1 0h0m-1 0h0m-11 0h0m-6 0h0m-7 0h0m-6 0h0m-10 0h0m-1 0h0m-5 0h0m-8 0h0m-1 0h0m-1 0h0m-4 0h0m-15 0h0m-2 0h0m-3 0h0m-2 0h0m-5 0h0m-1 0h0m0 1h0m1 0h0m5 0h0m11 0h0m3 0h0m3 0h0m5 0h0m4 0h0m1 0h0m2 0h0m10 0h0m2 0h0m17 0h0m1 0h0m9 0h0m18 1h0m-4 0h0m-11 0h0m-10 0h0m-2 0h0m-14 0h0m-6 0h0m-12 0h0m-14 0h0m-10 0h0m-10 1h0m1 0h0m12 0h0m6 0h0m1 0h0m1 0h0m8 0h0m3 0h0m7 0h0m1 0h0m6 0h0m27 0h0m3 0h0m2 0h0m3 0h0m9 1h0m-3 0h0m-2 0h0m-19 0h0m-4 0h0m-2 0h0m-4 0h0m-16 0h0m-9 0h0m-3 0h0m-7 0h0m-2 0h0m-14 1h0m1 0h0m2 0h0m9 0h0m1 0h0m3 0h0m7 0h0m2 0h0m3 0h0m5 0h0m2 0h0m1 0h0m20 0h0m3 0h0m4 0h0m4 0h0m6 0h0m4 0h0m2 0h0m5 0h0m0 1h0m-1 0h0m-1 0h0m-8 0h0m-5 0h0m-2 0h0m-3 0h0m-2 0h0m-4 0h0m-1 0h0m-8 0h0m-18 0h0m-8 0h0m-2 0h0m-8 0h0m-2 0h0m-6 0h0m-4 0h0m-4 0h0m-3 1h0m1 0h0m6 0h0m3 0h0m2 0h0m1 0h0m4 0h0m10 0h0m3 0h0m4 0h0m3 0h0m2 0h0m2 0h0m1 0h0m9 0h0m4 0h0m3 0h0m24 0h0m4 1h0m-1 0h0m-1 0h0m-5 0h0m-10 0h0m-1 0h0m-4 0h0m-7 0h0m-14 0h0m-4 0h0m-2 0h0m-19 0h0m-1 0h0m-9 0h0m-3 1h0m2 0h0m10 0h0m1 0h0m2 0h0m11 0h0m3 0h0m31 0h0m6 0h0m1 0h0m20 0h0m-9 1h0m-9 0h0m-5 0h0m-1 0h0m-1 0h0m-10 0h0m-4 0h0m-4 0h0m-4 0h0m-12 0h0m-7 0h0m-2 0h0m-7 0h0m-5 0h0m-2 0h0m-10 0h0m-5 0h0m2 1h0m11 0h0m21 0h0m1 0h0m9 0h0m4 0h0m4 0h0m5 0h0m10 0h0m2 0h0m4 0h0m2 0h0m2 0h0m3 0h0m1 0h0m1 0h0m5 0h0m3 0h0m6 0h0m8 0h0m-13 1h0m-8 0h0m-3 0h0m-5 0h0m-9 0h0m-3 0h0m-1 0h0m-1 0h0m-9 0h0m-6 0h0m-7 0h0m-2 0h0m-10 0h0m-3 0h0m-1 0h0m-5 0h0m-16 1h0m7 0h0m8 0h0m1 0h0m7 0h0m1 0h0m15 0h0m16 0h0m2 0h0m6 0h0m1 0h0m5 0h0m8 0h0m13 1h0m-4 0h0m-9 0h0m-3 0h0m-6 0h0m-4 0h0m-3 0h0m-6 0h0m-2 0h0m-2 0h0m-6 0h0m-3 0h0m-1 0h0m-22 0h0m-5 0h0m-4 0h0m-8 0h0m-3 0h0m11 1h0m19 0h0m2 0h0m1 0h0m4 0h0m10 0h0m17 0h0m2 0h0m2 0h0m1 0h0m2 0h0m2 0h0m2 0h0m6 0h0m1 0h0m6 1h0m-1 0h0m-13 0h0m-6 0h0m-4 0h0m-11 0h0m-1 0h0m-4 0h0m-2 0h0m-1 0h0m-5 0h0m-1 0h0m-6 0h0m-2 0h0m-1 0h0m-11 0h0m-12 0h0m-1 0h0m-1 0h0m-1 0h0m-2 0h0m-2 0h0m-1 0h0m-3 1h0m4 0h0m10 0h0m5 0h0m3 0h0m4 0h0m4 0h0m2 0h0m4 0h0m7 0h0m1 0h0m2 0h0m5 0h0m8 0h0m6 0h0m5 0h0m3 0h0m1 0h0m9 0h0m4 0h0m7 0h0m4 1h0m-12 0h0m-1 0h0m-1 0h0m-2 0h0m-13 0h0m-3 0h0m-1 0h0m-5 0h0m-4 0h0m-12 0h0m-2 0h0m-3 0h0m-16 0h0m-10 0h0m-2 0h0m-3 0h0m3 1h0m2 0h0m15 0h0m9 0h0m9 0h0m1 0h0m2 0h0m12 0h0m12 0h0m6 0h0m2 0h0m9 0h0m-2 1h0m-3 0h0m-3 0h0m-2 0h0m-10 0h0m-11 0h0m-5 0h0m-3 0h0m-6 0h0m-13 0h0m-8 0h0m-15 0h0m-3 1h0m11 0h0m3 0h0m2 0h0m8 0h0m17 0h0m7 0h0m18 0h0m11 0h0m1 0h0m3 0h0m-2 1h0m-18 0h0m-3 0h0m-2 0h0m-1 0h0m-2 0h0m-3 0h0m-6 0h0m-15 0h0m-11 0h0m-1 0h0m-3 0h0m-17 1h0m2 0h0m10 0h0m5 0h0m11 0h0m11 0h0m2 0h0m2 0h0m10 0h0m1 0h0m3 0h0m15 0h0m10 0h0m11 0h0m-28 1h0m-4 0h0m-21 0h0m-3 0h0m-1 0h0m-1 0h0m-3 0h0m-12 0h0m-1 0h0m-5 0h0m-4 0h0m-3 0h0m-1 0h0m-4 0h0m-1 0h0m9 1h0m3 0h0m1 0h0m14 0h0m8 0h0m10 0h0m5 0h0m1 0h0m1 0h0m7 0h0m8 0h0m3 0h0m2 0h0m1 0h0m6 0h0m1 1h0m-1 0h0m-7 0h0m-15 0h0m-11 0h0m-1 0h0m-24 0h0m-2 0h0m-8 0h0m-8 1h0m2 0h0m6 0h0m2 0h0m1 0h0m10 0h0m3 0h0m4 0h0m1 0h0m3 0h0m6 0h0m13 0h0m3 0h0m2 0h0m8 0h0m10 0h0m5 0h0m1 0h0m-2 1h0m-4 0h0m-8 0h0m-5 0h0m-8 0h0m-10 0h0m-2 0h0m-2 0h0m-15 0h0m-14 0h0m-2 0h0m-6 0h0m-3 0h0m4 1h0m10 0h0m4 0h0m13 0h0m14 0h0m6 0h0m16 0h0m8 0h0m-1 1h0m-14 0h0m-2 0h0m-9 0h0m-5 0h0m-5 0h0m-3 0h0m-14 0h0m-7 0h0m-9 0h0m-1 0h0m-1 1h0m14 0h0m4 0h0m2 0h0m2 0h0m2 0h0m3 0h0m3 0h0m13 0h0m24 1h0m-3 0h0m-2 0h0m-1 0h0m-1 0h0m-8 0h0m-4 0h0m-1 0h0m-3 0h0m-3 0h0m-1 0h0m-1 0h0m-2 0h0m-2 0h0m-6 0h0m-4 0h0m-5 0h0m-4 0h0m-1 0h0m-5 0h0m-1 0h0m-1 0h0m-5 0h0m-1 1h0m8 0h0m11 0h0m3 0h0m4 0h0m10 0h0m1 0h0m7 0h0m13 0h0m3 0h0m4 0h0m3 0h0m1 0h0m-5 1h0m-8 0h0m-1 0h0m-5 0h0m-6 0h0m-1 0h0m-10 0h0m-21 0h0m-1 0h0m-3 0h0m-1 0h0m-1 0h0m-1 0h0m-1 0h0m-1 0h0m4 1h0m2 0h0m3 0h0m1 0h0m1 0h0m1 0h0m12 0h0m4 0h0m2 0h0m1 0h0m4 0h0m1 0h0m1 0h0m5 0h0m3 0h0m3 0h0m8 0h0m5 0h0m0 1h0m-2 0h0m-2 0h0m-5 0h0m-4 0h0m-1 0h0m-32 0h0m-2 0h0m-9 0h0m-2 0h0m-1 0h0m-5 0h0m2 1h0m1 0h0m8 0h0m3 0h0m3 0h0m2 0h0m4 0h0m7 0h0m1 0h0m1 0h0m6 0h0m14 0h0m1 0h0m3 0h0m3 0h0m2 0h0m4 0h0m-1 1h0m-2 0h0m-2 0h0m-14 0h0m-1 0h0m-7 0h0m-4 0h0m-17 0h0m-2 0h0m-10 1h0m1 0h0m1 0h0m11 0h0m2 0h0m1 0h0m9 0h0m4 0h0m2 0h0m7 0h0m3 0h0m2 0h0m7 0h0m4 0h0m1 0h0m0 1h0m-4 0h0m-2 0h0m-1 0h0m-20 0h0m-16 0h0m-6 0h0m11 1h0m3 0h0m1 0h0m3 0h0m21 0h0m1 0h0m1 0h0m5 0h0m5 1h0m-12 0h0m-6 0h0m-8 0h0m-1 0h0m-2 0h0m-3 0h0m-2 0h0m-1 0h0m-1 0h0m-15 1h0m3 0h0m2 0h0m11 0h0m7 0h0m5 0h0m4 0h0m28 1h0m-12 0h0m-7 0h0m-18 0h0m-3 0h0m-2 0h0m-1 0h0m-4 0h0m-9 0h0m-5 0h0m-2 0h0m5 1h0m9 0h0m2 0h0m2 0h0m3 0h0m14 0h0m10 0h0m2 1h0m-3 0h0m-4 0h0m-13 0h0m-7 0h0m-4 0h0m-5 0h0m-2 0h0m-10 1h0m2 0h0m12 0h0m1 0h0m8 0h0m3 0h0m1 0h0m9 0h0m-12 1h0m-3 0h0m-7 0h0m-6 0h0m7 1h0m16 0h0m-9 1h0m-1 0h0m-12 0h0m14 1h0m-15 1h0m7 1h0"/><path stroke="#ddb787" d="M612 93h0m-16 1h0m16 0h0m-5 1h0m-3 0h0m4 1h0m2 1h0m-2 0h0m-6 0h0m-6 0h0m1 1h0m27 1h0m-3 0h0m-1 0h0m-8 0h0m-2 0h0m-2 0h0m-2 0h0m-17 1h0m7 0h0m8 0h0m20 0h0m-3 1h0m-2 0h0m-1 0h0m-12 0h0m-12 0h0m-2 0h0m-2 0h0m-6 1h0m30 0h0m8 0h0m-4 1h0m-2 0h0m-19 0h0m-4 0h0m1 1h0m7 0h0m2 0h0m5 0h0m1 0h0m7 0h0m-1 1h0m-9 0h0m-4 0h0m-3 1h0m5 0h0m6 0h0m9 0h0m3 0h0m3 1h0m-13 0h0m-8 0h0m-25 1h0m5 0h0m5 0h0m4 0h0m1 0h0m1 0h0m3 0h0m9 0h0m5 0h0m1 0h0m6 0h0m4 0h0m1 1h0m-20 0h0m-1 0h0m-6 0h0m-5 0h0m-4 0h0m-9 1h0m16 0h0m9 0h0m9 0h0m5 0h0m7 0h0m1 0h0m-8 1h0m-5 0h0m-2 0h0m-7 0h0m-8 0h0m-10 0h0m-1 0h0m-1 0h0m-4 1h0m3 0h0m3 0h0m14 0h0m2 0h0m11 0h0m2 0h0m9 1h0m-7 0h0m-1 0h0m-4 0h0m-9 0h0m-3 0h0m-2 0h0m-14 0h0m-2 0h0m-9 1h0m9 0h0m8 0h0m16 0h0m4 0h0m1 0h0m8 0h0m4 0h0m5 0h0m-10 1h0m-1 0h0m-8 0h0m-1 0h0m-3 0h0m-1 0h0m-4 0h0m-3 0h0m-2 0h0m-1 0h0m-5 0h0m-16 1h0m13 0h0m5 0h0m8 0h0m1 0h0m1 0h0m1 0h0m1 0h0m1 0h0m8 0h0m9 0h0m7 0h0m1 1h0m-11 0h0m-1 0h0m-4 0h0m-1 0h0m-10 0h0m-14 0h0m-18 1h0m12 0h0m5 0h0m11 0h0m9 0h0m2 0h0m7 0h0m5 0h0m2 0h0m1 0h0m-10 1h0m-1 0h0m-7 0h0m-1 0h0m-3 0h0m-10 0h0m-15 0h0m-9 0h0m-2 1h0m1 0h0m29 0h0m20 0h0m1 0h0m1 0h0m2 0h0m8 1h0m-15 0h0m-1 0h0m-5 0h0m-7 0h0m-5 0h0m-5 0h0m-2 0h0m-13 0h0m-3 0h0m-3 1h0m5 0h0m7 0h0m5 0h0m10 0h0m5 0h0m4 0h0m9 0h0m7 0h0m4 0h0m1 0h0m0 1h0m-3 0h0m-6 0h0m-8 0h0m-5 0h0m-5 0h0m-5 0h0m-1 0h0m-2 0h0m-1 0h0m-1 0h0m-2 0h0m-2 0h0m-8 0h0m-5 0h0m-7 0h0m2 1h0m26 0h0m12 0h0m21 0h0m-3 1h0m-3 0h0m-2 0h0m-1 0h0m-23 0h0m-3 0h0m-4 0h0m-16 0h0m-4 0h0m-2 0h0m-1 1h0m5 0h0m2 0h0m1 0h0m4 0h0m3 0h0m1 0h0m7 0h0m3 0h0m14 0h0m6 0h0m11 0h0m-2 1h0m-3 0h0m-6 0h0m-14 0h0m-21 0h0m-4 0h0m-12 1h0m22 0h0m2 0h0m4 0h0m3 0h0m1 0h0m31 0h0m3 0h0m-10 1h0m-14 0h0m-1 0h0m-1 0h0m-1 0h0m-1 0h0m-1 0h0m-6 0h0m-7 0h0m-4 0h0m-1 0h0m-8 0h0m-4 0h0m-12 0h0m-4 1h0m3 0h0m6 0h0m2 0h0m5 0h0m3 0h0m10 0h0m1 0h0m1 0h0m1 0h0m4 0h0m5 0h0m3 0h0m18 0h0m2 0h0m1 0h0m2 0h0m3 0h0m9 0h0m-13 1h0m-6 0h0m-6 0h0m-2 0h0m-2 0h0m-1 0h0m-27 0h0m-6 0h0m-9 0h0m-2 0h0m16 1h0m4 0h0m4 0h0m6 0h0m9 0h0m1 0h0m1 0h0m5 0h0m5 0h0m1 0h0m2 0h0m4 0h0m9 0h0m0 1h0m-10 0h0m-3 0h0m-3 0h0m-9 0h0m-4 0h0m-3 0h0m-7 0h0m-2 0h0m-2 0h0m-4 0h0m-9 0h0m-16 0h0m1 1h0m24 0h0m6 0h0m2 0h0m2 0h0m2 0h0m4 0h0m19 0h0m6 0h0m0 1h0m-12 0h0m-7 0h0m-1 0h0m-5 0h0m-3 0h0m-1 0h0m-6 0h0m-11 0h0m-11 0h0m-5 0h0m11 1h0m2 0h0m6 0h0m1 0h0m3 0h0m11 0h0m9 0h0m4 0h0m3 0h0m2 0h0m6 0h0m4 0h0m4 0h0m-18 1h0m-2 0h0m-1 0h0m-10 0h0m-1 0h0m-8 0h0m-22 0h0m-1 0h0m-3 0h0m-1 0h0m-6 0h0m-5 0h0m19 1h0m37 0h0m12 0h0m8 1h0m-16 0h0m-12 0h0m-7 0h0m23 2h0m-26 0h0m-19 0h0m0 1h0m29 0h0m17 0h0m-54 1h0m38 3h0"/><path stroke="#9cd150" d="M560 26h0m-8 1h0m2 1h0m-8 2h0m10 1h0m-7 0h0m-13 1h0m27 1h0m-3 0h0m-4 0h0m-4 0h0m-12 0h0m14 1h0m11 0h0m5 1h0m-9 0h0m-9 0h0m-19 1h0m8 0h0m12 0h0m1 0h0m1 0h0m7 0h0m6 0h0m-2 1h0m-19 0h0m-4 0h0m5 1h0m2 0h0m5 0h0m23 0h0m-1 1h0m-8 0h0m-11 0h0m-5 0h0m-3 0h0m-4 0h0m-6 0h0m3 1h0m8 0h0m1 0h0m2 0h0m6 0h0m5 0h0m1 0h0m2 0h0m14 0h0m6 1h0m-8 0h0m-5 0h0m-10 0h0m-1 0h0m-5 0h0m-5 0h0m-8 0h0m-6 0h0m-1 1h0m4 0h0m1 0h0m1 0h0m1 0h0m4 0h0m1 0h0m3 0h0m4 0h0m6 0h0m13 0h0m3 0h0m4 0h0m4 1h0m-4 0h0m-1 0h0m-4 0h0m-1 0h0m-1 0h0m-2 0h0m-2 0h0m-18 0h0m-15 0h0m6 1h0m5 0h0m12 0h0m7 0h0m3 0h0m3 1h0m-8 0h0m-2 0h0m-7 0h0m-3 0h0m-14 0h0m8 1h0m1 0h0m3 0h0m12 0h0m7 0h0m6 0h0m2 0h0m-13 1h0m-5 0h0m-8 0h0m-2 0h0m-6 0h0m-9 1h0m3 0h0m22 0h0m9 0h0m20 0h0m-6 1h0m-3 0h0m-14 0h0m-17 0h0m-4 0h0m-1 1h0m1 0h0m2 0h0m1 0h0m2 0h0m1 0h0m10 0h0m1 0h0m7 0h0m1 0h0m14 0h0m4 0h0m1 1h0m-5 0h0m-8 0h0m-2 0h0m-8 0h0m-14 0h0m-5 0h0m-5 0h0m-1 0h0m-1 0h0m8 1h0m3 0h0m1 0h0m6 0h0m2 0h0m6 0h0m13 0h0m2 0h0m10 1h0m-4 0h0m-3 0h0m-1 0h0m-13 0h0m-1 0h0m-5 0h0m-5 0h0m-1 0h0m-2 0h0m-2 0h0m-5 0h0m-2 0h0m-7 1h0m4 0h0m19 0h0m15 0h0m8 0h0m1 1h0m-11 0h0m-10 0h0m-1 0h0m-5 0h0m-15 0h0m-5 0h0m-3 1h0m4 0h0m22 0h0m10 0h0m14 0h0m2 0h0m2 0h0m6 0h0m-7 1h0m-12 0h0m-18 0h0m-8 0h0m-1 0h0m-15 0h0m25 1h0m15 0h0m2 0h0m2 0h0m5 0h0m11 0h0m-2 1h0m-18 0h0m-4 0h0m-7 0h0m-21 0h0m2 1h0m2 0h0m4 0h0m2 0h0m6 0h0m3 0h0m9 0h0m1 0h0m4 0h0m9 0h0m1 1h0m-3 0h0m-5 0h0m-4 0h0m-2 0h0m-1 0h0m-11 0h0m-10 0h0m-3 0h0m-8 0h0m-2 1h0m6 0h0m3 0h0m6 0h0m8 0h0m10 0h0m4 0h0m5 0h0m1 0h0m4 0h0m3 0h0m1 0h0m3 1h0m-1 0h0m-7 0h0m-10 0h0m-2 0h0m-12 0h0m-1 0h0m-3 0h0m-1 0h0m-17 0h0m-3 1h0m3 0h0m11 0h0m1 0h0m3 0h0m8 0h0m8 0h0m4 0h0m10 0h0m8 0h0m5 0h0m2 1h0m-6 0h0m-6 0h0m-7 0h0m-4 0h0m-2 0h0m-2 0h0m-2 0h0m-12 0h0m-11 0h0m-8 1h0m11 0h0m3 0h0m4 0h0m10 0h0m6 0h0m12 0h0m17 0h0m1 1h0m-14 0h0m-3 0h0m-13 0h0m-1 0h0m-4 0h0m-5 0h0m-3 0h0m-9 0h0m-7 0h0m-4 1h0m3 0h0m18 0h0m3 0h0m1 0h0m8 0h0m2 0h0m16 0h0m2 0h0m5 0h0m4 1h0m-14 0h0m-1 0h0m-5 0h0m-6 0h0m-1 0h0m-1 0h0m-1 0h0m-13 0h0m-6 0h0m-1 0h0m-6 0h0m-12 1h0m2 0h0m4 0h0m2 0h0m4 0h0m3 0h0m3 0h0m8 0h0m8 0h0m11 0h0m3 0h0m5 0h0m1 0h0m6 0h0m10 1h0m-9 0h0m-3 0h0m-1 0h0m-3 0h0m-5 0h0m-12 0h0m-8 0h0m-9 0h0m-15 0h0m3 1h0m2 0h0m3 0h0m7 0h0m4 0h0m9 0h0m2 0h0m35 1h0m-7 0h0m-18 0h0m-26 0h0m-1 0h0m-1 0h0m-1 0h0m-1 0h0m-4 0h0m-8 1h0m1 0h0m3 0h0m4 0h0m11 0h0m3 0h0m19 0h0m2 0h0m1 0h0m1 0h0m4 0h0m1 0h0m3 0h0m19 1h0m-6 0h0m-8 0h0m-8 0h0m-6 0h0m-9 0h0m-5 0h0m-20 0h0m-6 1h0m4 0h0m2 0h0m2 0h0m10 0h0m1 0h0m31 0h0m2 0h0m2 0h0m6 0h0m18 1h0m-19 0h0m-10 0h0m-7 0h0m-1 0h0m-7 0h0m-8 0h0m-3 0h0m-6 0h0m-3 0h0m-4 0h0m-4 0h0m-11 1h0m15 0h0m3 0h0m6 0h0m4 0h0m2 0h0m5 0h0m7 0h0m2 0h0m16 0h0m1 0h0m9 0h0m-9 1h0m-15 0h0m-9 0h0m-9 0h0m-13 0h0m-4 0h0m-13 0h0m2 1h0m9 0h0m14 0h0m12 0h0m3 0h0m21 0h0m3 0h0m3 0h0m-8 1h0m-4 0h0m-13 0h0m-2 0h0m-4 0h0m-4 0h0m-2 0h0m-13 0h0m-6 0h0m-9 1h0m1 0h0m1 0h0m9 0h0m19 0h0m4 0h0m3 0h0m6 0h0m1 0h0m37 1h0m-14 0h0m-2 0h0m-16 0h0m-2 0h0m-9 0h0m-4 0h0m-12 0h0m-5 0h0m-5 0h0m-7 0h0m-10 1h0m3 0h0m4 0h0m2 0h0m3 0h0m4 0h0m2 0h0m13 0h0m3 0h0m21 0h0m3 0h0m2 0h0m9 0h0m-4 1h0m-4 0h0m-9 0h0m-5 0h0m-7 0h0m-5 0h0m-13 0h0m-3 0h0m-17 0h0m8 1h0m8 0h0m6 0h0m4 0h0m5 0h0m5 0h0m3 0h0m4 0h0m2 0h0m4 0h0m6 0h0m7 0h0m1 0h0m2 0h0m2 1h0m-2 0h0m-5 0h0m-9 0h0m-13 0h0m-2 0h0m-5 0h0m-3 0h0m-5 0h0m-2 0h0m-3 0h0m-5 0h0m-2 0h0m-5 1h0m4 0h0m24 0h0m21 1h0m-9 0h0m-4 0h0m-4 0h0m-1 0h0m-8 0h0m-12 0h0m-4 0h0m-1 0h0m-8 0h0m-7 1h0m5 0h0m10 0h0m12 0h0m13 0h0m2 0h0m2 0h0m4 0h0m2 0h0m4 0h0m3 0h0m1 0h0m1 0h0m5 1h0m-1 0h0m-5 0h0m-18 0h0m-10 0h0m-2 0h0m-1 0h0m-1 0h0m-2 0h0m-5 0h0m-2 0h0m-4 0h0m-1 0h0m-8 1h0m3 0h0m1 0h0m3 0h0m2 0h0m1 0h0m4 0h0m6 0h0m1 0h0m2 0h0m3 0h0m6 0h0m3 0h0m4 0h0m1 0h0m7 0h0m1 0h0m10 1h0m-7 0h0m-7 0h0m-6 0h0m-14 0h0m-4 0h0m-2 0h0m-2 0h0m-1 0h0m-2 0h0m-4 0h0m-3 0h0m-9 1h0m2 0h0m1 0h0m14 0h0m6 0h0m3 0h0m8 0h0m1 0h0m3 0h0m8 0h0m4 0h0m3 0h0m1 0h0m3 0h0m-3 1h0m-14 0h0m-3 0h0m-1 0h0m-1 0h0m-11 0h0m-16 0h0m-1 0h0m0 1h0m3 0h0m2 0h0m3 0h0m2 0h0m8 0h0m4 0h0m2 0h0m3 0h0m4 0h0m9 0h0m6 0h0m8 1h0m-9 0h0m-15 0h0m-3 0h0m-4 0h0m-2 0h0m-8 0h0m-7 0h0m-12 0h0m9 1h0m8 0h0m2 0h0m2 0h0m15 0h0m2 0h0m2 0h0m16 1h0m-2 0h0m-12 0h0m-8 0h0m-4 0h0m-11 0h0m-14 0h0m-7 0h0m2 1h0m5 0h0m3 0h0m12 0h0m3 0h0m2 0h0m2 0h0m1 0h0m3 0h0m9 0h0m5 0h0m5 0h0m1 0h0m-4 1h0m-3 0h0m-2 0h0m-14 0h0m-4 0h0m-25 0h0m-3 1h0m3 0h0m8 0h0m2 0h0m3 0h0m10 0h0m25 0h0m4 0h0m-6 1h0m-8 0h0m-2 0h0m-1 0h0m-2 0h0m-4 0h0m-4 0h0m-3 0h0m-6 0h0m-12 0h0m-15 1h0m13 0h0m8 0h0m14 0h0m10 0h0m11 0h0m4 0h0m-11 1h0m-2 0h0m-1 0h0m-12 0h0m-1 0h0m-5 0h0m-1 0h0m-7 0h0m-3 0h0m-12 0h0m-2 1h0m2 0h0m4 0h0m4 0h0m4 0h0m7 0h0m3 0h0m2 0h0m6 0h0m3 0h0m2 0h0m10 0h0m1 0h0m3 0h0m6 0h0m-8 1h0m-1 0h0m-13 0h0m-5 0h0m-5 0h0m-6 0h0m-4 0h0m-17 0h0m8 1h0m2 0h0m21 0h0m2 0h0m6 0h0m4 0h0m7 0h0m20 1h0m-19 0h0m-6 0h0m-13 0h0m-4 0h0m-9 0h0m-1 0h0m-3 0h0m-2 0h0m-14 1h0m2 0h0m16 0h0m1 0h0m8 0h0m6 0h0m5 0h0m10 0h0m6 0h0m1 1h0m-9 0h0m-1 0h0m-17 0h0m-4 0h0m-16 0h0m-5 0h0m-2 0h0m2 1h0m19 0h0m12 0h0m11 0h0m6 1h0m-17 0h0m-7 0h0m-5 0h0m-4 0h0m-4 0h0m-4 0h0m-7 0h0m-5 0h0m-4 0h0m5 1h0m7 0h0m9 0h0m8 0h0m6 0h0m11 0h0m7 0h0m-9 1h0m-5 0h0m-1 0h0m-6 0h0m-6 0h0m-3 0h0m-19 0h0m-2 1h0m8 0h0m6 0h0m8 0h0m2 0h0m4 0h0m2 0h0m3 0h0m15 0h0m-19 1h0m-1 0h0m-2 0h0m-3 0h0m-1 0h0m-10 0h0m-5 0h0m-4 0h0m-4 1h0m9 0h0m21 0h0m8 0h0m10 0h0m-1 1h0m-9 0h0m-19 0h0m-3 0h0m-2 0h0m-11 0h0m-3 0h0m1 1h0m5 0h0m3 0h0m4 0h0m13 0h0m7 0h0m1 0h0m2 0h0m6 0h0m-9 1h0m-3 0h0m-2 0h0m-2 0h0m-9 0h0m-14 0h0m2 1h0m4 0h0m2 0h0m13 0h0m3 0h0m11 0h0m2 1h0m-4 0h0m-3 0h0m-2 0h0m-5 0h0m-8 0h0m-8 0h0m-5 0h0m-2 1h0m8 0h0m7 0h0m1 0h0m12 0h0m3 0h0m2 0h0m3 0h0m-16 1h0m-10 0h0m-6 0h0m-2 0h0m-8 1h0m4 0h0m7 0h0m1 0h0m4 0h0m3 0h0m11 0h0m9 1h0m-17 0h0m-5 0h0m-3 0h0m-4 0h0m-7 0h0m7 1h0m6 0h0m3 0h0m3 0h0m11 0h0m2 0h0m-4 1h0m-10 0h0m-9 0h0m-1 0h0m-14 1h0m8 0h0m2 0h0m2 0h0m1 0h0m5 0h0m2 0h0m9 0h0m5 1h0m-12 0h0m-6 0h0m-3 0h0m-9 0h0m1 1h0m7 0h0m3 0h0m4 0h0m3 0h0m5 0h0m17 1h0m-22 0h0m-3 0h0m-6 0h0m-2 0h0m-4 0h0m-3 0h0m4 1h0m1 0h0m1 0h0m3 0h0m6 0h0m2 0h0m1 0h0m2 0h0m2 0h0m8 0h0m-8 1h0m-4 0h0m-2 0h0m-16 0h0m11 1h0m5 0h0m1 0h0m3 0h0m4 0h0m4 0h0m-10 1h0m-5 0h0m-2 0h0m-11 0h0m-2 0h0m7 1h0m2 0h0m4 0h0m4 0h0m13 0h0m-7 1h0m-9 0h0m-5 0h0m-2 0h0m-3 0h0m-1 0h0m-11 1h0m12 0h0m2 0h0m6 0h0m3 0h0m1 0h0m3 0h0m2 0h0m1 0h0m1 0h0m-3 1h0m-6 0h0m-6 0h0m-5 0h0m3 1h0m5 0h0m7 0h0m1 0h0m1 0h0m1 0h0m-4 1h0m-12 0h0m-3 1h0m5 0h0m11 0h0m17 1h0m-10 0h0m-9 0h0m-1 0h0m-11 0h0m-1 0h0m-3 0h0m7 1h0m7 0h0m2 0h0m2 0h0m2 0h0m-7 1h0m-3 0h0m-1 0h0m-4 1h0m3 2h0m6 0h0m-6 2h0m1 0h0m1 0h0m8 0h0m3 1h0m-15 0h0m-6 1h0m2 0h0m12 0h0m20 0h0m-13 1h0m-20 0h0m16 2h0m-16 0h0m11 1h0m4 1h0m-8 0h0m6 2h0m-8 0h0m-2 0h0m7 1h0m9 1h0m-18 0h0m-12 1h0m21 0h0m2 0h0m-13 1h0m-1 1h0m14 0h0m6 1h0m-7 0h0m-8 0h0m7 1h0m4 0h0m-2 1h0m-4 2h0m-5 0h0m3 1h0m4 0h0m6 0h0m-1 1h0m-14 1h0m8 0h0m21 0h0m-16 1h0m-9 0h0m-6 0h0m2 1h0m5 0h0m3 0h0m3 1h0m-5 0h0m4 1h0m0 1h0m-1 0h0m-5 0h0m-7 0h0m13 2h0m-12 1h0m8 1h0m-7 0h0m2 5h0m2 1h0m4 3h0m0 5h0m-2 0h0m1 4h0"/><path stroke="#db8edc" d="M462 89h0m26 2h0m-5 0h0m-6 0h0m-14 1h0m16 0h0m12 0h0m6 1h0m-10 0h0m-2 0h0m-7 0h0m-11 0h0m-11 0h0m-5 0h0m5 1h0m21 0h0m1 0h0m1 0h0m9 0h0m2 0h0m6 0h0m1 0h0m2 0h0m2 0h0m0 1h0m-18 0h0m-12 0h0m-21 0h0m1 1h0m7 0h0m3 0h0m3 0h0m40 0h0m2 1h0m-14 0h0m-1 0h0m-4 0h0m-3 0h0m-4 0h0m-15 0h0m-11 0h0m-4 1h0m7 0h0m16 0h0m4 0h0m25 1h0m-2 0h0m-17 0h0m-11 0h0m-2 0h0m-3 0h0m-17 0h0m-1 1h0m5 0h0m1 0h0m8 0h0m9 0h0m3 0h0m7 0h0m5 0h0m4 0h0m5 0h0m3 0h0m8 0h0m0 1h0m-9 0h0m-20 0h0m-7 0h0m-9 0h0m-4 0h0m-8 0h0m-4 0h0m7 1h0m4 0h0m13 0h0m7 0h0m5 0h0m15 0h0m-5 1h0m-22 0h0m-3 0h0m-6 0h0m-1 0h0m-1 0h0m-19 0h0m3 1h0m7 0h0m3 0h0m3 0h0m3 0h0m13 0h0m6 0h0m10 0h0m4 0h0m12 0h0m1 1h0m-1 0h0m-9 0h0m-11 0h0m-21 0h0m-15 0h0m-2 0h0m-3 1h0m12 0h0m5 0h0m3 0h0m4 0h0m7 0h0m1 0h0m3 0h0m23 0h0m1 0h0m9 0h0m0 1h0m-17 0h0m-5 0h0m-3 0h0m-3 0h0m-4 0h0m-2 0h0m-10 0h0m-4 0h0m-6 0h0m-1 0h0m-9 0h0m-3 0h0m-2 1h0m28 0h0m16 0h0m1 0h0m6 0h0m13 0h0m4 1h0m-14 0h0m-2 0h0m-2 0h0m-1 0h0m-3 0h0m-10 0h0m-3 0h0m-10 0h0m-4 0h0m-13 0h0m-1 0h0m-3 0h0m-5 1h0m1 0h0m2 0h0m5 0h0m7 0h0m22 0h0m4 0h0m5 0h0m7 0h0m7 0h0m1 0h0m9 1h0m-11 0h0m-7 0h0m-3 0h0m-18 0h0m-2 0h0m-1 0h0m-6 0h0m-2 0h0m-2 0h0m-2 0h0m-11 0h0m-6 0h0m-1 1h0m2 0h0m2 0h0m6 0h0m1 0h0m12 0h0m1 0h0m22 0h0m1 0h0m2 0h0m7 0h0m1 0h0m3 0h0m1 0h0m4 0h0m11 0h0m-3 1h0m-2 0h0m-10 0h0m-11 0h0m-13 0h0m-6 0h0m-1 0h0m-6 0h0m-2 0h0m-3 0h0m-9 0h0m-1 0h0m-7 0h0m-2 1h0m7 0h0m3 0h0m15 0h0m4 0h0m1 0h0m2 0h0m10 0h0m3 0h0m4 0h0m3 0h0m3 0h0m3 0h0m10 0h0m7 0h0m1 1h0m-6 0h0m-10 0h0m-30 0h0m-2 0h0m-3 0h0m-11 0h0m-7 0h0m-1 0h0m7 1h0m5 0h0m10 0h0m1 0h0m3 0h0m5 0h0m12 0h0m22 0h0m4 1h0m-10 0h0m-3 0h0m-18 0h0m-3 0h0m-1 0h0m-5 0h0m-9 0h0m-1 0h0m-3 0h0m-5 0h0m-2 0h0m-6 0h0m-2 0h0m-2 0h0m-5 1h0m6 0h0m1 0h0m10 0h0m2 0h0m3 0h0m4 0h0m13 0h0m14 0h0m21 0h0m-14 1h0m-5 0h0m-4 0h0m-6 0h0m-4 0h0m-17 0h0m-13 0h0m-3 0h0m-3 0h0m-1 1h0m8 0h0m7 0h0m7 0h0m29 0h0m6 0h0m12 0h0m2 0h0m6 1h0m-8 0h0m-11 0h0m-22 0h0m-1 0h0m-4 0h0m-5 0h0m-1 0h0m-8 0h0m-9 0h0m-1 0h0m-7 0h0m-2 0h0m-2 0h0m6 1h0m4 0h0m1 0h0m10 0h0m1 0h0m6 0h0m12 0h0m1 0h0m12 0h0m2 0h0m1 0h0m5 0h0m3 0h0m4 0h0m1 0h0m6 0h0m-13 1h0m-38 0h0m-4 0h0m-6 0h0m-9 1h0m6 0h0m8 0h0m6 0h0m5 0h0m3 0h0m2 0h0m14 0h0m14 0h0m11 0h0m-7 1h0m-5 0h0m-3 0h0m-1 0h0m-1 0h0m-15 0h0m-7 0h0m-7 0h0m-13 0h0m-15 1h0m14 0h0m9 0h0m9 0h0m4 0h0m3 0h0m5 0h0m10 0h0m4 0h0m7 0h0m12 1h0m-5 0h0m-2 0h0m-13 0h0m-8 0h0m-14 0h0m-1 0h0m-4 0h0m-16 0h0m-1 0h0m-7 1h0m3 0h0m14 0h0m3 0h0m2 0h0m2 0h0m11 0h0m3 0h0m9 0h0m4 0h0m1 0h0m5 0h0m1 0h0m2 0h0m7 0h0m1 1h0m-2 0h0m-8 0h0m-9 0h0m-2 0h0m-1 0h0m-2 0h0m-8 0h0m-5 0h0m-15 0h0m-3 0h0m-2 0h0m-8 0h0m-6 1h0m13 0h0m7 0h0m8 0h0m9 0h0m4 0h0m1 0h0m1 0h0m8 0h0m1 0h0m1 0h0m4 0h0m1 0h0m11 0h0m1 0h0m1 0h0m-18 1h0m-2 0h0m-21 0h0m-19 0h0m-7 0h0m8 1h0m1 0h0m24 0h0m3 0h0m3 0h0m5 0h0m4 0h0m5 0h0m1 0h0m4 0h0m0 1h0m-1 0h0m-6 0h0m-13 0h0m-10 0h0m-12 0h0m-4 0h0m-1 0h0m-3 0h0m-5 0h0m-1 1h0m2 0h0m1 0h0m9 0h0m7 0h0m16 0h0m2 0h0m9 0h0m8 0h0m9 0h0m-14 1h0m-41 0h0m-15 1h0m20 0h0m2 0h0m7 0h0m6 0h0m5 0h0m8 0h0m8 0h0m3 0h0m-6 1h0m-5 0h0m-10 0h0m-5 0h0m-1 0h0m-7 0h0m-8 0h0m-1 0h0m-7 0h0m-3 0h0m-1 0h0m14 1h0m1 0h0m6 0h0m28 0h0m3 0h0m3 0h0m1 1h0m-3 0h0m-2 0h0m-1 0h0m-11 0h0m-1 0h0m-5 0h0m-5 0h0m-5 0h0m-5 0h0m-4 0h0m-7 0h0m-9 1h0m10 0h0m1 0h0m3 0h0m1 0h0m2 0h0m1 0h0m11 0h0m4 0h0m19 0h0m5 0h0m-9 1h0m-8 0h0m-1 0h0m-4 0h0m-11 0h0m-6 0h0m-9 0h0m-5 0h0m6 1h0m22 0h0m2 0h0m14 0h0m4 0h0m-7 1h0m-9 0h0m-5 0h0m-2 0h0m-1 0h0m-3 0h0m-4 0h0m-12 0h0m-1 0h0m-8 0h0m-1 0h0m7 1h0m2 0h0m23 0h0m6 0h0m4 0h0m1 0h0m10 0h0m6 1h0m-7 0h0m-2 0h0m-6 0h0m-2 0h0m-1 0h0m-15 0h0m-2 0h0m-14 1h0m24 0h0m1 0h0m1 0h0m1 0h0m2 0h0m1 0h0m4 1h0m-9 0h0m-1 0h0m-3 0h0m-20 0h0m-4 0h0m2 1h0m8 0h0m2 0h0m2 0h0m4 0h0m1 0h0m7 0h0m4 0h0m10 0h0m5 0h0m-2 1h0m-21 0h0m-4 0h0m-2 0h0m-3 0h0m-9 0h0m0 1h0m11 0h0m10 0h0m5 0h0m1 0h0m1 1h0m-1 0h0m-5 0h0m-2 0h0m-8 1h0m19 0h0m0 1h0m-14 0h0m-2 0h0m-6 0h0m29 1h0m-9 1h0m14 3h0m4 1h0m-20 2h0m7 5h0m-1 1h0"/><path stroke="#f86b4f" d="M505 32h0m-23 3h0m9 2h0m2 1h0m-4 1h0m-3 0h0m-10 1h0m12 0h0m9 1h0m-7 0h0m-16 1h0m7 0h0m17 0h0m1 0h0m11 0h0m-14 1h0m-18 0h0m3 2h0m-1 0h0m13 1h0m1 0h0m3 0h0m2 1h0m-19 0h0m-7 0h0m-5 0h0m8 1h0m12 0h0m1 0h0m7 0h0m-6 1h0m-7 0h0m-3 0h0m-3 0h0m-4 0h0m20 1h0m1 0h0m2 1h0m-8 0h0m-3 0h0m-2 0h0m-5 0h0m-5 0h0m-4 0h0m8 1h0m2 0h0m1 0h0m16 1h0m-5 0h0m-12 0h0m-11 0h0m3 1h0m4 0h0m2 0h0m11 1h0m-18 1h0m9 0h0m1 0h0m1 0h0m13 1h0m-7 0h0m-7 0h0m-4 0h0m-1 0h0m-2 1h0m8 0h0m14 0h0m1 1h0m-7 0h0m-2 0h0m-13 1h0m9 0h0m8 0h0m2 0h0m-3 1h0m-10 0h0m-1 0h0m-15 0h0m11 1h0m1 0h0m9 0h0m3 0h0m2 0h0m5 1h0m-21 0h0m-5 1h0m4 0h0m5 0h0m5 0h0m5 0h0m6 0h0m-7 1h0m-4 0h0m-25 0h0m11 1h0m3 0h0m1 0h0m13 0h0m7 0h0m-15 1h0m-5 0h0m-24 1h0m3 0h0m23 0h0m18 0h0m1 0h0m-34 1h0m-13 0h0m-1 1h0m8 0h0m4 0h0m2 0h0m17 0h0m6 0h0m3 0h0m2 0h0m1 0h0m3 1h0m-30 0h0m-13 0h0m-4 1h0m2 0h0m17 0h0m3 0h0m9 0h0m3 0h0m-14 1h0m-4 0h0m-3 0h0m-4 0h0m-1 0h0m-5 1h0m6 0h0m5 0h0m3 0h0m16 0h0m2 0h0m5 0h0m2 0h0m2 1h0m-16 0h0m-19 0h0m-3 1h0m3 0h0m3 0h0m16 0h0m1 0h0m7 0h0m4 1h0m-4 0h0m-1 0h0m-20 0h0m-12 0h0m-1 0h0m3 1h0m2 0h0m2 0h0m5 0h0m12 0h0m6 0h0m2 0h0m3 0h0m2 0h0m7 0h0m3 1h0m-4 0h0m-18 0h0m-2 0h0m-8 0h0m-3 0h0m-8 0h0m2 1h0m6 0h0m3 0h0m13 0h0m3 1h0m-13 0h0m-4 0h0m-11 0h0m-2 0h0m2 1h0m20 0h0m19 0h0m-2 1h0m-2 0h0m-7 0h0m-3 0h0m-2 0h0m-2 0h0m-2 0h0m-1 0h0m-15 0h0m-13 1h0m10 0h0m3 0h0m6 0h0m9 0h0m3 0h0m7 0h0m5 0h0m9 0h0m2 0h0m-2 1h0m-8 0h0m-10 0h0m-4 0h0m-10 0h0m-6 1h0m8 0h0m11 0h0m1 0h0m15 0h0m1 0h0m5 0h0m-13 1h0m-3 0h0m-1 0h0m-22 0h0m-7 0h0m11 1h0m1 0h0m1 0h0m4 0h0m6 0h0m9 1h0m-18 0h0m-5 0h0m-1 0h0m-1 0h0m-8 0h0m-1 0h0m2 1h0m4 0h0m5 0h0m13 0h0m4 0h0m-9 1h0m-2 0h0m-5 0h0m-4 0h0m-2 0h0m-4 0h0m-2 0h0m-4 0h0m6 1h0m9 0h0m3 0h0m11 0h0m15 0h0m-7 1h0m-12 0h0m-4 0h0m-17 0h0m-2 0h0m0 1h0m4 0h0m37 0h0m-31 1h0m-10 0h0m-4 0h0m0 1h0m7 0h0m2 1h0m8 1h0m6 0h0m-2 62h0m36 0h0m-42 4h0"/><path stroke="#e8900d" d="M517 24h0m9 1h0m11 3h0m-6 2h0m1 0h0m19 1h0m-21 0h0m3 1h0m2 0h0m-7 1h0m-4 0h0m9 1h0m3 0h0m2 1h0m-4 1h0m1 0h0m3 0h0m3 1h0m-2 0h0m-15 0h0m-37 1h0m36 0h0m5 0h0m1 0h0m2 0h0m6 0h0m1 1h0m-2 0h0m-12 0h0m-13 1h0m12 0h0m13 0h0m3 0h0m3 0h0m1 0h0m-33 1h0m16 1h0m3 0h0m7 1h0m-4 0h0m-2 0h0m-2 0h0m-6 0h0m-12 1h0m3 0h0m17 0h0m6 1h0m-5 0h0m-11 0h0m-15 0h0m-2 1h0m23 0h0m7 0h0m9 0h0m2 0h0m-12 1h0m-2 0h0m-21 0h0m-5 0h0m-3 0h0m4 1h0m25 0h0m2 0h0m-4 1h0m-2 0h0m-7 0h0m-11 0h0m8 1h0m21 1h0m-4 0h0m-35 0h0m19 1h0m8 0h0m4 0h0m11 0h0m-14 1h0m-19 1h0m8 0h0m6 0h0m6 0h0m4 0h0m4 0h0m4 1h0m-2 0h0m-5 0h0m-1 0h0m-1 0h0m-6 0h0m-10 0h0m-2 0h0m-4 0h0m-5 0h0m10 1h0m23 0h0m3 0h0m-4 1h0m-2 0h0m-17 0h0m-2 0h0m-10 0h0m-3 1h0m24 0h0m14 0h0m-6 1h0m-4 0h0m-9 0h0m-11 0h0m-3 0h0m-5 1h0m19 0h0m8 0h0m10 1h0m-2 0h0m-3 0h0m-1 0h0m-16 0h0m-26 1h0m29 0h0m2 0h0m3 0h0m12 1h0m-1 0h0m-2 0h0m-1 0h0m-4 0h0m-16 0h0m-3 0h0m-4 0h0m-6 0h0m1 1h0m8 0h0m8 0h0m15 0h0m7 0h0m-2 1h0m-3 0h0m-5 0h0m-5 0h0m-24 0h0m10 1h0m18 0h0m11 0h0m-2 1h0m-2 0h0m-18 0h0m-5 0h0m-1 0h0m-2 0h0m-9 1h0m11 0h0m22 0h0m5 0h0m-4 1h0m-1 0h0m-1 0h0m-16 0h0m-13 1h0m17 0h0m18 0h0m-3 1h0m-4 0h0m-2 0h0m-3 0h0m-21 0h0m9 1h0m1 0h0m27 1h0m-12 0h0m-7 0h0m-10 0h0m-4 0h0m-9 1h0m5 0h0m1 0h0m3 0h0m11 0h0m4 0h0m1 0h0m1 0h0m9 0h0m3 0h0m-2 1h0m-1 0h0m-6 0h0m-7 0h0m-3 0h0m-3 0h0m-9 0h0m-8 0h0m-6 1h0m9 0h0m2 0h0m4 0h0m5 0h0m1 0h0m3 0h0m4 0h0m2 0h0m2 0h0m2 0h0m11 0h0m-1 1h0m-3 0h0m-8 0h0m-4 0h0m-2 0h0m-1 0h0m-6 0h0m-10 0h0m-8 1h0m5 0h0m4 0h0m6 0h0m1 0h0m5 0h0m10 0h0m0 1h0m-7 0h0m-11 0h0m-6 0h0m-1 0h0m-1 0h0m0 1h0m6 0h0m24 0h0m2 0h0m2 0h0m-1 1h0m-3 0h0m-5 0h0m-2 0h0m-18 0h0m-3 0h0m-1 0h0m2 1h0m9 0h0m11 0h0m10 1h0m-3 0h0m-24 0h0m-5 0h0m-8 0h0m8 1h0m3 0h0m1 0h0m2 0h0m8 0h0m19 0h0m4 0h0m-7 1h0m-26 0h0m-3 0h0m-5 1h0m7 0h0m7 0h0m8 0h0m14 1h0m-3 0h0m-8 0h0m-24 1h0m1 0h0m5 0h0m1 0h0m11 0h0m6 0h0m19 1h0m-7 0h0m-4 0h0m-11 0h0m-13 0h0m-5 0h0m6 1h0m6 0h0m5 0h0m8 0h0m3 0h0m5 0h0m2 1h0m-4 0h0m-16 0h0m-4 0h0m-11 0h0m-8 1h0m11 0h0m4 0h0m9 0h0m2 0h0m1 0h0m13 0h0m-2 1h0m-1 0h0m-8 0h0m-5 0h0m-2 0h0m-8 0h0m-2 0h0m-7 0h0m3 1h0m3 0h0m3 0h0m4 0h0m7 0h0m12 1h0m-7 0h0m-7 0h0m-5 0h0m-8 0h0m2 1h0m7 0h0m18 1h0m-12 0h0m-8 0h0m-8 0h0m4 1h0m12 0h0m2 0h0m3 0h0m7 0h0m1 1h0m-13 0h0m-3 0h0m-1 0h0m-3 0h0m-1 0h0m-1 0h0m-2 0h0m-6 1h0m5 0h0m3 0h0m1 0h0m10 0h0m5 0h0m3 0h0m-22 2h0m4 0h0m23 0h0m-10 1h0m-2 0h0m-4 0h0m-6 0h0m-9 0h0m-1 1h0m4 0h0m10 0h0m3 0h0m4 0h0m-9 1h0m1 1h0m16 0h0m-10 1h0m-4 2h0m-16 57h0"/><path stroke="#d3950f" d="M632 132h0m4 1h0m-4 1h0m4 0h0m-1 2h0m2 0h0m4 0h0m-3 1h0m-4 0h0m-4 1h0m10 0h0m2 0h0m-8 1h0m-2 1h0m3 0h0m5 1h0m0 1h0m-5 2h0m6 0h0m-6 1h0m-2 1h0m1 0h0m2 0h0m0 1h0m5 1h0m-3 1h0m1 1h0m3 2h0m-27 2h0m26 0h0m-5 1h0m-1 1h0m2 2h0m2 0h0m10 1h0m-10 1h0m-3 1h0m-1 4h0m1 2h0m-7 0h0m8 1h0m-2 2h0m4 1h0m-4 0h0m-20 6h0m29 1h0"/><path stroke="#4c8fd2" d="M650 183h0m-17 4h0m13 2h0m-15 8h0m12 3h0m2 0h0m3 0h0m8 0h0m-11 2h0m1 1h0m-10 1h0m2 0h0m18 0h0m4 1h0m-2 0h0m-2 0h0m-3 0h0m-1 0h0m-10 0h0m-2 1h0m3 0h0m1 0h0m5 0h0m1 0h0m4 0h0m0 1h0m-1 0h0m-1 0h0m-2 0h0m-3 0h0m-7 0h0m-1 0h0m-9 0h0m5 1h0m4 0h0m3 0h0m12 1h0m-9 0h0m-1 0h0m-13 0h0m-1 0h0m1 1h0m5 0h0m2 0h0m6 0h0m1 0h0m7 0h0m10 1h0m-2 0h0m-4 0h0m-3 0h0m-1 0h0m-14 0h0m-10 0h0m-3 0h0m-11 0h0m25 1h0m18 0h0m2 0h0m2 0h0m0 1h0m-5 0h0m-6 0h0m-5 0h0m-14 0h0m-4 0h0m1 1h0m4 0h0m3 0h0m3 0h0m7 0h0m2 0h0m5 0h0m3 0h0m2 0h0m3 0h0m1 1h0m-1 0h0m-3 0h0m-3 0h0m-4 0h0m-12 0h0m-6 0h0m-3 0h0m4 1h0m4 0h0m1 0h0m2 0h0m1 0h0m1 0h0m14 0h0m5 1h0m-6 0h0m-1 0h0m-3 0h0m-14 0h0m-3 0h0m-2 0h0m-3 0h0m-4 1h0m3 0h0m1 0h0m4 0h0m8 0h0m3 0h0m2 0h0m12 0h0m1 0h0m5 1h0m-15 0h0m-6 0h0m-5 0h0m-3 0h0m4 1h0m8 0h0m3 0h0m9 1h0m-13 0h0m-6 0h0m-7 0h0m-1 0h0m0 1h0m5 0h0m20 0h0m3 0h0m4 1h0m-3 0h0m-2 0h0m-7 0h0m-5 0h0m-9 0h0m-4 1h0m5 0h0m2 0h0m9 0h0m1 0h0m2 0h0m0 1h0m-10 0h0m-5 0h0m-6 0h0m4 1h0m15 0h0m2 0h0m1 0h0m5 0h0m1 0h0m6 1h0m-9 0h0m-9 0h0m-6 0h0m-9 0h0m7 1h0m5 0h0m2 0h0m1 0h0m6 0h0m1 0h0m1 0h0m5 1h0m-4 0h0m-3 0h0m-2 0h0m-7 0h0m-1 0h0m5 1h0m12 0h0m3 1h0m-6 0h0m-9 0h0m-1 0h0m-3 0h0m9 1h0m-2 1h0m-3 0h0m-5 1h0m1 0h0m2 0h0m-14 2h0"/><path stroke="#6dc36b" d="M600 215h0m-3 2h0m-25 7h0m16 1h0m-25 0h0m38 2h0m-10 1h0m9 0h0m-2 3h0m-3 0h0m8 1h0m-6 1h0m-2 0h0m-7 0h0m8 1h0m4 0h0m12 1h0m-17 0h0m5 1h0m5 0h0m12 1h0m-12 0h0m-9 0h0m10 1h0m-3 1h0m-7 0h0m-30 1h0m37 1h0m-5 0h0m9 1h0m2 0h0m0 1h0m-5 0h0m-8 0h0m6 1h0m2 0h0m3 0h0m5 1h0m-2 0h0m-6 0h0m-2 1h0m-42 1h0m50 1h0m-3 1h0m-5 1h0m12 1h0m-11 0h0m-3 1h0m8 0h0m2 1h0m-5 1h0m2 0h0m4 0h0m1 1h0m-1 0h0m-2 0h0m-6 0h0m-1 1h0m11 0h0m-2 1h0m-5 0h0m-5 1h0m5 2h0"/><path stroke="#f9cb2f" d="M479 164h0m6 0h0m-5 2h0m4 1h0m-4 0h0m-11 0h0m1 1h0m4 0h0m6 0h0m6 0h0m-3 1h0m-1 0h0m-8 0h0m-2 0h0m-1 0h0m4 1h0m0 1h0m-3 0h0m0 1h0m2 0h0m7 0h0m7 0h0m-4 1h0m-7 0h0m-14 0h0m1 1h0m13 0h0m5 0h0m12 0h0m8 0h0m-16 1h0m-4 0h0m-17 1h0m1 0h0m1 0h0m3 0h0m2 0h0m1 0h0m7 0h0m3 0h0m23 1h0m-34 0h0m-5 0h0m-1 1h0m10 0h0m14 0h0m5 1h0m-8 0h0m-3 0h0m-7 0h0m-1 0h0m-1 0h0m-11 0h0m0 1h0m4 0h0m1 0h0m10 0h0m-16 1h0m-1 0h0m1 1h0m11 0h0m5 0h0m9 0h0m12 0h0m12 0h0m-9 1h0m-14 0h0m-5 0h0m-6 0h0m-1 0h0m-10 0h0m0 1h0m4 0h0m11 0h0m3 0h0m6 0h0m14 0h0m-26 2h0m28 0h0m4 0h0m-8 1h0m-4 0h0m-8 0h0m-19 0h0m-4 0h0m-6 0h0m2 1h0m9 0h0m2 0h0m1 0h0m12 0h0m22 0h0m-13 1h0m-24 0h0m12 1h0m4 0h0m17 0h0m2 0h0m4 0h0m12 1h0m-59 1h0m5 0h0m25 0h0m4 0h0m18 1h0m-49 0h0m-7 0h0m35 1h0m19 1h0m-8 0h0m-42 0h0m2 1h0m5 0h0m18 0h0m22 0h0m5 0h0m7 1h0m-5 0h0m-47 1h0m21 0h0m17 0h0m1 0h0m9 0h0m-18 1h0m-29 1h0m32 0h0m9 1h0m-40 1h0m31 0h0m20 0h0m-1 1h0m-13 0h0m-5 0h0m15 2h0m-5 0h0m-15 0h0m17 1h0m2 0h0m13 1h0m-8 0h0m-3 0h0m-2 0h0m-1 0h0m-9 0h0m7 1h0m19 1h0m-25 1h0m-1 2h0m35 0h0m-18 10h0m4 4h0"/><path stroke="#f2450d" d="M518 138h0m-3 5h0m-2 3h0m1 1h0m-1 0h0m-16 0h0m17 2h0m-3 0h0m-6 3h0m11 1h0m-11 0h0m2 1h0m9 1h0m-6 2h0m1 1h0m-6 1h0m-1 1h0m4 0h0m-5 1h0m-4 0h0m-10 1h0m15 0h0m7 0h0m-14 1h0m6 1h0m6 0h0m2 0h0m-5 1h0m-4 0h0m8 1h0m-44 34h0m10 6h0m2 0h0m5 0h0m-6 1h0m-2 0h0m-9 0h0m7 1h0m18 0h0m-12 1h0m-2 0h0m-3 0h0m-3 0h0m-3 1h0m12 0h0m7 0h0m2 0h0m12 1h0m-28 0h0m-4 0h0m-1 0h0m12 1h0m9 0h0m11 0h0m-10 1h0m-15 0h0m-3 0h0m1 1h0m29 0h0m-22 1h0m-7 0h0m0 1h0m17 0h0m5 0h0m1 0h0m0 1h0m-16 0h0m-9 0h0m-3 1h0m4 0h0m2 0h0m12 0h0m5 0h0m4 0h0m10 1h0m-14 0h0m-2 0h0m-3 0h0m-20 0h0m15 1h0m11 0h0m4 0h0m11 0h0m-11 1h0m-1 0h0m-3 0h0m-6 0h0m-7 0h0m-3 0h0m-3 1h0m28 0h0m3 1h0m-3 0h0m-4 0h0m-16 0h0m-2 0h0m-4 1h0m1 0h0m1 0h0m9 0h0m5 0h0m2 1h0m-8 0h0m-4 0h0m-5 0h0m-4 1h0m7 0h0m7 0h0m2 0h0m1 0h0m8 0h0m3 0h0m2 0h0m-16 1h0m-16 0h0m0 1h0m1 0h0m12 0h0m10 0h0m9 0h0m-2 1h0m-11 0h0m-6 0h0m-5 0h0m-1 1h0m4 0h0m6 0h0m14 1h0m-10 0h0m-3 0h0m-1 0h0m-14 0h0m16 1h0m6 0h0m29 1h0m-27 0h0m-1 0h0m-7 0h0m-1 0h0m-4 0h0m-7 0h0m-3 0h0m27 1h0m-8 1h0m-4 0h0m-7 0h0m-1 0h0m-4 0h0m-2 1h0m9 0h0m7 0h0m2 1h0m-13 1h0m4 0h0m6 0h0m-1 1h0m-4 0h0m53 2h0m-10 0h0m-36 0h0m-5 0h0m7 1h0m1 0h0m26 2h0m17 6h0"/></g>
<line x1="60" y1="17" x2="60" y2="271.2" stroke="#1a1a1a" stroke-width="1.3"/>
<line x1="59.4" y1="270.6" x2="314" y2="270.6" stroke="#1a1a1a" stroke-width="1.3"/>
<line x1="53.2" y1="33.6" x2="60" y2="33.6" stroke="#1a1a1a" stroke-width="1.3"/>
<text x="50" y="38.8" font-size="14.8" text-anchor="end">20</text>
<line x1="53.2" y1="85.8" x2="60" y2="85.8" stroke="#1a1a1a" stroke-width="1.3"/>
<text x="50" y="91" font-size="14.8" text-anchor="end">10</text>
<line x1="53.2" y1="137.9" x2="60" y2="137.9" stroke="#1a1a1a" stroke-width="1.3"/>
<text x="50" y="143.1" font-size="14.8" text-anchor="end">0</text>
<line x1="53.2" y1="190.1" x2="60" y2="190.1" stroke="#1a1a1a" stroke-width="1.3"/>
<text x="50" y="195.2" font-size="14.8" text-anchor="end">&#8722;10</text>
<line x1="53.2" y1="242.2" x2="60" y2="242.2" stroke="#1a1a1a" stroke-width="1.3"/>
<text x="50" y="247.4" font-size="14.8" text-anchor="end">&#8722;20</text>
<line x1="99.8" y1="270.6" x2="99.8" y2="277.4" stroke="#1a1a1a" stroke-width="1.3"/>
<text x="95.5" y="291" font-size="14.8" text-anchor="middle">&#8722;20</text>
<line x1="142.6" y1="270.6" x2="142.6" y2="277.4" stroke="#1a1a1a" stroke-width="1.3"/>
<text x="138.2" y="291" font-size="14.8" text-anchor="middle">&#8722;10</text>
<line x1="185.3" y1="270.6" x2="185.3" y2="277.4" stroke="#1a1a1a" stroke-width="1.3"/>
<text x="185.3" y="291" font-size="14.8" text-anchor="middle">0</text>
<line x1="228.1" y1="270.6" x2="228.1" y2="277.4" stroke="#1a1a1a" stroke-width="1.3"/>
<text x="228.1" y="291" font-size="14.8" text-anchor="middle">10</text>
<line x1="270.8" y1="270.6" x2="270.8" y2="277.4" stroke="#1a1a1a" stroke-width="1.3"/>
<text x="270.8" y="291" font-size="14.8" text-anchor="middle">20</text>
<line x1="313.6" y1="270.6" x2="313.6" y2="277.4" stroke="#1a1a1a" stroke-width="1.3"/>
<text x="313.6" y="291" font-size="14.8" text-anchor="middle">30</text>
<text x="182.8" y="312" font-size="18.5" text-anchor="middle"><tspan font-style="italic">t</tspan>SNE 1</text>
<text transform="translate(22.6,148.5) rotate(-90)" font-size="18.5" text-anchor="middle"><tspan font-style="italic">t</tspan>SNE 2</text>
<line x1="422" y1="17" x2="422" y2="271.2" stroke="#1a1a1a" stroke-width="1.3"/>
<line x1="421.4" y1="270.6" x2="676" y2="270.6" stroke="#1a1a1a" stroke-width="1.3"/>
<line x1="415.2" y1="33.6" x2="422" y2="33.6" stroke="#1a1a1a" stroke-width="1.3"/>
<text x="412" y="38.8" font-size="14.8" text-anchor="end">20</text>
<line x1="415.2" y1="85.8" x2="422" y2="85.8" stroke="#1a1a1a" stroke-width="1.3"/>
<text x="412" y="91" font-size="14.8" text-anchor="end">10</text>
<line x1="415.2" y1="137.9" x2="422" y2="137.9" stroke="#1a1a1a" stroke-width="1.3"/>
<text x="412" y="143.1" font-size="14.8" text-anchor="end">0</text>
<line x1="415.2" y1="190.1" x2="422" y2="190.1" stroke="#1a1a1a" stroke-width="1.3"/>
<text x="412" y="195.2" font-size="14.8" text-anchor="end">&#8722;10</text>
<line x1="415.2" y1="242.2" x2="422" y2="242.2" stroke="#1a1a1a" stroke-width="1.3"/>
<text x="412" y="247.4" font-size="14.8" text-anchor="end">&#8722;20</text>
<line x1="461.8" y1="270.6" x2="461.8" y2="277.4" stroke="#1a1a1a" stroke-width="1.3"/>
<text x="457.5" y="291" font-size="14.8" text-anchor="middle">&#8722;20</text>
<line x1="504.5" y1="270.6" x2="504.5" y2="277.4" stroke="#1a1a1a" stroke-width="1.3"/>
<text x="500.2" y="291" font-size="14.8" text-anchor="middle">&#8722;10</text>
<line x1="547.3" y1="270.6" x2="547.3" y2="277.4" stroke="#1a1a1a" stroke-width="1.3"/>
<text x="547.3" y="291" font-size="14.8" text-anchor="middle">0</text>
<line x1="590" y1="270.6" x2="590" y2="277.4" stroke="#1a1a1a" stroke-width="1.3"/>
<text x="590" y="291" font-size="14.8" text-anchor="middle">10</text>
<line x1="632.8" y1="270.6" x2="632.8" y2="277.4" stroke="#1a1a1a" stroke-width="1.3"/>
<text x="632.8" y="291" font-size="14.8" text-anchor="middle">20</text>
<line x1="675.5" y1="270.6" x2="675.5" y2="277.4" stroke="#1a1a1a" stroke-width="1.3"/>
<text x="675.5" y="291" font-size="14.8" text-anchor="middle">30</text>
<text x="544.8" y="312" font-size="18.5" text-anchor="middle"><tspan font-style="italic">t</tspan>SNE 1</text>
<text transform="translate(384.6,148.5) rotate(-90)" font-size="18.5" text-anchor="middle"><tspan font-style="italic">t</tspan>SNE 2</text>
<circle cx="270" cy="10.7" r="4.1" fill="#a7a8aa"/>
<text x="281.6" y="15.8" font-size="17" text-anchor="start">PBS</text>
<circle cx="270" cy="29.7" r="4.1" fill="#f9b215"/>
<text x="281.6" y="35" font-size="17" text-anchor="start">IL-25</text>
<circle cx="270" cy="48.7" r="4.1" fill="#2a3fbd"/>
<text x="281.6" y="54" font-size="17" text-anchor="start">IL-33</text>
<text x="431.3" y="15.8" font-size="17.6" text-anchor="start">Cluster</text>
<circle cx="618.7" cy="253.6" r="10.3" fill="#fff" fill-opacity="0.86" stroke="#111" stroke-width="1.4"/><text x="618.7" y="258.6" font-size="14" text-anchor="middle">1</text><circle cx="659.6" cy="224" r="10.3" fill="#fff" fill-opacity="0.86" stroke="#111" stroke-width="1.4"/><text x="659.6" y="229" font-size="14" text-anchor="middle">2</text><circle cx="576.8" cy="175" r="10.3" fill="#fff" fill-opacity="0.86" stroke="#111" stroke-width="1.4"/><text x="576.8" y="180" font-size="14" text-anchor="middle">3</text><circle cx="605" cy="113.5" r="10.3" fill="#fff" fill-opacity="0.86" stroke="#111" stroke-width="1.4"/><text x="605" y="118.5" font-size="14" text-anchor="middle">4</text><circle cx="564.5" cy="74.3" r="10.3" fill="#fff" fill-opacity="0.86" stroke="#111" stroke-width="1.4"/><text x="564.5" y="79.3" font-size="14" text-anchor="middle">5</text><circle cx="652" cy="151.5" r="10.3" fill="#fff" fill-opacity="0.86" stroke="#111" stroke-width="1.4"/><text x="652" y="156.5" font-size="14" text-anchor="middle">6</text><circle cx="462.5" cy="184.8" r="10.3" fill="#fff" fill-opacity="0.86" stroke="#111" stroke-width="1.4"/><text x="462.5" y="189.8" font-size="14" text-anchor="middle">7</text><circle cx="476.8" cy="233.2" r="10.3" fill="#fff" fill-opacity="0.86" stroke="#111" stroke-width="1.4"/><text x="476.8" y="238.2" font-size="14" text-anchor="middle">8</text><circle cx="521.8" cy="69.2" r="10.3" fill="#fff" fill-opacity="0.86" stroke="#111" stroke-width="1.4"/><text x="521.8" y="74.2" font-size="14" text-anchor="middle">9</text><circle cx="458.4" cy="57.9" r="10.3" fill="#fff" fill-opacity="0.86" stroke="#111" stroke-width="1.4"/><text x="458.4" y="62.9" font-size="14" text-anchor="middle">10</text><circle cx="472.1" cy="119.6" r="10.3" fill="#fff" fill-opacity="0.86" stroke="#111" stroke-width="1.4"/><text x="472.1" y="124.6" font-size="14" text-anchor="middle">11</text>
<rect x="64" y="472.1" width="10.6" height="1.2" fill="#6e6048" stroke="#111" stroke-width="1.1"/>
<rect x="64" y="457.7" width="10.6" height="14.4" fill="#f8d210" stroke="#111" stroke-width="1.1"/>
<rect x="64" y="451.9" width="10.6" height="5.7" fill="#4472ee" stroke="#111" stroke-width="1.1"/>
<rect x="64" y="427.9" width="10.6" height="24" fill="#f86466" stroke="#111" stroke-width="1.1"/>
<rect x="64" y="377.5" width="10.6" height="50.4" fill="#5ec51c" stroke="#111" stroke-width="1.1"/>
<line x1="69.3" y1="478" x2="69.3" y2="482" stroke="#1a1a1a" stroke-width="1.2"/>
<text x="69.3" y="494.9" font-size="13.2" text-anchor="middle">1</text>
<rect x="79" y="471.4" width="10.6" height="1.9" fill="#6e6048" stroke="#111" stroke-width="1.1"/>
<rect x="79" y="450.2" width="10.6" height="21.2" fill="#f8d210" stroke="#111" stroke-width="1.1"/>
<rect x="79" y="426.6" width="10.6" height="23.6" fill="#4472ee" stroke="#111" stroke-width="1.1"/>
<rect x="79" y="380.8" width="10.6" height="45.9" fill="#f86466" stroke="#111" stroke-width="1.1"/>
<rect x="79" y="377.5" width="10.6" height="3.3" fill="#5ec51c" stroke="#111" stroke-width="1.1"/>
<line x1="84.3" y1="478" x2="84.3" y2="482" stroke="#1a1a1a" stroke-width="1.2"/>
<text x="84.3" y="494.9" font-size="13.2" text-anchor="middle">2</text>
<rect x="93.9" y="470" width="10.6" height="3.3" fill="#6e6048" stroke="#111" stroke-width="1.1"/>
<rect x="93.9" y="378" width="10.6" height="92.1" fill="#f86466" stroke="#111" stroke-width="1.1"/>
<rect x="93.9" y="377.5" width="10.6" height="0.5" fill="#5ec51c" stroke="#111" stroke-width="1.1"/>
<line x1="99.2" y1="478" x2="99.2" y2="482" stroke="#1a1a1a" stroke-width="1.2"/>
<text x="99.2" y="494.9" font-size="13.2" text-anchor="middle">3</text>
<rect x="108.9" y="472.2" width="10.6" height="1.1" fill="#6e6048" stroke="#111" stroke-width="1.1"/>
<rect x="108.9" y="377.5" width="10.6" height="94.7" fill="#f86466" stroke="#111" stroke-width="1.1"/>
<line x1="114.2" y1="478" x2="114.2" y2="482" stroke="#1a1a1a" stroke-width="1.2"/>
<text x="114.2" y="494.9" font-size="13.2" text-anchor="middle">4</text>
<rect x="123.9" y="472.3" width="10.6" height="1" fill="#6e6048" stroke="#111" stroke-width="1.1"/>
<rect x="123.9" y="377.5" width="10.6" height="94.8" fill="#f86466" stroke="#111" stroke-width="1.1"/>
<line x1="129.2" y1="478" x2="129.2" y2="482" stroke="#1a1a1a" stroke-width="1.2"/>
<text x="129.2" y="494.9" font-size="13.2" text-anchor="middle">5</text>
<rect x="138.9" y="472.5" width="10.6" height="0.8" fill="#6e6048" stroke="#111" stroke-width="1.1"/>
<rect x="138.9" y="466.3" width="10.6" height="6.2" fill="#f8d210" stroke="#111" stroke-width="1.1"/>
<rect x="138.9" y="451.5" width="10.6" height="14.8" fill="#4472ee" stroke="#111" stroke-width="1.1"/>
<rect x="138.9" y="380.4" width="10.6" height="71.1" fill="#f86466" stroke="#111" stroke-width="1.1"/>
<rect x="138.9" y="377.5" width="10.6" height="2.9" fill="#5ec51c" stroke="#111" stroke-width="1.1"/>
<line x1="144.2" y1="478" x2="144.2" y2="482" stroke="#1a1a1a" stroke-width="1.2"/>
<text x="144.2" y="494.9" font-size="13.2" text-anchor="middle">6</text>
<rect x="153.8" y="472.5" width="10.6" height="0.8" fill="#6e6048" stroke="#111" stroke-width="1.1"/>
<rect x="153.8" y="465.2" width="10.6" height="7.4" fill="#f8d210" stroke="#111" stroke-width="1.1"/>
<rect x="153.8" y="462.1" width="10.6" height="3.1" fill="#4472ee" stroke="#111" stroke-width="1.1"/>
<rect x="153.8" y="382" width="10.6" height="80.1" fill="#f86466" stroke="#111" stroke-width="1.1"/>
<rect x="153.8" y="377.5" width="10.6" height="4.5" fill="#5ec51c" stroke="#111" stroke-width="1.1"/>
<line x1="159.1" y1="478" x2="159.1" y2="482" stroke="#1a1a1a" stroke-width="1.2"/>
<text x="159.1" y="494.9" font-size="13.2" text-anchor="middle">7</text>
<rect x="168.8" y="377.5" width="10.6" height="95.8" fill="#f86466" stroke="#111" stroke-width="1.1"/>
<line x1="174.1" y1="478" x2="174.1" y2="482" stroke="#1a1a1a" stroke-width="1.2"/>
<text x="174.1" y="494.9" font-size="13.2" text-anchor="middle">8</text>
<rect x="183.8" y="377.5" width="10.6" height="95.8" fill="#f86466" stroke="#111" stroke-width="1.1"/>
<line x1="189.1" y1="478" x2="189.1" y2="482" stroke="#1a1a1a" stroke-width="1.2"/>
<text x="189.1" y="494.9" font-size="13.2" text-anchor="middle">9</text>
<rect x="198.7" y="470.8" width="10.6" height="2.5" fill="#6e6048" stroke="#111" stroke-width="1.1"/>
<rect x="198.7" y="377.5" width="10.6" height="93.3" fill="#f86466" stroke="#111" stroke-width="1.1"/>
<line x1="204" y1="478" x2="204" y2="482" stroke="#1a1a1a" stroke-width="1.2"/>
<text x="204" y="494.9" font-size="13.2" text-anchor="middle">10</text>
<rect x="213.7" y="472.3" width="10.6" height="1" fill="#6e6048" stroke="#111" stroke-width="1.1"/>
<rect x="213.7" y="377.5" width="10.6" height="94.8" fill="#f86466" stroke="#111" stroke-width="1.1"/>
<line x1="219" y1="478" x2="219" y2="482" stroke="#1a1a1a" stroke-width="1.2"/>
<text x="219" y="494.9" font-size="13.2" text-anchor="middle">11</text>
<line x1="60.3" y1="373" x2="60.3" y2="478.6" stroke="#1a1a1a" stroke-width="1.2"/>
<line x1="59.7" y1="478" x2="227.2" y2="478" stroke="#1a1a1a" stroke-width="1.2"/>
<line x1="55.8" y1="377.5" x2="60.3" y2="377.5" stroke="#1a1a1a" stroke-width="1.2"/>
<text x="53.8" y="382.1" font-size="13" text-anchor="end">1.00</text>
<line x1="55.8" y1="401.4" x2="60.3" y2="401.4" stroke="#1a1a1a" stroke-width="1.2"/>
<text x="53.8" y="406.1" font-size="13" text-anchor="end">0.75</text>
<line x1="55.8" y1="425.4" x2="60.3" y2="425.4" stroke="#1a1a1a" stroke-width="1.2"/>
<text x="53.8" y="430" font-size="13" text-anchor="end">0.50</text>
<line x1="55.8" y1="449.4" x2="60.3" y2="449.4" stroke="#1a1a1a" stroke-width="1.2"/>
<text x="53.8" y="454" font-size="13" text-anchor="end">0.25</text>
<line x1="55.8" y1="473.3" x2="60.3" y2="473.3" stroke="#1a1a1a" stroke-width="1.2"/>
<text x="53.8" y="477.9" font-size="13" text-anchor="end">0.00</text>
<text transform="translate(14.7,421.8) rotate(-90)" font-size="19.4" text-anchor="middle">Proportion</text>
<text x="143.7" y="514.5" font-size="19" text-anchor="middle">Cluster</text>
<rect x="66" y="336.5" width="9.6" height="9.6" fill="#5ec51c" stroke="#111" stroke-width="1.3"/>
<text x="79.8" y="346.2" font-size="16.2" text-anchor="start">ILC1</text>
<rect x="124.2" y="336.5" width="9.6" height="9.6" fill="#f86466" stroke="#111" stroke-width="1.3"/>
<text x="136.6" y="346.2" font-size="16.2" text-anchor="start">ILC2</text>
<rect x="180.5" y="336.5" width="9.6" height="9.6" fill="#4472ee" stroke="#111" stroke-width="1.3"/>
<text x="193" y="346.2" font-size="16.2" text-anchor="start">ILC3</text>
<rect x="66" y="356.3" width="9.6" height="9.6" fill="#f8d210" stroke="#111" stroke-width="1.3"/>
<text x="79.8" y="366" font-size="16.2" text-anchor="start">Mixed</text>
<rect x="132.3" y="356.3" width="9.6" height="9.6" fill="#8a8a8a" stroke="#111" stroke-width="1.3"/>
<text x="145.6" y="366" font-size="16.2" text-anchor="start">None</text>
<rect x="301.6" y="459.5" width="10.6" height="13.8" fill="#0e0ebf" stroke="#111" stroke-width="1.1"/>
<rect x="301.6" y="435" width="10.6" height="24.5" fill="#fbb416" stroke="#111" stroke-width="1.1"/>
<rect x="301.6" y="377.5" width="10.6" height="57.5" fill="#9b9b9b" stroke="#111" stroke-width="1.1"/>
<line x1="306.9" y1="478" x2="306.9" y2="482" stroke="#1a1a1a" stroke-width="1.2"/>
<text x="306.9" y="494.9" font-size="13.2" text-anchor="middle">1</text>
<rect x="316.6" y="472.1" width="10.6" height="1.2" fill="#0e0ebf" stroke="#111" stroke-width="1.1"/>
<rect x="316.6" y="414.1" width="10.6" height="58" fill="#fbb416" stroke="#111" stroke-width="1.1"/>
<rect x="316.6" y="377.5" width="10.6" height="36.6" fill="#9b9b9b" stroke="#111" stroke-width="1.1"/>
<line x1="321.9" y1="478" x2="321.9" y2="482" stroke="#1a1a1a" stroke-width="1.2"/>
<text x="321.9" y="494.9" font-size="13.2" text-anchor="middle">2</text>
<rect x="331.5" y="465.2" width="10.6" height="8.1" fill="#fbb416" stroke="#111" stroke-width="1.1"/>
<rect x="331.5" y="377.5" width="10.6" height="87.7" fill="#9b9b9b" stroke="#111" stroke-width="1.1"/>
<line x1="336.8" y1="478" x2="336.8" y2="482" stroke="#1a1a1a" stroke-width="1.2"/>
<text x="336.8" y="494.9" font-size="13.2" text-anchor="middle">3</text>
<rect x="346.5" y="472.7" width="10.6" height="0.6" fill="#0e0ebf" stroke="#111" stroke-width="1.1"/>
<rect x="346.5" y="462.3" width="10.6" height="10.4" fill="#fbb416" stroke="#111" stroke-width="1.1"/>
<rect x="346.5" y="377.5" width="10.6" height="84.8" fill="#9b9b9b" stroke="#111" stroke-width="1.1"/>
<line x1="351.8" y1="478" x2="351.8" y2="482" stroke="#1a1a1a" stroke-width="1.2"/>
<text x="351.8" y="494.9" font-size="13.2" text-anchor="middle">4</text>
<rect x="361.5" y="464" width="10.6" height="9.3" fill="#0e0ebf" stroke="#111" stroke-width="1.1"/>
<rect x="361.5" y="378.5" width="10.6" height="85.5" fill="#fbb416" stroke="#111" stroke-width="1.1"/>
<rect x="361.5" y="377.5" width="10.6" height="1" fill="#9b9b9b" stroke="#111" stroke-width="1.1"/>
<line x1="366.8" y1="478" x2="366.8" y2="482" stroke="#1a1a1a" stroke-width="1.2"/>
<text x="366.8" y="494.9" font-size="13.2" text-anchor="middle">5</text>
<rect x="376.5" y="436.4" width="10.6" height="36.9" fill="#0e0ebf" stroke="#111" stroke-width="1.1"/>
<rect x="376.5" y="400.1" width="10.6" height="36.3" fill="#fbb416" stroke="#111" stroke-width="1.1"/>
<rect x="376.5" y="377.5" width="10.6" height="22.6" fill="#9b9b9b" stroke="#111" stroke-width="1.1"/>
<line x1="381.8" y1="478" x2="381.8" y2="482" stroke="#1a1a1a" stroke-width="1.2"/>
<text x="381.8" y="494.9" font-size="13.2" text-anchor="middle">6</text>
<rect x="391.4" y="405" width="10.6" height="68.3" fill="#0e0ebf" stroke="#111" stroke-width="1.1"/>
<rect x="391.4" y="384.1" width="10.6" height="20.9" fill="#fbb416" stroke="#111" stroke-width="1.1"/>
<rect x="391.4" y="377.5" width="10.6" height="6.6" fill="#9b9b9b" stroke="#111" stroke-width="1.1"/>
<line x1="396.7" y1="478" x2="396.7" y2="482" stroke="#1a1a1a" stroke-width="1.2"/>
<text x="396.7" y="494.9" font-size="13.2" text-anchor="middle">7</text>
<rect x="406.4" y="446" width="10.6" height="27.3" fill="#0e0ebf" stroke="#111" stroke-width="1.1"/>
<rect x="406.4" y="377.5" width="10.6" height="68.5" fill="#fbb416" stroke="#111" stroke-width="1.1"/>
<line x1="411.7" y1="478" x2="411.7" y2="482" stroke="#1a1a1a" stroke-width="1.2"/>
<text x="411.7" y="494.9" font-size="13.2" text-anchor="middle">8</text>
<rect x="421.4" y="394" width="10.6" height="79.3" fill="#0e0ebf" stroke="#111" stroke-width="1.1"/>
<rect x="421.4" y="377.5" width="10.6" height="16.5" fill="#fbb416" stroke="#111" stroke-width="1.1"/>
<line x1="426.7" y1="478" x2="426.7" y2="482" stroke="#1a1a1a" stroke-width="1.2"/>
<text x="426.7" y="494.9" font-size="13.2" text-anchor="middle">9</text>
<rect x="436.3" y="384.1" width="10.6" height="89.2" fill="#0e0ebf" stroke="#111" stroke-width="1.1"/>
<rect x="436.3" y="377.5" width="10.6" height="6.6" fill="#fbb416" stroke="#111" stroke-width="1.1"/>
<line x1="441.6" y1="478" x2="441.6" y2="482" stroke="#1a1a1a" stroke-width="1.2"/>
<text x="441.6" y="494.9" font-size="13.2" text-anchor="middle">10</text>
<rect x="451.3" y="383.4" width="10.6" height="89.9" fill="#0e0ebf" stroke="#111" stroke-width="1.1"/>
<rect x="451.3" y="377.5" width="10.6" height="5.9" fill="#fbb416" stroke="#111" stroke-width="1.1"/>
<line x1="456.6" y1="478" x2="456.6" y2="482" stroke="#1a1a1a" stroke-width="1.2"/>
<text x="456.6" y="494.9" font-size="13.2" text-anchor="middle">11</text>
<line x1="298.2" y1="372.5" x2="298.2" y2="478.6" stroke="#1a1a1a" stroke-width="1.2"/>
<line x1="297.6" y1="478" x2="465.3" y2="478" stroke="#1a1a1a" stroke-width="1.2"/>
<line x1="293.7" y1="377.5" x2="298.2" y2="377.5" stroke="#1a1a1a" stroke-width="1.2"/>
<text x="292" y="382.1" font-size="13" text-anchor="end">1.00</text>
<line x1="293.7" y1="401.4" x2="298.2" y2="401.4" stroke="#1a1a1a" stroke-width="1.2"/>
<text x="292" y="406.1" font-size="13" text-anchor="end">0.75</text>
<line x1="293.7" y1="425.4" x2="298.2" y2="425.4" stroke="#1a1a1a" stroke-width="1.2"/>
<text x="292" y="430" font-size="13" text-anchor="end">0.50</text>
<line x1="293.7" y1="449.4" x2="298.2" y2="449.4" stroke="#1a1a1a" stroke-width="1.2"/>
<text x="292" y="454" font-size="13" text-anchor="end">0.25</text>
<line x1="293.7" y1="473.3" x2="298.2" y2="473.3" stroke="#1a1a1a" stroke-width="1.2"/>
<text x="292" y="477.9" font-size="13" text-anchor="end">0.00</text>
<text transform="translate(255,421.8) rotate(-90)" font-size="19.4" text-anchor="middle">Proportion</text>
<text x="381.8" y="514.5" font-size="19" text-anchor="middle">Cluster</text>
<rect x="304.3" y="336.5" width="9.6" height="9.6" fill="#9b9b9b" stroke="#111" stroke-width="1.3"/>
<text x="317.8" y="346.2" font-size="16.2" text-anchor="start">PBS</text>
<rect x="370.6" y="336.5" width="9.6" height="9.6" fill="#fbb416" stroke="#111" stroke-width="1.3"/>
<text x="383.3" y="346.2" font-size="16.2" text-anchor="start">IL-25</text>
<rect x="304.3" y="356.3" width="9.6" height="9.6" fill="#0e0ebf" stroke="#111" stroke-width="1.3"/>
<text x="317.8" y="366" font-size="16.2" text-anchor="start">IL-33</text>
<line x1="517.7" y1="373.8" x2="517.7" y2="478.5" stroke="#1a1a1a" stroke-width="1.3"/>
<line x1="517.1" y1="477.9" x2="683.6" y2="477.9" stroke="#1a1a1a" stroke-width="1.3"/>
<line x1="512.7" y1="473.1" x2="517.7" y2="473.1" stroke="#1a1a1a" stroke-width="1.2"/>
<text x="510.4" y="477.5" font-size="12.5" text-anchor="end">0.0</text>
<line x1="512.7" y1="446.9" x2="517.7" y2="446.9" stroke="#1a1a1a" stroke-width="1.2"/>
<text x="510.4" y="451.3" font-size="12.5" text-anchor="end">0.5</text>
<line x1="512.7" y1="420.7" x2="517.7" y2="420.7" stroke="#1a1a1a" stroke-width="1.2"/>
<text x="510.4" y="425.1" font-size="12.5" text-anchor="end">1.0</text>
<line x1="512.7" y1="394.5" x2="517.7" y2="394.5" stroke="#1a1a1a" stroke-width="1.2"/>
<text x="510.4" y="398.9" font-size="12.5" text-anchor="end">1.5</text>
<text transform="translate(485.3,423.8) rotate(-90)" font-size="19" text-anchor="middle">Score</text>
<text x="521.8" y="364.5" font-size="16.2" text-anchor="start">Proliferation</text>
<text x="601.4" y="515.8" font-size="19" text-anchor="middle">Cluster</text>
<line x1="526.4" y1="402.2" x2="526.4" y2="457" stroke="#222" stroke-width="1.4"/><path d="M526.1,455.0 525.7,460.0 524.6,463.0 521.9,466.0 519.7,468.5 521.9,470.5 526.4,473.4 526.4,473.4 530.9,470.5 533.1,468.5 530.9,466.0 528.2,463.0 527.1,460.0 526.7,455.0Z" fill="#78c26c" stroke="#222" stroke-width="0.8" stroke-linejoin="round"/><line x1="519.9" y1="468.3" x2="532.9" y2="468.3" stroke="#222" stroke-width="0.8"/><path d="M526.4,462.4 L529.7,465.7 L526.4,469.0 L523.1,465.7Z" fill="#fff" stroke="#111" stroke-width="1.1"/><line x1="541.3" y1="409.1" x2="541.3" y2="459" stroke="#222" stroke-width="1.4"/><path d="M541.0,457.0 540.4,461.0 538.3,464.0 534.6,467.5 537.3,470.5 541.3,473.4 541.3,473.4 545.3,470.5 548.0,467.5 544.3,464.0 542.2,461.0 541.6,457.0Z" fill="#5b90cf" stroke="#222" stroke-width="0.8" stroke-linejoin="round"/><line x1="535.5" y1="468.5" x2="547.1" y2="468.5" stroke="#222" stroke-width="0.8"/><path d="M541.3,462.3 L544.6,465.6 L541.3,468.9 L538.0,465.6Z" fill="#fff" stroke="#111" stroke-width="1.1"/><line x1="556.2" y1="420.7" x2="556.2" y2="464" stroke="#222" stroke-width="1.4"/><path d="M555.9,462.0 554.7,465.0 552.2,467.0 549.2,469.0 552.2,471.0 556.2,473.3 556.2,473.3 560.2,471.0 563.2,469.0 560.2,467.0 557.7,465.0 556.5,462.0Z" fill="#ababab" stroke="#222" stroke-width="0.8" stroke-linejoin="round"/><path d="M556.2,465.2 L559.5,468.5 L556.2,471.8 L552.9,468.5Z" fill="#fff" stroke="#111" stroke-width="1.1"/><line x1="571.1" y1="417.5" x2="571.1" y2="464" stroke="#222" stroke-width="1.4"/><path d="M570.8,462.0 569.6,465.0 567.1,467.0 564.1,469.0 567.1,471.0 571.1,473.3 571.1,473.3 575.1,471.0 578.1,469.0 575.1,467.0 572.6,465.0 571.4,462.0Z" fill="#d9b88b" stroke="#222" stroke-width="0.8" stroke-linejoin="round"/><path d="M571.1,465.2 L574.4,468.5 L571.1,471.8 L567.8,468.5Z" fill="#fff" stroke="#111" stroke-width="1.1"/><line x1="586.0" y1="419.3" x2="586.0" y2="460" stroke="#222" stroke-width="1.4"/><path d="M585.7,458.0 584.5,462.0 582.0,464.5 579.8,467.0 582.5,470.0 586.0,473.3 586.0,473.3 589.5,470.0 592.2,467.0 590.0,464.5 587.5,462.0 586.3,458.0Z" fill="#9ccf5e" stroke="#222" stroke-width="0.8" stroke-linejoin="round"/><line x1="580.3" y1="467.5" x2="591.8" y2="467.5" stroke="#222" stroke-width="0.8"/><path d="M586.0,461.7 L589.3,465.0 L586.0,468.3 L582.7,465.0Z" fill="#fff" stroke="#111" stroke-width="1.1"/><line x1="600.9" y1="424.1" x2="600.9" y2="450" stroke="#222" stroke-width="1.4"/><path d="M600.6,448.0 599.9,452.0 599.1,458.0 597.9,461.0 595.4,464.0 594.7,467.0 596.9,470.0 600.9,473.3 600.9,473.3 604.9,470.0 607.1,467.0 606.4,464.0 603.9,461.0 602.7,458.0 601.9,452.0 601.2,448.0Z" fill="#d4940f" stroke="#222" stroke-width="0.8" stroke-linejoin="round"/><line x1="595.4" y1="467.9" x2="606.5" y2="467.9" stroke="#222" stroke-width="0.8"/><path d="M600.9,460.2 L604.2,463.5 L600.9,466.8 L597.6,463.5Z" fill="#fff" stroke="#111" stroke-width="1.1"/><line x1="615.9" y1="381.8" x2="615.9" y2="390" stroke="#222" stroke-width="1.4"/><path d="M615.6,388.0 615.2,391.5 613.0,398.7 610.9,405.9 610.9,411.6 612.0,417.4 613.0,424.5 613.5,431.7 613.7,438.9 613.5,446.1 612.0,453.2 610.2,460.4 610.9,467.6 613.0,471.9 615.9,473.1 615.9,473.1 618.8,471.9 620.9,467.6 621.6,460.4 619.8,453.2 618.3,446.1 618.1,438.9 618.3,431.7 618.8,424.5 619.8,417.4 620.9,411.6 620.9,405.9 618.8,398.7 616.6,391.5 616.2,388.0Z" fill="#f9cb30" stroke="#222" stroke-width="0.8" stroke-linejoin="round"/><line x1="611.1" y1="412.8" x2="620.6" y2="412.8" stroke="#222" stroke-width="0.8"/><line x1="610.2" y1="460.1" x2="621.5" y2="460.1" stroke="#222" stroke-width="0.8"/><path d="M615.9,432.7 L619.2,436.0 L615.9,439.3 L612.6,436.0Z" fill="#fff" stroke="#111" stroke-width="1.1"/><line x1="630.8" y1="386.1" x2="630.8" y2="450" stroke="#222" stroke-width="1.4"/><path d="M630.5,448.0 629.8,453.2 627.8,456.0 625.3,460.0 624.1,463.0 625.3,467.0 627.8,470.0 630.8,472.0 630.8,472.0 633.8,470.0 636.3,467.0 637.5,463.0 636.3,460.0 633.8,456.0 631.8,453.2 631.1,448.0Z" fill="#f24a10" stroke="#222" stroke-width="0.8" stroke-linejoin="round"/><line x1="624.6" y1="464.7" x2="637.0" y2="464.7" stroke="#222" stroke-width="0.8"/><path d="M630.8,449.2 L634.1,452.5 L630.8,455.8 L627.5,452.5Z" fill="#fff" stroke="#111" stroke-width="1.1"/><line x1="645.7" y1="411.6" x2="645.7" y2="447" stroke="#222" stroke-width="1.4"/><path d="M645.4,445.0 644.7,447.5 644.2,450.5 641.7,456.0 639.2,460.0 640.7,464.7 643.2,469.0 645.7,471.2 645.7,471.2 648.2,469.0 650.7,464.7 652.2,460.0 649.7,456.0 647.2,450.5 646.7,447.5 646.0,445.0Z" fill="#f0a020" stroke="#222" stroke-width="0.8" stroke-linejoin="round"/><line x1="640.3" y1="463.6" x2="651.0" y2="463.6" stroke="#222" stroke-width="0.8"/><path d="M645.7,456.8 L649.0,460.1 L645.7,463.4 L642.4,460.1Z" fill="#fff" stroke="#111" stroke-width="1.1"/><line x1="660.6" y1="378.3" x2="660.6" y2="422" stroke="#222" stroke-width="1.4"/><path d="M660.3,420.0 659.6,427.4 658.4,441.8 657.6,447.5 654.6,453.2 653.6,459.0 655.1,464.7 658.1,470.5 660.6,472.0 660.6,472.0 663.1,470.5 666.1,464.7 667.6,459.0 666.6,453.2 663.6,447.5 662.8,441.8 661.6,427.4 660.9,420.0Z" fill="#f86a50" stroke="#222" stroke-width="0.8" stroke-linejoin="round"/><line x1="654.0" y1="460.4" x2="667.2" y2="460.4" stroke="#222" stroke-width="0.8"/><path d="M660.6,445.4 L663.9,448.7 L660.6,452.0 L657.3,448.7Z" fill="#fff" stroke="#111" stroke-width="1.1"/><line x1="675.5" y1="381.2" x2="675.5" y2="387" stroke="#222" stroke-width="1.4"/><path d="M675.2,385.0 674.5,391.5 673.0,398.7 671.0,405.9 669.0,411.6 668.8,417.4 670.0,424.5 671.0,431.7 672.0,438.9 673.0,446.1 674.0,453.2 675.0,461.9 675.5,465.4 675.5,465.4 676.0,461.9 677.0,453.2 678.0,446.1 679.0,438.9 680.0,431.7 681.0,424.5 682.2,417.4 682.0,411.6 680.0,405.9 678.0,398.7 676.5,391.5 675.8,385.0Z" fill="#da8fda" stroke="#222" stroke-width="0.8" stroke-linejoin="round"/><line x1="669.4" y1="410.5" x2="681.6" y2="410.5" stroke="#222" stroke-width="0.8"/><line x1="671.3" y1="433.9" x2="679.7" y2="433.9" stroke="#222" stroke-width="0.8"/><path d="M675.5,419.5 L678.8,422.8 L675.5,426.1 L672.2,422.8Z" fill="#fff" stroke="#111" stroke-width="1.1"/>
<line x1="526.4" y1="477.9" x2="526.4" y2="482" stroke="#1a1a1a" stroke-width="1.2"/>
<text x="526.4" y="494.9" font-size="13.2" text-anchor="middle">1</text>
<line x1="541.3" y1="477.9" x2="541.3" y2="482" stroke="#1a1a1a" stroke-width="1.2"/>
<text x="541.3" y="494.9" font-size="13.2" text-anchor="middle">2</text>
<line x1="556.2" y1="477.9" x2="556.2" y2="482" stroke="#1a1a1a" stroke-width="1.2"/>
<text x="556.2" y="494.9" font-size="13.2" text-anchor="middle">3</text>
<line x1="571.1" y1="477.9" x2="571.1" y2="482" stroke="#1a1a1a" stroke-width="1.2"/>
<text x="571.1" y="494.9" font-size="13.2" text-anchor="middle">4</text>
<line x1="586" y1="477.9" x2="586" y2="482" stroke="#1a1a1a" stroke-width="1.2"/>
<text x="586" y="494.9" font-size="13.2" text-anchor="middle">5</text>
<line x1="600.9" y1="477.9" x2="600.9" y2="482" stroke="#1a1a1a" stroke-width="1.2"/>
<text x="600.9" y="494.9" font-size="13.2" text-anchor="middle">6</text>
<line x1="615.9" y1="477.9" x2="615.9" y2="482" stroke="#1a1a1a" stroke-width="1.2"/>
<text x="615.9" y="494.9" font-size="13.2" text-anchor="middle">7</text>
<line x1="630.8" y1="477.9" x2="630.8" y2="482" stroke="#1a1a1a" stroke-width="1.2"/>
<text x="630.8" y="494.9" font-size="13.2" text-anchor="middle">8</text>
<line x1="645.7" y1="477.9" x2="645.7" y2="482" stroke="#1a1a1a" stroke-width="1.2"/>
<text x="645.7" y="494.9" font-size="13.2" text-anchor="middle">9</text>
<line x1="660.6" y1="477.9" x2="660.6" y2="482" stroke="#1a1a1a" stroke-width="1.2"/>
<text x="660.6" y="494.9" font-size="13.2" text-anchor="middle">10</text>
<line x1="675.5" y1="477.9" x2="675.5" y2="482" stroke="#1a1a1a" stroke-width="1.2"/>
<text x="675.5" y="494.9" font-size="13.2" text-anchor="middle">11</text>
<circle cx="55.7" cy="546.0" r="2.9" fill="#1450d4"/><circle cx="55.7" cy="560.5" r="2.3" fill="#30d8d8"/><circle cx="55.7" cy="574.9" r="2.5" fill="#70e0a0"/><circle cx="55.7" cy="589.4" r="2.5" fill="#1eb0e6"/><circle cx="55.7" cy="603.8" r="2.5" fill="#a0e458"/><circle cx="55.7" cy="618.2" r="2.3" fill="#f66a0e"/><circle cx="55.7" cy="632.7" r="2.3" fill="#1eb0e6"/><circle cx="55.7" cy="647.1" r="2.1" fill="#1a7ede"/><circle cx="55.7" cy="661.6" r="2.1" fill="#1767d9"/><circle cx="55.7" cy="676.0" r="6.3" fill="#ec420c"/><circle cx="55.7" cy="690.5" r="6.3" fill="#ec420c"/><circle cx="71.1" cy="546.0" r="2.5" fill="#0a0ab4"/><circle cx="71.1" cy="560.5" r="3.1" fill="#f66a0e"/><circle cx="71.1" cy="574.9" r="2.3" fill="#1a7ede"/><circle cx="71.1" cy="589.4" r="5.7" fill="#f66a0e"/><circle cx="71.1" cy="603.8" r="3.8" fill="#f66a0e"/><circle cx="71.1" cy="618.2" r="3.5" fill="#f66a0e"/><circle cx="71.1" cy="632.7" r="2.5" fill="#1450d4"/><circle cx="71.1" cy="647.1" r="2.1" fill="#0a0ab4"/><circle cx="71.1" cy="661.6" r="2.1" fill="#1450d4"/><circle cx="71.1" cy="676.0" r="3.1" fill="#30d8d8"/><circle cx="71.1" cy="690.5" r="6.3" fill="#ec420c"/><circle cx="86.5" cy="546.0" r="5.0" fill="#0a0ab4"/><circle cx="86.5" cy="560.5" r="4.6" fill="#a0e458"/><circle cx="86.5" cy="574.9" r="4.6" fill="#70e0a0"/><circle cx="86.5" cy="589.4" r="4.2" fill="#70e0a0"/><circle cx="86.5" cy="603.8" r="5.4" fill="#f66a0e"/><circle cx="86.5" cy="618.2" r="4.4" fill="#f89010"/><circle cx="86.5" cy="632.7" r="4.8" fill="#70e0a0"/><circle cx="86.5" cy="647.1" r="3.8" fill="#0a0ab4"/><circle cx="86.5" cy="661.6" r="3.5" fill="#0a0ab4"/><circle cx="86.5" cy="676.0" r="2.9" fill="#1a7ede"/><circle cx="86.5" cy="690.5" r="5.8" fill="#c00a0a"/><circle cx="101.8" cy="546.0" r="1.7" fill="#1eb0e6"/><circle cx="101.8" cy="560.5" r="1.5" fill="#1eb0e6"/><circle cx="101.8" cy="574.9" r="1.7" fill="#f66a0e"/><circle cx="101.8" cy="589.4" r="1.7" fill="#70e0a0"/><circle cx="101.8" cy="603.8" r="1.9" fill="#f8b814"/><circle cx="101.8" cy="618.2" r="1.9" fill="#a0e458"/><circle cx="101.8" cy="632.7" r="1.7" fill="#30d8d8"/><circle cx="101.8" cy="647.1" r="1.5" fill="#d0ec40"/><circle cx="101.8" cy="661.6" r="1.5" fill="#1a7ede"/><circle cx="101.8" cy="676.0" r="4.8" fill="#f66a0e"/><circle cx="101.8" cy="690.5" r="1.9" fill="#f66a0e"/><circle cx="117.2" cy="546.0" r="4.4" fill="#1975dc"/><circle cx="117.2" cy="560.5" r="4.0" fill="#1eb0e6"/><circle cx="117.2" cy="574.9" r="4.6" fill="#f89010"/><circle cx="117.2" cy="589.4" r="5.0" fill="#e4e628"/><circle cx="117.2" cy="603.8" r="4.2" fill="#f8e010"/><circle cx="117.2" cy="618.2" r="5.2" fill="#f66a0e"/><circle cx="117.2" cy="632.7" r="4.2" fill="#30d8d8"/><circle cx="117.2" cy="647.1" r="4.0" fill="#1a7ede"/><circle cx="117.2" cy="661.6" r="4.0" fill="#1a7ede"/><circle cx="117.2" cy="676.0" r="5.7" fill="#ec420c"/><circle cx="117.2" cy="690.5" r="4.4" fill="#a0e458"/><circle cx="132.6" cy="546.0" r="4.6" fill="#f89010"/><circle cx="132.6" cy="560.5" r="4.4" fill="#f89010"/><circle cx="132.6" cy="574.9" r="4.8" fill="#ec420c"/><circle cx="132.6" cy="589.4" r="4.2" fill="#1eb0e6"/><circle cx="132.6" cy="603.8" r="4.2" fill="#1b8de0"/><circle cx="132.6" cy="618.2" r="2.9" fill="#1b8de0"/><circle cx="132.6" cy="632.7" r="4.4" fill="#f8e010"/><circle cx="132.6" cy="647.1" r="3.5" fill="#0a0ab4"/><circle cx="132.6" cy="661.6" r="4.2" fill="#1a7ede"/><circle cx="132.6" cy="676.0" r="6.3" fill="#f66a0e"/><circle cx="132.6" cy="690.5" r="6.3" fill="#f8b814"/><circle cx="148.0" cy="546.0" r="3.5" fill="#1eb0e6"/><circle cx="148.0" cy="560.5" r="3.1" fill="#70e0a0"/><circle cx="148.0" cy="574.9" r="4.6" fill="#f66a0e"/><circle cx="148.0" cy="589.4" r="2.7" fill="#1eb0e6"/><circle cx="148.0" cy="603.8" r="3.1" fill="#1b8de0"/><circle cx="148.0" cy="618.2" r="3.8" fill="#f66a0e"/><circle cx="148.0" cy="632.7" r="5.2" fill="#f77d0f"/><circle cx="148.0" cy="647.1" r="5.2" fill="#f8cc12"/><circle cx="148.0" cy="661.6" r="5.2" fill="#f8a412"/><circle cx="148.0" cy="676.0" r="4.0" fill="#a0e458"/><circle cx="148.0" cy="690.5" r="3.8" fill="#1eb0e6"/><circle cx="163.4" cy="546.0" r="4.8" fill="#d0ec40"/><circle cx="163.4" cy="560.5" r="4.6" fill="#f8e010"/><circle cx="163.4" cy="574.9" r="4.4" fill="#e2310b"/><circle cx="163.4" cy="589.4" r="4.4" fill="#f8a412"/><circle cx="163.4" cy="603.8" r="4.4" fill="#1450d4"/><circle cx="163.4" cy="618.2" r="3.8" fill="#c00a0a"/><circle cx="163.4" cy="632.7" r="4.2" fill="#ec420c"/><circle cx="163.4" cy="647.1" r="5.4" fill="#f77d0f"/><circle cx="163.4" cy="661.6" r="3.5" fill="#1a1a72"/><circle cx="163.4" cy="676.0" r="3.5" fill="#1a1a72"/><circle cx="163.4" cy="690.5" r="3.5" fill="#0a0ab4"/><circle cx="178.8" cy="546.0" r="6.9" fill="#f8a412"/><circle cx="178.8" cy="560.5" r="6.5" fill="#f89010"/><circle cx="178.8" cy="574.9" r="6.5" fill="#f1560d"/><circle cx="178.8" cy="589.4" r="6.3" fill="#f8cc12"/><circle cx="178.8" cy="603.8" r="6.3" fill="#27c4df"/><circle cx="178.8" cy="618.2" r="6.1" fill="#f66a0e"/><circle cx="178.8" cy="632.7" r="6.3" fill="#f89010"/><circle cx="178.8" cy="647.1" r="6.5" fill="#27c4df"/><circle cx="178.8" cy="661.6" r="6.5" fill="#1eb0e6"/><circle cx="178.8" cy="676.0" r="5.2" fill="#0a0ab4"/><circle cx="178.8" cy="690.5" r="5.6" fill="#1a7ede"/><circle cx="194.1" cy="546.0" r="4.0" fill="#1eb0e6"/><circle cx="194.1" cy="560.5" r="3.5" fill="#a0e458"/><circle cx="194.1" cy="574.9" r="4.0" fill="#f66a0e"/><circle cx="194.1" cy="589.4" r="2.7" fill="#70e0a0"/><circle cx="194.1" cy="603.8" r="4.2" fill="#d0ec40"/><circle cx="194.1" cy="618.2" r="4.2" fill="#f66a0e"/><circle cx="194.1" cy="632.7" r="4.6" fill="#f8a412"/><circle cx="194.1" cy="647.1" r="4.6" fill="#30d8d8"/><circle cx="194.1" cy="661.6" r="4.6" fill="#a0e458"/><circle cx="194.1" cy="676.0" r="4.4" fill="#a0e458"/><circle cx="194.1" cy="690.5" r="4.4" fill="#aae653"/><circle cx="209.5" cy="546.0" r="4.0" fill="#1450d4"/><circle cx="209.5" cy="560.5" r="4.0" fill="#1c97e2"/><circle cx="209.5" cy="574.9" r="4.2" fill="#f66a0e"/><circle cx="209.5" cy="589.4" r="2.7" fill="#1a7ede"/><circle cx="209.5" cy="603.8" r="3.8" fill="#a0e458"/><circle cx="209.5" cy="618.2" r="2.7" fill="#f66a0e"/><circle cx="209.5" cy="632.7" r="5.2" fill="#ec420c"/><circle cx="209.5" cy="647.1" r="2.1" fill="#1a7ede"/><circle cx="209.5" cy="661.6" r="2.1" fill="#1a7ede"/><circle cx="209.5" cy="676.0" r="2.3" fill="#1a7ede"/><circle cx="209.5" cy="690.5" r="2.3" fill="#f1560d"/><circle cx="224.9" cy="546.0" r="4.4" fill="#f6720e"/><circle cx="224.9" cy="560.5" r="4.0" fill="#f8a412"/><circle cx="224.9" cy="574.9" r="5.4" fill="#e2310b"/><circle cx="224.9" cy="589.4" r="3.8" fill="#1eb0e6"/><circle cx="224.9" cy="603.8" r="3.5" fill="#1767d9"/><circle cx="224.9" cy="618.2" r="4.6" fill="#f77d0f"/><circle cx="224.9" cy="632.7" r="5.4" fill="#f6720e"/><circle cx="224.9" cy="647.1" r="5.2" fill="#1eb0e6"/><circle cx="224.9" cy="661.6" r="5.2" fill="#1da1e4"/><circle cx="224.9" cy="676.0" r="4.0" fill="#1767d9"/><circle cx="224.9" cy="690.5" r="4.0" fill="#2bccdc"/><circle cx="240.3" cy="546.0" r="2.5" fill="#1767d9"/><circle cx="240.3" cy="560.5" r="3.1" fill="#d8200a"/><circle cx="240.3" cy="574.9" r="2.9" fill="#f66a0e"/><circle cx="240.3" cy="589.4" r="2.5" fill="#f8a412"/><circle cx="240.3" cy="603.8" r="2.5" fill="#0f2dc4"/><circle cx="240.3" cy="618.2" r="2.3" fill="#1a7ede"/><circle cx="240.3" cy="632.7" r="3.5" fill="#f1560d"/><circle cx="240.3" cy="647.1" r="2.1" fill="#1975dc"/><circle cx="240.3" cy="661.6" r="2.1" fill="#1767d9"/><circle cx="240.3" cy="676.0" r="2.1" fill="#1767d9"/><circle cx="240.3" cy="690.5" r="2.1" fill="#f66a0e"/><circle cx="255.7" cy="546.0" r="6.5" fill="#f8d411"/><circle cx="255.7" cy="560.5" r="6.1" fill="#f7850f"/><circle cx="255.7" cy="574.9" r="6.5" fill="#ec420c"/><circle cx="255.7" cy="589.4" r="4.8" fill="#1450d4"/><circle cx="255.7" cy="603.8" r="6.1" fill="#f8b814"/><circle cx="255.7" cy="618.2" r="6.1" fill="#f77d0f"/><circle cx="255.7" cy="632.7" r="6.5" fill="#f66a0e"/><circle cx="255.7" cy="647.1" r="5.8" fill="#1a7ede"/><circle cx="255.7" cy="661.6" r="6.1" fill="#1b88e0"/><circle cx="255.7" cy="676.0" r="3.8" fill="#0a0ab4"/><circle cx="255.7" cy="690.5" r="4.6" fill="#1eb0e6"/><circle cx="271.1" cy="546.0" r="2.7" fill="#1450d4"/><circle cx="271.1" cy="560.5" r="2.3" fill="#e4e628"/><circle cx="271.1" cy="574.9" r="2.5" fill="#f8b814"/><circle cx="271.1" cy="589.4" r="3.5" fill="#50dcbc"/><circle cx="271.1" cy="603.8" r="3.5" fill="#f1560d"/><circle cx="271.1" cy="618.2" r="4.8" fill="#f1560d"/><circle cx="271.1" cy="632.7" r="2.5" fill="#1a7ede"/><circle cx="271.1" cy="647.1" r="2.3" fill="#30d8d8"/><circle cx="271.1" cy="661.6" r="1.9" fill="#0a0ab4"/><circle cx="271.1" cy="676.0" r="2.1" fill="#1a7ede"/><circle cx="271.1" cy="690.5" r="4.0" fill="#f66a0e"/><circle cx="286.4" cy="546.0" r="5.4" fill="#0c18ba"/><circle cx="286.4" cy="560.5" r="5.0" fill="#1a7ede"/><circle cx="286.4" cy="574.9" r="5.2" fill="#d0ec40"/><circle cx="286.4" cy="589.4" r="6.1" fill="#f8e010"/><circle cx="286.4" cy="603.8" r="5.2" fill="#1da6e4"/><circle cx="286.4" cy="618.2" r="6.5" fill="#c00a0a"/><circle cx="286.4" cy="632.7" r="5.8" fill="#88e27c"/><circle cx="286.4" cy="647.1" r="6.1" fill="#dce832"/><circle cx="286.4" cy="661.6" r="5.8" fill="#a0e458"/><circle cx="286.4" cy="676.0" r="6.3" fill="#f8d411"/><circle cx="286.4" cy="690.5" r="6.1" fill="#f8b814"/><circle cx="301.8" cy="546.0" r="4.6" fill="#1975dc"/><circle cx="301.8" cy="560.5" r="4.2" fill="#1c97e2"/><circle cx="301.8" cy="574.9" r="4.2" fill="#dce832"/><circle cx="301.8" cy="589.4" r="5.6" fill="#f89010"/><circle cx="301.8" cy="603.8" r="5.0" fill="#1eb0e6"/><circle cx="301.8" cy="618.2" r="6.5" fill="#c00a0a"/><circle cx="301.8" cy="632.7" r="5.4" fill="#f88810"/><circle cx="301.8" cy="647.1" r="5.4" fill="#a0e458"/><circle cx="301.8" cy="661.6" r="5.0" fill="#2cd0db"/><circle cx="301.8" cy="676.0" r="5.2" fill="#2cd0db"/><circle cx="301.8" cy="690.5" r="4.8" fill="#1b8de0"/><circle cx="317.2" cy="546.0" r="3.5" fill="#1975dc"/><circle cx="317.2" cy="560.5" r="4.2" fill="#f66a0e"/><circle cx="317.2" cy="574.9" r="4.2" fill="#f66a0e"/><circle cx="317.2" cy="589.4" r="2.7" fill="#f66a0e"/><circle cx="317.2" cy="603.8" r="2.9" fill="#b8e84c"/><circle cx="317.2" cy="618.2" r="3.5" fill="#f1560d"/><circle cx="317.2" cy="632.7" r="3.5" fill="#f8e010"/><circle cx="317.2" cy="647.1" r="2.1" fill="#0f2dc4"/><circle cx="317.2" cy="661.6" r="2.1" fill="#1450d4"/><circle cx="317.2" cy="676.0" r="1.9" fill="#0f2dc4"/><circle cx="317.2" cy="690.5" r="2.5" fill="#70e0a0"/><circle cx="332.6" cy="546.0" r="6.3" fill="#f89010"/><circle cx="332.6" cy="560.5" r="5.8" fill="#f8cc12"/><circle cx="332.6" cy="574.9" r="5.2" fill="#f89010"/><circle cx="332.6" cy="589.4" r="6.5" fill="#f1560d"/><circle cx="332.6" cy="603.8" r="6.5" fill="#f6720e"/><circle cx="332.6" cy="618.2" r="4.4" fill="#f8e010"/><circle cx="332.6" cy="632.7" r="4.4" fill="#1b8de0"/><circle cx="332.6" cy="647.1" r="3.8" fill="#0d1fbe"/><circle cx="332.6" cy="661.6" r="4.0" fill="#1242ce"/><circle cx="332.6" cy="676.0" r="5.0" fill="#88e27c"/><circle cx="332.6" cy="690.5" r="5.2" fill="#d0ec40"/><circle cx="348.0" cy="546.0" r="3.5" fill="#0a0ab4"/><circle cx="348.0" cy="560.5" r="3.8" fill="#f66a0e"/><circle cx="348.0" cy="574.9" r="2.9" fill="#22b8e3"/><circle cx="348.0" cy="589.4" r="3.8" fill="#f66a0e"/><circle cx="348.0" cy="603.8" r="6.5" fill="#c00a0a"/><circle cx="348.0" cy="618.2" r="2.5" fill="#70e0a0"/><circle cx="348.0" cy="632.7" r="2.3" fill="#1767d9"/><circle cx="348.0" cy="647.1" r="1.9" fill="#1450d4"/><circle cx="348.0" cy="661.6" r="1.9" fill="#165ed7"/><circle cx="348.0" cy="676.0" r="1.9" fill="#0c18ba"/><circle cx="348.0" cy="690.5" r="2.5" fill="#f8cc12"/><circle cx="363.4" cy="546.0" r="4.6" fill="#0a0ab4"/><circle cx="363.4" cy="560.5" r="4.8" fill="#f1560d"/><circle cx="363.4" cy="574.9" r="4.4" fill="#f8e010"/><circle cx="363.4" cy="589.4" r="4.8" fill="#e2310b"/><circle cx="363.4" cy="603.8" r="6.7" fill="#c00a0a"/><circle cx="363.4" cy="618.2" r="4.4" fill="#a0e458"/><circle cx="363.4" cy="632.7" r="3.8" fill="#1975dc"/><circle cx="363.4" cy="647.1" r="2.7" fill="#1a1a72"/><circle cx="363.4" cy="661.6" r="2.7" fill="#1a1a72"/><circle cx="363.4" cy="676.0" r="2.9" fill="#1a1a72"/><circle cx="363.4" cy="690.5" r="3.3" fill="#f89010"/><circle cx="378.7" cy="546.0" r="5.2" fill="#f8a412"/><circle cx="378.7" cy="560.5" r="5.4" fill="#f66a0e"/><circle cx="378.7" cy="574.9" r="4.2" fill="#f66a0e"/><circle cx="378.7" cy="589.4" r="2.5" fill="#1a7ede"/><circle cx="378.7" cy="603.8" r="5.0" fill="#f66a0e"/><circle cx="378.7" cy="618.2" r="2.5" fill="#0f2dc4"/><circle cx="378.7" cy="632.7" r="2.3" fill="#1767d9"/><circle cx="378.7" cy="647.1" r="1.9" fill="#1767d9"/><circle cx="378.7" cy="661.6" r="1.9" fill="#1c97e2"/><circle cx="378.7" cy="676.0" r="1.9" fill="#70e0a0"/><circle cx="378.7" cy="690.5" r="2.5" fill="#f66a0e"/><circle cx="394.1" cy="546.0" r="4.6" fill="#27c4df"/><circle cx="394.1" cy="560.5" r="5.2" fill="#f66a0e"/><circle cx="394.1" cy="574.9" r="4.2" fill="#f6720e"/><circle cx="394.1" cy="589.4" r="5.2" fill="#f6720e"/><circle cx="394.1" cy="603.8" r="4.6" fill="#2cd0db"/><circle cx="394.1" cy="618.2" r="3.1" fill="#b8e84c"/><circle cx="394.1" cy="632.7" r="2.7" fill="#1eb0e6"/><circle cx="394.1" cy="647.1" r="2.1" fill="#1eb0e6"/><circle cx="394.1" cy="661.6" r="2.1" fill="#22b8e3"/><circle cx="394.1" cy="676.0" r="2.9" fill="#1eb0e6"/><circle cx="394.1" cy="690.5" r="2.9" fill="#f8a412"/><circle cx="409.5" cy="546.0" r="3.8" fill="#1b8de0"/><circle cx="409.5" cy="560.5" r="3.3" fill="#f8ac13"/><circle cx="409.5" cy="574.9" r="2.9" fill="#f8e010"/><circle cx="409.5" cy="589.4" r="4.6" fill="#d8200a"/><circle cx="409.5" cy="603.8" r="3.5" fill="#30d8d8"/><circle cx="409.5" cy="618.2" r="2.5" fill="#e2310b"/><circle cx="409.5" cy="632.7" r="2.7" fill="#1a7ede"/><circle cx="409.5" cy="647.1" r="1.9" fill="#1a7ede"/><circle cx="409.5" cy="661.6" r="1.9" fill="#151586"/><circle cx="409.5" cy="676.0" r="1.9" fill="#1a1a72"/><circle cx="409.5" cy="690.5" r="2.1" fill="#d8200a"/><circle cx="424.9" cy="546.0" r="6.3" fill="#f89010"/><circle cx="424.9" cy="560.5" r="6.3" fill="#e2310b"/><circle cx="424.9" cy="574.9" r="5.8" fill="#f35e0d"/><circle cx="424.9" cy="589.4" r="6.5" fill="#c00a0a"/><circle cx="424.9" cy="603.8" r="5.8" fill="#f8e010"/><circle cx="424.9" cy="618.2" r="4.8" fill="#f6720e"/><circle cx="424.9" cy="632.7" r="5.0" fill="#63deab"/><circle cx="424.9" cy="647.1" r="2.9" fill="#0c18ba"/><circle cx="424.9" cy="661.6" r="2.5" fill="#1a1a72"/><circle cx="424.9" cy="676.0" r="3.5" fill="#1a1a72"/><circle cx="424.9" cy="690.5" r="3.5" fill="#1b8de0"/><circle cx="440.3" cy="546.0" r="6.1" fill="#f89010"/><circle cx="440.3" cy="560.5" r="5.2" fill="#a0e458"/><circle cx="440.3" cy="574.9" r="6.1" fill="#f35e0d"/><circle cx="440.3" cy="589.4" r="6.3" fill="#f1560d"/><circle cx="440.3" cy="603.8" r="5.2" fill="#96e366"/><circle cx="440.3" cy="618.2" r="4.2" fill="#f6720e"/><circle cx="440.3" cy="632.7" r="5.6" fill="#ece41e"/><circle cx="440.3" cy="647.1" r="4.4" fill="#0a0ab4"/><circle cx="440.3" cy="661.6" r="4.6" fill="#0c18ba"/><circle cx="440.3" cy="676.0" r="3.5" fill="#1975dc"/><circle cx="440.3" cy="690.5" r="3.5" fill="#27c4df"/><circle cx="455.7" cy="546.0" r="4.4" fill="#30d8d8"/><circle cx="455.7" cy="560.5" r="3.8" fill="#f66a0e"/><circle cx="455.7" cy="574.9" r="5.0" fill="#d1190a"/><circle cx="455.7" cy="589.4" r="2.9" fill="#1a7ede"/><circle cx="455.7" cy="603.8" r="3.3" fill="#0a0ab4"/><circle cx="455.7" cy="618.2" r="3.5" fill="#f66a0e"/><circle cx="455.7" cy="632.7" r="3.8" fill="#f66a0e"/><circle cx="455.7" cy="647.1" r="3.5" fill="#1a7ede"/><circle cx="455.7" cy="661.6" r="3.1" fill="#1767d9"/><circle cx="455.7" cy="676.0" r="2.7" fill="#0f2dc4"/><circle cx="455.7" cy="690.5" r="2.9" fill="#b8e84c"/><circle cx="471.0" cy="546.0" r="4.4" fill="#b8e84c"/><circle cx="471.0" cy="560.5" r="3.8" fill="#f89010"/><circle cx="471.0" cy="574.9" r="4.2" fill="#f1560d"/><circle cx="471.0" cy="589.4" r="2.1" fill="#1a7ede"/><circle cx="471.0" cy="603.8" r="2.7" fill="#f8e010"/><circle cx="471.0" cy="618.2" r="3.1" fill="#f4620e"/><circle cx="471.0" cy="632.7" r="2.5" fill="#96e366"/><circle cx="471.0" cy="647.1" r="2.1" fill="#1a7ede"/><circle cx="471.0" cy="661.6" r="2.1" fill="#1a7ede"/><circle cx="471.0" cy="676.0" r="1.7" fill="#1b8de0"/><circle cx="471.0" cy="690.5" r="2.3" fill="#d0ec40"/><circle cx="486.4" cy="546.0" r="6.3" fill="#f66a0e"/><circle cx="486.4" cy="560.5" r="6.5" fill="#d8200a"/><circle cx="486.4" cy="574.9" r="6.3" fill="#d8200a"/><circle cx="486.4" cy="589.4" r="5.4" fill="#f8c013"/><circle cx="486.4" cy="603.8" r="5.8" fill="#f8a412"/><circle cx="486.4" cy="618.2" r="5.2" fill="#f77d0f"/><circle cx="486.4" cy="632.7" r="6.3" fill="#f8ac13"/><circle cx="486.4" cy="647.1" r="5.2" fill="#1a1a72"/><circle cx="486.4" cy="661.6" r="5.4" fill="#1a1a72"/><circle cx="486.4" cy="676.0" r="4.8" fill="#0a0ab4"/><circle cx="486.4" cy="690.5" r="5.0" fill="#27c4df"/><circle cx="501.8" cy="546.0" r="6.5" fill="#dc270a"/><circle cx="501.8" cy="560.5" r="6.5" fill="#e2310b"/><circle cx="501.8" cy="574.9" r="6.7" fill="#c00a0a"/><circle cx="501.8" cy="589.4" r="5.6" fill="#c6ea45"/><circle cx="501.8" cy="603.8" r="5.6" fill="#f8e010"/><circle cx="501.8" cy="618.2" r="4.6" fill="#b8e84c"/><circle cx="501.8" cy="632.7" r="5.6" fill="#b8e84c"/><circle cx="501.8" cy="647.1" r="5.6" fill="#1a1a72"/><circle cx="501.8" cy="661.6" r="5.8" fill="#151586"/><circle cx="501.8" cy="676.0" r="4.0" fill="#1a1a72"/><circle cx="501.8" cy="690.5" r="4.4" fill="#1c97e2"/><circle cx="517.2" cy="546.0" r="5.8" fill="#f8e010"/><circle cx="517.2" cy="560.5" r="6.3" fill="#f1560d"/><circle cx="517.2" cy="574.9" r="5.4" fill="#f7850f"/><circle cx="517.2" cy="589.4" r="6.3" fill="#f77d0f"/><circle cx="517.2" cy="603.8" r="5.8" fill="#f8d411"/><circle cx="517.2" cy="618.2" r="5.0" fill="#f66a0e"/><circle cx="517.2" cy="632.7" r="5.4" fill="#f8d411"/><circle cx="517.2" cy="647.1" r="3.5" fill="#0a0ab4"/><circle cx="517.2" cy="661.6" r="3.5" fill="#0a0ab4"/><circle cx="517.2" cy="676.0" r="4.6" fill="#1a7ede"/><circle cx="517.2" cy="690.5" r="4.4" fill="#23bce2"/><circle cx="532.6" cy="546.0" r="4.4" fill="#23bce2"/><circle cx="532.6" cy="560.5" r="5.0" fill="#f66a0e"/><circle cx="532.6" cy="574.9" r="4.0" fill="#f7850f"/><circle cx="532.6" cy="589.4" r="4.6" fill="#f8c413"/><circle cx="532.6" cy="603.8" r="4.2" fill="#30d8d8"/><circle cx="532.6" cy="618.2" r="3.1" fill="#f66a0e"/><circle cx="532.6" cy="632.7" r="2.7" fill="#2bccdc"/><circle cx="532.6" cy="647.1" r="2.1" fill="#1975dc"/><circle cx="532.6" cy="661.6" r="2.1" fill="#1a7ede"/><circle cx="532.6" cy="676.0" r="2.9" fill="#70e0a0"/><circle cx="532.6" cy="690.5" r="3.8" fill="#f8b814"/><circle cx="548.0" cy="546.0" r="5.6" fill="#f89010"/><circle cx="548.0" cy="560.5" r="6.3" fill="#f66a0e"/><circle cx="548.0" cy="574.9" r="5.8" fill="#f66a0e"/><circle cx="548.0" cy="589.4" r="5.4" fill="#f8e010"/><circle cx="548.0" cy="603.8" r="5.8" fill="#f88810"/><circle cx="548.0" cy="618.2" r="4.2" fill="#f8a412"/><circle cx="548.0" cy="632.7" r="4.4" fill="#22b8e3"/><circle cx="548.0" cy="647.1" r="3.5" fill="#0a0ab4"/><circle cx="548.0" cy="661.6" r="3.5" fill="#0d1fbe"/><circle cx="548.0" cy="676.0" r="4.2" fill="#1b88e0"/><circle cx="548.0" cy="690.5" r="4.0" fill="#f8c013"/><circle cx="563.3" cy="546.0" r="3.5" fill="#1b8de0"/><circle cx="563.3" cy="560.5" r="5.2" fill="#c7110a"/><circle cx="563.3" cy="574.9" r="3.5" fill="#f77d0f"/><circle cx="563.3" cy="589.4" r="3.8" fill="#29c8de"/><circle cx="563.3" cy="603.8" r="3.5" fill="#b8e84c"/><circle cx="563.3" cy="618.2" r="3.3" fill="#f66a0e"/><circle cx="563.3" cy="632.7" r="2.9" fill="#1eb0e6"/><circle cx="563.3" cy="647.1" r="2.3" fill="#1975dc"/><circle cx="563.3" cy="661.6" r="2.1" fill="#0d1fbe"/><circle cx="563.3" cy="676.0" r="2.9" fill="#1b8de0"/><circle cx="563.3" cy="690.5" r="3.3" fill="#f66a0e"/><circle cx="578.7" cy="546.0" r="4.8" fill="#30d8d8"/><circle cx="578.7" cy="560.5" r="5.8" fill="#c00a0a"/><circle cx="578.7" cy="574.9" r="4.2" fill="#f77d0f"/><circle cx="578.7" cy="589.4" r="3.1" fill="#f8b814"/><circle cx="578.7" cy="603.8" r="4.6" fill="#f66a0e"/><circle cx="578.7" cy="618.2" r="2.3" fill="#96e366"/><circle cx="578.7" cy="632.7" r="3.1" fill="#2cd0db"/><circle cx="578.7" cy="647.1" r="2.1" fill="#1975dc"/><circle cx="578.7" cy="661.6" r="2.1" fill="#0f2dc4"/><circle cx="578.7" cy="676.0" r="1.9" fill="#0a0ab4"/><circle cx="578.7" cy="690.5" r="2.5" fill="#f8a412"/><circle cx="594.1" cy="546.0" r="6.7" fill="#f4620e"/><circle cx="594.1" cy="560.5" r="6.5" fill="#f4620e"/><circle cx="594.1" cy="574.9" r="6.5" fill="#f4620e"/><circle cx="594.1" cy="589.4" r="6.5" fill="#f4620e"/><circle cx="594.1" cy="603.8" r="6.7" fill="#f4620e"/><circle cx="594.1" cy="618.2" r="4.4" fill="#96e366"/><circle cx="594.1" cy="632.7" r="4.2" fill="#1da6e4"/><circle cx="594.1" cy="647.1" r="3.5" fill="#1a1a72"/><circle cx="594.1" cy="661.6" r="3.8" fill="#151586"/><circle cx="594.1" cy="676.0" r="5.0" fill="#1767d9"/><circle cx="594.1" cy="690.5" r="5.0" fill="#1767d9"/>
<line x1="46.7" y1="537" x2="46.7" y2="699.7" stroke="#1a1a1a" stroke-width="1.35"/>
<line x1="46.1" y1="699" x2="603.5" y2="699" stroke="#1a1a1a" stroke-width="1.35"/>
<line x1="40.4" y1="690.5" x2="46.7" y2="690.5" stroke="#1a1a1a" stroke-width="1.2"/>
<text x="35.5" y="694.9" font-size="12.5" text-anchor="end">1</text>
<line x1="40.4" y1="676" x2="46.7" y2="676" stroke="#1a1a1a" stroke-width="1.2"/>
<text x="35.5" y="680.4" font-size="12.5" text-anchor="end">2</text>
<line x1="40.4" y1="661.6" x2="46.7" y2="661.6" stroke="#1a1a1a" stroke-width="1.2"/>
<text x="35.5" y="666" font-size="12.5" text-anchor="end">3</text>
<line x1="40.4" y1="647.1" x2="46.7" y2="647.1" stroke="#1a1a1a" stroke-width="1.2"/>
<text x="35.5" y="651.5" font-size="12.5" text-anchor="end">4</text>
<line x1="40.4" y1="632.7" x2="46.7" y2="632.7" stroke="#1a1a1a" stroke-width="1.2"/>
<text x="35.5" y="637.1" font-size="12.5" text-anchor="end">5</text>
<line x1="40.4" y1="618.2" x2="46.7" y2="618.2" stroke="#1a1a1a" stroke-width="1.2"/>
<text x="35.5" y="622.6" font-size="12.5" text-anchor="end">6</text>
<line x1="40.4" y1="603.8" x2="46.7" y2="603.8" stroke="#1a1a1a" stroke-width="1.2"/>
<text x="35.5" y="608.2" font-size="12.5" text-anchor="end">7</text>
<line x1="40.4" y1="589.4" x2="46.7" y2="589.4" stroke="#1a1a1a" stroke-width="1.2"/>
<text x="35.5" y="593.8" font-size="12.5" text-anchor="end">8</text>
<line x1="40.4" y1="574.9" x2="46.7" y2="574.9" stroke="#1a1a1a" stroke-width="1.2"/>
<text x="35.5" y="579.3" font-size="12.5" text-anchor="end">9</text>
<line x1="40.4" y1="560.5" x2="46.7" y2="560.5" stroke="#1a1a1a" stroke-width="1.2"/>
<text x="35.5" y="564.9" font-size="12.5" text-anchor="end">10</text>
<line x1="40.4" y1="546" x2="46.7" y2="546" stroke="#1a1a1a" stroke-width="1.2"/>
<text x="35.5" y="550.4" font-size="12.5" text-anchor="end">11</text>
<text transform="translate(14.9,614.5) rotate(-90)" font-size="18.5" text-anchor="middle">Cluster</text>
<line x1="55.7" y1="699" x2="55.7" y2="703" stroke="#1a1a1a" stroke-width="1.2"/>
<text transform="translate(59.9,705) rotate(-90)" font-size="15" text-anchor="end" font-style="italic">Cd3d</text>
<line x1="71.1" y1="699" x2="71.1" y2="703" stroke="#1a1a1a" stroke-width="1.2"/>
<text transform="translate(75.3,705) rotate(-90)" font-size="15" text-anchor="end" font-style="italic">Ms4a4b</text>
<line x1="86.5" y1="699" x2="86.5" y2="703" stroke="#1a1a1a" stroke-width="1.2"/>
<text transform="translate(90.7,705) rotate(-90)" font-size="15" text-anchor="end" font-style="italic">Ccl5</text>
<line x1="101.8" y1="699" x2="101.8" y2="703" stroke="#1a1a1a" stroke-width="1.2"/>
<text transform="translate(106,705) rotate(-90)" font-size="15" text-anchor="end" font-style="italic">Blk</text>
<line x1="117.2" y1="699" x2="117.2" y2="703" stroke="#1a1a1a" stroke-width="1.2"/>
<text transform="translate(121.4,705) rotate(-90)" font-size="15" text-anchor="end" font-style="italic">Sepp1</text>
<line x1="132.6" y1="699" x2="132.6" y2="703" stroke="#1a1a1a" stroke-width="1.2"/>
<text transform="translate(136.8,705) rotate(-90)" font-size="15" text-anchor="end" font-style="italic">Cd3g</text>
<line x1="148" y1="699" x2="148" y2="703" stroke="#1a1a1a" stroke-width="1.2"/>
<text transform="translate(152.2,705) rotate(-90)" font-size="15" text-anchor="end" font-style="italic">Lpcat2</text>
<line x1="163.4" y1="699" x2="163.4" y2="703" stroke="#1a1a1a" stroke-width="1.2"/>
<text transform="translate(167.6,705) rotate(-90)" font-size="15" text-anchor="end" font-style="italic">Cxcl2</text>
<line x1="178.8" y1="699" x2="178.8" y2="703" stroke="#1a1a1a" stroke-width="1.2"/>
<text transform="translate(183,705) rotate(-90)" font-size="15" text-anchor="end" font-style="italic">Gata3</text>
<line x1="194.1" y1="699" x2="194.1" y2="703" stroke="#1a1a1a" stroke-width="1.2"/>
<text transform="translate(198.3,705) rotate(-90)" font-size="15" text-anchor="end" font-style="italic">Sema4a</text>
<line x1="209.5" y1="699" x2="209.5" y2="703" stroke="#1a1a1a" stroke-width="1.2"/>
<text transform="translate(213.7,705) rotate(-90)" font-size="15" text-anchor="end" font-style="italic">Dgat2</text>
<line x1="224.9" y1="699" x2="224.9" y2="703" stroke="#1a1a1a" stroke-width="1.2"/>
<text transform="translate(229.1,705) rotate(-90)" font-size="15" text-anchor="end" font-style="italic">Stab2</text>
<line x1="240.3" y1="699" x2="240.3" y2="703" stroke="#1a1a1a" stroke-width="1.2"/>
<text transform="translate(244.5,705) rotate(-90)" font-size="15" text-anchor="end" font-style="italic">Tph1</text>
<line x1="255.7" y1="699" x2="255.7" y2="703" stroke="#1a1a1a" stroke-width="1.2"/>
<text transform="translate(259.9,705) rotate(-90)" font-size="15" text-anchor="end" font-style="italic">Cd81</text>
<line x1="271.1" y1="699" x2="271.1" y2="703" stroke="#1a1a1a" stroke-width="1.2"/>
<text transform="translate(275.3,705) rotate(-90)" font-size="15" text-anchor="end" font-style="italic">Fcer1g</text>
<line x1="286.4" y1="699" x2="286.4" y2="703" stroke="#1a1a1a" stroke-width="1.2"/>
<text transform="translate(290.6,705) rotate(-90)" font-size="15" text-anchor="end" font-style="italic">Btg2</text>
<line x1="301.8" y1="699" x2="301.8" y2="703" stroke="#1a1a1a" stroke-width="1.2"/>
<text transform="translate(306,705) rotate(-90)" font-size="15" text-anchor="end" font-style="italic">Zfp36</text>
<line x1="317.2" y1="699" x2="317.2" y2="703" stroke="#1a1a1a" stroke-width="1.2"/>
<text transform="translate(321.4,705) rotate(-90)" font-size="15" text-anchor="end" font-style="italic">Lilrb4a</text>
<line x1="332.6" y1="699" x2="332.6" y2="703" stroke="#1a1a1a" stroke-width="1.2"/>
<text transform="translate(336.8,705) rotate(-90)" font-size="15" text-anchor="end" font-style="italic">Cd48</text>
<line x1="348" y1="699" x2="348" y2="703" stroke="#1a1a1a" stroke-width="1.2"/>
<text transform="translate(352.2,705) rotate(-90)" font-size="15" text-anchor="end" font-style="italic">H2&#8211;Aa</text>
<line x1="363.4" y1="699" x2="363.4" y2="703" stroke="#1a1a1a" stroke-width="1.2"/>
<text transform="translate(367.6,705) rotate(-90)" font-size="15" text-anchor="end" font-style="italic">Cd74</text>
<line x1="378.7" y1="699" x2="378.7" y2="703" stroke="#1a1a1a" stroke-width="1.2"/>
<text transform="translate(382.9,705) rotate(-90)" font-size="15" text-anchor="end" font-style="italic">Tff1</text>
<line x1="394.1" y1="699" x2="394.1" y2="703" stroke="#1a1a1a" stroke-width="1.2"/>
<text transform="translate(398.3,705) rotate(-90)" font-size="15" text-anchor="end" font-style="italic">Ctla4</text>
<line x1="409.5" y1="699" x2="409.5" y2="703" stroke="#1a1a1a" stroke-width="1.2"/>
<text transform="translate(413.7,705) rotate(-90)" font-size="15" text-anchor="end" font-style="italic">Il6</text>
<line x1="424.9" y1="699" x2="424.9" y2="703" stroke="#1a1a1a" stroke-width="1.2"/>
<text transform="translate(429.1,705) rotate(-90)" font-size="15" text-anchor="end" font-style="italic">Il13</text>
<line x1="440.3" y1="699" x2="440.3" y2="703" stroke="#1a1a1a" stroke-width="1.2"/>
<text transform="translate(444.5,705) rotate(-90)" font-size="15" text-anchor="end" font-style="italic">Klrg1</text>
<line x1="455.7" y1="699" x2="455.7" y2="703" stroke="#1a1a1a" stroke-width="1.2"/>
<text transform="translate(459.9,705) rotate(-90)" font-size="15" text-anchor="end" font-style="italic">Calca</text>
<line x1="471" y1="699" x2="471" y2="703" stroke="#1a1a1a" stroke-width="1.2"/>
<text transform="translate(475.2,705) rotate(-90)" font-size="15" text-anchor="end" font-style="italic">Igfbp7</text>
<line x1="486.4" y1="699" x2="486.4" y2="703" stroke="#1a1a1a" stroke-width="1.2"/>
<text transform="translate(490.6,705) rotate(-90)" font-size="15" text-anchor="end" font-style="italic">Ly6a</text>
<line x1="501.8" y1="699" x2="501.8" y2="703" stroke="#1a1a1a" stroke-width="1.2"/>
<text transform="translate(506,705) rotate(-90)" font-size="15" text-anchor="end" font-style="italic">Arg1</text>
<line x1="517.2" y1="699" x2="517.2" y2="703" stroke="#1a1a1a" stroke-width="1.2"/>
<text transform="translate(521.4,705) rotate(-90)" font-size="15" text-anchor="end" font-style="italic">Batf</text>
<line x1="532.6" y1="699" x2="532.6" y2="703" stroke="#1a1a1a" stroke-width="1.2"/>
<text transform="translate(536.8,705) rotate(-90)" font-size="15" text-anchor="end" font-style="italic">Phf11b</text>
<line x1="548" y1="699" x2="548" y2="703" stroke="#1a1a1a" stroke-width="1.2"/>
<text transform="translate(552.2,705) rotate(-90)" font-size="15" text-anchor="end" font-style="italic">Lgals3bp</text>
<line x1="563.3" y1="699" x2="563.3" y2="703" stroke="#1a1a1a" stroke-width="1.2"/>
<text transform="translate(567.5,705) rotate(-90)" font-size="15" text-anchor="end" font-style="italic">Isg15</text>
<line x1="578.7" y1="699" x2="578.7" y2="703" stroke="#1a1a1a" stroke-width="1.2"/>
<text transform="translate(582.9,705) rotate(-90)" font-size="15" text-anchor="end" font-style="italic">Ifitm3</text>
<line x1="594.1" y1="699" x2="594.1" y2="703" stroke="#1a1a1a" stroke-width="1.2"/>
<text transform="translate(598.3,705) rotate(-90)" font-size="15" text-anchor="end" font-style="italic">Anxa2</text>
<text x="609.4" y="546.4" font-size="15" text-anchor="start">Fraction</text>
<text x="609.4" y="561.2" font-size="15" text-anchor="start">expressing</text>
<circle cx="620.2" cy="572.8" r="1.5" fill="#000"/>
<text x="634.4" y="577.1" font-size="13.4" text-anchor="start">0.00</text>
<circle cx="620.2" cy="586.9" r="5.1" fill="#000"/>
<text x="634.4" y="595.1" font-size="13.4" text-anchor="start">0.25</text>
<circle cx="620.2" cy="605.0" r="6.9" fill="#000"/>
<text x="634.4" y="612.7" font-size="13.4" text-anchor="start">0.50</text>
<circle cx="620.2" cy="625.3" r="8.1" fill="#000"/>
<text x="634.4" y="630.4" font-size="13.4" text-anchor="start">0.75</text>
<text x="611" y="656.6" font-size="14.8" text-anchor="start">Expression</text>
<defs><linearGradient id="cbg" x1="0" y1="0" x2="0" y2="1"><stop offset="0.0" stop-color="#b80808"/><stop offset="0.05" stop-color="#cc0e0a"/><stop offset="0.1" stop-color="#dc1c0c"/><stop offset="0.2" stop-color="#ea380c"/><stop offset="0.3" stop-color="#f45a0e"/><stop offset="0.4" stop-color="#f87010"/><stop offset="0.47" stop-color="#f88a10"/><stop offset="0.51" stop-color="#f8a810"/><stop offset="0.535" stop-color="#f4d018"/><stop offset="0.56" stop-color="#d8e630"/><stop offset="0.58" stop-color="#a0e070"/><stop offset="0.6" stop-color="#50d0c0"/><stop offset="0.63" stop-color="#20bce4"/><stop offset="0.68" stop-color="#1ca0e8"/><stop offset="0.74" stop-color="#1870e0"/><stop offset="0.8" stop-color="#1040d0"/><stop offset="0.86" stop-color="#0a14b0"/><stop offset="0.93" stop-color="#0c0c90"/><stop offset="1.0" stop-color="#1a1a70"/></linearGradient></defs><rect x="612.6" y="664.3" width="12.8" height="74.6" fill="url(#cbg)" stroke="#111" stroke-width="0.9"/>
<line x1="625.4" y1="669.2" x2="628" y2="669.2" stroke="#1a1a1a" stroke-width="1.1"/>
<text x="631.6" y="673.9" font-size="13.3" text-anchor="start">1.0</text>
<line x1="625.4" y1="687.9" x2="628" y2="687.9" stroke="#1a1a1a" stroke-width="1.1"/>
<text x="631.6" y="692.6" font-size="13.3" text-anchor="start">0.5</text>
<line x1="625.4" y1="706.6" x2="628" y2="706.6" stroke="#1a1a1a" stroke-width="1.1"/>
<text x="631.6" y="711.3" font-size="13.3" text-anchor="start">0.0</text>
<line x1="625.4" y1="725.4" x2="628" y2="725.4" stroke="#1a1a1a" stroke-width="1.1"/>
<text x="629.6" y="730.1" font-size="13.3" text-anchor="start">&#8722;0.5</text>
</svg></body></html>
